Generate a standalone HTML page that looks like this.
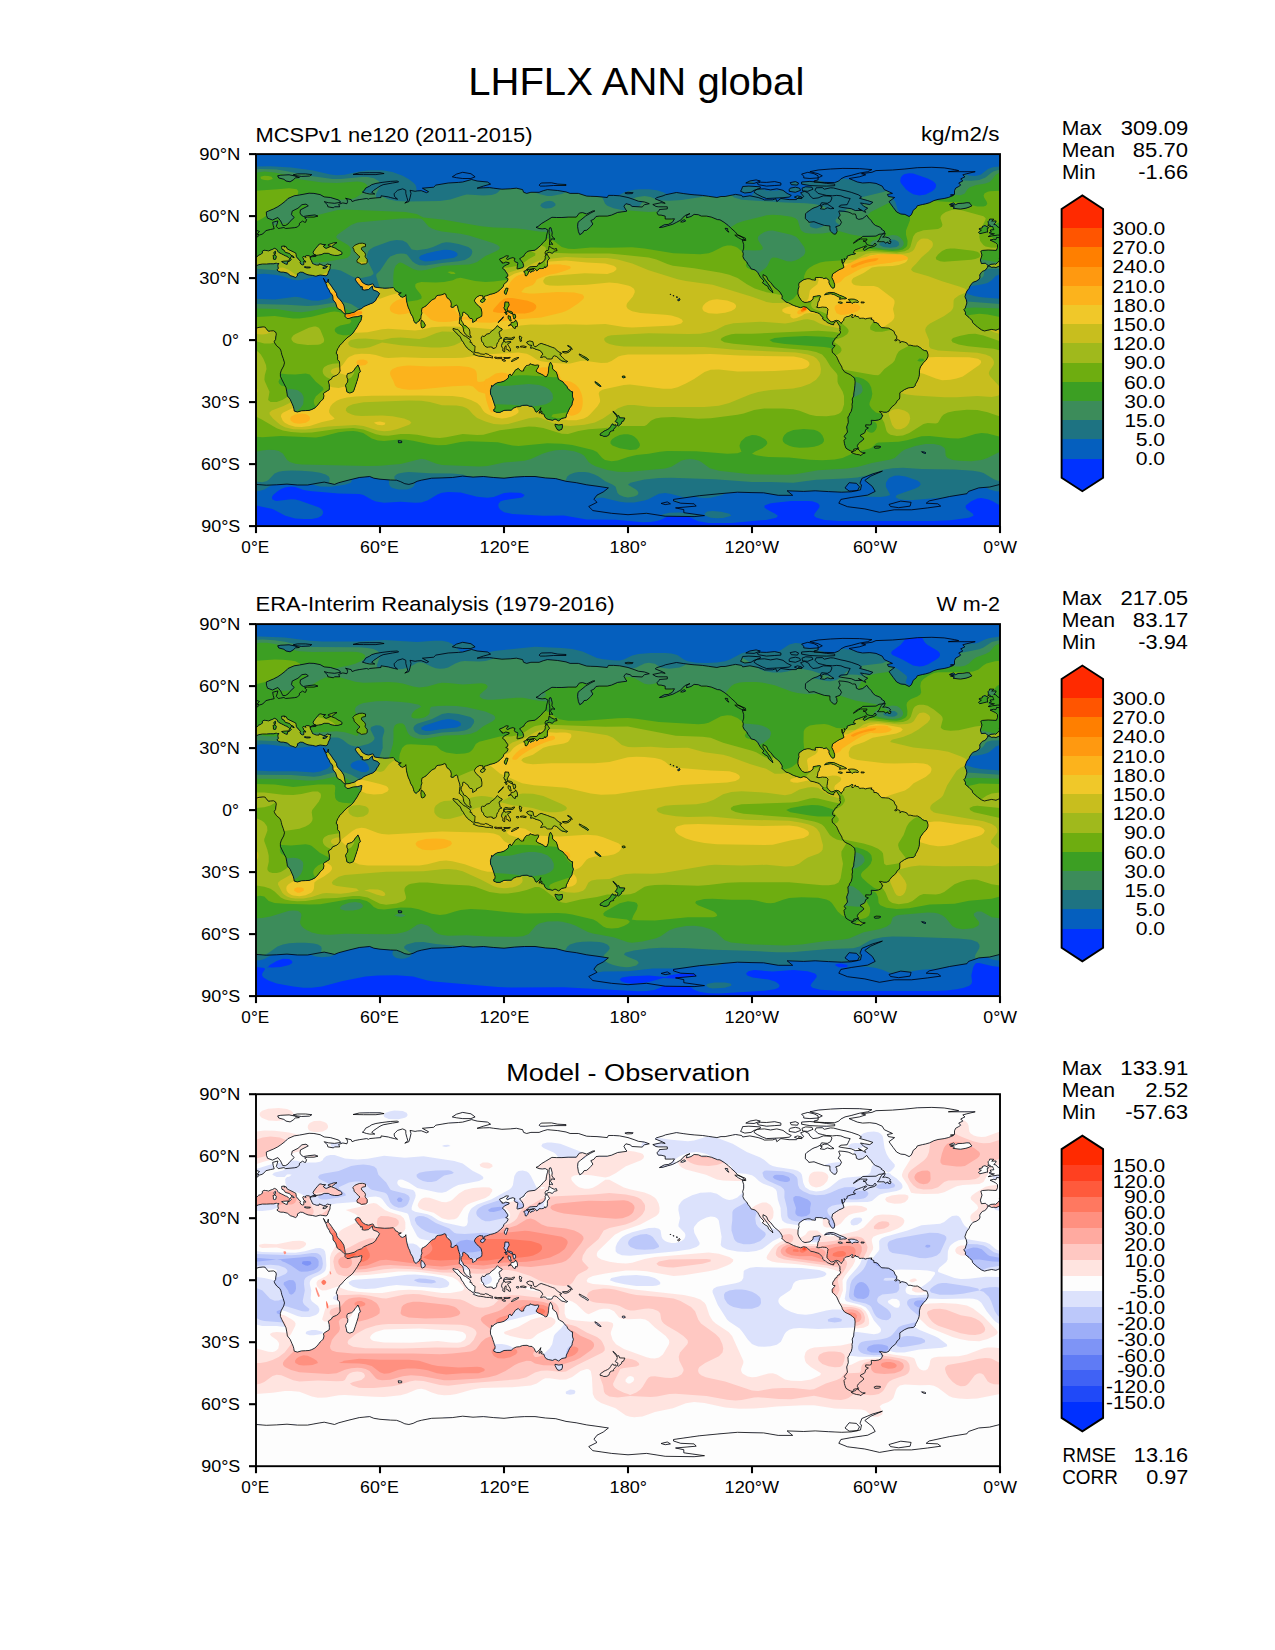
<!DOCTYPE html>
<html><head><meta charset="utf-8"><title>LHFLX ANN global</title>
<style>html,body{margin:0;padding:0;background:#fff}body{width:1275px;height:1650px;overflow:hidden}svg{display:block}text{font-family:"Liberation Sans",sans-serif}</style></head>
<body>
<svg width="1275" height="1650" viewBox="0 0 1275 1650">
<rect width="1275" height="1650" fill="#fff"/>
<defs></defs>
<clipPath id="axc0"><rect x="256.00" y="154.10" width="744.00" height="372.00"/></clipPath>
<g clip-path="url(#axc0)"><g transform="translate(256.00 154.10)">
<clipPath id="land"><path d="M66.8 121.3 64.1 120.9 62.0 121.5 59.9 122.1 56.4 121.3 52.1 120.7 49.6 119.7 46.7 118.2 44.4 118.0 41.5 119.7 41.3 121.9 39.7 123.4 36.8 122.3 34.3 121.5 31.4 119.0 27.3 118.0 24.8 118.0 22.9 117.4 20.9 115.9 22.3 114.3 21.9 112.0 21.9 110.8 22.9 109.3 21.3 109.7 20.5 108.9 17.8 109.7 16.1 109.7 14.3 109.7 10.5 109.9 6.4 109.9 2.7 110.6 -1.2 112.2 -4.1 113.5 -6.0 113.0 -8.3 113.3 -11.0 111.8 -12.2 112.0 -12.8 113.7 -14.1 115.5 -15.7 116.6 -17.6 117.2 -19.0 118.8 -20.3 120.9 -20.0 123.0 -20.7 125.0 -23.8 127.1 -26.9 128.1 -27.9 129.2 -30.0 131.9 -31.0 134.3 -33.1 137.0 -34.1 139.5 -35.1 142.6 -33.7 145.7 -33.1 148.8 -34.1 151.9 -34.7 154.0 -36.2 155.6 -34.5 158.1 -34.7 160.2 -33.1 161.6 -31.0 163.3 -30.0 164.3 -27.9 166.4 -27.3 168.4 -24.8 170.9 -22.3 173.0 -18.6 175.7 -15.5 176.9 -12.4 176.1 -8.3 175.3 -6.2 175.7 -4.1 176.1 -2.1 175.3 0.0 174.2 3.1 173.2 7.0 172.8 9.1 173.0 10.3 174.6 12.4 177.1 14.5 176.9 17.6 176.7 19.6 177.9 20.3 179.8 19.8 182.9 19.6 185.4 18.2 187.4 18.6 188.7 20.7 191.8 23.8 194.3 24.8 196.3 25.4 198.4 25.8 200.5 27.3 204.6 28.5 208.7 27.7 211.8 25.4 216.0 24.4 219.1 24.4 222.2 25.8 225.3 27.9 229.4 30.0 233.5 30.8 237.7 31.4 241.8 34.1 245.1 35.8 249.0 37.2 252.1 37.8 254.2 38.2 256.9 41.3 257.9 45.5 256.7 49.6 256.5 53.1 256.3 55.8 255.4 58.9 253.8 62.0 250.7 64.1 247.8 65.1 247.0 67.2 244.9 68.0 241.8 67.4 239.7 68.2 238.7 73.2 235.6 73.4 233.5 73.2 230.4 72.3 226.9 75.4 224.9 76.5 222.8 80.6 221.1 82.7 219.5 84.1 217.0 83.9 214.9 83.7 210.8 83.5 207.7 81.6 205.6 81.6 202.5 81.2 200.1 80.2 199.4 80.6 197.4 81.8 194.5 82.7 193.2 83.7 191.2 85.8 189.5 87.8 187.0 90.9 183.9 93.6 181.9 95.1 180.8 97.1 178.8 99.2 175.7 101.3 172.6 102.9 169.5 105.0 166.4 105.4 164.3 106.0 161.6 105.4 161.4 101.3 162.6 97.1 162.9 93.0 164.3 90.9 164.3 88.9 162.2 89.3 160.2 87.8 159.1 84.7 156.0 82.7 155.0 81.2 153.8 79.6 148.8 77.1 145.7 76.9 142.6 76.1 140.5 74.0 138.5 73.4 136.4 71.3 133.3 70.3 130.2 69.2 128.1 67.4 124.2Z M810.8 121.3 808.1 120.9 806.0 121.5 803.9 122.1 800.4 121.3 796.1 120.7 793.6 119.7 790.7 118.2 788.4 118.0 785.5 119.7 785.3 121.9 783.7 123.4 780.8 122.3 778.3 121.5 775.4 119.0 771.3 118.0 768.8 118.0 766.9 117.4 764.9 115.9 766.3 114.3 765.9 112.0 765.9 110.8 766.9 109.3 765.3 109.7 764.5 108.9 761.8 109.7 760.1 109.7 758.3 109.7 754.5 109.9 750.4 109.9 746.7 110.6 742.8 112.2 739.9 113.5 738.0 113.0 735.7 113.3 733.0 111.8 731.8 112.0 731.2 113.7 729.9 115.5 728.3 116.6 726.4 117.2 725.0 118.8 723.7 120.9 724.0 123.0 723.3 125.0 720.2 127.1 717.1 128.1 716.1 129.2 714.0 131.9 713.0 134.3 710.9 137.0 709.9 139.5 708.9 142.6 710.3 145.7 710.9 148.8 709.9 151.9 709.3 154.0 707.8 155.6 709.5 158.1 709.3 160.2 710.9 161.6 713.0 163.3 714.0 164.3 716.1 166.4 716.7 168.4 719.2 170.9 721.7 173.0 725.4 175.7 728.5 176.9 731.6 176.1 735.7 175.3 737.8 175.7 739.9 176.1 741.9 175.3 744.0 174.2 747.1 173.2 751.0 172.8 753.1 173.0 754.3 174.6 756.4 177.1 758.5 176.9 761.6 176.7 763.6 177.9 764.3 179.8 763.8 182.9 763.6 185.4 762.2 187.4 762.6 188.7 764.7 191.8 767.8 194.3 768.8 196.3 769.4 198.4 769.8 200.5 771.3 204.6 772.5 208.7 771.7 211.8 769.4 216.0 768.4 219.1 768.4 222.2 769.8 225.3 771.9 229.4 774.0 233.5 774.8 237.7 775.4 241.8 778.1 245.1 779.8 249.0 781.2 252.1 781.8 254.2 782.2 256.9 785.3 257.9 789.5 256.7 793.6 256.5 797.1 256.3 799.8 255.4 802.9 253.8 806.0 250.7 808.1 247.8 809.1 247.0 811.2 244.9 812.0 241.8 811.4 239.7 812.2 238.7 817.2 235.6 817.4 233.5 817.2 230.4 816.3 226.9 819.4 224.9 820.5 222.8 824.6 221.1 826.7 219.5 828.1 217.0 827.9 214.9 827.7 210.8 827.5 207.7 825.6 205.6 825.6 202.5 825.2 200.1 824.2 199.4 824.6 197.4 825.8 194.5 826.7 193.2 827.7 191.2 829.8 189.5 831.8 187.0 834.9 183.9 837.6 181.9 839.1 180.8 841.1 178.8 843.2 175.7 845.3 172.6 846.9 169.5 849.0 166.4 849.4 164.3 850.0 161.6 849.4 161.4 845.3 162.6 841.1 162.9 837.0 164.3 834.9 164.3 832.9 162.2 833.3 160.2 831.8 159.1 828.7 156.0 826.7 155.0 825.2 153.8 823.6 148.8 821.1 145.7 820.9 142.6 820.1 140.5 818.0 138.5 817.4 136.4 815.3 133.3 814.3 130.2 813.2 128.1 811.4 124.2Z M67.4 124.2 68.2 125.4 69.2 127.3 70.7 128.8 71.1 128.1 71.7 127.1 72.3 125.0 72.3 128.1 73.4 129.2 75.6 132.3 76.9 134.3 78.5 136.4 80.6 139.5 80.8 141.6 82.0 143.6 84.1 145.7 85.8 147.8 87.8 150.9 88.0 151.9 88.5 154.0 88.7 155.4 89.3 158.5 89.9 159.8 93.0 159.5 98.2 158.1 101.5 156.0 102.3 155.6 105.4 154.6 107.9 152.5 111.6 150.9 114.1 149.8 116.8 148.8 119.2 146.9 119.5 146.7 120.9 143.8 121.9 142.6 123.6 139.5 121.1 137.2 117.4 136.0 116.6 134.3 116.4 131.9 114.3 133.7 112.6 135.4 108.5 136.0 106.0 135.4 106.6 133.7 105.8 132.1 105.0 133.3 103.7 131.2 102.3 129.8 100.2 127.1 99.2 125.0 100.2 124.0 101.3 123.2 103.3 123.6 105.0 126.1 106.4 128.3 109.5 130.2 112.6 131.0 116.4 129.8 117.4 130.2 118.4 132.9 121.9 133.5 126.1 133.9 128.8 134.1 133.3 133.9 137.4 133.5 138.5 134.7 139.5 136.6 141.6 137.4 142.6 138.9 145.3 138.7 142.6 139.9 143.8 141.4 144.7 142.6 146.7 143.2 149.2 142.0 149.8 140.5 150.0 142.2 150.2 143.6 150.5 146.7 151.5 150.9 152.5 154.0 153.6 156.0 154.6 159.3 156.7 162.6 157.5 165.3 158.1 167.6 160.2 169.3 161.6 167.6 163.3 166.8 163.7 164.9 165.1 164.7 164.9 164.5 165.1 161.2 166.0 158.9 165.5 157.1 166.0 154.0 167.8 153.1 170.1 151.7 172.2 149.4 175.7 146.1 177.3 145.1 178.8 144.7 179.8 143.0 180.8 141.6 182.3 141.2 185.0 140.9 187.0 140.3 188.1 139.5 189.7 139.9 190.5 142.6 191.8 144.3 193.2 145.1 194.7 147.1 195.3 149.8 194.9 152.9 197.0 153.3 198.8 151.7 200.3 150.9 201.7 151.9 201.7 152.5 202.1 155.0 202.9 157.5 203.8 160.2 204.0 162.2 203.8 164.9 203.4 167.4 203.2 169.5 203.6 169.5 205.2 170.9 206.9 172.6 207.3 174.6 207.9 177.7 209.4 180.0 211.4 181.7 213.7 183.1 215.3 183.1 213.9 180.6 213.9 177.7 213.3 175.3 211.4 173.2 210.2 171.9 207.7 170.9 206.7 168.4 205.6 167.0 205.0 165.3 205.2 163.3 206.7 161.2 206.7 158.5 207.7 158.1 208.5 158.3 210.4 159.8 211.8 160.8 212.9 162.9 214.1 164.3 216.0 164.5 216.8 165.7 216.6 168.2 217.6 168.0 220.3 166.2 220.7 164.5 221.1 164.5 223.6 163.3 225.7 162.0 225.9 160.2 225.9 158.1 225.1 154.6 223.8 152.9 222.4 151.9 220.1 149.4 218.7 147.4 218.4 146.7 219.1 144.9 220.7 143.0 223.6 141.4 225.5 141.6 226.7 141.6 227.1 144.0 228.0 144.0 228.4 142.2 230.6 141.6 232.5 140.9 234.6 140.1 236.0 139.9 238.7 139.1 241.4 137.8 244.3 135.4 245.9 133.9 247.2 132.3 248.0 130.2 250.1 128.1 251.3 127.1 252.1 125.0 251.7 124.2 249.7 123.4 250.7 122.8 251.9 121.9 251.7 120.3 249.9 117.8 248.6 115.7 246.6 114.3 247.0 113.3 248.6 111.6 253.0 109.7 253.2 108.7 249.7 107.9 248.0 108.9 245.9 108.9 246.3 107.9 244.9 107.5 243.5 105.0 247.2 103.5 250.1 101.7 252.5 101.9 252.1 102.3 250.5 104.4 251.3 105.6 254.2 104.2 256.9 103.5 259.0 104.4 258.3 106.4 259.4 107.9 261.6 108.5 261.8 109.5 261.4 111.6 261.0 114.1 261.4 114.9 264.5 114.1 266.8 113.5 267.6 111.6 267.0 109.1 265.2 106.4 263.5 104.8 265.6 103.3 268.0 101.7 268.7 100.2 270.1 98.6 270.7 98.0 272.8 96.9 279.0 96.1 282.1 93.6 285.2 90.9 287.3 88.2 290.0 85.8 290.4 82.7 291.0 79.6 291.4 78.5 292.0 76.1 289.3 74.4 286.2 74.8 283.1 74.4 280.0 73.2 282.1 72.3 285.6 69.4 289.3 67.2 295.9 63.2 300.7 63.4 305.9 63.4 312.1 63.0 320.3 63.0 323.4 58.9 326.5 58.5 330.7 59.9 336.9 56.8 338.9 56.8 334.8 58.9 329.6 62.0 324.5 66.1 322.0 68.2 321.6 72.3 322.4 77.5 323.8 80.6 326.5 78.9 328.0 76.5 330.7 76.1 333.8 73.4 334.8 72.3 336.9 69.9 334.8 66.5 337.9 65.1 340.0 62.4 343.1 62.0 351.3 62.0 355.5 61.0 361.7 58.3 370.3 57.2 371.0 56.8 369.9 55.8 367.9 52.1 369.9 49.6 374.1 50.6 376.1 52.3 386.1 52.9 388.5 50.6 393.3 49.6 388.5 47.9 382.3 47.1 378.2 45.5 372.0 43.4 363.7 41.7 357.5 41.3 352.4 41.3 351.3 43.4 341.0 42.4 334.8 42.2 330.7 42.0 322.4 39.3 314.1 39.3 310.0 37.8 301.7 36.4 291.4 35.5 287.3 36.6 283.1 38.2 274.9 38.2 270.7 39.3 267.6 38.2 266.6 35.5 260.4 34.1 254.2 34.7 245.9 35.1 237.7 34.1 233.5 33.5 227.3 33.7 221.1 34.1 227.3 32.0 234.6 30.0 231.5 27.9 221.1 26.9 215.6 25.4 206.7 27.9 202.5 28.3 192.2 28.9 179.8 31.0 177.7 33.1 166.4 34.1 172.6 37.6 170.5 38.6 165.3 36.6 161.2 36.8 159.1 37.2 154.0 36.2 155.0 39.3 154.0 43.8 152.9 47.5 148.8 49.0 151.9 46.5 150.9 43.4 149.8 39.3 149.8 36.2 146.7 34.7 141.6 36.2 139.5 38.2 138.1 39.7 138.5 42.4 141.6 45.1 138.5 44.4 134.3 43.4 132.3 42.8 125.0 41.7 125.0 43.4 119.9 43.8 113.7 44.4 112.6 45.1 110.6 44.4 103.3 45.5 99.2 46.3 96.1 47.5 95.1 45.5 89.5 44.2 90.9 44.8 91.6 47.5 90.9 49.6 86.8 48.8 82.7 50.2 83.7 52.7 78.5 52.7 77.5 53.7 71.9 52.7 71.3 50.6 68.2 47.5 72.3 48.6 78.5 49.2 84.7 48.2 82.7 45.9 74.4 43.4 68.2 42.8 64.1 40.5 57.9 39.3 53.1 39.1 43.4 40.9 38.2 41.7 32.0 44.4 29.6 46.9 24.8 50.6 21.7 52.7 17.6 54.8 12.8 56.8 10.3 57.9 10.5 61.2 11.6 64.1 16.5 65.9 21.9 63.4 24.6 66.8 26.7 71.3 29.3 71.5 32.0 69.9 34.1 67.2 38.2 63.4 35.5 60.6 36.2 57.0 42.0 54.1 45.9 50.6 50.0 50.0 52.3 51.7 44.4 55.8 44.0 58.9 45.5 61.2 47.5 62.4 51.7 61.6 58.9 60.8 62.0 62.0 57.9 63.0 51.3 63.0 48.6 63.7 50.6 65.5 49.6 68.2 48.6 68.2 46.5 67.0 43.4 69.2 43.4 70.9 41.3 73.0 38.4 73.6 29.6 74.4 27.9 73.4 24.8 74.0 22.3 74.4 20.3 72.3 21.3 69.2 21.9 66.8 16.7 68.2 17.2 71.3 18.2 74.6 14.5 75.4 9.9 76.5 8.3 78.5 6.0 80.2 3.7 80.8 0.2 83.7 -3.3 83.3 -4.1 85.6 -6.2 85.1 -9.9 86.0 -4.5 88.5 -2.5 90.5 -2.5 93.6 -3.7 96.3 -7.9 96.1 -11.8 95.9 -17.4 96.3 -19.2 97.1 -18.0 100.9 -19.6 106.0 -18.6 109.5 -14.5 109.1 -13.0 110.6 -11.6 111.6 -11.2 111.4 -9.1 110.2 -5.2 109.9 -4.5 110.2 -2.1 108.3 -1.0 106.8 0.4 106.0 -0.6 104.4 1.7 101.9 2.5 101.1 4.5 100.4 6.8 98.6 6.2 98.2 6.4 97.1 8.1 96.1 9.3 96.3 11.2 96.5 12.4 96.9 15.1 95.7 16.5 95.3 18.4 94.2 20.3 94.9 21.3 96.1 21.7 97.1 22.9 98.4 25.2 99.6 27.9 100.9 29.3 101.7 30.6 102.1 32.4 103.3 33.5 104.4 33.1 106.0 32.4 107.7 34.1 106.6 35.3 105.4 34.3 104.0 35.5 102.3 38.0 103.7 38.2 103.1 37.2 102.1 34.9 101.1 33.5 99.4 29.3 98.2 27.9 95.9 26.0 95.1 25.6 93.4 25.6 92.2 28.5 91.8 28.1 93.0 30.0 92.4 31.4 94.9 33.9 96.1 38.2 98.2 39.9 99.2 40.1 100.4 40.3 102.3 41.7 104.4 43.0 105.4 43.6 106.6 44.6 107.1 44.0 108.1 44.8 109.9 46.3 110.8 47.7 110.6 47.9 108.7 47.5 107.5 49.0 107.7 49.6 108.1 49.6 107.1 47.5 105.6 47.5 104.8 46.7 103.3 47.3 102.3 48.4 102.7 50.2 103.1 49.2 102.3 50.4 101.5 53.5 101.7 53.9 102.1 54.1 103.2 55.2 102.3 56.8 101.3 59.7 101.3 59.9 100.9 57.9 100.2 57.0 98.2 57.9 96.7 59.3 94.7 61.4 92.2 63.4 89.9 65.1 89.7 66.1 90.3 69.6 90.5 69.4 90.9 67.2 92.2 69.0 93.8 70.3 94.2 73.2 93.0 75.2 92.2 72.3 91.6 72.3 90.5 75.4 89.5 77.5 88.7 81.0 88.5 79.2 89.5 77.5 90.9 75.6 92.6 78.1 93.6 79.6 94.2 82.0 95.9 84.7 97.1 85.8 98.2 86.0 100.0 82.0 101.3 78.5 101.3 75.0 100.6 72.3 99.2 68.2 99.2 65.1 100.6 62.6 100.9 59.9 101.3 59.9 102.3 56.8 102.5 54.1 102.9 54.4 104.8 55.4 106.6 56.6 109.5 58.3 110.2 60.3 111.0 63.0 111.0 63.4 109.7 67.8 111.6 69.6 111.2 71.5 109.9 73.4 110.4 74.8 110.4 74.0 112.6 74.0 114.7 73.4 115.9 72.3 118.2 71.9 119.7 70.9 121.3 69.9 121.7 66.8 121.3Z M811.4 124.2 812.2 125.4 813.2 127.3 814.7 128.8 815.1 128.1 815.7 127.1 816.3 125.0 816.3 128.1 817.4 129.2 819.6 132.3 820.9 134.3 822.5 136.4 824.6 139.5 824.8 141.6 826.0 143.6 828.1 145.7 829.8 147.8 831.8 150.9 832.0 151.9 832.5 154.0 832.7 155.4 833.3 158.5 833.9 159.8 837.0 159.5 842.2 158.1 845.5 156.0 846.3 155.6 849.4 154.6 851.9 152.5 855.6 150.9 858.1 149.8 860.8 148.8 863.2 146.9 863.5 146.7 864.9 143.8 865.9 142.6 867.6 139.5 865.1 137.2 861.4 136.0 860.6 134.3 860.4 131.9 858.3 133.7 856.6 135.4 852.5 136.0 850.0 135.4 850.6 133.7 849.8 132.1 849.0 133.3 847.7 131.2 846.3 129.8 844.2 127.1 843.2 125.0 844.2 124.0 845.3 123.2 847.3 123.6 849.0 126.1 850.4 128.3 853.5 130.2 856.6 131.0 860.4 129.8 861.4 130.2 862.4 132.9 865.9 133.5 870.1 133.9 872.8 134.1 877.3 133.9 881.4 133.5 882.5 134.7 883.5 136.6 885.6 137.4 886.6 138.9 889.3 138.7 886.6 139.9 887.8 141.4 888.7 142.6 890.7 143.2 893.2 142.0 893.8 140.5 894.0 142.2 894.2 143.6 894.5 146.7 895.5 150.9 896.5 154.0 897.6 156.0 898.6 159.3 900.7 162.6 901.5 165.3 902.1 167.6 904.2 169.3 905.6 167.6 907.3 166.8 907.7 164.9 909.1 164.7 908.9 164.5 909.1 161.2 910.0 158.9 909.5 157.1 910.0 154.0 911.8 153.1 914.1 151.7 916.2 149.4 919.7 146.1 921.3 145.1 922.8 144.7 923.8 143.0 924.8 141.6 926.3 141.2 929.0 140.9 931.0 140.3 932.1 139.5 933.7 139.9 934.5 142.6 935.8 144.3 937.2 145.1 938.7 147.1 939.3 149.8 938.9 152.9 941.0 153.3 942.8 151.7 944.3 150.9 945.7 151.9 945.7 152.5 946.1 155.0 946.9 157.5 947.8 160.2 948.0 162.2 947.8 164.9 947.4 167.4 947.2 169.5 947.6 169.5 949.2 170.9 950.9 172.6 951.3 174.6 951.9 177.7 953.4 180.0 955.4 181.7 957.7 183.1 959.3 183.1 957.9 180.6 957.9 177.7 957.3 175.3 955.4 173.2 954.2 171.9 951.7 170.9 950.7 168.4 949.6 167.0 949.0 165.3 949.2 163.3 950.7 161.2 950.7 158.5 951.7 158.1 952.5 158.3 954.4 159.8 955.8 160.8 956.9 162.9 958.1 164.3 960.0 164.5 960.8 165.7 960.6 168.2 961.6 168.0 964.3 166.2 964.7 164.5 965.1 164.5 967.6 163.3 969.7 162.0 969.9 160.2 969.9 158.1 969.1 154.6 967.8 152.9 966.4 151.9 964.1 149.4 962.7 147.4 962.4 146.7 963.1 144.9 964.7 143.0 967.6 141.4 969.5 141.6 970.7 141.6 971.1 144.0 972.0 144.0 972.4 142.2 974.6 141.6 976.5 140.9 978.6 140.1 980.0 139.9 982.7 139.1 985.4 137.8 988.3 135.4 989.9 133.9 991.2 132.3 992.0 130.2 994.1 128.1 995.3 127.1 996.1 125.0 995.7 124.2 993.7 123.4 994.7 122.8 995.9 121.9 995.7 120.3 993.9 117.8 992.6 115.7 990.6 114.3 991.0 113.3 992.6 111.6 997.0 109.7 997.2 108.7 993.7 107.9 992.0 108.9 989.9 108.9 990.3 107.9 988.9 107.5 987.5 105.0 991.2 103.5 994.1 101.7 996.5 101.9 996.1 102.3 994.5 104.4 995.3 105.6 998.2 104.2 1000.9 103.5 1003.0 104.4 1002.3 106.4 1003.4 107.9 1005.6 108.5 1005.8 109.5 1005.4 111.6 1005.0 114.1 1005.4 114.9 1008.5 114.1 1010.8 113.5 1011.6 111.6 1011.0 109.1 1009.2 106.4 1007.5 104.8 1009.6 103.3 1012.0 101.7 1012.7 100.2 1014.1 98.6 1014.7 98.0 1016.8 96.9 1023.0 96.1 1026.1 93.6 1029.2 90.9 1031.3 88.2 1034.0 85.8 1034.4 82.7 1035.0 79.6 1035.4 78.5 1036.0 76.1 1033.3 74.4 1030.2 74.8 1027.1 74.4 1024.0 73.2 1026.1 72.3 1029.6 69.4 1033.3 67.2 1039.9 63.2 1044.7 63.4 1049.9 63.4 1056.1 63.0 1064.3 63.0 1067.4 58.9 1070.5 58.5 1074.7 59.9 1080.9 56.8 1082.9 56.8 1078.8 58.9 1073.6 62.0 1068.5 66.1 1066.0 68.2 1065.6 72.3 1066.4 77.5 1067.8 80.6 1070.5 78.9 1072.0 76.5 1074.7 76.1 1077.8 73.4 1078.8 72.3 1080.9 69.9 1078.8 66.5 1081.9 65.1 1084.0 62.4 1087.1 62.0 1095.3 62.0 1099.5 61.0 1105.7 58.3 1114.3 57.2 1115.0 56.8 1113.9 55.8 1111.9 52.1 1113.9 49.6 1118.1 50.6 1120.1 52.3 1130.1 52.9 1132.5 50.6 1137.3 49.6 1132.5 47.9 1126.3 47.1 1122.2 45.5 1116.0 43.4 1107.7 41.7 1101.5 41.3 1096.4 41.3 1095.3 43.4 1085.0 42.4 1078.8 42.2 1074.7 42.0 1066.4 39.3 1058.1 39.3 1054.0 37.8 1045.7 36.4 1035.4 35.5 1031.3 36.6 1027.1 38.2 1018.9 38.2 1014.7 39.3 1011.6 38.2 1010.6 35.5 1004.4 34.1 998.2 34.7 989.9 35.1 981.7 34.1 977.5 33.5 971.3 33.7 965.1 34.1 971.3 32.0 978.6 30.0 975.5 27.9 965.1 26.9 959.6 25.4 950.7 27.9 946.5 28.3 936.2 28.9 923.8 31.0 921.7 33.1 910.4 34.1 916.6 37.6 914.5 38.6 909.3 36.6 905.2 36.8 903.1 37.2 898.0 36.2 899.0 39.3 898.0 43.8 896.9 47.5 892.8 49.0 895.9 46.5 894.9 43.4 893.8 39.3 893.8 36.2 890.7 34.7 885.6 36.2 883.5 38.2 882.1 39.7 882.5 42.4 885.6 45.1 882.5 44.4 878.3 43.4 876.3 42.8 869.0 41.7 869.0 43.4 863.9 43.8 857.7 44.4 856.6 45.1 854.6 44.4 847.3 45.5 843.2 46.3 840.1 47.5 839.1 45.5 833.5 44.2 834.9 44.8 835.6 47.5 834.9 49.6 830.8 48.8 826.7 50.2 827.7 52.7 822.5 52.7 821.5 53.7 815.9 52.7 815.3 50.6 812.2 47.5 816.3 48.6 822.5 49.2 828.7 48.2 826.7 45.9 818.4 43.4 812.2 42.8 808.1 40.5 801.9 39.3 797.1 39.1 787.4 40.9 782.2 41.7 776.0 44.4 773.6 46.9 768.8 50.6 765.7 52.7 761.6 54.8 756.8 56.8 754.3 57.9 754.5 61.2 755.6 64.1 760.5 65.9 765.9 63.4 768.6 66.8 770.7 71.3 773.3 71.5 776.0 69.9 778.1 67.2 782.2 63.4 779.5 60.6 780.2 57.0 786.0 54.1 789.9 50.6 794.0 50.0 796.3 51.7 788.4 55.8 788.0 58.9 789.5 61.2 791.5 62.4 795.7 61.6 802.9 60.8 806.0 62.0 801.9 63.0 795.3 63.0 792.6 63.7 794.6 65.5 793.6 68.2 792.6 68.2 790.5 67.0 787.4 69.2 787.4 70.9 785.3 73.0 782.4 73.6 773.6 74.4 771.9 73.4 768.8 74.0 766.3 74.4 764.3 72.3 765.3 69.2 765.9 66.8 760.7 68.2 761.2 71.3 762.2 74.6 758.5 75.4 753.9 76.5 752.3 78.5 750.0 80.2 747.7 80.8 744.2 83.7 740.7 83.3 739.9 85.6 737.8 85.1 734.1 86.0 739.5 88.5 741.5 90.5 741.5 93.6 740.3 96.3 736.1 96.1 732.2 95.9 726.6 96.3 724.8 97.1 726.0 100.9 724.4 106.0 725.4 109.5 729.5 109.1 731.0 110.6 732.4 111.6 732.8 111.4 734.9 110.2 738.8 109.9 739.5 110.2 741.9 108.3 743.0 106.8 744.4 106.0 743.4 104.4 745.7 101.9 746.5 101.1 748.5 100.4 750.8 98.6 750.2 98.2 750.4 97.1 752.1 96.1 753.3 96.3 755.2 96.5 756.4 96.9 759.1 95.7 760.5 95.3 762.4 94.2 764.3 94.9 765.3 96.1 765.7 97.1 766.9 98.4 769.2 99.6 771.9 100.9 773.3 101.7 774.6 102.1 776.4 103.3 777.5 104.4 777.1 106.0 776.4 107.7 778.1 106.6 779.3 105.4 778.3 104.0 779.5 102.3 782.0 103.7 782.2 103.1 781.2 102.1 778.9 101.1 777.5 99.4 773.3 98.2 771.9 95.9 770.0 95.1 769.6 93.4 769.6 92.2 772.5 91.8 772.1 93.0 774.0 92.4 775.4 94.9 777.9 96.1 782.2 98.2 783.9 99.2 784.1 100.4 784.3 102.3 785.7 104.4 787.0 105.4 787.6 106.6 788.6 107.1 788.0 108.1 788.8 109.9 790.3 110.8 791.7 110.6 791.9 108.7 791.5 107.5 793.0 107.7 793.6 108.1 793.6 107.1 791.5 105.6 791.5 104.8 790.7 103.3 791.3 102.3 792.4 102.7 794.2 103.1 793.2 102.3 794.4 101.5 797.5 101.7 797.9 102.1 798.1 103.2 799.2 102.3 800.8 101.3 803.7 101.3 803.9 100.9 801.9 100.2 801.0 98.2 801.9 96.7 803.3 94.7 805.4 92.2 807.4 89.9 809.1 89.7 810.1 90.3 813.6 90.5 813.4 90.9 811.2 92.2 813.0 93.8 814.3 94.2 817.2 93.0 819.2 92.2 816.3 91.6 816.3 90.5 819.4 89.5 821.5 88.7 825.0 88.5 823.2 89.5 821.5 90.9 819.6 92.6 822.1 93.6 823.6 94.2 826.0 95.9 828.7 97.1 829.8 98.2 830.0 100.0 826.0 101.3 822.5 101.3 819.0 100.6 816.3 99.2 812.2 99.2 809.1 100.6 806.6 100.9 803.9 101.3 803.9 102.3 800.8 102.5 798.1 102.9 798.4 104.8 799.4 106.6 800.6 109.5 802.3 110.2 804.3 111.0 807.0 111.0 807.4 109.7 811.8 111.6 813.6 111.2 815.5 109.9 817.4 110.4 818.8 110.4 818.0 112.6 818.0 114.7 817.4 115.9 816.3 118.2 815.9 119.7 814.9 121.3 813.9 121.7 810.8 121.3Z M-11.8 82.5 -8.5 82.0 -7.2 81.6 -5.0 81.4 -2.7 81.0 0.0 81.0 2.9 80.4 1.4 79.6 2.1 78.9 3.5 77.3 1.0 76.5 0.4 76.7 0.0 75.2 -0.4 74.2 -1.2 73.4 -2.9 72.3 -4.1 70.7 -6.2 70.3 -5.6 69.6 -4.1 68.0 -3.9 66.8 -8.3 67.0 -6.2 65.1 -10.3 64.9 -10.7 66.3 -12.0 67.6 -11.6 69.2 -12.0 71.7 -10.1 70.7 -9.7 71.5 -10.5 72.5 -7.2 72.5 -7.0 73.4 -6.6 74.2 -6.2 75.6 -8.9 75.8 -9.5 75.8 -9.7 76.9 -8.5 77.7 -11.0 78.7 -8.3 79.4 -6.6 79.6 -5.6 79.6 -6.8 80.2 -8.7 80.2 -9.5 81.0 -10.5 81.8Z M732.2 82.5 735.5 82.0 736.8 81.6 739.0 81.4 741.3 81.0 744.0 81.0 746.9 80.4 745.4 79.6 746.1 78.9 747.5 77.3 745.0 76.5 744.4 76.7 744.0 75.2 743.6 74.2 742.8 73.4 741.1 72.3 739.9 70.7 737.8 70.3 738.4 69.6 739.9 68.0 740.1 66.8 735.7 67.0 737.8 65.1 733.7 64.9 733.3 66.3 732.0 67.6 732.4 69.2 732.0 71.7 733.9 70.7 734.3 71.5 733.5 72.5 736.8 72.5 737.0 73.4 737.4 74.2 737.8 75.6 735.1 75.8 734.5 75.8 734.3 76.9 735.5 77.7 733.0 78.7 735.7 79.4 737.4 79.6 738.4 79.6 737.2 80.2 735.3 80.2 734.5 81.0 733.5 81.8Z M731.6 78.1 730.8 77.9 726.8 78.9 723.7 79.6 722.5 78.3 725.4 76.1 723.3 75.4 723.3 74.4 726.2 73.8 726.4 72.3 728.9 71.5 732.0 73.0 732.6 73.8 731.2 74.4 731.4 75.8Z M21.7 21.7 22.7 23.8 27.9 25.2 30.0 26.9 34.1 27.7 37.2 25.8 39.3 23.8 43.4 23.4 38.2 21.7 33.1 20.7 24.8 21.1Z M37.2 20.7 41.3 19.8 49.6 19.8 55.8 20.5 53.7 21.9 45.5 22.3 39.3 21.5Z M97.1 20.3 103.3 18.8 113.7 18.6 124.0 18.6 128.1 19.4 119.9 20.5 107.5 20.5Z M106.4 38.0 108.5 36.2 109.5 34.1 113.7 32.0 115.7 30.6 119.9 29.3 126.1 28.3 134.3 27.3 141.6 26.9 142.6 27.9 136.4 28.9 127.1 30.6 124.0 32.0 120.9 34.1 117.8 36.2 115.7 38.2 118.8 39.9 113.7 39.9 110.6 39.3Z M196.3 22.7 200.5 20.0 206.7 18.2 214.9 19.6 219.1 22.7 214.9 24.4 206.7 24.4 200.5 23.6Z M283.1 31.0 285.2 28.9 295.5 28.7 301.7 30.0 310.0 30.4 310.0 31.4 297.6 31.4 289.3 32.0 284.2 32.0Z M368.9 38.9 372.0 38.2 377.2 38.6 376.1 39.5 371.0 39.7Z M165.3 165.7 167.8 168.2 169.3 170.9 168.8 172.6 166.6 173.8 165.5 173.4 165.1 171.7 164.9 169.1Z M101.9 210.8 103.3 213.9 104.4 217.6 102.9 219.1 102.3 222.2 102.1 223.4 100.9 227.3 99.2 232.5 97.5 237.3 97.1 237.7 94.0 238.9 93.4 238.9 90.9 237.7 90.3 234.4 89.5 231.5 90.5 229.4 91.6 228.0 91.8 225.3 90.9 223.2 90.9 221.1 91.8 219.5 94.0 218.9 95.7 218.4 97.8 216.6 99.2 214.1 100.9 212.5Z M197.0 174.4 200.5 175.3 201.5 175.3 203.2 176.7 204.0 178.1 206.3 179.8 207.7 181.5 209.8 182.3 211.8 183.9 213.5 185.0 214.5 186.6 213.9 188.1 215.6 188.3 216.2 190.1 217.0 191.0 219.1 192.2 218.9 194.3 218.7 197.4 217.6 198.0 216.0 198.0 214.9 196.7 212.9 195.5 211.2 193.9 209.8 192.2 208.3 190.1 207.3 188.1 205.6 186.0 204.2 182.5 201.9 180.8 200.5 178.8 198.6 177.5 197.0 175.3Z M217.4 200.1 219.1 198.2 220.7 198.6 223.2 199.0 224.4 199.8 228.2 200.3 229.4 199.4 232.5 200.3 233.1 201.1 235.4 201.9 236.4 202.1 236.4 203.4 236.8 204.0 233.5 203.2 230.4 203.2 227.3 202.5 224.2 202.1 222.2 201.9 219.9 201.1Z M238.7 202.9 241.8 203.4 245.9 203.2 245.9 204.4 241.8 204.6 238.9 204.0Z M247.8 203.4 251.1 203.6 254.2 203.2 253.8 204.0 250.1 204.4 248.0 204.2Z M255.2 207.3 257.3 205.2 260.4 203.8 262.9 203.4 261.4 204.6 258.3 206.3 256.3 207.3Z M245.9 205.6 248.0 205.4 249.7 206.7 248.0 207.1 246.3 206.3Z M226.5 181.9 228.0 182.5 230.0 181.0 230.2 180.2 233.5 179.4 235.6 176.9 237.7 175.7 239.7 173.6 241.4 171.5 242.2 172.4 244.1 173.8 246.3 175.0 245.1 176.7 243.7 177.1 243.0 178.6 243.2 179.2 243.9 181.2 243.7 182.3 245.9 183.9 243.9 184.3 242.8 186.0 242.8 187.4 241.4 188.7 240.8 190.5 240.6 192.2 239.7 193.6 237.0 194.5 236.6 193.2 234.6 192.8 232.5 193.0 231.1 193.2 229.0 192.2 227.7 190.5 227.5 189.1 225.9 187.4 225.5 186.0 225.1 183.9 225.9 182.5Z M248.0 184.3 249.7 183.3 252.1 183.9 255.2 184.1 257.9 182.9 258.7 182.9 257.3 185.0 254.8 185.4 251.1 185.0 248.6 185.2 248.0 186.4 249.0 188.1 250.7 187.9 254.6 187.4 255.0 188.1 252.5 189.3 251.5 189.9 252.8 192.2 254.2 194.3 254.6 197.0 252.8 197.0 252.1 195.5 251.1 195.7 250.1 194.3 250.1 191.6 249.7 191.6 248.6 193.2 248.8 196.3 248.6 197.6 246.8 196.7 247.0 194.3 245.9 193.0 245.5 191.6 246.3 189.1 247.6 187.7 247.6 185.6Z M263.5 181.9 264.5 182.3 266.0 183.5 264.9 185.0 265.6 187.0 264.1 187.2 263.9 185.0 263.3 183.9Z M264.5 192.2 267.6 191.8 270.3 192.6 269.7 193.6 266.6 193.0 264.5 193.0Z M260.4 192.6 262.5 192.4 262.9 193.4 261.4 193.9 260.4 193.2Z M271.1 187.7 273.8 186.8 276.9 187.7 277.6 191.2 279.0 192.8 281.1 191.8 283.1 190.1 285.2 189.3 290.8 191.2 291.4 191.4 294.5 192.6 296.8 193.4 298.6 194.1 301.3 196.7 302.8 197.8 305.5 199.2 305.5 199.8 303.8 199.8 304.8 201.7 306.5 203.4 307.9 204.6 310.0 206.7 311.7 207.3 310.4 208.1 307.9 207.3 305.9 206.9 304.2 205.6 302.8 204.4 300.7 202.5 298.6 201.7 297.2 202.3 296.6 203.4 295.9 204.8 294.5 205.0 291.4 204.8 289.3 202.9 287.3 202.7 285.6 203.4 284.6 203.4 285.8 201.1 286.9 200.1 285.2 197.4 283.1 196.1 280.0 195.3 278.0 194.3 275.9 193.6 274.9 194.3 274.5 192.8 276.1 191.4 273.2 190.8 270.7 188.9Z M306.5 197.6 309.0 197.4 311.0 197.4 313.1 196.3 314.5 194.7 314.8 196.3 313.1 197.8 311.0 198.8 309.0 199.0 306.7 198.2Z M311.7 191.4 313.7 192.2 315.6 193.9 316.2 195.5 315.4 194.7 313.7 193.0 311.7 192.0Z M249.0 147.8 251.3 148.0 252.5 148.0 253.2 150.9 252.1 152.9 251.1 155.0 251.5 156.7 254.2 157.1 256.3 158.1 256.5 160.0 254.8 159.1 253.2 158.1 251.7 157.5 250.1 157.7 249.2 156.7 249.9 155.8 248.6 155.4 247.8 153.3 248.6 152.7 248.8 149.8Z M252.3 171.7 254.8 170.5 255.2 168.2 257.3 168.2 259.4 167.0 259.4 165.7 261.0 167.8 261.6 170.9 260.8 173.0 259.8 171.9 259.2 174.4 257.3 173.6 256.3 171.9 255.2 170.7 253.2 170.9Z M256.9 160.2 259.0 160.2 259.8 162.9 258.7 164.7 257.9 164.9 257.7 163.3 257.1 162.2Z M252.1 161.6 254.2 162.2 254.6 164.3 255.2 166.8 254.2 167.0 253.4 165.5 252.1 164.3Z M242.2 168.6 243.9 167.0 246.6 164.5 247.4 162.6 246.3 164.1 244.5 165.7 242.4 167.8Z M248.6 158.3 250.5 158.3 251.1 160.0 250.3 160.8 249.7 159.5Z M250.1 133.9 252.1 134.3 251.1 137.4 249.9 140.5 248.4 138.9 248.4 137.4 249.7 135.2Z M224.6 146.1 226.7 144.5 229.4 144.9 228.4 147.1 226.5 148.4 224.6 147.6Z M291.2 100.2 292.4 102.3 293.5 104.2 291.4 106.8 291.4 109.5 291.2 112.2 289.3 113.7 288.9 112.4 288.7 113.3 287.1 114.3 285.6 114.5 283.1 114.5 282.9 115.1 280.7 116.8 279.4 114.9 278.0 114.3 275.9 114.9 273.8 115.1 270.7 115.7 270.5 115.7 271.4 114.7 273.8 112.8 275.9 112.6 278.0 112.4 280.0 112.4 281.1 112.2 282.5 109.9 283.8 108.5 283.1 109.9 283.8 109.9 287.3 107.5 288.9 105.4 289.3 103.7 289.1 102.1 290.0 100.9Z M289.3 100.2 290.8 99.6 291.4 98.6 293.5 98.2 296.2 99.2 298.4 97.1 301.1 96.5 300.3 94.4 298.2 95.1 295.5 93.8 293.1 92.0 292.8 94.0 292.6 95.3 292.0 96.5 290.2 96.5 289.1 98.2Z M270.5 115.9 272.2 116.6 272.8 117.8 272.2 118.8 271.8 120.1 270.9 121.3 270.1 121.9 269.1 121.3 269.1 119.5 268.3 118.4 267.8 117.2 269.5 116.6Z M273.8 115.7 276.9 114.9 278.4 116.1 277.3 117.2 275.9 116.8 274.9 118.4 273.6 117.4Z M293.5 73.8 294.9 73.6 295.5 75.8 296.2 78.5 295.9 81.6 297.6 84.1 299.0 85.1 295.5 84.7 294.5 87.2 296.2 89.3 296.6 90.5 294.9 89.7 293.5 91.1 293.5 87.8 293.9 84.7 293.7 81.6 293.1 79.2 293.1 75.8Z M25.6 107.5 27.5 107.1 32.2 106.8 31.4 108.9 31.2 110.2 29.6 109.9 26.7 108.3Z M16.9 101.5 19.0 100.6 20.3 102.3 19.8 105.0 18.6 105.4 17.4 105.0 17.4 102.7Z M17.8 98.4 19.4 97.1 19.6 99.2 19.0 100.4 18.0 99.6Z M48.6 112.6 50.6 112.8 54.4 113.0 54.1 113.7 51.0 113.9 48.6 113.3Z M66.8 113.7 68.2 112.8 71.5 112.2 70.3 113.7 68.2 114.5 67.0 114.3Z M294.5 208.1 296.6 211.8 296.6 214.9 300.3 218.0 301.3 220.9 302.4 224.9 303.4 225.9 306.9 227.7 308.3 229.6 311.0 232.5 311.7 234.4 313.7 236.0 315.0 237.5 316.6 237.7 316.4 240.8 316.6 242.8 317.4 245.1 316.2 249.0 316.0 250.9 313.7 254.0 312.7 256.1 311.7 258.3 310.4 260.8 310.0 263.5 305.9 264.3 302.6 266.8 299.7 265.2 298.6 265.2 296.6 266.2 292.6 265.4 290.2 264.5 288.7 262.5 287.9 260.0 285.4 259.6 286.2 257.9 285.2 256.7 284.6 258.7 282.9 259.0 284.2 256.3 284.8 253.4 283.5 255.6 281.9 256.9 280.9 258.1 279.4 257.3 278.4 254.6 276.1 252.3 273.2 252.1 271.1 251.1 266.6 251.3 263.5 252.5 260.4 252.8 257.3 254.2 255.2 256.1 251.9 256.1 248.0 256.3 243.9 258.3 240.8 258.3 237.9 257.1 237.7 255.4 238.9 254.8 239.1 252.1 238.3 250.1 237.7 248.0 236.8 245.5 236.0 242.8 234.6 240.1 234.4 236.6 235.2 233.5 235.8 231.1 236.6 232.3 237.9 230.6 241.4 228.6 245.1 228.0 248.0 227.1 251.1 224.9 252.5 223.2 252.5 221.1 254.2 219.9 255.4 221.8 257.3 219.1 259.4 216.0 262.3 214.3 264.5 216.6 264.9 217.0 267.6 216.8 267.8 214.9 269.3 212.9 270.3 211.6 271.8 211.2 273.8 210.8 274.0 209.6 275.9 210.4 279.0 211.2 282.1 210.8 282.9 211.4 282.1 213.5 280.9 215.3 280.0 217.0 282.1 218.7 284.2 219.5 287.3 221.1 289.3 222.6 291.0 222.2 292.2 219.1 292.6 216.0 292.8 212.9 293.1 212.0 293.5 209.8Z M299.0 270.1 302.8 270.9 306.3 270.3 306.5 272.8 305.7 275.3 303.4 276.1 301.7 275.9 300.3 273.8 299.0 271.1Z M356.9 257.1 358.6 258.3 360.6 260.4 361.3 262.1 362.7 261.4 363.7 263.7 368.9 263.9 367.9 266.0 367.7 266.8 365.8 267.6 365.6 269.3 362.3 272.0 361.3 271.4 361.9 269.7 361.7 268.7 359.6 267.8 359.2 267.2 359.8 266.6 360.8 265.2 361.3 263.5 360.2 261.4 358.2 259.0Z M356.9 269.7 357.7 271.1 360.0 270.7 360.2 272.2 359.0 273.6 357.5 275.3 357.7 276.5 355.5 276.9 354.0 277.8 353.4 279.4 352.8 280.9 350.9 282.1 347.8 282.3 346.2 281.5 344.1 281.1 344.1 280.0 345.8 278.6 346.8 278.0 348.2 276.9 349.3 276.5 351.7 275.3 353.4 274.2 354.6 272.4 355.7 270.5Z M338.9 227.5 341.0 228.6 344.1 231.1 345.1 232.3 343.7 232.1 341.0 230.4 339.3 228.6Z M366.4 222.0 368.5 221.8 369.3 223.2 367.5 223.8 366.2 223.0Z M323.4 199.8 326.5 201.5 330.3 203.6 332.7 205.6 331.7 206.3 328.6 204.2 325.5 202.5 323.2 200.7Z M142.2 286.6 145.7 286.9 145.7 288.5 142.6 288.7Z M697.5 53.7 697.1 54.1 702.0 54.8 704.7 55.0 709.9 54.1 713.0 53.1 715.9 51.7 714.0 49.6 713.8 48.8 710.9 48.6 706.8 49.2 702.0 49.4 699.6 50.6 697.5 48.8 694.4 50.0 693.4 50.6 698.5 50.8 694.4 51.9 698.5 52.9Z M583.0 171.1 582.0 169.5 580.7 167.4 579.7 167.6 578.0 168.8 577.6 170.7 575.6 170.3 572.9 169.1 571.2 168.4 569.0 166.2 568.1 166.2 566.7 164.9 566.9 163.3 565.2 161.6 563.2 159.3 561.1 158.7 558.0 157.7 554.9 157.1 553.2 155.8 550.8 153.3 547.7 152.5 544.6 153.6 540.4 152.3 537.5 151.3 533.8 149.4 532.8 148.8 530.1 148.0 528.2 146.5 525.6 143.8 526.4 143.2 526.0 141.4 524.1 138.1 521.2 135.4 518.3 133.1 514.6 128.3 512.1 126.1 510.5 122.3 507.0 120.5 507.0 123.0 509.4 126.1 511.5 129.0 513.6 131.9 515.6 135.4 516.0 136.0 516.9 138.7 515.6 137.4 512.5 134.7 511.9 132.3 509.0 130.6 506.3 128.5 508.0 126.9 504.7 123.4 502.8 120.3 501.8 118.4 499.3 115.9 495.0 114.7 493.9 112.6 492.1 110.4 490.8 107.9 488.4 105.6 486.9 102.5 487.3 99.6 486.7 97.5 487.7 94.0 487.7 90.5 486.3 86.0 489.8 86.4 489.4 84.1 486.1 82.7 481.5 80.6 479.5 78.1 474.7 73.8 472.2 71.3 468.1 68.2 464.0 65.7 461.5 65.5 455.3 63.0 450.5 62.0 445.4 62.0 442.3 60.6 438.1 60.3 435.0 62.4 430.5 63.7 430.9 61.0 434.0 59.5 429.9 61.0 426.8 63.4 425.1 65.7 420.6 68.2 416.4 70.3 411.3 71.7 407.1 73.0 403.4 73.4 408.2 70.7 412.3 70.3 416.4 68.2 418.5 64.7 415.4 64.9 409.2 64.9 409.2 62.0 405.1 61.0 402.4 61.0 400.9 58.7 403.0 56.4 403.4 55.4 411.3 54.8 411.3 52.7 407.1 52.7 402.2 52.7 399.9 52.3 396.8 50.4 405.1 48.6 409.2 49.2 406.1 47.5 399.3 44.8 400.5 43.6 407.1 41.7 409.4 40.7 420.4 38.4 427.8 39.5 434.0 40.3 438.1 40.7 446.4 41.3 452.6 42.2 460.9 43.4 465.0 42.4 469.1 42.4 476.4 40.9 479.5 40.3 485.7 41.3 486.7 42.8 493.9 41.7 502.2 43.4 506.3 44.8 508.4 45.9 516.7 45.7 519.8 44.6 520.8 47.5 524.9 44.4 533.2 45.5 540.4 45.5 542.5 43.4 545.6 44.4 547.7 42.4 544.6 38.6 548.7 37.2 552.8 39.3 553.9 41.7 557.0 44.4 562.1 43.8 567.3 41.7 574.5 42.0 576.0 43.8 574.5 47.5 571.4 49.2 565.6 48.6 564.2 51.0 561.1 52.7 558.0 53.7 555.9 54.8 553.9 56.2 550.8 58.3 549.5 59.7 549.3 64.5 552.2 67.0 552.8 68.2 558.0 67.6 562.1 69.2 568.3 71.3 573.9 71.9 573.9 74.4 574.1 76.5 575.6 77.9 577.6 80.0 579.7 80.0 581.1 77.5 580.7 74.4 579.7 72.7 583.8 71.3 585.5 68.2 583.8 65.1 582.2 64.1 582.8 63.0 584.2 61.0 582.8 57.5 583.0 56.8 588.0 57.2 592.1 57.9 595.2 59.1 596.2 59.9 599.3 59.9 600.2 62.0 600.4 64.1 602.8 65.3 606.6 64.5 608.6 63.0 610.7 61.2 612.8 64.1 615.2 66.5 616.9 69.2 619.4 71.3 623.1 72.7 625.6 74.4 625.2 75.0 628.3 76.9 628.7 78.5 626.2 79.8 623.1 80.2 620.0 82.0 606.8 82.3 604.9 83.9 602.4 85.1 600.0 86.6 597.3 89.1 599.3 88.2 602.4 86.0 604.5 84.9 611.1 84.9 610.1 86.8 607.0 86.8 609.7 87.8 610.1 88.9 610.7 90.3 612.1 90.9 614.8 91.6 616.9 91.6 619.0 88.9 620.4 90.9 617.9 92.4 612.8 93.8 609.7 95.7 608.4 96.3 607.2 95.5 608.0 93.8 610.7 92.4 610.1 91.6 607.6 92.6 605.5 93.4 602.8 94.4 601.0 95.1 598.9 95.9 597.9 97.1 598.1 97.8 597.3 98.6 599.3 99.2 599.3 99.8 597.3 100.2 595.2 100.6 591.1 102.1 591.1 104.0 589.2 105.4 588.0 104.4 588.8 106.4 588.4 107.5 587.1 109.3 586.3 107.5 585.9 105.0 586.1 108.9 586.9 109.7 588.0 113.3 585.9 114.5 583.0 115.7 582.8 115.9 580.7 117.2 578.9 118.4 576.6 119.9 575.8 123.4 577.6 127.1 578.7 130.6 578.5 132.7 577.8 133.9 576.6 134.1 574.9 132.3 574.1 131.0 572.9 128.5 573.1 126.3 572.5 125.9 570.4 123.8 567.7 124.6 566.9 123.8 563.8 123.4 562.1 123.4 560.1 123.4 559.0 124.0 559.7 125.7 559.2 126.1 558.0 125.9 555.9 125.7 554.3 124.8 551.8 124.6 548.1 125.4 546.0 126.7 543.1 128.8 542.7 131.2 543.1 132.5 542.1 135.4 541.9 139.9 542.9 142.6 545.4 146.3 546.6 147.4 548.9 148.4 551.8 148.0 553.9 147.6 557.0 145.1 557.2 142.6 560.1 142.0 563.2 141.6 564.2 141.6 564.6 142.4 563.4 144.3 563.2 146.1 562.1 147.8 561.7 149.8 561.5 151.9 560.5 153.1 562.1 153.6 564.6 153.3 566.3 152.9 568.3 153.1 570.4 153.3 572.1 155.0 571.6 157.1 571.4 159.1 571.0 161.2 571.0 163.5 572.5 165.3 574.1 167.0 575.6 167.8 577.0 167.6 578.9 166.6 580.7 166.2 582.8 166.8 584.0 168.0Z M584.0 168.0 585.3 169.5 586.3 167.6 587.8 166.2 588.0 164.5 589.4 163.1 590.7 162.6 593.1 162.2 595.8 160.4 597.1 160.8 596.6 161.6 595.4 162.9 596.0 163.5 597.3 163.3 598.7 162.0 599.3 160.8 599.7 162.2 602.4 162.6 603.5 164.3 605.5 164.1 607.6 164.1 609.3 164.9 611.3 164.3 614.2 163.9 616.1 163.9 614.8 164.9 617.9 166.4 617.9 168.4 620.0 168.4 622.1 169.5 623.7 171.9 625.8 173.6 629.9 173.8 632.4 174.0 635.9 175.9 638.0 177.3 638.8 179.8 640.7 182.3 640.7 185.0 638.6 186.0 639.6 187.0 641.7 185.6 643.8 186.4 644.2 188.1 643.8 188.9 645.8 187.4 648.9 188.1 651.0 189.1 652.4 191.2 654.1 191.0 657.2 191.8 659.3 192.0 661.3 191.8 664.4 193.6 666.5 195.5 668.6 196.5 670.6 196.7 671.3 198.0 672.1 200.7 671.9 202.7 670.2 206.0 667.5 208.5 664.4 212.9 663.4 216.6 663.4 220.1 663.0 222.6 662.0 225.3 660.7 228.0 659.3 230.4 659.3 231.5 657.2 233.3 654.7 233.5 652.0 233.9 648.3 235.6 645.8 237.3 643.8 238.7 643.8 243.0 643.4 244.9 641.3 246.6 640.0 249.0 638.6 250.7 636.3 252.3 633.6 255.6 632.8 257.1 630.5 258.1 627.9 258.1 624.5 257.3 623.3 257.5 625.8 259.4 625.8 261.0 626.8 261.2 625.2 264.5 622.7 265.8 619.0 266.4 615.2 266.2 615.5 268.7 615.2 270.3 613.8 270.9 609.7 270.7 609.7 272.8 612.4 273.8 611.1 274.7 609.7 275.5 609.0 278.0 608.4 279.0 604.5 280.9 604.5 282.1 606.6 283.1 607.8 284.8 606.6 286.2 604.3 287.9 602.4 289.7 601.4 291.4 601.4 292.6 602.6 294.1 600.4 294.5 597.7 295.1 597.5 295.9 596.6 297.4 594.2 296.6 592.1 295.5 590.0 294.1 589.0 291.4 588.4 289.3 588.0 286.2 590.0 284.2 588.0 282.5 590.0 280.0 591.5 278.0 591.1 275.7 590.7 272.8 591.5 270.7 592.3 268.5 592.1 265.6 591.9 262.9 592.9 261.8 593.8 259.4 595.2 257.3 596.0 254.2 596.2 252.1 596.0 250.1 596.6 247.8 596.2 244.9 597.7 241.8 597.9 238.7 598.5 234.8 598.9 231.5 599.1 227.7 598.7 224.2 596.6 222.4 594.2 220.5 591.1 219.1 588.6 217.8 586.3 214.7 585.9 212.9 584.7 210.8 583.4 208.7 581.6 204.8 580.7 202.7 579.1 200.9 577.4 199.0 576.4 198.4 576.2 196.5 576.0 195.7 576.8 194.3 577.8 193.2 578.7 192.2 578.9 191.0 578.0 191.6 576.6 190.5 576.8 188.1 577.6 186.8 578.5 185.8 579.3 183.9 580.9 183.3 581.1 182.3 582.0 180.8 583.4 180.6 584.7 177.9 583.8 176.7 584.2 174.6 583.8 174.6 584.0 172.6 583.0 171.1Z M602.2 294.7 602.8 295.9 604.5 297.6 606.6 298.6 609.3 298.8 606.6 299.7 604.9 301.5 603.5 300.7 600.4 300.3 597.3 299.3 595.2 298.2 597.3 297.6 598.7 296.6 599.3 296.6 600.8 295.1Z M617.9 293.1 620.0 292.0 624.1 292.2 624.8 292.8 623.1 293.9 619.0 294.1Z M665.5 297.6 668.6 298.0 670.0 299.0 668.6 299.3 666.1 298.2Z M653.1 62.4 648.9 60.3 644.8 59.9 640.7 57.9 637.2 53.3 634.5 49.6 633.0 47.5 638.6 43.4 632.4 42.4 631.4 40.3 636.5 39.3 628.3 35.5 626.2 32.0 620.0 29.3 613.8 28.5 606.6 28.9 601.4 27.9 597.3 26.2 593.1 24.4 603.5 22.7 609.7 20.7 605.5 19.6 615.9 18.2 620.0 16.5 636.5 15.9 648.9 14.9 661.3 13.6 675.8 13.2 688.2 13.8 698.5 15.5 702.7 16.5 692.3 17.6 708.9 17.6 719.2 17.6 710.9 19.6 706.8 20.7 708.9 22.7 704.7 24.8 706.8 26.9 702.7 28.9 704.7 31.0 702.7 32.4 699.6 34.1 698.5 36.6 698.5 40.3 694.4 40.9 697.5 41.3 692.3 43.4 688.2 44.4 682.0 45.3 677.9 46.5 673.7 48.6 669.6 49.8 666.5 50.4 661.3 51.7 660.3 53.7 657.2 56.2 656.2 58.9 655.1 61.0Z M568.5 140.7 570.4 139.1 573.7 138.3 577.6 138.5 580.7 139.7 583.8 141.2 587.6 142.6 590.7 144.3 589.0 144.9 587.3 144.7 583.4 145.1 584.5 143.4 581.8 142.6 579.7 141.2 577.6 140.3 574.5 139.7 571.4 140.1Z M590.2 148.2 593.5 148.0 594.4 147.6 593.5 146.7 592.3 145.3 595.2 144.9 598.3 145.1 599.5 145.7 601.0 146.1 602.6 147.6 602.0 148.4 599.3 148.0 597.3 148.4 596.2 149.4 595.2 148.4 592.1 148.4Z M582.2 148.0 584.9 147.8 586.5 148.8 584.9 149.2 582.4 148.6Z M605.1 147.8 608.2 148.0 608.0 148.8 605.1 148.8Z M621.4 87.6 623.1 85.8 624.1 83.7 625.2 81.6 626.6 80.0 629.3 79.4 628.3 81.6 626.6 83.1 629.3 82.9 632.4 83.7 634.5 85.4 633.4 87.2 635.1 87.6 634.3 89.5 632.4 89.3 632.0 87.8 629.3 89.1 628.3 87.6 625.2 87.6Z M488.8 86.0 485.7 85.4 482.6 83.7 479.5 81.6 478.8 81.0 481.5 81.0 485.0 82.5 487.7 84.3Z M472.9 78.1 470.6 76.5 469.1 74.2 471.6 74.4 471.8 76.5Z M424.7 67.8 426.8 68.0 429.5 67.0 428.8 65.7 426.8 66.1Z M609.7 58.3 607.6 57.2 602.4 54.4 605.5 56.2 599.3 56.4 595.2 54.6 585.9 53.3 582.8 52.5 584.9 51.0 591.1 50.6 592.1 48.6 593.1 46.5 594.2 44.4 589.0 43.4 584.9 41.7 580.7 41.3 576.6 41.7 570.4 41.3 566.3 40.3 562.1 39.3 559.0 36.2 560.1 33.7 566.3 33.5 568.3 35.1 574.5 33.7 577.6 33.9 584.9 35.8 589.0 36.6 595.2 38.2 602.4 40.7 605.5 42.8 603.5 44.2 611.7 46.5 616.9 48.2 613.8 50.4 608.6 49.6 604.5 48.8 607.6 52.1 611.7 54.1 608.6 56.2Z M498.1 38.2 501.2 40.3 506.3 42.8 510.5 44.4 518.7 44.0 527.0 43.6 533.2 43.0 535.3 41.3 531.1 39.3 527.0 36.2 520.8 34.7 514.6 35.8 508.4 34.7 501.2 35.1 498.1 37.2Z M484.6 37.2 488.8 38.9 495.0 38.2 498.1 36.2 504.3 34.1 504.3 32.7 492.9 32.0 486.7 32.4 485.7 35.1Z M502.2 30.6 510.5 32.0 518.7 31.4 524.9 31.0 524.9 28.9 518.7 27.5 510.5 28.3 504.3 28.1 501.2 29.3Z M533.2 37.2 539.4 38.2 544.6 36.2 543.5 34.1 539.4 33.1 534.2 34.1 533.2 35.5Z M546.6 36.8 551.8 37.2 557.0 35.1 555.9 33.1 549.7 32.7 546.0 34.1Z M545.6 30.0 553.9 31.4 562.1 31.8 570.4 32.0 578.7 31.6 578.7 30.0 570.4 29.3 562.1 28.1 553.9 27.3 545.6 27.9Z M558.0 27.9 568.3 28.3 578.7 28.5 582.8 26.9 584.9 24.8 589.0 22.7 595.2 21.3 603.5 19.0 611.7 17.6 615.9 15.5 603.5 14.5 586.9 14.3 574.5 14.9 562.1 15.9 553.9 17.6 562.1 19.6 566.3 21.7 562.1 23.8 562.1 25.8 558.0 26.9Z M547.7 23.8 553.9 24.4 562.1 23.8 562.1 21.7 558.0 19.6 551.8 18.2 545.6 20.0 547.7 22.1Z M535.3 30.6 541.5 31.0 542.5 28.9 539.4 27.5 534.2 28.5Z M489.8 28.9 498.1 29.3 504.3 26.9 500.1 25.8 493.9 26.9Z M564.2 51.7 568.3 50.0 571.4 50.0 575.6 52.7 578.0 54.4 574.5 54.6 571.4 53.7 568.3 55.2 564.2 54.6 566.3 52.7Z M538.4 43.0 541.5 41.7 545.6 42.8 545.6 44.2 541.5 44.4Z M421.6 145.7 423.5 144.3 424.1 145.7 422.4 146.9Z M420.2 142.8 421.6 142.8 421.2 143.4Z M417.1 141.4 418.1 141.6 417.5 142.0Z M414.0 140.1 414.8 140.3 414.4 140.7Z M-372.0 360.6 -353.4 359.2 -334.8 362.1 -305.9 362.5 -295.5 361.5 -316.2 358.6 -316.2 355.5 -324.5 353.8 -303.8 352.0 -305.9 349.7 -319.3 349.1 -326.5 346.8 -326.5 345.3 -300.7 341.6 -280.0 339.6 -262.5 338.1 -248.0 338.5 -236.4 338.7 -221.8 341.2 -207.3 341.2 -212.9 336.7 -196.3 337.3 -184.8 336.7 -171.5 337.5 -158.3 338.1 -148.8 337.7 -139.5 335.8 -138.5 330.7 -140.1 329.4 -138.1 324.3 -127.7 319.9 -117.6 317.0 -129.2 322.0 -135.2 326.3 -127.7 332.3 -124.8 337.3 -132.3 341.0 -148.2 343.3 -159.1 345.3 -161.2 349.1 -152.5 352.6 -135.2 354.8 -120.5 358.2 -105.8 355.7 -88.5 355.7 -72.3 353.8 -59.3 352.0 -62.2 349.7 -73.8 349.1 -70.9 346.8 -50.4 342.4 -33.1 339.6 -31.4 337.3 -21.3 333.8 -10.3 332.9 0.0 330.3 10.3 331.1 20.7 330.7 31.0 330.0 41.3 330.9 51.7 330.9 62.0 329.0 68.2 328.0 78.5 330.3 82.7 328.6 93.0 325.9 103.3 323.4 113.7 322.4 117.8 324.1 124.0 325.1 134.3 325.9 140.5 326.1 144.7 327.6 148.8 329.6 152.9 330.3 157.1 329.2 161.2 327.2 165.3 326.1 175.7 324.1 186.0 323.8 196.3 323.4 206.7 322.0 217.0 323.0 227.3 322.4 237.7 323.4 248.0 324.1 258.3 323.0 268.7 322.4 279.0 322.4 289.3 323.8 299.7 324.5 310.0 327.2 320.3 328.6 330.7 330.7 341.0 332.1 352.4 333.8 347.2 337.9 341.0 341.0 337.9 345.1 341.0 348.2 332.7 352.4 336.9 356.5 355.5 359.2 372.0 360.6 372.0 374.1 -372.0 374.1Z M372.0 360.6 390.6 359.2 409.2 362.1 438.1 362.5 448.5 361.5 427.8 358.6 427.8 355.5 419.5 353.8 440.2 352.0 438.1 349.7 424.7 349.1 417.5 346.8 417.5 345.3 443.3 341.6 464.0 339.6 481.5 338.1 496.0 338.5 507.6 338.7 522.2 341.2 536.7 341.2 531.1 336.7 547.7 337.3 559.2 336.7 572.5 337.5 585.7 338.1 595.2 337.7 604.5 335.8 605.5 330.7 603.9 329.4 605.9 324.3 616.3 319.9 626.4 317.0 614.8 322.0 608.8 326.3 616.3 332.3 619.2 337.3 611.7 341.0 595.8 343.3 584.9 345.3 582.8 349.1 591.5 352.6 608.8 354.8 623.5 358.2 638.2 355.7 655.5 355.7 671.7 353.8 684.7 352.0 681.8 349.7 670.2 349.1 673.1 346.8 693.6 342.4 710.9 339.6 712.6 337.3 722.7 333.8 733.7 332.9 744.0 330.3 754.3 331.1 764.7 330.7 775.0 330.0 785.3 330.9 795.7 330.9 806.0 329.0 812.2 328.0 822.5 330.3 826.7 328.6 837.0 325.9 847.3 323.4 857.7 322.4 861.8 324.1 868.0 325.1 878.3 325.9 884.5 326.1 888.7 327.6 892.8 329.6 896.9 330.3 901.1 329.2 905.2 327.2 909.3 326.1 919.7 324.1 930.0 323.8 940.3 323.4 950.7 322.0 961.0 323.0 971.3 322.4 981.7 323.4 992.0 324.1 1002.3 323.0 1012.7 322.4 1023.0 322.4 1033.3 323.8 1043.7 324.5 1054.0 327.2 1064.3 328.6 1074.7 330.7 1085.0 332.1 1096.4 333.8 1091.2 337.9 1085.0 341.0 1081.9 345.1 1085.0 348.2 1076.7 352.4 1080.9 356.5 1099.5 359.2 1116.0 360.6 1116.0 374.1 372.0 374.1Z M589.0 333.8 593.1 328.6 600.4 329.2 603.5 332.7 601.4 336.5 593.1 336.9Z M633.0 350.3 644.8 347.0 655.1 348.2 654.1 352.0 642.7 353.6 634.5 352.4Z M405.1 349.3 411.3 347.8 414.4 349.7 409.2 350.5Z"/></clipPath><clipPath id="lakes"><path d="M99.2 90.9 103.3 89.3 106.4 89.1 109.5 89.9 109.5 92.4 106.4 93.0 105.4 94.0 105.8 95.9 108.5 98.2 109.5 100.2 109.1 102.3 109.5 103.3 111.2 105.4 111.2 108.5 109.5 109.7 105.4 110.2 103.3 108.9 101.3 108.3 100.9 106.4 101.9 104.8 104.0 102.7 102.3 101.3 100.2 99.2 98.2 97.1 97.8 95.1 96.7 93.4 98.2 92.0Z"/></clipPath><g fill-rule="evenodd"><rect x="-2" y="-2" width="748" height="376" fill="#055FBE"/><path d="M0.0 12.4 14.5 12.2 35.1 13.4 55.8 16.1 74.4 20.5 80.6 21.1 88.6 20.7 103.3 17.4 113.7 16.1 126.1 16.2 136.4 17.8 146.7 21.6 152.9 25.1 157.8 28.9 159.5 31.0 160.3 33.1 160.9 39.3 161.8 41.3 172.8 51.7 180.7 57.9 188.4 62.0 194.3 63.1 202.5 63.5 208.7 63.2 216.3 62.0 231.5 54.8 250.0 49.6 264.5 44.3 270.7 43.0 276.9 42.4 287.3 42.4 318.3 44.6 341.0 45.7 349.3 45.5 358.5 43.4 367.9 38.4 372.0 36.8 378.2 35.6 384.4 35.1 392.7 35.1 400.9 36.2 407.1 38.2 417.5 42.9 427.8 45.0 454.7 46.7 484.5 51.7 506.3 52.6 518.7 52.4 533.0 49.6 537.3 47.9 540.6 45.5 548.3 37.2 553.9 33.0 564.2 26.7 572.5 23.6 578.7 23.1 593.1 25.4 601.4 26.1 609.7 25.6 622.1 23.1 626.2 22.7 653.1 23.8 665.5 23.6 677.9 22.3 692.3 18.2 698.5 17.3 702.7 17.7 713.0 21.4 719.2 22.0 724.6 20.7 731.6 15.2 733.7 14.2 737.8 13.0 744.0 12.4 744.0 364.2 740.9 361.7 737.1 359.6 721.3 352.7 706.8 347.3 696.5 344.6 684.1 343.7 657.2 345.8 648.9 345.9 643.2 345.1 639.5 343.1 640.7 341.0 659.3 334.3 662.6 332.7 664.6 330.7 664.2 328.6 661.4 326.5 649.6 322.4 642.7 321.4 638.6 321.7 634.5 323.2 632.4 324.7 629.9 328.6 629.9 332.7 634.3 341.0 630.3 342.2 624.1 342.8 597.3 342.1 582.8 344.3 572.5 346.6 564.2 349.6 539.8 361.7 535.8 365.8 534.0 372.0 369.7 372.0 372.8 369.9 376.1 369.0 394.7 366.1 407.1 360.2 413.3 358.7 423.7 358.4 440.6 359.6 448.5 361.0 456.7 363.4 460.9 363.8 467.1 363.3 475.1 361.7 477.7 359.6 476.0 357.5 462.9 352.2 452.6 347.2 446.4 345.9 429.9 343.8 415.4 339.8 409.2 338.9 403.0 339.6 392.3 345.1 388.5 346.5 378.2 348.3 369.9 348.3 363.7 347.7 347.2 343.6 343.1 343.7 338.9 344.6 312.1 351.9 290.9 359.6 287.5 361.7 285.6 363.7 284.5 367.9 284.9 372.0 4.3 372.0 2.8 367.9 0.0 364.2ZM496.7 39.3 502.2 37.9 508.4 37.6 514.6 39.1 516.7 41.3 514.6 43.6 506.3 43.8 502.2 43.3 496.0 41.3Z" fill="#1E7382"/><path d="M0.0 16.5 0.0 15.4 4.1 15.0 20.7 15.5 31.0 17.1 49.6 21.1 76.5 25.0 84.7 25.0 105.4 22.9 111.6 23.0 117.8 24.2 122.7 26.9 123.9 28.9 124.2 31.0 123.6 33.1 120.2 39.3 119.7 41.3 120.5 43.4 124.0 46.3 131.6 49.6 133.0 51.7 128.5 55.8 127.6 57.9 129.8 59.9 140.2 62.0 161.2 63.0 175.7 66.2 181.9 66.9 210.8 65.7 222.1 64.1 239.7 57.2 260.4 52.8 274.9 47.9 281.1 46.6 293.5 46.2 324.5 50.1 336.9 50.8 349.3 50.7 363.7 49.0 369.9 47.3 380.3 43.2 388.5 42.0 394.7 43.0 405.0 47.5 414.4 49.6 450.5 52.4 473.3 55.0 496.0 56.3 505.6 57.9 511.6 59.9 524.1 66.1 527.0 68.3 532.9 74.4 539.4 78.5 549.7 83.0 553.9 84.0 560.1 84.6 580.7 83.1 583.3 82.7 588.6 80.6 590.0 78.5 589.5 76.5 586.9 73.7 580.0 68.2 579.5 66.1 580.9 64.1 588.3 57.9 595.2 48.9 599.3 45.9 605.5 43.1 628.3 37.7 635.7 33.1 640.0 31.0 646.9 29.6 696.5 26.0 715.1 26.7 723.3 26.0 729.5 23.5 735.3 18.6 737.8 17.2 744.0 15.4 744.0 327.5 737.8 325.1 727.5 319.0 723.3 317.7 717.1 316.6 698.5 315.3 665.5 315.0 646.9 313.7 636.5 314.1 628.3 315.3 611.7 321.2 601.4 323.3 589.0 324.4 560.1 325.6 537.3 328.6 514.6 327.8 496.0 327.9 458.8 325.1 415.4 323.7 403.0 323.8 388.5 325.3 374.4 328.6 372.0 330.7 380.3 335.6 381.6 336.9 382.5 338.9 381.5 341.0 378.2 342.5 372.0 343.3 367.9 342.7 363.6 341.0 361.5 338.9 359.6 332.7 356.9 330.7 349.3 327.2 342.6 322.4 338.5 320.3 332.7 318.5 328.6 317.9 322.4 317.9 318.3 318.7 313.8 320.3 311.3 322.4 308.5 328.6 305.9 331.8 283.4 345.1 254.2 358.8 239.7 365.0 236.7 367.9 234.9 372.0 177.2 372.0 178.5 367.9 179.8 366.1 187.2 359.6 197.3 345.1 197.7 343.1 196.9 341.0 192.8 336.9 192.1 334.8 194.2 332.7 210.8 327.2 212.1 326.5 213.8 324.5 212.5 322.4 206.7 320.3 196.3 319.4 173.6 319.1 152.9 317.9 147.8 318.3 142.6 319.5 140.5 320.3 138.4 322.4 138.4 324.5 140.5 327.0 153.2 332.7 155.1 334.8 155.7 336.9 155.1 343.1 155.8 345.1 159.1 350.2 168.6 361.7 170.1 365.8 170.6 372.0 137.8 372.0 136.4 367.5 135.2 365.8 132.3 363.7 103.3 351.3 84.9 341.0 78.7 336.9 74.0 332.7 72.9 330.7 73.7 324.5 72.8 322.4 69.6 320.3 64.1 318.7 55.8 317.4 45.5 316.6 35.1 316.4 26.9 316.8 22.7 317.6 18.6 319.4 12.4 325.9 10.3 327.1 6.2 328.1 0.0 327.5ZM628.3 86.6 623.6 88.9 623.2 90.9 627.5 93.0 634.5 93.7 640.7 93.0 643.2 90.9 642.7 88.2 641.4 86.8 638.6 85.7 634.5 85.4ZM506.1 367.9 512.5 368.6 514.9 369.9 516.5 372.0 486.5 372.0 493.9 369.7Z" fill="#3C8C5A"/><path d="M0.0 18.6 8.3 17.5 18.6 18.3 28.7 20.7 37.2 23.7 43.4 25.2 66.1 28.3 80.6 28.8 101.3 27.4 105.4 27.9 108.8 28.9 111.0 31.0 111.2 33.1 110.1 35.1 105.4 39.8 99.2 44.0 95.1 45.1 76.5 46.2 71.8 47.5 69.5 49.6 69.1 51.7 70.0 53.7 72.3 56.1 86.8 64.8 91.8 66.1 103.3 66.5 132.3 65.5 146.7 65.8 157.1 67.3 173.6 72.1 181.9 72.3 200.5 68.8 227.3 66.7 233.5 64.9 245.2 59.9 266.6 56.9 270.7 55.6 279.0 51.5 285.2 49.8 289.3 49.4 299.7 50.4 318.3 55.4 330.7 56.7 345.1 56.9 369.9 56.1 392.7 58.0 417.5 56.6 450.0 57.9 469.1 59.2 491.9 59.3 498.1 60.1 504.3 62.6 506.3 64.1 512.2 70.3 520.3 76.5 533.6 88.9 538.6 90.9 545.6 91.4 552.1 90.9 568.3 87.8 591.5 84.7 599.0 82.7 601.5 80.6 602.5 78.5 604.0 72.3 605.1 70.3 611.7 60.8 614.7 57.9 631.0 49.6 648.3 43.4 651.4 41.3 655.9 37.2 659.9 35.1 671.7 33.2 682.0 33.5 687.9 35.1 694.9 39.3 698.5 40.7 704.7 41.2 708.8 39.3 711.4 35.1 713.8 33.1 720.2 31.0 729.5 29.3 733.7 27.8 735.7 26.0 739.7 20.7 744.0 18.5 744.0 297.7 731.4 303.8 725.4 305.9 715.1 307.1 702.7 306.7 696.8 305.9 691.6 303.8 689.7 301.7 689.2 295.5 688.2 293.6 684.8 291.4 677.9 290.0 669.6 290.0 659.3 291.8 648.9 295.4 645.4 297.6 638.8 303.8 634.5 305.5 615.9 308.9 601.4 313.0 591.1 314.5 562.1 316.2 539.4 320.1 531.1 320.6 493.9 320.2 462.9 316.6 453.8 314.1 445.3 307.9 442.3 306.5 438.1 305.4 434.0 305.0 429.9 305.3 425.7 306.3 415.4 312.7 409.2 314.5 372.0 317.9 361.7 317.6 351.3 315.8 339.4 312.1 335.2 310.0 332.6 307.9 328.2 301.7 325.2 299.7 318.3 297.2 307.9 295.7 299.7 296.1 292.6 297.6 286.5 299.7 274.9 304.8 268.7 306.7 248.0 308.4 231.5 311.9 223.2 312.5 186.0 310.9 179.8 309.5 169.5 305.3 165.3 304.6 144.7 310.0 124.0 311.6 111.6 311.8 45.5 310.4 39.3 309.6 33.9 307.9 31.1 305.9 26.9 299.4 22.7 296.8 18.6 295.9 12.4 295.7 6.2 296.3 0.0 297.7ZM630.3 82.1 616.5 86.8 614.4 88.9 614.8 90.9 618.2 93.0 622.1 93.9 628.9 95.1 636.5 95.5 642.7 94.6 646.1 93.0 647.5 90.9 647.7 88.9 647.1 86.8 644.8 83.8 642.7 82.4 640.7 81.4 636.5 80.9Z" fill="#3C9F23"/><path d="M4.4 22.7 8.3 21.7 12.4 22.0 15.5 22.7 16.9 24.8 12.4 26.1 8.3 25.9 5.0 24.8ZM21.7 35.1 33.1 34.1 40.8 35.1 42.3 37.2 40.5 47.5 39.7 49.6 37.8 51.7 33.5 53.7 20.7 56.7 14.5 58.8 6.2 64.4 0.0 67.6 0.0 36.7ZM734.0 37.2 744.0 36.7 744.0 67.6 739.9 69.9 737.0 72.3 735.5 74.4 734.3 78.5 734.5 80.6 735.5 82.7 737.8 84.7 744.0 86.5 744.0 282.6 731.6 279.4 725.4 278.9 719.2 279.8 708.9 283.2 702.7 284.3 694.4 284.2 673.7 281.9 665.5 282.1 651.0 286.1 642.7 287.7 622.1 288.4 620.0 289.3 615.9 293.5 613.8 294.5 599.3 298.1 586.5 303.8 578.7 305.5 566.3 306.1 553.9 305.6 533.2 303.3 512.5 303.0 500.1 301.2 496.0 299.7 498.8 297.6 506.3 294.1 509.9 291.4 511.3 289.3 511.0 287.3 509.1 285.2 504.3 282.5 500.1 281.2 496.0 280.8 489.8 282.8 484.9 287.3 483.5 291.4 483.8 293.5 485.5 297.6 481.5 299.2 471.2 299.6 440.2 297.2 411.3 296.9 403.9 297.6 392.7 299.7 380.3 300.8 372.0 302.8 361.7 306.3 355.5 307.2 349.0 305.9 346.2 303.8 341.0 298.0 336.9 296.0 316.2 290.9 305.9 289.6 291.4 289.2 262.5 291.8 256.3 291.3 241.8 288.2 212.9 287.1 204.6 287.8 190.1 290.8 181.9 291.1 173.6 290.2 157.1 286.7 148.8 285.5 142.6 285.5 128.1 286.8 121.9 286.5 115.7 284.4 107.2 279.0 101.3 277.4 97.1 277.0 90.9 277.1 82.7 278.2 66.1 282.5 59.9 283.3 24.8 282.0 6.2 283.1 0.0 282.6 0.0 86.5 8.3 85.8 26.9 81.2 41.3 79.9 62.0 76.8 88.9 74.7 134.3 68.7 142.6 68.4 150.9 69.4 155.0 70.5 167.4 75.6 179.8 77.6 183.9 77.5 188.1 76.7 198.0 72.3 202.5 71.3 208.7 70.5 217.0 70.5 231.1 72.3 242.4 76.5 248.0 77.9 270.7 80.3 289.3 83.5 297.6 86.6 305.7 93.0 312.1 94.7 318.3 94.9 334.8 93.5 353.4 93.7 376.1 93.1 388.5 94.4 417.5 99.1 444.3 100.1 452.6 99.1 456.7 97.6 467.1 92.4 471.2 91.5 475.3 91.4 479.5 92.6 481.5 93.7 485.6 97.1 489.3 101.3 490.4 103.3 490.7 105.4 489.9 111.6 491.3 113.7 496.0 116.0 502.2 116.8 506.3 116.1 510.5 114.1 524.9 103.0 531.1 99.8 576.6 89.1 586.9 88.1 597.3 88.0 601.8 88.9 609.7 93.5 616.5 95.1 636.5 96.9 642.7 96.5 646.9 95.4 650.3 93.0 651.3 90.9 651.6 86.8 650.0 80.6 650.0 76.5 654.0 66.1 654.1 57.9 654.7 55.8 656.8 53.7 671.7 48.1 677.9 47.0 702.7 48.5 709.8 49.6 721.3 52.5 727.5 52.4 729.9 51.7 731.3 49.6 730.6 47.5 728.1 43.4 727.6 41.3 728.4 39.3 731.6 37.7ZM31.0 220.8 26.9 222.3 23.3 225.3 22.5 227.3 22.7 228.1 23.1 229.4 25.2 231.5 28.9 232.5 33.1 231.7 36.3 229.4 37.2 227.9 37.6 225.3 36.9 223.2 35.1 221.5 33.1 220.8ZM363.7 281.0 358.9 283.1 356.0 285.2 354.5 287.3 354.5 289.3 356.4 291.4 363.7 294.1 374.1 296.0 380.3 295.3 383.0 293.5 383.9 291.4 383.7 289.3 381.2 285.2 378.2 282.4 375.9 281.1 372.0 280.1 367.9 280.1ZM518.7 183.8 513.4 186.0 517.0 188.1 529.1 190.0 568.3 192.8 574.5 194.0 578.7 196.3 582.8 203.4 584.9 204.8 586.9 205.1 591.1 204.3 595.2 201.8 597.9 198.4 599.3 195.5 600.0 192.2 599.8 190.1 598.5 188.1 594.8 186.0 589.0 184.9 568.3 182.6 549.7 182.0 529.1 182.8ZM611.7 266.6 609.0 268.7 608.4 270.7 609.4 274.9 611.7 277.4 613.8 278.4 615.9 278.6 617.9 277.9 620.0 275.5 620.9 272.8 620.8 270.7 620.0 268.7 615.9 266.4ZM547.7 274.8 537.3 275.9 531.1 278.4 528.2 281.1 527.1 283.1 526.6 285.2 527.0 287.3 528.8 289.3 533.2 291.7 537.3 293.0 543.5 293.7 551.8 293.5 558.0 292.6 562.5 291.4 566.3 289.3 567.8 287.3 568.0 285.2 566.3 281.1 564.2 278.7 561.5 276.9 558.0 275.7Z" fill="#6EAD10"/><path d="M695.5 55.8 700.6 55.3 704.7 55.8 727.5 62.1 729.7 64.1 729.3 66.1 726.0 72.3 723.8 78.5 723.3 82.7 724.2 86.8 727.3 90.9 729.5 92.4 735.7 93.6 744.0 93.3 744.0 187.2 727.5 181.4 719.2 179.7 713.0 180.0 703.4 181.9 697.0 183.9 695.3 186.0 696.5 188.1 702.7 190.5 712.1 192.2 737.8 194.6 744.0 196.3 744.0 262.5 731.6 258.1 721.3 255.9 710.9 255.6 698.5 256.8 691.7 258.3 687.7 260.4 685.7 262.5 682.0 268.7 679.9 269.3 671.7 268.9 667.5 269.9 653.3 279.0 646.9 281.3 640.7 282.0 634.5 280.7 631.9 279.0 630.5 276.9 628.3 268.7 626.2 264.9 619.0 258.3 617.2 256.3 616.4 254.2 616.5 252.1 617.4 250.1 622.9 243.9 625.0 239.7 626.5 221.1 625.8 214.9 622.8 210.8 611.7 204.9 609.4 202.5 607.9 198.4 607.6 189.2 606.2 186.0 601.4 182.9 593.1 180.5 576.6 177.7 562.1 176.7 496.0 179.6 479.5 179.6 475.3 180.2 469.5 181.9 465.6 183.9 464.6 186.0 468.3 188.1 477.4 189.7 551.8 196.2 560.1 197.8 566.1 200.5 569.8 204.6 574.5 212.5 580.5 219.1 581.5 221.1 581.5 227.3 582.0 229.4 586.7 237.7 588.0 241.8 588.1 250.1 586.2 256.3 584.6 258.3 582.8 259.6 578.7 261.1 570.4 262.1 560.1 261.9 553.9 260.7 543.5 256.6 537.3 255.2 527.0 254.3 508.4 254.4 498.1 255.8 487.7 259.3 481.5 260.7 454.7 264.1 442.3 264.6 417.5 262.9 405.1 263.5 399.6 264.5 396.8 265.6 394.9 266.6 390.6 270.9 388.5 271.8 365.8 272.0 347.2 274.2 332.7 275.1 322.4 276.9 312.1 280.0 305.9 279.6 287.3 273.8 279.0 272.6 272.8 272.4 243.9 276.2 227.3 280.7 221.1 280.8 206.7 279.9 190.1 283.2 183.9 283.8 175.7 283.3 161.2 280.6 152.9 279.8 144.7 280.0 132.3 281.6 126.1 281.5 119.9 280.1 107.5 275.4 97.1 274.0 80.6 275.0 55.8 278.4 45.5 278.6 35.1 277.8 26.9 276.3 20.7 274.2 6.2 265.6 0.0 262.5 0.0 196.3 2.1 197.6 4.8 200.5 7.4 204.6 10.0 210.8 10.5 214.9 8.8 221.1 8.4 225.3 8.9 227.3 13.5 237.7 12.1 245.9 14.6 248.0 20.7 248.0 26.2 245.9 39.3 238.1 43.4 234.7 45.6 231.5 47.1 227.3 48.0 221.1 46.5 202.5 46.7 198.4 48.4 190.1 47.9 186.0 46.2 183.9 43.4 182.5 39.3 181.7 31.0 182.5 27.1 183.9 18.6 188.3 14.5 189.3 8.3 189.4 0.0 187.2 0.0 93.3 22.7 88.7 43.4 87.9 49.6 87.1 67.4 82.7 78.5 80.9 90.9 80.4 109.5 81.2 117.8 80.4 121.9 79.3 129.6 74.4 134.3 72.7 138.5 71.9 144.7 71.9 147.2 72.3 152.0 74.4 159.1 79.3 171.5 82.9 174.6 84.7 175.2 86.8 174.3 90.9 175.0 93.0 177.7 95.0 195.8 101.3 199.3 103.3 203.7 107.5 206.7 109.5 210.8 110.6 214.9 111.0 229.4 110.4 245.9 113.7 252.1 113.3 261.7 111.6 266.7 109.5 272.8 104.8 279.2 101.3 279.4 99.2 272.8 96.2 271.5 95.1 271.8 93.0 276.5 90.9 283.1 90.8 285.2 91.1 289.3 93.0 290.7 97.1 295.5 98.6 316.2 99.4 353.4 99.3 392.7 103.3 400.5 105.4 411.3 110.0 416.9 111.6 438.1 114.2 465.0 118.7 473.3 120.6 481.6 124.0 490.9 130.2 498.7 134.3 510.5 138.1 524.9 140.9 527.2 140.5 524.9 135.7 524.3 132.3 524.8 128.1 526.9 121.9 533.6 109.5 537.2 105.4 541.5 102.5 547.7 100.1 571.1 93.0 582.8 91.0 589.0 91.1 595.2 92.5 596.2 93.0 598.0 95.1 599.3 97.9 615.9 96.9 640.7 98.3 648.6 97.1 652.6 95.1 654.3 93.0 657.2 82.3 659.3 79.5 661.3 78.1 667.5 76.1 682.0 74.8 684.1 73.9 686.0 72.3 686.4 70.3 684.4 64.1 684.9 62.0 686.7 59.9 689.8 57.9ZM690.3 95.0 686.1 96.9 682.0 100.3 679.8 103.3 680.2 105.4 684.1 107.2 688.2 107.6 715.1 105.7 719.2 105.0 723.3 103.3 724.4 101.3 723.3 98.9 721.3 97.7 717.1 96.6 698.5 94.3 694.4 94.3Z" fill="#A0B91C"/><path d="M665.5 84.7 667.5 84.3 671.7 84.6 675.7 86.8 676.8 88.9 676.9 90.9 676.3 93.0 672.7 97.1 665.4 103.3 660.3 109.5 656.0 113.7 655.0 115.7 657.2 117.6 659.3 118.4 671.7 121.8 686.1 127.2 703.2 132.3 708.6 134.3 711.0 136.4 710.1 138.5 702.7 141.5 698.4 144.7 697.6 146.7 697.4 152.9 696.6 155.0 694.9 157.1 688.2 162.0 674.0 169.5 671.4 171.5 669.8 173.6 669.2 175.7 669.6 177.7 673.0 186.0 673.0 192.2 674.7 194.3 682.0 196.3 721.3 198.6 729.5 200.3 734.4 202.5 736.6 204.6 737.7 206.7 738.0 208.7 737.5 210.8 733.4 217.0 732.8 219.1 733.4 221.1 734.9 223.2 744.0 232.9 744.0 240.2 741.9 241.6 735.7 242.9 721.3 241.8 700.6 243.2 688.2 243.2 659.3 241.4 651.0 240.4 644.8 238.8 639.4 235.6 636.4 231.5 635.1 225.3 635.2 212.9 634.0 208.7 632.4 206.7 630.3 205.3 620.0 201.2 616.2 198.4 615.1 196.3 614.7 194.3 614.4 186.0 611.7 182.7 607.6 180.3 601.4 178.2 569.4 171.5 563.7 169.5 558.0 166.4 551.8 165.2 547.7 165.5 535.3 168.5 529.1 169.4 504.3 167.6 477.4 169.2 469.1 171.1 460.4 175.7 454.9 177.7 444.3 179.6 431.9 179.9 392.7 179.2 355.5 181.2 351.9 181.9 348.5 183.9 348.2 186.0 349.8 188.1 353.4 189.9 359.6 191.4 367.9 192.5 448.5 192.8 479.5 195.6 540.0 198.4 551.8 200.4 557.8 202.5 560.8 204.6 563.7 208.7 565.0 214.9 564.5 219.1 563.6 221.1 560.1 225.7 553.9 229.6 545.6 232.6 537.3 234.5 514.6 235.8 502.2 237.8 493.9 240.4 473.3 248.8 462.9 251.6 448.5 252.8 400.9 253.0 392.7 252.6 378.2 250.9 372.0 251.0 367.9 251.8 362.0 254.2 347.0 264.5 338.9 268.4 328.6 270.6 314.1 271.8 307.9 271.5 301.7 270.2 295.5 268.4 285.2 263.8 281.1 263.1 272.8 264.1 252.1 269.8 245.9 270.3 237.7 269.8 229.4 267.4 221.1 263.8 217.1 260.4 212.9 255.7 210.8 254.2 206.7 252.4 200.5 251.5 186.0 251.2 173.8 248.0 165.3 246.7 152.9 246.5 107.5 248.2 96.9 250.1 92.2 252.1 90.2 254.2 89.8 256.3 91.4 258.3 95.9 260.4 99.2 261.3 105.4 262.0 126.1 261.4 136.4 262.1 148.0 264.5 153.6 266.6 155.4 268.7 153.2 270.7 141.5 274.9 134.3 276.7 128.1 277.2 121.9 276.4 107.5 272.0 99.2 270.9 72.3 272.3 49.6 275.5 37.2 275.1 28.9 273.1 24.2 270.7 17.0 264.5 13.7 260.4 13.5 258.3 15.7 256.3 26.9 252.2 33.1 249.2 45.5 241.2 49.6 237.7 51.1 235.6 53.7 229.4 56.8 217.0 55.5 204.6 56.9 181.9 56.0 179.8 51.8 177.7 43.4 176.3 28.9 175.0 22.7 175.5 10.3 179.8 6.2 180.3 0.0 179.9 0.0 156.3 1.9 155.0 10.3 153.7 14.5 152.2 18.6 149.7 22.0 146.7 24.9 142.6 25.3 140.5 24.6 138.5 20.7 134.3 21.6 132.3 22.7 131.5 26.9 130.5 28.9 130.8 33.1 133.4 37.2 134.4 41.3 134.3 51.3 132.3 56.1 130.2 58.7 128.1 62.0 124.0 68.2 119.4 78.5 114.4 90.9 109.9 97.1 108.6 103.3 108.0 126.1 108.6 136.4 108.2 146.7 106.4 159.1 102.6 167.4 102.2 174.2 103.3 180.9 105.4 186.0 107.8 195.7 113.7 201.0 115.7 208.7 117.5 223.2 119.5 235.6 122.8 239.7 123.3 243.9 122.7 254.4 117.8 268.7 113.7 279.0 108.3 283.1 106.7 291.4 104.8 310.0 103.0 330.7 103.8 351.3 103.8 361.6 105.4 376.3 109.5 392.7 116.2 421.6 125.2 429.9 126.8 456.7 130.7 496.0 142.6 510.5 147.8 516.7 148.8 524.9 148.9 537.3 147.4 539.7 146.7 543.2 144.7 544.1 142.6 543.8 140.5 539.3 134.3 538.8 132.3 539.6 130.2 541.5 128.7 547.5 126.1 549.7 124.0 548.6 121.9 544.3 117.8 542.7 113.7 543.6 109.5 545.0 107.5 547.3 105.4 551.0 103.3 571.5 97.1 578.7 95.7 580.7 95.8 583.3 97.1 582.9 101.3 583.4 103.3 586.5 105.4 591.1 106.1 599.3 105.4 609.7 100.0 615.9 98.7 624.1 98.7 640.7 99.9 648.9 99.5 653.1 98.7 656.3 97.1 658.2 95.1 661.3 88.1 663.4 85.8ZM186.0 177.5 179.8 179.1 169.5 183.5 163.3 184.9 144.7 183.4 135.6 183.9 126.1 186.0 109.5 184.4 101.3 184.6 94.8 186.0 92.4 188.1 92.3 190.1 93.8 192.2 95.1 192.9 101.3 194.3 107.5 194.2 113.7 193.1 126.1 188.5 144.7 191.2 175.7 193.3 183.9 193.4 192.2 192.6 198.4 191.1 204.6 188.2 206.7 186.0 207.3 183.9 206.4 181.9 203.5 179.8 196.2 177.7ZM20.7 113.7 26.9 113.5 32.7 115.7 41.7 121.9 41.3 124.0 35.1 124.8 22.7 119.2 20.4 117.8 19.1 115.7ZM743.6 157.1 744.0 156.3 744.0 179.9 737.8 178.2 733.0 175.7 731.2 173.6 730.6 171.5 731.3 169.5 733.2 167.4 739.5 163.3 741.7 161.2ZM0.0 233.5 0.0 232.9 1.5 235.6 1.6 237.7 0.0 240.2ZM635.0 256.3 638.6 255.1 642.7 255.0 648.3 256.3 651.8 258.3 653.4 260.4 654.2 264.5 653.1 268.7 651.0 271.6 648.9 273.4 644.8 275.2 640.7 275.2 638.6 274.2 636.0 270.7 632.8 260.4 633.0 258.3Z" fill="#C8BE1E"/><path d="M613.6 101.3 622.1 100.1 638.0 101.3 650.5 103.3 651.8 105.4 650.5 107.5 648.9 108.6 642.7 111.0 636.5 111.8 622.1 112.4 615.9 113.5 607.6 118.9 597.3 123.8 595.7 126.1 595.6 128.1 597.1 130.2 599.3 131.2 605.5 132.0 617.9 132.0 622.1 133.1 637.3 144.7 638.5 146.7 638.6 148.8 637.0 155.0 638.4 161.2 638.3 163.3 637.4 165.3 635.5 167.4 630.3 171.1 626.2 173.6 622.1 175.1 615.9 175.2 597.3 170.9 582.8 169.3 576.6 168.0 570.9 165.3 564.2 160.8 560.1 159.4 553.9 159.0 541.5 160.3 535.3 160.4 529.1 159.1 526.2 157.1 526.6 155.0 531.0 152.9 543.5 150.3 549.7 147.6 552.4 144.7 553.9 136.4 555.8 134.3 561.3 130.2 562.6 126.1 562.2 121.9 561.4 119.9 559.9 117.8 554.8 113.7 553.8 111.6 554.4 109.5 556.8 107.5 562.1 105.9 566.3 106.0 568.3 106.6 573.3 109.5 578.7 110.6 595.2 109.2 603.7 107.5ZM294.0 107.5 310.0 106.5 330.7 108.5 349.3 109.3 357.7 111.6 360.4 113.7 360.3 115.7 357.5 117.9 351.3 119.8 328.6 119.1 293.5 121.8 289.3 123.3 287.3 126.1 287.4 128.1 289.3 130.3 293.5 131.5 301.7 131.7 330.7 130.6 353.4 128.3 361.7 129.1 372.0 131.3 374.8 132.3 377.7 134.3 378.7 136.4 378.7 138.5 376.7 142.6 371.3 148.8 370.5 150.9 370.6 152.9 372.0 155.0 376.1 157.1 384.4 158.8 409.2 160.6 415.4 161.4 422.1 163.3 425.9 165.3 426.9 167.4 425.2 169.5 417.5 171.3 376.1 173.4 367.9 173.0 349.3 169.8 330.7 170.6 310.0 170.1 291.4 170.7 274.9 170.5 264.5 171.3 252.1 174.9 245.9 175.9 206.7 172.6 188.1 172.3 175.7 173.1 165.3 175.7 159.1 176.5 132.3 174.6 126.1 175.2 111.6 178.1 101.3 178.7 90.9 177.8 76.5 173.9 57.9 172.4 47.5 170.5 41.3 168.1 32.3 163.3 29.7 161.2 28.4 159.1 28.0 157.1 29.5 152.9 33.3 148.8 39.3 144.7 48.1 140.5 68.1 134.3 71.7 132.3 79.2 126.1 84.7 122.5 93.0 118.5 101.3 115.9 111.6 114.9 124.8 115.7 134.3 117.7 137.2 119.9 137.3 121.9 135.8 124.0 126.1 131.8 122.9 136.4 120.9 142.6 121.9 144.4 124.0 144.7 134.3 140.9 152.9 136.6 158.9 134.3 169.2 128.1 177.7 121.4 181.9 119.2 186.0 118.7 190.1 119.1 231.5 128.0 241.8 128.8 248.0 127.2 254.4 121.9 258.3 119.7 274.9 114.7 285.2 109.5ZM453.2 146.7 456.7 145.7 460.9 145.2 471.2 146.3 477.9 148.8 479.9 150.9 480.1 152.9 478.7 155.0 475.3 157.0 469.1 158.7 460.9 159.6 452.6 159.1 447.8 157.1 446.4 155.0 446.5 152.9 447.6 150.9 449.6 148.8ZM98.7 200.5 105.4 199.7 113.7 200.0 119.9 200.9 128.1 203.4 132.3 204.0 146.7 203.2 167.4 204.0 198.4 204.0 206.7 203.6 227.3 200.5 262.5 198.5 270.7 199.7 274.9 201.7 281.1 205.7 285.2 207.2 295.5 208.6 310.0 209.7 314.1 209.4 324.5 206.9 328.6 206.6 345.1 208.8 351.3 208.6 355.5 206.9 362.3 202.5 365.8 201.4 372.0 200.3 429.9 200.5 454.7 199.9 483.6 201.5 537.7 202.5 545.6 204.0 549.7 205.6 551.7 206.7 553.3 208.7 553.4 210.8 551.8 213.0 549.7 214.1 545.6 215.2 518.7 216.9 481.5 217.4 462.9 215.5 454.7 215.7 448.5 217.9 438.1 225.0 429.9 229.4 421.6 233.1 415.4 234.7 407.1 234.7 374.1 230.3 367.9 230.8 349.3 234.8 346.4 235.6 343.3 237.7 342.7 239.7 344.1 245.9 344.0 248.0 341.5 252.1 333.9 260.4 331.7 262.5 327.9 264.5 320.3 266.1 312.1 266.2 303.8 264.3 300.2 262.5 297.8 260.4 294.1 254.2 291.4 251.6 287.3 249.7 279.0 247.7 268.7 246.9 260.0 248.0 258.4 250.1 262.6 256.3 262.4 258.3 260.0 260.4 255.8 262.5 250.1 264.0 245.9 264.3 239.7 263.3 232.2 260.4 228.9 258.3 227.0 256.3 224.5 252.1 221.1 249.0 214.9 246.0 206.7 243.2 196.3 241.8 163.3 241.4 115.7 241.7 99.2 242.4 90.9 243.3 84.7 244.8 80.6 246.6 76.5 249.6 74.5 252.1 73.0 256.3 73.2 258.3 74.4 260.4 78.7 264.5 76.5 265.7 66.1 267.9 53.7 271.8 45.5 272.9 39.3 272.6 33.1 271.0 28.8 268.7 26.8 266.6 24.9 262.5 25.3 260.4 26.9 258.7 40.3 252.1 53.6 243.9 58.2 239.7 64.1 231.5 66.1 230.5 68.2 230.6 76.5 233.1 82.7 233.9 88.9 232.4 92.9 229.4 94.1 227.3 94.3 225.3 93.0 223.0 88.9 220.6 76.2 217.0 84.7 212.6 86.8 210.7 91.1 204.6 93.0 202.8ZM662.3 204.6 669.6 203.5 679.9 202.9 713.0 203.2 722.0 204.6 725.0 206.7 725.1 208.7 723.3 210.9 706.8 222.3 700.6 224.4 694.4 225.6 686.1 226.1 679.9 224.5 667.5 219.6 655.1 217.2 653.1 216.4 651.7 214.9 651.3 212.9 651.8 210.8 653.2 208.7 656.1 206.7ZM117.9 268.7 119.9 267.9 124.0 267.4 129.4 268.7 128.6 270.7 126.1 271.2 121.4 270.7Z" fill="#F0C829"/><path d="M615.7 103.3 622.1 101.8 628.3 102.0 637.2 103.3 640.8 105.4 639.0 107.5 634.5 108.6 628.3 109.3 620.0 109.3 615.9 108.7 613.6 107.5 613.7 105.4ZM289.7 111.6 295.5 110.5 303.8 110.4 310.5 111.6 312.5 113.7 308.1 115.7 305.9 116.2 283.1 118.8 279.4 128.1 276.9 130.8 270.7 133.2 259.9 134.3 261.7 136.4 266.5 138.5 272.8 139.5 279.0 139.5 301.7 137.8 318.5 138.5 326.6 140.5 328.1 142.6 327.5 144.7 322.8 148.8 314.1 154.7 310.0 157.0 305.9 158.3 285.2 163.3 256.3 165.6 235.6 168.6 223.2 168.3 208.7 165.3 204.6 165.6 194.3 167.7 188.1 168.0 181.9 167.7 177.7 166.7 174.7 165.3 167.4 158.3 165.3 157.0 161.2 156.6 148.8 159.9 142.6 160.3 138.5 159.5 136.4 158.5 134.6 157.1 133.8 155.0 134.0 152.9 135.1 150.9 136.9 148.8 140.5 146.3 146.7 144.2 161.2 143.0 165.3 142.2 169.5 139.8 174.8 134.3 181.9 129.5 188.1 127.3 194.3 127.1 199.3 128.1 204.6 130.2 212.8 134.3 215.3 136.4 215.4 138.5 212.7 142.6 210.2 144.7 201.9 148.8 199.7 150.9 198.8 152.9 198.8 155.0 199.7 157.1 204.6 162.2 206.7 163.1 210.8 162.6 217.0 158.4 223.2 152.0 230.0 146.7 231.7 144.7 232.2 142.6 231.8 138.5 233.3 136.4 239.7 135.0 254.2 133.9 256.3 133.2 256.7 132.3 256.3 128.1 256.9 126.1 258.2 124.0 260.9 121.9 266.6 119.8 281.1 117.7 283.1 116.6 285.5 113.7ZM591.5 113.7 597.3 112.9 602.1 113.7 600.9 115.7 591.1 120.3 584.9 127.4 582.8 128.7 580.7 129.4 576.6 129.4 573.4 128.1 571.4 126.1 570.8 124.0 571.2 121.9 572.8 119.9 576.6 118.1ZM103.3 124.0 109.5 124.3 112.8 126.1 113.6 128.1 113.4 130.2 111.6 134.4 108.2 138.5 101.5 144.7 100.5 146.7 100.6 148.8 103.3 155.0 104.4 159.1 104.1 163.3 103.3 165.3 101.3 166.8 88.9 165.7 70.3 168.2 59.9 168.0 55.8 167.1 51.5 165.3 42.6 159.1 40.5 157.1 39.9 155.0 41.3 152.3 45.6 148.8 52.4 144.7 59.9 141.9 76.5 137.9 80.6 135.9 91.0 128.1 97.1 125.5ZM589.8 148.8 597.3 149.0 601.4 150.2 602.7 150.9 604.3 152.9 604.1 155.0 601.4 157.2 596.0 159.1 589.0 160.7 584.9 160.9 580.6 159.1 578.7 155.0 578.6 152.9 580.0 150.9 584.9 149.4ZM101.0 206.7 103.3 205.7 107.5 205.5 111.1 206.7 111.9 208.7 109.4 210.8 105.4 211.5 103.3 211.3 101.3 210.4 100.2 208.7ZM141.3 212.9 146.7 211.8 152.9 211.5 173.6 212.3 202.5 211.9 212.8 212.9 218.1 214.9 220.0 217.0 220.7 219.1 221.1 226.5 221.6 227.3 223.2 228.0 227.3 227.3 239.7 219.5 245.9 218.3 250.1 219.2 260.4 224.0 266.6 226.1 272.8 227.1 279.0 227.1 280.2 225.3 278.1 221.1 277.8 219.1 278.2 217.0 279.0 215.9 280.0 214.9 283.1 213.8 287.3 213.2 291.4 213.4 297.6 214.8 301.4 217.0 302.9 219.1 305.0 225.3 314.1 228.7 318.3 230.9 320.9 233.5 321.8 235.6 321.9 237.7 320.3 240.4 316.2 242.7 312.1 243.5 305.9 243.6 285.2 241.7 264.5 240.9 248.0 238.6 229.4 239.7 222.6 237.7 217.0 232.4 212.9 231.5 196.3 232.2 163.3 235.5 152.9 235.6 146.7 235.0 141.2 233.5 139.0 231.5 137.6 227.3 134.4 221.1 134.0 219.1 134.6 217.0 136.6 214.9ZM309.7 256.3 312.1 254.9 314.1 254.7 316.2 255.1 317.8 256.3 317.2 258.3 314.1 259.1 310.0 258.3ZM39.1 260.4 45.5 259.5 49.6 260.0 51.7 260.9 53.6 262.5 54.1 264.5 53.1 266.6 49.8 268.7 43.4 269.6 39.3 269.1 37.7 268.7 34.8 266.6 34.2 264.5 35.1 262.5Z" fill="#FCB31C"/><path d="M266.3 124.0 268.7 123.4 272.3 124.0 271.8 126.1 268.7 127.1 265.5 126.1ZM248.0 144.7 252.1 143.8 256.3 144.0 271.7 146.7 277.6 148.8 279.9 150.9 280.4 152.9 279.6 155.0 277.1 157.1 272.8 158.6 268.7 159.4 256.3 159.5 241.8 158.7 237.7 157.8 236.9 157.1 237.7 155.0 243.9 148.0Z" fill="#FF9910"/></g>
<path d="M251.1 138.5C250.2 136.4 252.0 132.6 253.2 130.2C254.4 127.8 256.1 125.7 258.3 124.0C260.6 122.3 262.7 121.3 266.6 119.9C270.5 118.4 276.8 116.8 281.9 115.3C287.0 113.8 292.0 111.4 297.0 110.8C302.0 110.2 309.2 111.0 312.1 111.6C314.9 112.2 315.4 113.4 314.1 114.5C312.9 115.6 308.6 117.0 304.4 118.2C300.3 119.5 294.3 120.2 289.3 121.9C284.3 123.7 278.5 125.9 274.5 128.5C270.4 131.2 267.6 135.7 264.9 138.1C262.3 140.4 260.6 142.5 258.3 142.6C256.0 142.7 252.0 140.5 251.1 138.5Z" fill="#FCB31C"/><path d="M229.4 225.3C230.2 224.1 233.3 224.9 233.9 226.3C234.6 227.7 233.5 230.9 233.5 233.5C233.6 236.1 233.6 239.0 234.2 241.8C234.7 244.6 236.0 247.5 236.6 250.1C237.2 252.7 238.0 256.1 237.7 257.3C237.3 258.5 235.6 258.5 234.6 257.3C233.5 256.1 232.3 252.7 231.5 250.1C230.6 247.5 229.8 244.6 229.4 241.8C229.0 239.0 229.0 236.3 229.0 233.5C229.0 230.8 228.6 226.5 229.4 225.3Z" fill="#FCB31C"/><path d="M309.0 227.3C310.0 226.6 314.0 227.3 316.2 228.4C318.4 229.4 320.7 231.3 322.4 233.5C324.1 235.8 325.4 238.9 326.1 241.8C326.8 244.7 327.0 248.3 326.5 251.1C326.1 253.9 325.5 256.6 323.4 258.3C321.4 260.1 316.2 262.1 314.1 261.4C312.1 260.7 310.9 256.8 311.0 254.2C311.2 251.6 314.5 248.7 315.2 245.9C315.9 243.2 316.0 239.9 315.2 237.7C314.3 235.4 311.0 234.2 310.0 232.5C309.0 230.8 307.9 228.0 309.0 227.3Z" fill="#FCB31C"/><path d="M579.7 126.1C579.0 125.2 579.5 121.9 580.7 119.9C581.9 117.8 583.8 115.9 586.9 113.7C590.0 111.4 595.2 108.1 599.3 106.2C603.5 104.3 607.6 103.3 611.7 102.3C615.9 101.3 620.0 100.8 624.1 100.4C628.3 100.1 632.7 100.2 636.5 100.2C640.3 100.3 644.3 100.2 646.9 100.9C649.5 101.5 652.4 103.4 652.0 104.4C651.7 105.4 648.8 106.1 644.8 106.8C640.8 107.6 633.4 108.3 628.3 109.1C623.1 110.0 617.9 111.0 613.8 112.0C609.7 113.0 606.9 113.8 603.5 115.3C600.0 116.8 596.2 119.3 593.1 120.9C590.0 122.5 587.1 124.2 584.9 125.0C582.6 125.9 580.4 126.9 579.7 126.1Z" fill="#FCB31C"/><path d="M595.2 111.6C596.2 110.6 600.4 109.0 603.5 107.9C606.6 106.8 610.7 105.6 613.8 105.0C616.9 104.4 621.0 103.9 622.1 104.2C623.1 104.4 621.7 106.0 620.0 106.6C618.3 107.3 614.5 107.6 611.7 108.3C609.0 109.0 605.9 110.1 603.5 111.0C601.1 111.9 598.6 113.6 597.3 113.7C595.9 113.8 594.2 112.6 595.2 111.6Z" fill="#FF9910"/><path d="M551.8 152.5C550.8 152.1 548.7 151.7 546.6 152.3C544.6 152.9 541.5 154.6 539.4 156.0C537.3 157.5 534.6 159.8 534.2 161.2C533.9 162.6 535.6 164.1 537.3 164.3C539.1 164.5 542.3 163.3 544.6 162.2C546.8 161.2 549.4 159.3 550.8 158.1C552.1 156.9 552.7 155.9 552.8 155.0C553.0 154.1 552.8 153.0 551.8 152.5Z" fill="#F0C829"/><path d="M551.4 152.9C550.6 152.6 548.9 152.4 547.3 153.1C545.6 153.9 542.3 156.3 541.5 157.5C540.7 158.7 541.5 160.0 542.5 160.2C543.5 160.4 546.1 159.5 547.7 158.7C549.2 157.9 551.2 156.4 551.8 155.4C552.4 154.4 552.1 153.3 551.4 152.9Z" fill="#FCB31C"/><path d="M550.6 153.1C550.0 152.8 548.2 152.8 547.3 153.3C546.3 153.9 544.9 155.5 544.8 156.2C544.6 157.0 545.5 157.8 546.4 157.7C547.4 157.5 549.9 156.2 550.6 155.4C551.2 154.7 551.1 153.5 550.6 153.1Z" fill="#FF7F00"/><path d="M549.5 153.3C549.0 153.1 547.7 153.2 547.3 153.6C546.8 153.9 546.4 155.0 546.6 155.4C546.9 155.8 548.1 156.1 548.7 156.0C549.3 155.9 550.0 155.2 550.1 154.8C550.3 154.3 550.0 153.6 549.5 153.3Z" fill="#FF5500"/><path d="M89.9 161.2C90.4 160.8 91.5 160.5 93.0 160.0C94.5 159.4 97.1 158.6 99.2 158.1C101.3 157.6 104.4 156.8 105.4 157.1C106.4 157.4 106.4 159.3 105.4 160.0C104.4 160.6 101.3 160.7 99.2 161.2C97.1 161.7 94.5 162.6 93.0 162.9C91.5 163.1 90.4 162.9 89.9 162.6C89.4 162.4 89.4 161.6 89.9 161.2Z" fill="#FF9910"/><path d="M90.9 161.6C91.6 161.3 93.7 160.8 95.1 160.4C96.4 160.0 98.5 159.3 99.2 159.3C99.9 159.4 99.9 160.1 99.2 160.6C98.5 161.0 96.4 161.7 95.1 162.0C93.7 162.3 91.6 162.5 90.9 162.4C90.2 162.4 90.2 162.0 90.9 161.6Z" fill="#FF7F00"/>
<g clip-path="url(#land)"><g fill-rule="evenodd"><rect x="-2" y="-2" width="748" height="376" fill="#0032FF"/><path d="M0.0 0.0 744.0 0.0 744.0 351.3 736.7 347.2 731.8 345.1 725.4 344.0 721.3 344.5 715.2 347.2 709.8 351.3 709.6 353.4 710.9 355.3 716.9 359.6 717.6 361.7 712.8 363.7 694.4 366.1 677.9 367.0 582.8 367.0 568.6 365.8 560.1 363.4 558.0 361.7 558.6 359.6 563.3 353.4 563.6 351.3 562.1 349.3 560.1 348.3 556.2 347.2 551.8 346.8 535.3 347.0 516.7 348.8 513.9 349.3 508.6 351.3 508.4 353.4 511.0 355.5 519.2 359.6 522.0 361.7 520.2 363.7 510.2 365.8 475.3 368.8 452.6 368.9 442.3 367.2 429.9 361.3 421.6 359.9 417.5 360.2 413.3 361.3 405.1 365.6 400.9 367.0 394.7 368.0 386.5 368.2 359.6 365.7 330.7 365.3 307.9 361.4 287.3 361.6 256.3 359.8 248.0 358.1 244.1 355.5 242.8 353.4 242.3 351.3 242.7 349.3 244.7 347.2 248.0 346.1 264.5 343.7 266.6 343.1 268.7 341.0 264.9 338.9 262.5 338.6 254.2 338.3 248.1 338.9 237.7 343.0 231.5 343.7 221.1 342.7 204.6 338.4 192.2 337.9 186.0 338.7 181.9 340.1 171.5 346.3 165.3 348.3 159.1 348.7 144.7 347.6 128.1 348.7 119.9 347.4 115.7 345.7 107.5 341.0 103.3 339.9 82.7 339.3 53.7 336.8 47.5 335.8 39.3 333.0 35.1 332.4 28.9 333.3 25.2 334.8 21.9 336.9 17.1 341.0 15.9 343.1 16.3 345.1 18.6 346.4 20.7 346.8 35.1 345.2 39.3 345.4 43.4 346.3 63.2 353.4 65.9 355.5 67.0 357.5 66.9 359.6 65.6 361.7 61.9 363.7 55.8 364.9 47.5 365.0 39.3 364.3 29.4 361.7 16.5 354.8 0.0 351.3ZM648.9 19.8 646.9 21.0 644.8 23.4 644.2 26.9 644.9 28.9 649.9 35.1 653.1 37.7 657.2 40.1 663.4 41.5 669.6 40.5 676.1 37.2 678.5 35.1 679.8 33.1 680.1 31.0 679.1 28.9 676.7 26.9 671.7 24.3 657.2 19.5 653.1 19.1Z" fill="#055FBE"/><path d="M0.0 0.0 152.4 0.0 155.0 3.0 159.1 5.7 192.7 22.7 198.4 24.9 206.7 26.1 212.9 26.0 217.0 25.2 221.1 23.5 229.4 17.8 235.6 14.9 245.9 11.9 252.1 11.7 254.2 12.6 257.0 18.6 258.6 20.7 261.4 22.7 272.8 27.6 282.7 33.1 287.3 34.3 291.4 34.5 298.1 33.1 307.9 27.1 318.2 22.7 347.2 8.2 356.6 4.1 360.2 2.1 362.5 0.0 443.2 0.0 445.3 2.1 448.6 4.1 495.4 26.9 498.8 28.9 504.3 34.0 506.3 35.2 510.5 36.3 520.8 36.5 528.1 35.1 532.0 33.1 537.3 27.2 539.4 25.6 545.6 23.9 553.9 24.4 570.4 28.2 576.6 29.1 595.2 29.1 601.4 30.0 605.5 31.7 615.9 38.5 620.0 40.4 634.5 43.4 637.5 45.5 639.2 47.5 641.8 55.8 643.3 57.9 645.8 59.9 653.1 63.0 657.2 64.1 661.3 64.5 665.5 63.7 667.7 62.0 671.7 56.9 679.9 51.9 688.2 45.3 701.6 39.3 704.4 37.2 705.3 35.1 702.7 31.0 704.7 29.2 706.8 29.8 710.9 33.1 713.0 33.5 721.2 33.1 725.9 31.0 727.9 28.9 728.8 26.9 728.4 18.6 730.2 8.3 730.6 0.0 744.0 0.0 744.0 120.1 739.8 121.9 735.7 126.1 731.6 128.8 725.4 130.4 712.9 132.3 707.7 134.3 707.1 136.4 709.0 138.5 713.0 140.4 719.2 142.1 725.4 143.1 744.0 144.7 744.0 337.4 739.9 337.2 733.7 335.5 721.1 328.6 708.9 324.0 684.1 313.1 677.9 311.3 673.7 310.8 671.7 311.5 665.4 316.2 659.3 318.6 655.1 319.2 653.6 318.3 654.8 314.1 656.0 312.1 657.2 311.3 661.3 310.0 671.7 309.5 673.1 307.9 673.7 305.9 673.2 303.8 671.6 301.7 665.9 299.7 661.3 299.7 657.2 301.0 655.7 301.7 648.9 307.5 640.7 310.0 635.8 312.1 632.8 314.1 631.0 316.2 630.1 318.3 630.3 319.2 632.4 320.2 651.0 319.9 652.7 320.3 650.9 324.5 647.0 328.6 642.7 330.3 638.6 330.7 632.3 328.6 630.4 326.5 628.3 321.3 626.2 320.7 586.9 319.1 574.5 319.6 558.0 321.6 549.7 320.8 531.1 314.9 521.6 310.0 508.4 304.4 499.6 299.7 487.7 294.5 479.5 289.6 475.3 288.9 472.3 289.3 468.3 291.4 462.9 296.8 453.1 301.7 451.2 303.8 451.0 305.9 452.6 306.9 460.9 308.6 464.2 310.0 465.9 314.1 466.0 316.2 465.0 318.9 463.7 320.3 457.4 324.5 456.4 326.5 457.8 328.6 469.1 333.3 471.4 334.8 472.1 336.9 470.4 338.9 466.1 341.0 454.7 343.6 448.5 343.9 442.3 343.5 438.1 342.0 434.0 339.0 431.9 338.2 425.7 337.1 415.4 336.4 409.2 335.1 403.4 332.7 401.2 330.7 401.7 326.5 401.4 324.5 399.0 322.4 390.6 320.6 374.1 319.1 367.9 317.7 363.7 315.5 359.1 312.1 354.0 310.0 351.3 309.5 343.1 309.0 318.3 309.4 297.6 308.4 289.3 306.6 281.1 301.7 275.9 299.7 268.7 298.6 173.6 298.6 161.2 297.1 152.9 294.6 148.8 294.0 144.7 294.4 136.4 297.0 130.2 298.1 87.8 299.7 73.4 301.7 70.9 303.8 74.2 305.9 87.2 310.0 88.9 312.1 86.0 316.2 85.5 318.3 87.2 320.3 94.1 324.5 95.9 326.5 94.8 328.6 88.9 330.7 74.4 332.7 64.1 332.4 57.0 330.7 53.9 328.6 49.6 324.2 47.5 323.2 41.3 322.9 31.0 325.0 22.7 327.3 18.6 329.1 8.3 335.3 4.1 336.7 0.0 337.4 0.0 144.7 18.6 145.4 39.3 142.6 43.4 143.1 55.8 146.3 62.0 146.6 71.4 144.7 74.8 142.6 75.5 140.5 72.3 134.3 72.0 132.3 72.8 126.1 71.3 124.0 68.2 122.7 64.1 122.0 59.9 122.1 45.5 125.8 41.3 126.2 37.2 125.7 25.9 121.9 18.6 120.6 8.3 119.6 0.0 120.1ZM179.8 97.1 171.0 99.2 164.8 101.3 163.0 103.3 163.9 105.4 167.4 107.0 169.5 107.3 175.7 107.0 196.3 103.9 198.6 103.3 201.5 101.3 201.3 99.2 200.5 98.5 198.4 97.1 194.3 96.0 188.1 95.7ZM138.9 320.3 142.6 319.5 146.7 319.2 150.9 319.5 155.0 320.7 157.1 322.0 158.8 324.5 159.2 328.6 158.7 330.7 157.2 332.7 155.0 334.2 150.9 335.3 142.6 335.5 136.4 334.0 134.5 332.7 133.2 330.7 132.8 326.5 133.4 324.5 134.9 322.4ZM514.9 336.9 524.9 335.6 532.6 336.9 528.1 338.9 522.9 339.1 518.0 338.9ZM415.6 347.2 419.5 346.1 424.2 347.2 419.5 348.3ZM388.2 357.5 392.7 357.3 393.2 357.5 392.8 359.6 390.6 360.0 387.3 359.6ZM451.1 357.5 456.7 357.0 465.0 357.7 473.5 359.6 475.3 361.7 467.1 363.9 460.9 364.2 454.8 363.7 449.5 361.7 448.5 359.6Z" fill="#1E7382"/><path d="M6.8 0.0 113.3 0.0 111.1 2.1 107.5 3.7 92.3 8.3 89.4 10.3 87.8 12.4 86.5 16.5 86.7 18.6 93.0 31.0 94.4 33.1 96.9 35.1 101.3 37.1 119.9 40.0 124.0 41.3 132.3 45.2 140.5 46.9 150.9 47.3 183.9 46.8 194.3 45.4 206.7 41.3 210.8 40.5 227.3 41.3 235.6 40.8 239.7 39.6 241.8 38.5 248.0 31.6 252.1 30.3 256.3 30.4 262.5 31.5 267.3 33.1 276.9 37.7 283.1 39.9 291.4 41.8 295.5 42.0 305.9 39.9 314.1 36.4 320.1 33.1 336.9 27.7 350.7 20.7 357.5 19.5 360.8 20.7 364.7 24.8 370.3 28.9 372.0 31.0 372.7 33.1 372.7 35.1 371.9 37.2 367.4 39.3 351.3 41.3 349.3 40.3 349.0 39.3 352.2 33.1 351.3 31.0 349.3 30.6 345.9 31.0 330.7 35.9 328.1 37.2 326.7 39.3 330.7 41.3 345.1 42.6 346.3 43.4 349.1 49.6 351.3 51.7 357.5 54.1 372.0 57.1 376.1 56.7 380.3 54.8 383.8 51.7 386.5 47.7 388.5 46.5 392.7 46.0 413.3 46.6 425.7 45.8 454.7 41.3 461.1 39.3 465.0 37.3 467.1 36.8 469.1 37.0 471.2 37.8 478.3 43.4 485.7 45.7 529.1 48.5 549.7 49.1 558.0 49.8 564.2 51.2 568.3 52.7 576.6 57.8 578.7 58.4 599.3 56.8 607.6 56.9 613.8 57.8 620.0 59.9 630.3 64.8 644.8 68.8 663.4 75.6 673.7 77.5 677.9 77.5 683.2 76.5 688.0 74.4 690.8 72.3 692.0 70.3 691.9 68.2 689.5 64.1 688.9 62.0 689.2 59.9 692.7 53.7 696.5 50.3 703.0 47.5 719.2 45.0 725.4 43.3 735.7 37.9 744.0 32.0 744.0 114.7 733.7 114.7 728.7 115.7 727.5 121.9 725.6 124.0 721.3 125.2 717.1 125.2 712.7 124.0 710.1 121.9 707.0 117.8 704.7 116.4 694.4 112.7 686.1 107.3 684.1 106.7 682.0 106.8 681.0 107.5 679.9 109.5 679.1 113.7 674.2 124.0 673.4 128.1 674.7 134.3 679.1 142.6 682.0 145.8 686.1 147.9 692.3 148.7 704.7 147.5 710.9 147.5 744.0 149.8 744.0 294.2 731.6 296.9 723.3 297.5 704.7 297.1 692.3 297.6 671.7 295.2 659.3 295.6 651.3 297.6 636.5 305.0 613.8 312.2 593.1 315.5 568.3 316.7 555.9 315.9 539.4 310.9 518.7 302.1 485.7 285.4 479.5 283.4 475.3 283.0 471.2 283.4 465.0 285.4 450.5 293.2 425.7 305.0 400.9 312.0 390.6 313.3 378.2 312.1 363.7 307.6 353.4 305.7 341.0 305.2 316.2 305.7 305.9 305.0 297.6 303.1 284.8 297.6 274.9 295.8 262.5 295.3 183.9 295.4 175.7 294.2 161.2 288.9 152.9 287.6 142.6 287.8 124.0 291.2 113.7 292.1 41.3 292.1 8.3 293.3 0.0 294.2 0.0 149.8 31.0 150.7 51.7 151.9 62.0 151.2 80.6 148.1 86.8 148.0 90.9 148.6 95.1 150.0 103.3 155.0 107.5 156.5 111.6 157.3 116.2 157.1 119.9 155.4 121.9 152.9 123.4 148.8 124.0 144.7 124.0 134.3 120.1 121.9 120.5 119.9 124.0 116.7 131.5 105.4 134.3 102.5 140.5 100.0 144.7 99.4 148.8 99.7 150.9 100.5 156.5 107.5 159.3 109.5 163.3 111.1 169.5 111.4 186.0 108.8 202.5 107.2 208.7 105.8 213.2 103.3 215.1 101.3 216.1 99.2 216.3 97.1 215.4 95.1 212.3 93.0 202.5 89.9 194.3 88.3 190.1 88.2 186.0 88.8 177.1 93.0 171.5 94.7 161.2 96.1 157.1 95.7 155.5 95.1 150.9 88.7 146.7 86.4 140.5 86.0 134.3 87.0 117.8 92.8 114.2 95.1 112.3 97.1 110.7 101.3 111.0 105.4 117.2 117.8 117.5 119.9 114.7 121.9 105.4 123.9 101.3 123.9 97.1 123.0 84.7 116.5 78.5 115.1 43.4 114.7 22.7 116.3 0.0 114.7 0.0 32.0 4.2 26.9 6.4 20.7ZM289.3 47.4 285.2 49.6 284.2 51.7 286.6 53.7 289.3 54.3 293.5 54.2 295.9 53.7 299.3 51.7 299.5 49.6 296.9 47.5 293.5 46.7ZM562.1 66.1 558.0 66.8 555.1 68.2 553.6 70.3 554.0 72.3 555.9 73.5 560.1 74.4 564.2 73.5 566.8 72.3 568.3 70.3 568.1 68.2 566.3 66.7ZM722.7 316.2 723.3 315.7 725.4 315.6 727.7 316.2 727.5 316.9 725.4 317.5ZM0.0 324.5 2.1 324.6 3.1 326.5 0.9 328.6 0.0 328.8ZM741.1 324.5 744.0 324.2 744.0 328.8 741.8 328.6 739.7 326.5Z" fill="#3C8C5A"/><path d="M81.6 55.8 88.9 55.3 149.4 57.9 160.7 59.9 167.4 63.4 188.1 65.7 225.3 72.1 237.7 73.3 262.5 74.3 283.1 77.5 303.8 78.7 310.0 79.9 384.4 114.6 392.7 119.1 396.7 121.9 400.1 126.1 402.2 132.3 403.4 140.5 403.6 150.9 404.7 155.0 407.1 159.2 411.3 163.9 413.3 165.3 417.5 166.4 421.6 165.6 423.7 164.4 431.9 156.6 436.1 153.7 463.5 140.5 485.7 129.1 502.2 119.6 509.8 113.7 511.4 111.6 514.6 105.0 516.7 103.3 520.8 103.7 531.1 107.1 535.3 107.4 539.4 106.5 543.5 104.5 547.7 101.3 549.0 99.2 549.4 97.1 548.2 93.0 542.1 84.7 540.0 82.7 535.1 80.6 516.7 76.3 512.5 76.6 508.4 78.0 504.0 80.6 502.1 82.7 501.8 84.7 502.6 86.8 506.7 93.0 506.5 95.1 504.3 96.1 498.1 96.5 485.7 95.9 480.1 95.1 469.1 92.2 462.9 91.5 454.7 92.1 440.2 95.3 436.1 95.6 433.1 95.1 434.0 93.0 438.0 90.9 446.4 87.9 454.7 82.7 469.1 76.3 481.5 69.0 487.7 66.9 510.5 61.2 516.7 60.6 524.9 61.1 535.3 62.7 539.4 64.1 541.7 66.1 544.2 74.4 545.3 76.5 547.7 78.2 549.7 78.9 555.9 79.6 566.3 79.4 582.8 77.0 595.2 80.5 615.9 83.8 642.7 93.6 648.9 96.9 653.1 100.4 655.2 103.3 657.1 111.6 661.3 119.3 663.2 128.1 665.0 132.3 677.1 148.8 682.0 152.4 686.1 153.8 692.3 154.7 719.2 153.3 744.0 154.5 744.0 238.0 740.8 239.7 737.8 242.2 731.2 250.1 723.3 257.5 721.0 260.4 718.7 264.5 717.6 268.7 717.4 281.1 716.6 283.1 715.1 285.0 713.0 286.4 708.9 287.7 702.7 288.5 682.0 288.4 669.6 290.7 651.0 293.1 644.8 295.0 632.3 301.7 622.1 305.2 594.5 312.1 580.7 313.9 570.4 313.9 562.1 312.8 537.3 304.9 529.6 301.7 508.7 291.4 487.7 280.1 481.5 277.7 477.4 277.0 471.2 277.3 462.9 280.1 444.8 289.3 418.4 301.7 409.2 304.0 390.6 306.4 382.3 305.9 365.8 303.1 355.5 302.2 338.9 301.8 318.3 302.4 310.0 302.0 301.7 299.7 295.5 296.2 291.4 294.5 281.1 293.0 264.5 292.6 212.9 292.6 194.3 293.1 186.0 292.8 177.7 291.0 165.3 285.2 159.1 284.1 142.6 284.3 115.7 287.1 95.1 287.1 62.0 285.3 47.5 283.3 41.3 281.8 35.1 279.0 33.7 276.9 34.0 274.9 37.5 268.7 36.3 262.5 36.7 260.4 38.3 258.3 44.4 254.2 47.2 250.1 47.7 243.9 47.2 241.8 45.5 238.8 41.3 236.0 35.1 234.8 18.6 236.8 6.2 236.7 0.0 238.0 0.0 154.5 20.7 155.0 37.2 157.7 45.5 158.1 53.7 157.1 74.4 153.0 82.7 152.7 88.9 154.1 101.3 160.7 109.5 164.0 117.8 166.1 121.9 166.1 126.1 163.9 128.1 161.5 130.7 157.1 136.1 144.7 137.3 138.5 137.3 121.9 138.0 115.7 139.6 111.6 142.6 108.8 144.7 108.5 146.7 109.1 157.1 114.9 161.2 116.1 165.3 116.5 169.5 116.0 187.0 111.6 212.9 110.5 217.0 109.5 221.1 107.8 229.4 102.0 240.0 97.1 243.3 95.1 243.8 93.0 241.5 90.9 237.0 88.9 212.9 81.4 204.6 79.7 186.0 77.5 179.8 75.9 175.9 74.4 172.5 72.3 167.4 66.4 165.3 64.7 157.1 64.2 144.7 64.5 101.3 68.5 95.1 70.9 81.4 80.6 80.1 82.7 81.2 84.7 92.0 90.9 94.0 93.0 94.9 95.1 94.8 99.2 93.8 101.3 91.7 103.3 88.9 104.5 70.3 107.6 62.0 108.5 35.1 107.6 26.9 107.9 14.5 109.5 0.0 108.6 0.0 72.3 16.5 71.3 41.3 67.2 49.6 65.1 59.9 61.4ZM591.1 227.1 584.9 228.8 580.0 231.5 575.0 235.6 573.5 237.7 573.5 239.7 576.1 241.8 578.7 242.7 582.8 243.7 589.0 244.1 595.2 243.6 599.3 242.7 604.7 239.7 606.2 237.7 606.7 235.6 605.6 231.5 603.7 229.4 599.3 227.3ZM223.2 229.3 208.7 235.1 196.3 235.4 192.2 236.4 190.0 237.7 188.6 239.7 188.1 241.8 188.3 243.9 190.1 246.8 192.2 248.1 194.3 248.5 198.4 248.1 210.8 244.4 214.9 244.1 219.1 244.9 225.6 248.0 231.5 249.6 258.3 250.8 272.8 252.5 281.1 251.8 289.9 250.1 294.3 248.0 296.2 245.9 297.0 243.9 296.5 239.7 293.5 235.6 289.3 232.8 283.1 230.9 272.8 230.0 248.0 232.0 241.8 231.4 231.5 229.2ZM744.0 72.3 744.0 108.6 717.1 103.8 710.9 102.2 693.1 95.1 689.3 93.0 687.2 90.9 686.7 88.9 687.5 86.8 689.2 84.7 695.2 80.6 702.7 77.3 710.9 75.1 721.3 73.4ZM416.1 101.3 419.5 100.9 421.3 101.3 420.6 103.3 417.5 104.6 415.4 104.6 413.3 103.3Z" fill="#3C9F23"/><path d="M290.6 90.9 297.6 89.7 305.9 90.2 330.7 97.8 358.0 109.5 376.1 118.2 382.5 121.9 384.8 124.0 387.3 128.1 388.3 132.3 389.0 142.6 390.9 148.8 394.0 155.0 401.6 165.3 406.5 173.6 408.3 177.7 408.5 179.8 407.6 181.9 405.1 183.0 392.7 186.0 382.3 192.8 372.0 196.3 361.7 203.7 351.3 206.7 347.3 208.7 341.0 215.6 336.9 216.7 322.4 217.2 316.2 218.0 312.1 219.1 307.9 222.9 297.6 223.1 270.7 221.2 262.9 221.1 248.0 222.4 221.1 223.1 204.6 225.0 188.1 226.1 181.3 227.3 177.1 229.4 175.2 231.5 174.3 233.5 173.4 239.7 173.3 245.9 175.2 256.3 175.4 260.4 173.9 264.5 169.8 268.7 169.3 270.7 169.7 274.9 168.2 276.9 165.3 277.8 160.5 279.0 150.9 280.0 121.9 281.4 98.5 281.1 80.6 279.2 73.9 276.9 72.1 274.9 72.7 272.8 76.3 268.7 76.4 266.6 75.5 264.5 72.8 260.4 70.8 258.3 59.9 252.3 58.3 250.1 57.8 248.0 58.0 245.9 59.9 242.1 67.6 235.6 66.9 233.5 59.9 227.7 53.7 220.3 49.6 219.3 39.3 220.3 31.0 220.2 10.3 217.7 0.0 217.8 0.0 162.9 18.6 162.0 37.2 164.4 43.4 164.5 55.8 162.7 74.4 157.8 78.5 157.5 82.7 157.9 86.2 159.1 89.7 161.2 94.4 165.3 95.3 167.4 93.7 169.5 84.1 171.5 79.8 173.6 78.6 175.7 79.2 177.7 81.8 179.8 86.8 181.1 90.9 181.1 95.1 180.4 103.3 177.7 107.5 178.0 117.8 182.0 128.1 188.5 132.3 190.5 138.5 191.9 144.7 191.3 147.4 190.1 150.0 188.1 151.4 186.0 152.1 181.9 150.9 177.9 149.0 175.7 143.1 171.5 140.5 168.7 139.3 165.3 140.0 159.1 142.6 153.7 146.7 149.7 150.9 147.7 161.2 146.1 165.3 144.7 165.7 142.6 164.7 140.5 160.0 134.3 159.2 132.3 159.4 130.2 161.2 128.8 165.3 127.9 179.8 128.3 188.1 127.8 196.9 126.1 200.5 124.5 204.6 123.7 219.1 127.0 229.4 128.0 237.7 127.4 265.7 124.0 268.7 122.1 269.4 119.9 269.3 109.5 271.4 103.3 274.9 99.4 279.0 96.3 283.1 94.0ZM569.4 107.5 586.9 106.1 597.3 106.7 603.5 108.3 622.1 114.3 640.7 117.3 648.8 119.9 651.7 121.9 653.2 124.0 655.9 132.3 657.6 134.3 663.4 138.8 667.1 142.6 673.7 154.1 675.8 156.2 679.9 158.8 688.2 162.1 694.4 163.6 700.6 164.1 715.1 160.6 723.3 159.7 731.6 160.4 744.0 162.9 744.0 217.8 735.7 219.3 729.5 221.9 724.8 225.3 721.6 229.4 711.7 254.2 709.0 262.5 708.3 266.6 709.5 276.9 708.9 279.0 707.1 281.1 704.7 282.3 700.6 283.1 696.5 283.1 690.3 281.9 683.4 279.0 671.7 272.2 655.1 266.5 642.7 261.4 636.5 260.3 626.2 260.0 620.0 258.3 615.9 254.9 613.8 251.7 613.4 250.1 613.8 248.0 615.5 243.9 616.3 239.7 615.2 233.5 613.2 229.4 611.3 227.3 607.6 224.9 603.5 223.4 597.3 222.3 586.9 222.0 560.1 223.1 545.6 225.4 537.3 228.1 514.6 237.4 498.1 245.4 487.7 251.9 483.6 253.9 479.5 255.1 475.3 255.6 469.1 254.9 464.4 252.1 462.1 248.0 461.9 243.9 463.7 235.6 463.9 231.5 462.8 227.3 460.9 224.7 458.8 223.0 454.7 221.1 429.9 213.6 418.7 210.8 416.8 208.7 417.2 206.7 418.6 204.6 421.4 202.5 434.0 196.3 438.1 193.1 442.3 190.8 454.7 186.0 460.9 180.0 475.3 175.7 478.3 173.6 481.5 170.1 483.6 168.9 496.0 165.3 504.3 159.7 512.5 156.9 516.7 155.0 522.9 150.6 533.2 147.0 537.3 144.7 542.6 138.5 547.0 134.3 548.3 132.3 548.1 121.9 549.7 117.8 551.2 115.7 553.9 113.4 558.0 110.9 564.2 108.5ZM663.4 204.5 661.3 206.7 663.4 207.5 665.5 207.5 668.3 206.7 667.4 204.6ZM191.4 117.8 194.3 117.4 198.0 117.8 199.6 119.9 195.1 119.9ZM413.5 186.0 417.5 184.6 423.7 184.2 429.9 184.7 433.8 186.0 433.4 188.1 429.9 189.8 414.0 194.3 409.8 200.5 406.1 202.5 396.8 204.5 392.7 204.9 389.2 204.6 389.6 200.5 390.5 198.4 392.7 196.6 409.2 193.5 411.3 191.9ZM374.4 206.7 382.3 206.0 386.8 206.7 385.8 208.7 383.5 210.8 380.3 212.3 376.1 213.2 372.0 212.8 370.3 210.8 370.7 208.7ZM309.9 225.3 312.1 224.6 318.3 225.7 321.7 227.3 322.2 229.4 320.3 231.6 318.3 232.3 316.2 232.3 314.1 231.5 311.6 229.4 310.0 227.3ZM244.8 258.3 248.0 258.3 253.0 260.4 254.9 262.5 255.8 264.5 255.5 266.6 250.1 268.4 239.7 269.4 231.5 269.8 227.3 268.7 229.4 267.7 238.4 260.4ZM310.0 258.3 312.1 258.6 313.8 260.4 311.3 262.5 307.9 263.6 301.7 264.2 297.6 263.5 295.3 262.5 296.7 260.4 297.6 260.1ZM206.7 279.0 243.9 279.2 276.9 280.8 281.1 281.2 285.2 282.4 286.3 283.1 286.4 285.2 282.6 287.3 268.7 288.8 233.5 289.3 212.9 289.0 192.2 290.0 186.0 289.3 181.9 287.5 179.8 285.2 179.3 283.1 180.7 281.1 183.9 280.0 192.2 279.3ZM614.8 293.5 622.1 294.0 624.6 295.5 624.0 297.6 620.8 299.7 614.6 301.7 601.4 304.7 587.3 310.0 580.7 311.0 574.5 311.0 568.3 310.0 563.9 307.9 558.0 302.1 555.9 301.1 546.4 299.7 542.2 297.6 543.5 296.1 548.1 295.5 553.9 296.6 562.1 299.6 573.3 299.7 582.8 298.6 599.3 295.2Z" fill="#6EAD10"/><path d="M290.8 105.4 295.0 105.4 298.4 107.5 301.0 111.6 300.3 113.7 295.5 113.7 290.9 111.6 289.1 109.5 288.9 107.5ZM629.8 124.0 634.5 123.3 640.7 124.0 643.2 126.1 643.7 128.1 643.3 130.2 640.7 134.3 636.5 137.3 622.1 139.4 618.9 140.5 618.6 142.6 620.0 144.7 629.8 152.9 631.5 155.0 632.2 157.1 631.4 159.1 622.1 163.9 617.9 167.2 614.7 171.5 614.0 173.6 614.5 175.7 619.4 177.7 626.2 177.7 635.2 175.7 638.4 173.6 639.7 171.5 640.0 169.5 638.6 163.3 638.7 161.2 640.5 157.1 640.7 155.0 639.5 148.8 639.7 144.7 640.7 142.3 642.4 140.5 646.9 139.7 655.1 141.1 658.7 142.6 661.3 144.7 663.0 148.8 661.9 159.1 664.1 163.3 672.0 171.5 672.6 173.6 672.4 175.7 671.2 177.7 659.8 188.1 644.8 195.9 642.7 197.5 640.8 200.5 638.5 206.7 636.5 208.8 628.4 214.9 624.1 219.8 622.1 221.1 617.9 221.0 586.9 215.5 576.9 212.9 572.0 210.8 569.8 208.7 569.7 206.7 570.4 205.9 572.5 204.2 581.6 200.5 584.4 198.4 585.5 196.3 585.3 194.3 584.0 192.2 578.5 188.1 578.7 186.0 586.9 182.8 591.1 180.2 592.6 177.7 592.4 175.7 590.9 173.6 586.9 170.2 575.0 163.3 570.4 160.0 566.3 157.8 558.0 155.0 555.9 153.3 555.0 150.9 555.9 146.7 558.0 144.7 560.1 143.8 564.2 142.8 568.3 142.5 572.5 142.8 576.6 143.9 584.9 147.8 589.0 148.2 593.1 147.4 603.5 143.1 615.9 139.6 617.9 138.0 624.0 128.1 626.0 126.1ZM360.0 126.1 361.7 124.7 363.7 124.2 367.9 125.0 370.0 126.1 371.1 128.1 370.7 130.2 368.6 132.3 365.8 133.3 361.7 132.7 359.4 130.2 359.3 128.1ZM351.6 146.7 357.5 145.3 363.7 144.7 369.9 145.7 374.1 147.7 380.3 152.9 391.3 165.3 393.3 169.5 393.4 171.5 392.7 173.6 390.5 175.7 386.5 177.7 350.9 194.3 322.4 204.7 316.2 206.1 310.0 206.7 293.5 204.6 289.3 204.9 283.9 206.7 276.6 210.8 270.1 212.9 239.7 217.5 221.1 218.8 186.0 219.3 175.7 218.6 167.4 216.7 161.2 213.8 157.1 210.4 153.9 204.6 153.6 200.5 154.3 198.4 158.6 192.2 163.2 181.9 165.3 179.6 169.5 177.2 192.2 169.7 196.5 167.4 201.9 165.3 206.7 165.3 210.7 167.4 210.1 169.5 200.9 171.5 199.7 173.6 203.4 175.7 206.7 175.7 208.7 174.9 211.3 173.6 212.9 171.6 214.9 170.3 221.1 170.1 235.6 171.2 241.8 173.0 248.0 175.7 252.1 175.8 257.5 173.6 263.1 167.4 268.7 165.3 291.4 163.3 310.0 160.2 320.3 157.1 338.9 150.0ZM541.8 163.3 545.0 163.3 546.2 165.3 543.3 167.4 539.4 168.0 536.8 167.4 537.3 165.3ZM52.8 173.6 57.9 172.4 59.9 172.4 62.8 173.6 64.3 175.7 67.7 183.9 68.2 186.0 67.7 188.1 64.4 190.1 62.0 190.7 51.7 191.0 41.3 189.6 37.5 188.1 35.6 186.0 35.4 183.9 37.2 181.4 39.5 179.8ZM0.0 175.7 4.3 175.7 5.0 177.7 0.0 179.8ZM516.7 175.7 520.8 174.9 523.2 175.7 521.6 177.7 518.7 179.1 516.7 179.8 513.1 179.8 513.8 177.7ZM744.0 175.7 744.0 179.8 739.9 180.2 738.7 179.8 739.4 177.7ZM496.0 186.0 502.2 184.2 504.3 184.2 504.8 186.0 502.6 188.1 498.1 190.0 493.9 190.7 491.7 190.1 493.1 188.1ZM723.3 186.0 727.5 185.4 728.9 186.0 725.4 188.1 723.3 188.1ZM482.3 194.3 484.5 194.3 484.3 196.3 481.7 198.4 471.2 201.9 469.1 203.5 466.7 206.7 463.5 208.7 460.9 209.2 456.7 208.8 454.7 206.7 456.7 204.6 469.1 200.9 475.3 196.3ZM71.9 210.8 76.5 209.7 82.7 209.1 90.9 209.2 95.1 209.8 97.0 210.8 98.3 212.9 98.6 214.9 98.0 219.1 95.4 223.2 90.9 225.4 82.7 226.3 74.4 225.0 70.5 223.2 68.2 221.1 67.0 219.1 66.6 217.0 67.0 214.9 68.3 212.9ZM485.0 233.5 487.7 233.8 488.8 235.6 486.7 237.7 483.6 238.4 483.1 237.7 483.3 235.6Z" fill="#A0B91C"/><path d="M252.9 190.1 262.5 190.1 268.7 191.0 272.8 193.2 273.7 194.3 274.0 196.3 271.7 200.5 265.8 206.7 262.3 208.7 258.3 210.3 250.1 212.2 233.5 214.2 223.2 214.4 213.5 212.9 208.3 210.8 206.0 208.7 205.8 206.7 207.1 204.6 208.7 203.4 213.9 200.5 221.1 197.5 231.5 193.6 237.7 192.0ZM76.3 214.9 80.6 213.5 84.7 213.5 89.1 214.9 90.4 217.0 89.6 219.1 86.8 221.0 84.7 221.5 80.6 221.5 78.5 221.1 75.3 219.1 74.6 217.0Z" fill="#C8BE1E"/><path d="M241.7 198.4 248.0 197.8 252.6 198.4 256.3 200.5 256.8 202.5 255.9 204.6 253.3 206.7 248.0 208.5 243.9 209.2 231.5 209.5 227.0 208.7 224.5 206.7 225.6 204.6 228.8 202.5 233.8 200.5Z" fill="#F0C829"/></g></g>
<g clip-path="url(#lakes)"><g fill-rule="evenodd"><rect x="-2" y="-2" width="748" height="376" fill="#055FBE"/><path d="M0.0 12.4 14.5 12.2 35.1 13.4 55.8 16.1 74.4 20.5 80.6 21.1 88.6 20.7 103.3 17.4 113.7 16.1 126.1 16.2 136.4 17.8 146.7 21.6 152.9 25.1 157.8 28.9 159.5 31.0 160.3 33.1 160.9 39.3 161.8 41.3 172.8 51.7 180.7 57.9 188.4 62.0 194.3 63.1 202.5 63.5 208.7 63.2 216.3 62.0 231.5 54.8 250.0 49.6 264.5 44.3 270.7 43.0 276.9 42.4 287.3 42.4 318.3 44.6 341.0 45.7 349.3 45.5 358.5 43.4 367.9 38.4 372.0 36.8 378.2 35.6 384.4 35.1 392.7 35.1 400.9 36.2 407.1 38.2 417.5 42.9 427.8 45.0 454.7 46.7 484.5 51.7 506.3 52.6 518.7 52.4 533.0 49.6 537.3 47.9 540.6 45.5 548.3 37.2 553.9 33.0 564.2 26.7 572.5 23.6 578.7 23.1 593.1 25.4 601.4 26.1 609.7 25.6 622.1 23.1 626.2 22.7 653.1 23.8 665.5 23.6 677.9 22.3 692.3 18.2 698.5 17.3 702.7 17.7 713.0 21.4 719.2 22.0 724.6 20.7 731.6 15.2 733.7 14.2 737.8 13.0 744.0 12.4 744.0 364.2 740.9 361.7 737.1 359.6 721.3 352.7 706.8 347.3 696.5 344.6 684.1 343.7 657.2 345.8 648.9 345.9 643.2 345.1 639.5 343.1 640.7 341.0 659.3 334.3 662.6 332.7 664.6 330.7 664.2 328.6 661.4 326.5 649.6 322.4 642.7 321.4 638.6 321.7 634.5 323.2 632.4 324.7 629.9 328.6 629.9 332.7 634.3 341.0 630.3 342.2 624.1 342.8 597.3 342.1 582.8 344.3 572.5 346.6 564.2 349.6 539.8 361.7 535.8 365.8 534.0 372.0 369.7 372.0 372.8 369.9 376.1 369.0 394.7 366.1 407.1 360.2 413.3 358.7 423.7 358.4 440.6 359.6 448.5 361.0 456.7 363.4 460.9 363.8 467.1 363.3 475.1 361.7 477.7 359.6 476.0 357.5 462.9 352.2 452.6 347.2 446.4 345.9 429.9 343.8 415.4 339.8 409.2 338.9 403.0 339.6 392.3 345.1 388.5 346.5 378.2 348.3 369.9 348.3 363.7 347.7 347.2 343.6 343.1 343.7 338.9 344.6 312.1 351.9 290.9 359.6 287.5 361.7 285.6 363.7 284.5 367.9 284.9 372.0 4.3 372.0 2.8 367.9 0.0 364.2ZM496.7 39.3 502.2 37.9 508.4 37.6 514.6 39.1 516.7 41.3 514.6 43.6 506.3 43.8 502.2 43.3 496.0 41.3Z" fill="#1E7382"/><path d="M0.0 16.5 0.0 15.4 4.1 15.0 20.7 15.5 31.0 17.1 49.6 21.1 76.5 25.0 84.7 25.0 105.4 22.9 111.6 23.0 117.8 24.2 122.7 26.9 123.9 28.9 124.2 31.0 123.6 33.1 120.2 39.3 119.7 41.3 120.5 43.4 124.0 46.3 131.6 49.6 133.0 51.7 128.5 55.8 127.6 57.9 129.8 59.9 140.2 62.0 161.2 63.0 175.7 66.2 181.9 66.9 210.8 65.7 222.1 64.1 239.7 57.2 260.4 52.8 274.9 47.9 281.1 46.6 293.5 46.2 324.5 50.1 336.9 50.8 349.3 50.7 363.7 49.0 369.9 47.3 380.3 43.2 388.5 42.0 394.7 43.0 405.0 47.5 414.4 49.6 450.5 52.4 473.3 55.0 496.0 56.3 505.6 57.9 511.6 59.9 524.1 66.1 527.0 68.3 532.9 74.4 539.4 78.5 549.7 83.0 553.9 84.0 560.1 84.6 580.7 83.1 583.3 82.7 588.6 80.6 590.0 78.5 589.5 76.5 586.9 73.7 580.0 68.2 579.5 66.1 580.9 64.1 588.3 57.9 595.2 48.9 599.3 45.9 605.5 43.1 628.3 37.7 635.7 33.1 640.0 31.0 646.9 29.6 696.5 26.0 715.1 26.7 723.3 26.0 729.5 23.5 735.3 18.6 737.8 17.2 744.0 15.4 744.0 327.5 737.8 325.1 727.5 319.0 723.3 317.7 717.1 316.6 698.5 315.3 665.5 315.0 646.9 313.7 636.5 314.1 628.3 315.3 611.7 321.2 601.4 323.3 589.0 324.4 560.1 325.6 537.3 328.6 514.6 327.8 496.0 327.9 458.8 325.1 415.4 323.7 403.0 323.8 388.5 325.3 374.4 328.6 372.0 330.7 380.3 335.6 381.6 336.9 382.5 338.9 381.5 341.0 378.2 342.5 372.0 343.3 367.9 342.7 363.6 341.0 361.5 338.9 359.6 332.7 356.9 330.7 349.3 327.2 342.6 322.4 338.5 320.3 332.7 318.5 328.6 317.9 322.4 317.9 318.3 318.7 313.8 320.3 311.3 322.4 308.5 328.6 305.9 331.8 283.4 345.1 254.2 358.8 239.7 365.0 236.7 367.9 234.9 372.0 177.2 372.0 178.5 367.9 179.8 366.1 187.2 359.6 197.3 345.1 197.7 343.1 196.9 341.0 192.8 336.9 192.1 334.8 194.2 332.7 210.8 327.2 212.1 326.5 213.8 324.5 212.5 322.4 206.7 320.3 196.3 319.4 173.6 319.1 152.9 317.9 147.8 318.3 142.6 319.5 140.5 320.3 138.4 322.4 138.4 324.5 140.5 327.0 153.2 332.7 155.1 334.8 155.7 336.9 155.1 343.1 155.8 345.1 159.1 350.2 168.6 361.7 170.1 365.8 170.6 372.0 137.8 372.0 136.4 367.5 135.2 365.8 132.3 363.7 103.3 351.3 84.9 341.0 78.7 336.9 74.0 332.7 72.9 330.7 73.7 324.5 72.8 322.4 69.6 320.3 64.1 318.7 55.8 317.4 45.5 316.6 35.1 316.4 26.9 316.8 22.7 317.6 18.6 319.4 12.4 325.9 10.3 327.1 6.2 328.1 0.0 327.5ZM628.3 86.6 623.6 88.9 623.2 90.9 627.5 93.0 634.5 93.7 640.7 93.0 643.2 90.9 642.7 88.2 641.4 86.8 638.6 85.7 634.5 85.4ZM506.1 367.9 512.5 368.6 514.9 369.9 516.5 372.0 486.5 372.0 493.9 369.7Z" fill="#3C8C5A"/><path d="M0.0 18.6 8.3 17.5 18.6 18.3 28.7 20.7 37.2 23.7 43.4 25.2 66.1 28.3 80.6 28.8 101.3 27.4 105.4 27.9 108.8 28.9 111.0 31.0 111.2 33.1 110.1 35.1 105.4 39.8 99.2 44.0 95.1 45.1 76.5 46.2 71.8 47.5 69.5 49.6 69.1 51.7 70.0 53.7 72.3 56.1 86.8 64.8 91.8 66.1 103.3 66.5 132.3 65.5 146.7 65.8 157.1 67.3 173.6 72.1 181.9 72.3 200.5 68.8 227.3 66.7 233.5 64.9 245.2 59.9 266.6 56.9 270.7 55.6 279.0 51.5 285.2 49.8 289.3 49.4 299.7 50.4 318.3 55.4 330.7 56.7 345.1 56.9 369.9 56.1 392.7 58.0 417.5 56.6 450.0 57.9 469.1 59.2 491.9 59.3 498.1 60.1 504.3 62.6 506.3 64.1 512.2 70.3 520.3 76.5 533.6 88.9 538.6 90.9 545.6 91.4 552.1 90.9 568.3 87.8 591.5 84.7 599.0 82.7 601.5 80.6 602.5 78.5 604.0 72.3 605.1 70.3 611.7 60.8 614.7 57.9 631.0 49.6 648.3 43.4 651.4 41.3 655.9 37.2 659.9 35.1 671.7 33.2 682.0 33.5 687.9 35.1 694.9 39.3 698.5 40.7 704.7 41.2 708.8 39.3 711.4 35.1 713.8 33.1 720.2 31.0 729.5 29.3 733.7 27.8 735.7 26.0 739.7 20.7 744.0 18.5 744.0 297.7 731.4 303.8 725.4 305.9 715.1 307.1 702.7 306.7 696.8 305.9 691.6 303.8 689.7 301.7 689.2 295.5 688.2 293.6 684.8 291.4 677.9 290.0 669.6 290.0 659.3 291.8 648.9 295.4 645.4 297.6 638.8 303.8 634.5 305.5 615.9 308.9 601.4 313.0 591.1 314.5 562.1 316.2 539.4 320.1 531.1 320.6 493.9 320.2 462.9 316.6 453.8 314.1 445.3 307.9 442.3 306.5 438.1 305.4 434.0 305.0 429.9 305.3 425.7 306.3 415.4 312.7 409.2 314.5 372.0 317.9 361.7 317.6 351.3 315.8 339.4 312.1 335.2 310.0 332.6 307.9 328.2 301.7 325.2 299.7 318.3 297.2 307.9 295.7 299.7 296.1 292.6 297.6 286.5 299.7 274.9 304.8 268.7 306.7 248.0 308.4 231.5 311.9 223.2 312.5 186.0 310.9 179.8 309.5 169.5 305.3 165.3 304.6 144.7 310.0 124.0 311.6 111.6 311.8 45.5 310.4 39.3 309.6 33.9 307.9 31.1 305.9 26.9 299.4 22.7 296.8 18.6 295.9 12.4 295.7 6.2 296.3 0.0 297.7ZM630.3 82.1 616.5 86.8 614.4 88.9 614.8 90.9 618.2 93.0 622.1 93.9 628.9 95.1 636.5 95.5 642.7 94.6 646.1 93.0 647.5 90.9 647.7 88.9 647.1 86.8 644.8 83.8 642.7 82.4 640.7 81.4 636.5 80.9Z" fill="#3C9F23"/><path d="M4.4 22.7 8.3 21.7 12.4 22.0 15.5 22.7 16.9 24.8 12.4 26.1 8.3 25.9 5.0 24.8ZM21.7 35.1 33.1 34.1 40.8 35.1 42.3 37.2 40.5 47.5 39.7 49.6 37.8 51.7 33.5 53.7 20.7 56.7 14.5 58.8 6.2 64.4 0.0 67.6 0.0 36.7ZM734.0 37.2 744.0 36.7 744.0 67.6 739.9 69.9 737.0 72.3 735.5 74.4 734.3 78.5 734.5 80.6 735.5 82.7 737.8 84.7 744.0 86.5 744.0 282.6 731.6 279.4 725.4 278.9 719.2 279.8 708.9 283.2 702.7 284.3 694.4 284.2 673.7 281.9 665.5 282.1 651.0 286.1 642.7 287.7 622.1 288.4 620.0 289.3 615.9 293.5 613.8 294.5 599.3 298.1 586.5 303.8 578.7 305.5 566.3 306.1 553.9 305.6 533.2 303.3 512.5 303.0 500.1 301.2 496.0 299.7 498.8 297.6 506.3 294.1 509.9 291.4 511.3 289.3 511.0 287.3 509.1 285.2 504.3 282.5 500.1 281.2 496.0 280.8 489.8 282.8 484.9 287.3 483.5 291.4 483.8 293.5 485.5 297.6 481.5 299.2 471.2 299.6 440.2 297.2 411.3 296.9 403.9 297.6 392.7 299.7 380.3 300.8 372.0 302.8 361.7 306.3 355.5 307.2 349.0 305.9 346.2 303.8 341.0 298.0 336.9 296.0 316.2 290.9 305.9 289.6 291.4 289.2 262.5 291.8 256.3 291.3 241.8 288.2 212.9 287.1 204.6 287.8 190.1 290.8 181.9 291.1 173.6 290.2 157.1 286.7 148.8 285.5 142.6 285.5 128.1 286.8 121.9 286.5 115.7 284.4 107.2 279.0 101.3 277.4 97.1 277.0 90.9 277.1 82.7 278.2 66.1 282.5 59.9 283.3 24.8 282.0 6.2 283.1 0.0 282.6 0.0 86.5 8.3 85.8 26.9 81.2 41.3 79.9 62.0 76.8 88.9 74.7 134.3 68.7 142.6 68.4 150.9 69.4 155.0 70.5 167.4 75.6 179.8 77.6 183.9 77.5 188.1 76.7 198.0 72.3 202.5 71.3 208.7 70.5 217.0 70.5 231.1 72.3 242.4 76.5 248.0 77.9 270.7 80.3 289.3 83.5 297.6 86.6 305.7 93.0 312.1 94.7 318.3 94.9 334.8 93.5 353.4 93.7 376.1 93.1 388.5 94.4 417.5 99.1 444.3 100.1 452.6 99.1 456.7 97.6 467.1 92.4 471.2 91.5 475.3 91.4 479.5 92.6 481.5 93.7 485.6 97.1 489.3 101.3 490.4 103.3 490.7 105.4 489.9 111.6 491.3 113.7 496.0 116.0 502.2 116.8 506.3 116.1 510.5 114.1 524.9 103.0 531.1 99.8 576.6 89.1 586.9 88.1 597.3 88.0 601.8 88.9 609.7 93.5 616.5 95.1 636.5 96.9 642.7 96.5 646.9 95.4 650.3 93.0 651.3 90.9 651.6 86.8 650.0 80.6 650.0 76.5 654.0 66.1 654.1 57.9 654.7 55.8 656.8 53.7 671.7 48.1 677.9 47.0 702.7 48.5 709.8 49.6 721.3 52.5 727.5 52.4 729.9 51.7 731.3 49.6 730.6 47.5 728.1 43.4 727.6 41.3 728.4 39.3 731.6 37.7ZM31.0 220.8 26.9 222.3 23.3 225.3 22.5 227.3 22.7 228.1 23.1 229.4 25.2 231.5 28.9 232.5 33.1 231.7 36.3 229.4 37.2 227.9 37.6 225.3 36.9 223.2 35.1 221.5 33.1 220.8ZM363.7 281.0 358.9 283.1 356.0 285.2 354.5 287.3 354.5 289.3 356.4 291.4 363.7 294.1 374.1 296.0 380.3 295.3 383.0 293.5 383.9 291.4 383.7 289.3 381.2 285.2 378.2 282.4 375.9 281.1 372.0 280.1 367.9 280.1ZM518.7 183.8 513.4 186.0 517.0 188.1 529.1 190.0 568.3 192.8 574.5 194.0 578.7 196.3 582.8 203.4 584.9 204.8 586.9 205.1 591.1 204.3 595.2 201.8 597.9 198.4 599.3 195.5 600.0 192.2 599.8 190.1 598.5 188.1 594.8 186.0 589.0 184.9 568.3 182.6 549.7 182.0 529.1 182.8ZM611.7 266.6 609.0 268.7 608.4 270.7 609.4 274.9 611.7 277.4 613.8 278.4 615.9 278.6 617.9 277.9 620.0 275.5 620.9 272.8 620.8 270.7 620.0 268.7 615.9 266.4ZM547.7 274.8 537.3 275.9 531.1 278.4 528.2 281.1 527.1 283.1 526.6 285.2 527.0 287.3 528.8 289.3 533.2 291.7 537.3 293.0 543.5 293.7 551.8 293.5 558.0 292.6 562.5 291.4 566.3 289.3 567.8 287.3 568.0 285.2 566.3 281.1 564.2 278.7 561.5 276.9 558.0 275.7Z" fill="#6EAD10"/><path d="M695.5 55.8 700.6 55.3 704.7 55.8 727.5 62.1 729.7 64.1 729.3 66.1 726.0 72.3 723.8 78.5 723.3 82.7 724.2 86.8 727.3 90.9 729.5 92.4 735.7 93.6 744.0 93.3 744.0 187.2 727.5 181.4 719.2 179.7 713.0 180.0 703.4 181.9 697.0 183.9 695.3 186.0 696.5 188.1 702.7 190.5 712.1 192.2 737.8 194.6 744.0 196.3 744.0 262.5 731.6 258.1 721.3 255.9 710.9 255.6 698.5 256.8 691.7 258.3 687.7 260.4 685.7 262.5 682.0 268.7 679.9 269.3 671.7 268.9 667.5 269.9 653.3 279.0 646.9 281.3 640.7 282.0 634.5 280.7 631.9 279.0 630.5 276.9 628.3 268.7 626.2 264.9 619.0 258.3 617.2 256.3 616.4 254.2 616.5 252.1 617.4 250.1 622.9 243.9 625.0 239.7 626.5 221.1 625.8 214.9 622.8 210.8 611.7 204.9 609.4 202.5 607.9 198.4 607.6 189.2 606.2 186.0 601.4 182.9 593.1 180.5 576.6 177.7 562.1 176.7 496.0 179.6 479.5 179.6 475.3 180.2 469.5 181.9 465.6 183.9 464.6 186.0 468.3 188.1 477.4 189.7 551.8 196.2 560.1 197.8 566.1 200.5 569.8 204.6 574.5 212.5 580.5 219.1 581.5 221.1 581.5 227.3 582.0 229.4 586.7 237.7 588.0 241.8 588.1 250.1 586.2 256.3 584.6 258.3 582.8 259.6 578.7 261.1 570.4 262.1 560.1 261.9 553.9 260.7 543.5 256.6 537.3 255.2 527.0 254.3 508.4 254.4 498.1 255.8 487.7 259.3 481.5 260.7 454.7 264.1 442.3 264.6 417.5 262.9 405.1 263.5 399.6 264.5 396.8 265.6 394.9 266.6 390.6 270.9 388.5 271.8 365.8 272.0 347.2 274.2 332.7 275.1 322.4 276.9 312.1 280.0 305.9 279.6 287.3 273.8 279.0 272.6 272.8 272.4 243.9 276.2 227.3 280.7 221.1 280.8 206.7 279.9 190.1 283.2 183.9 283.8 175.7 283.3 161.2 280.6 152.9 279.8 144.7 280.0 132.3 281.6 126.1 281.5 119.9 280.1 107.5 275.4 97.1 274.0 80.6 275.0 55.8 278.4 45.5 278.6 35.1 277.8 26.9 276.3 20.7 274.2 6.2 265.6 0.0 262.5 0.0 196.3 2.1 197.6 4.8 200.5 7.4 204.6 10.0 210.8 10.5 214.9 8.8 221.1 8.4 225.3 8.9 227.3 13.5 237.7 12.1 245.9 14.6 248.0 20.7 248.0 26.2 245.9 39.3 238.1 43.4 234.7 45.6 231.5 47.1 227.3 48.0 221.1 46.5 202.5 46.7 198.4 48.4 190.1 47.9 186.0 46.2 183.9 43.4 182.5 39.3 181.7 31.0 182.5 27.1 183.9 18.6 188.3 14.5 189.3 8.3 189.4 0.0 187.2 0.0 93.3 22.7 88.7 43.4 87.9 49.6 87.1 67.4 82.7 78.5 80.9 90.9 80.4 109.5 81.2 117.8 80.4 121.9 79.3 129.6 74.4 134.3 72.7 138.5 71.9 144.7 71.9 147.2 72.3 152.0 74.4 159.1 79.3 171.5 82.9 174.6 84.7 175.2 86.8 174.3 90.9 175.0 93.0 177.7 95.0 195.8 101.3 199.3 103.3 203.7 107.5 206.7 109.5 210.8 110.6 214.9 111.0 229.4 110.4 245.9 113.7 252.1 113.3 261.7 111.6 266.7 109.5 272.8 104.8 279.2 101.3 279.4 99.2 272.8 96.2 271.5 95.1 271.8 93.0 276.5 90.9 283.1 90.8 285.2 91.1 289.3 93.0 290.7 97.1 295.5 98.6 316.2 99.4 353.4 99.3 392.7 103.3 400.5 105.4 411.3 110.0 416.9 111.6 438.1 114.2 465.0 118.7 473.3 120.6 481.6 124.0 490.9 130.2 498.7 134.3 510.5 138.1 524.9 140.9 527.2 140.5 524.9 135.7 524.3 132.3 524.8 128.1 526.9 121.9 533.6 109.5 537.2 105.4 541.5 102.5 547.7 100.1 571.1 93.0 582.8 91.0 589.0 91.1 595.2 92.5 596.2 93.0 598.0 95.1 599.3 97.9 615.9 96.9 640.7 98.3 648.6 97.1 652.6 95.1 654.3 93.0 657.2 82.3 659.3 79.5 661.3 78.1 667.5 76.1 682.0 74.8 684.1 73.9 686.0 72.3 686.4 70.3 684.4 64.1 684.9 62.0 686.7 59.9 689.8 57.9ZM690.3 95.0 686.1 96.9 682.0 100.3 679.8 103.3 680.2 105.4 684.1 107.2 688.2 107.6 715.1 105.7 719.2 105.0 723.3 103.3 724.4 101.3 723.3 98.9 721.3 97.7 717.1 96.6 698.5 94.3 694.4 94.3Z" fill="#A0B91C"/><path d="M665.5 84.7 667.5 84.3 671.7 84.6 675.7 86.8 676.8 88.9 676.9 90.9 676.3 93.0 672.7 97.1 665.4 103.3 660.3 109.5 656.0 113.7 655.0 115.7 657.2 117.6 659.3 118.4 671.7 121.8 686.1 127.2 703.2 132.3 708.6 134.3 711.0 136.4 710.1 138.5 702.7 141.5 698.4 144.7 697.6 146.7 697.4 152.9 696.6 155.0 694.9 157.1 688.2 162.0 674.0 169.5 671.4 171.5 669.8 173.6 669.2 175.7 669.6 177.7 673.0 186.0 673.0 192.2 674.7 194.3 682.0 196.3 721.3 198.6 729.5 200.3 734.4 202.5 736.6 204.6 737.7 206.7 738.0 208.7 737.5 210.8 733.4 217.0 732.8 219.1 733.4 221.1 734.9 223.2 744.0 232.9 744.0 240.2 741.9 241.6 735.7 242.9 721.3 241.8 700.6 243.2 688.2 243.2 659.3 241.4 651.0 240.4 644.8 238.8 639.4 235.6 636.4 231.5 635.1 225.3 635.2 212.9 634.0 208.7 632.4 206.7 630.3 205.3 620.0 201.2 616.2 198.4 615.1 196.3 614.7 194.3 614.4 186.0 611.7 182.7 607.6 180.3 601.4 178.2 569.4 171.5 563.7 169.5 558.0 166.4 551.8 165.2 547.7 165.5 535.3 168.5 529.1 169.4 504.3 167.6 477.4 169.2 469.1 171.1 460.4 175.7 454.9 177.7 444.3 179.6 431.9 179.9 392.7 179.2 355.5 181.2 351.9 181.9 348.5 183.9 348.2 186.0 349.8 188.1 353.4 189.9 359.6 191.4 367.9 192.5 448.5 192.8 479.5 195.6 540.0 198.4 551.8 200.4 557.8 202.5 560.8 204.6 563.7 208.7 565.0 214.9 564.5 219.1 563.6 221.1 560.1 225.7 553.9 229.6 545.6 232.6 537.3 234.5 514.6 235.8 502.2 237.8 493.9 240.4 473.3 248.8 462.9 251.6 448.5 252.8 400.9 253.0 392.7 252.6 378.2 250.9 372.0 251.0 367.9 251.8 362.0 254.2 347.0 264.5 338.9 268.4 328.6 270.6 314.1 271.8 307.9 271.5 301.7 270.2 295.5 268.4 285.2 263.8 281.1 263.1 272.8 264.1 252.1 269.8 245.9 270.3 237.7 269.8 229.4 267.4 221.1 263.8 217.1 260.4 212.9 255.7 210.8 254.2 206.7 252.4 200.5 251.5 186.0 251.2 173.8 248.0 165.3 246.7 152.9 246.5 107.5 248.2 96.9 250.1 92.2 252.1 90.2 254.2 89.8 256.3 91.4 258.3 95.9 260.4 99.2 261.3 105.4 262.0 126.1 261.4 136.4 262.1 148.0 264.5 153.6 266.6 155.4 268.7 153.2 270.7 141.5 274.9 134.3 276.7 128.1 277.2 121.9 276.4 107.5 272.0 99.2 270.9 72.3 272.3 49.6 275.5 37.2 275.1 28.9 273.1 24.2 270.7 17.0 264.5 13.7 260.4 13.5 258.3 15.7 256.3 26.9 252.2 33.1 249.2 45.5 241.2 49.6 237.7 51.1 235.6 53.7 229.4 56.8 217.0 55.5 204.6 56.9 181.9 56.0 179.8 51.8 177.7 43.4 176.3 28.9 175.0 22.7 175.5 10.3 179.8 6.2 180.3 0.0 179.9 0.0 156.3 1.9 155.0 10.3 153.7 14.5 152.2 18.6 149.7 22.0 146.7 24.9 142.6 25.3 140.5 24.6 138.5 20.7 134.3 21.6 132.3 22.7 131.5 26.9 130.5 28.9 130.8 33.1 133.4 37.2 134.4 41.3 134.3 51.3 132.3 56.1 130.2 58.7 128.1 62.0 124.0 68.2 119.4 78.5 114.4 90.9 109.9 97.1 108.6 103.3 108.0 126.1 108.6 136.4 108.2 146.7 106.4 159.1 102.6 167.4 102.2 174.2 103.3 180.9 105.4 186.0 107.8 195.7 113.7 201.0 115.7 208.7 117.5 223.2 119.5 235.6 122.8 239.7 123.3 243.9 122.7 254.4 117.8 268.7 113.7 279.0 108.3 283.1 106.7 291.4 104.8 310.0 103.0 330.7 103.8 351.3 103.8 361.6 105.4 376.3 109.5 392.7 116.2 421.6 125.2 429.9 126.8 456.7 130.7 496.0 142.6 510.5 147.8 516.7 148.8 524.9 148.9 537.3 147.4 539.7 146.7 543.2 144.7 544.1 142.6 543.8 140.5 539.3 134.3 538.8 132.3 539.6 130.2 541.5 128.7 547.5 126.1 549.7 124.0 548.6 121.9 544.3 117.8 542.7 113.7 543.6 109.5 545.0 107.5 547.3 105.4 551.0 103.3 571.5 97.1 578.7 95.7 580.7 95.8 583.3 97.1 582.9 101.3 583.4 103.3 586.5 105.4 591.1 106.1 599.3 105.4 609.7 100.0 615.9 98.7 624.1 98.7 640.7 99.9 648.9 99.5 653.1 98.7 656.3 97.1 658.2 95.1 661.3 88.1 663.4 85.8ZM186.0 177.5 179.8 179.1 169.5 183.5 163.3 184.9 144.7 183.4 135.6 183.9 126.1 186.0 109.5 184.4 101.3 184.6 94.8 186.0 92.4 188.1 92.3 190.1 93.8 192.2 95.1 192.9 101.3 194.3 107.5 194.2 113.7 193.1 126.1 188.5 144.7 191.2 175.7 193.3 183.9 193.4 192.2 192.6 198.4 191.1 204.6 188.2 206.7 186.0 207.3 183.9 206.4 181.9 203.5 179.8 196.2 177.7ZM20.7 113.7 26.9 113.5 32.7 115.7 41.7 121.9 41.3 124.0 35.1 124.8 22.7 119.2 20.4 117.8 19.1 115.7ZM743.6 157.1 744.0 156.3 744.0 179.9 737.8 178.2 733.0 175.7 731.2 173.6 730.6 171.5 731.3 169.5 733.2 167.4 739.5 163.3 741.7 161.2ZM0.0 233.5 0.0 232.9 1.5 235.6 1.6 237.7 0.0 240.2ZM635.0 256.3 638.6 255.1 642.7 255.0 648.3 256.3 651.8 258.3 653.4 260.4 654.2 264.5 653.1 268.7 651.0 271.6 648.9 273.4 644.8 275.2 640.7 275.2 638.6 274.2 636.0 270.7 632.8 260.4 633.0 258.3Z" fill="#C8BE1E"/><path d="M613.6 101.3 622.1 100.1 638.0 101.3 650.5 103.3 651.8 105.4 650.5 107.5 648.9 108.6 642.7 111.0 636.5 111.8 622.1 112.4 615.9 113.5 607.6 118.9 597.3 123.8 595.7 126.1 595.6 128.1 597.1 130.2 599.3 131.2 605.5 132.0 617.9 132.0 622.1 133.1 637.3 144.7 638.5 146.7 638.6 148.8 637.0 155.0 638.4 161.2 638.3 163.3 637.4 165.3 635.5 167.4 630.3 171.1 626.2 173.6 622.1 175.1 615.9 175.2 597.3 170.9 582.8 169.3 576.6 168.0 570.9 165.3 564.2 160.8 560.1 159.4 553.9 159.0 541.5 160.3 535.3 160.4 529.1 159.1 526.2 157.1 526.6 155.0 531.0 152.9 543.5 150.3 549.7 147.6 552.4 144.7 553.9 136.4 555.8 134.3 561.3 130.2 562.6 126.1 562.2 121.9 561.4 119.9 559.9 117.8 554.8 113.7 553.8 111.6 554.4 109.5 556.8 107.5 562.1 105.9 566.3 106.0 568.3 106.6 573.3 109.5 578.7 110.6 595.2 109.2 603.7 107.5ZM294.0 107.5 310.0 106.5 330.7 108.5 349.3 109.3 357.7 111.6 360.4 113.7 360.3 115.7 357.5 117.9 351.3 119.8 328.6 119.1 293.5 121.8 289.3 123.3 287.3 126.1 287.4 128.1 289.3 130.3 293.5 131.5 301.7 131.7 330.7 130.6 353.4 128.3 361.7 129.1 372.0 131.3 374.8 132.3 377.7 134.3 378.7 136.4 378.7 138.5 376.7 142.6 371.3 148.8 370.5 150.9 370.6 152.9 372.0 155.0 376.1 157.1 384.4 158.8 409.2 160.6 415.4 161.4 422.1 163.3 425.9 165.3 426.9 167.4 425.2 169.5 417.5 171.3 376.1 173.4 367.9 173.0 349.3 169.8 330.7 170.6 310.0 170.1 291.4 170.7 274.9 170.5 264.5 171.3 252.1 174.9 245.9 175.9 206.7 172.6 188.1 172.3 175.7 173.1 165.3 175.7 159.1 176.5 132.3 174.6 126.1 175.2 111.6 178.1 101.3 178.7 90.9 177.8 76.5 173.9 57.9 172.4 47.5 170.5 41.3 168.1 32.3 163.3 29.7 161.2 28.4 159.1 28.0 157.1 29.5 152.9 33.3 148.8 39.3 144.7 48.1 140.5 68.1 134.3 71.7 132.3 79.2 126.1 84.7 122.5 93.0 118.5 101.3 115.9 111.6 114.9 124.8 115.7 134.3 117.7 137.2 119.9 137.3 121.9 135.8 124.0 126.1 131.8 122.9 136.4 120.9 142.6 121.9 144.4 124.0 144.7 134.3 140.9 152.9 136.6 158.9 134.3 169.2 128.1 177.7 121.4 181.9 119.2 186.0 118.7 190.1 119.1 231.5 128.0 241.8 128.8 248.0 127.2 254.4 121.9 258.3 119.7 274.9 114.7 285.2 109.5ZM453.2 146.7 456.7 145.7 460.9 145.2 471.2 146.3 477.9 148.8 479.9 150.9 480.1 152.9 478.7 155.0 475.3 157.0 469.1 158.7 460.9 159.6 452.6 159.1 447.8 157.1 446.4 155.0 446.5 152.9 447.6 150.9 449.6 148.8ZM98.7 200.5 105.4 199.7 113.7 200.0 119.9 200.9 128.1 203.4 132.3 204.0 146.7 203.2 167.4 204.0 198.4 204.0 206.7 203.6 227.3 200.5 262.5 198.5 270.7 199.7 274.9 201.7 281.1 205.7 285.2 207.2 295.5 208.6 310.0 209.7 314.1 209.4 324.5 206.9 328.6 206.6 345.1 208.8 351.3 208.6 355.5 206.9 362.3 202.5 365.8 201.4 372.0 200.3 429.9 200.5 454.7 199.9 483.6 201.5 537.7 202.5 545.6 204.0 549.7 205.6 551.7 206.7 553.3 208.7 553.4 210.8 551.8 213.0 549.7 214.1 545.6 215.2 518.7 216.9 481.5 217.4 462.9 215.5 454.7 215.7 448.5 217.9 438.1 225.0 429.9 229.4 421.6 233.1 415.4 234.7 407.1 234.7 374.1 230.3 367.9 230.8 349.3 234.8 346.4 235.6 343.3 237.7 342.7 239.7 344.1 245.9 344.0 248.0 341.5 252.1 333.9 260.4 331.7 262.5 327.9 264.5 320.3 266.1 312.1 266.2 303.8 264.3 300.2 262.5 297.8 260.4 294.1 254.2 291.4 251.6 287.3 249.7 279.0 247.7 268.7 246.9 260.0 248.0 258.4 250.1 262.6 256.3 262.4 258.3 260.0 260.4 255.8 262.5 250.1 264.0 245.9 264.3 239.7 263.3 232.2 260.4 228.9 258.3 227.0 256.3 224.5 252.1 221.1 249.0 214.9 246.0 206.7 243.2 196.3 241.8 163.3 241.4 115.7 241.7 99.2 242.4 90.9 243.3 84.7 244.8 80.6 246.6 76.5 249.6 74.5 252.1 73.0 256.3 73.2 258.3 74.4 260.4 78.7 264.5 76.5 265.7 66.1 267.9 53.7 271.8 45.5 272.9 39.3 272.6 33.1 271.0 28.8 268.7 26.8 266.6 24.9 262.5 25.3 260.4 26.9 258.7 40.3 252.1 53.6 243.9 58.2 239.7 64.1 231.5 66.1 230.5 68.2 230.6 76.5 233.1 82.7 233.9 88.9 232.4 92.9 229.4 94.1 227.3 94.3 225.3 93.0 223.0 88.9 220.6 76.2 217.0 84.7 212.6 86.8 210.7 91.1 204.6 93.0 202.8ZM662.3 204.6 669.6 203.5 679.9 202.9 713.0 203.2 722.0 204.6 725.0 206.7 725.1 208.7 723.3 210.9 706.8 222.3 700.6 224.4 694.4 225.6 686.1 226.1 679.9 224.5 667.5 219.6 655.1 217.2 653.1 216.4 651.7 214.9 651.3 212.9 651.8 210.8 653.2 208.7 656.1 206.7ZM117.9 268.7 119.9 267.9 124.0 267.4 129.4 268.7 128.6 270.7 126.1 271.2 121.4 270.7Z" fill="#F0C829"/><path d="M615.7 103.3 622.1 101.8 628.3 102.0 637.2 103.3 640.8 105.4 639.0 107.5 634.5 108.6 628.3 109.3 620.0 109.3 615.9 108.7 613.6 107.5 613.7 105.4ZM289.7 111.6 295.5 110.5 303.8 110.4 310.5 111.6 312.5 113.7 308.1 115.7 305.9 116.2 283.1 118.8 279.4 128.1 276.9 130.8 270.7 133.2 259.9 134.3 261.7 136.4 266.5 138.5 272.8 139.5 279.0 139.5 301.7 137.8 318.5 138.5 326.6 140.5 328.1 142.6 327.5 144.7 322.8 148.8 314.1 154.7 310.0 157.0 305.9 158.3 285.2 163.3 256.3 165.6 235.6 168.6 223.2 168.3 208.7 165.3 204.6 165.6 194.3 167.7 188.1 168.0 181.9 167.7 177.7 166.7 174.7 165.3 167.4 158.3 165.3 157.0 161.2 156.6 148.8 159.9 142.6 160.3 138.5 159.5 136.4 158.5 134.6 157.1 133.8 155.0 134.0 152.9 135.1 150.9 136.9 148.8 140.5 146.3 146.7 144.2 161.2 143.0 165.3 142.2 169.5 139.8 174.8 134.3 181.9 129.5 188.1 127.3 194.3 127.1 199.3 128.1 204.6 130.2 212.8 134.3 215.3 136.4 215.4 138.5 212.7 142.6 210.2 144.7 201.9 148.8 199.7 150.9 198.8 152.9 198.8 155.0 199.7 157.1 204.6 162.2 206.7 163.1 210.8 162.6 217.0 158.4 223.2 152.0 230.0 146.7 231.7 144.7 232.2 142.6 231.8 138.5 233.3 136.4 239.7 135.0 254.2 133.9 256.3 133.2 256.7 132.3 256.3 128.1 256.9 126.1 258.2 124.0 260.9 121.9 266.6 119.8 281.1 117.7 283.1 116.6 285.5 113.7ZM591.5 113.7 597.3 112.9 602.1 113.7 600.9 115.7 591.1 120.3 584.9 127.4 582.8 128.7 580.7 129.4 576.6 129.4 573.4 128.1 571.4 126.1 570.8 124.0 571.2 121.9 572.8 119.9 576.6 118.1ZM103.3 124.0 109.5 124.3 112.8 126.1 113.6 128.1 113.4 130.2 111.6 134.4 108.2 138.5 101.5 144.7 100.5 146.7 100.6 148.8 103.3 155.0 104.4 159.1 104.1 163.3 103.3 165.3 101.3 166.8 88.9 165.7 70.3 168.2 59.9 168.0 55.8 167.1 51.5 165.3 42.6 159.1 40.5 157.1 39.9 155.0 41.3 152.3 45.6 148.8 52.4 144.7 59.9 141.9 76.5 137.9 80.6 135.9 91.0 128.1 97.1 125.5ZM589.8 148.8 597.3 149.0 601.4 150.2 602.7 150.9 604.3 152.9 604.1 155.0 601.4 157.2 596.0 159.1 589.0 160.7 584.9 160.9 580.6 159.1 578.7 155.0 578.6 152.9 580.0 150.9 584.9 149.4ZM101.0 206.7 103.3 205.7 107.5 205.5 111.1 206.7 111.9 208.7 109.4 210.8 105.4 211.5 103.3 211.3 101.3 210.4 100.2 208.7ZM141.3 212.9 146.7 211.8 152.9 211.5 173.6 212.3 202.5 211.9 212.8 212.9 218.1 214.9 220.0 217.0 220.7 219.1 221.1 226.5 221.6 227.3 223.2 228.0 227.3 227.3 239.7 219.5 245.9 218.3 250.1 219.2 260.4 224.0 266.6 226.1 272.8 227.1 279.0 227.1 280.2 225.3 278.1 221.1 277.8 219.1 278.2 217.0 279.0 215.9 280.0 214.9 283.1 213.8 287.3 213.2 291.4 213.4 297.6 214.8 301.4 217.0 302.9 219.1 305.0 225.3 314.1 228.7 318.3 230.9 320.9 233.5 321.8 235.6 321.9 237.7 320.3 240.4 316.2 242.7 312.1 243.5 305.9 243.6 285.2 241.7 264.5 240.9 248.0 238.6 229.4 239.7 222.6 237.7 217.0 232.4 212.9 231.5 196.3 232.2 163.3 235.5 152.9 235.6 146.7 235.0 141.2 233.5 139.0 231.5 137.6 227.3 134.4 221.1 134.0 219.1 134.6 217.0 136.6 214.9ZM309.7 256.3 312.1 254.9 314.1 254.7 316.2 255.1 317.8 256.3 317.2 258.3 314.1 259.1 310.0 258.3ZM39.1 260.4 45.5 259.5 49.6 260.0 51.7 260.9 53.6 262.5 54.1 264.5 53.1 266.6 49.8 268.7 43.4 269.6 39.3 269.1 37.7 268.7 34.8 266.6 34.2 264.5 35.1 262.5Z" fill="#FCB31C"/><path d="M266.3 124.0 268.7 123.4 272.3 124.0 271.8 126.1 268.7 127.1 265.5 126.1ZM248.0 144.7 252.1 143.8 256.3 144.0 271.7 146.7 277.6 148.8 279.9 150.9 280.4 152.9 279.6 155.0 277.1 157.1 272.8 158.6 268.7 159.4 256.3 159.5 241.8 158.7 237.7 157.8 236.9 157.1 237.7 155.0 243.9 148.0Z" fill="#FF9910"/></g></g>

<path d="M66.8 121.3 64.1 120.9 62.0 121.5 59.9 122.1 56.4 121.3 52.1 120.7 49.6 119.7 46.7 118.2 44.4 118.0 41.5 119.7 41.3 121.9 39.7 123.4 36.8 122.3 34.3 121.5 31.4 119.0 27.3 118.0 24.8 118.0 22.9 117.4 20.9 115.9 22.3 114.3 21.9 112.0 21.9 110.8 22.9 109.3 21.3 109.7 20.5 108.9 17.8 109.7 16.1 109.7 14.3 109.7 10.5 109.9 6.4 109.9 2.7 110.6 -1.2 112.2 -4.1 113.5 -6.0 113.0 -8.3 113.3 -11.0 111.8 -12.2 112.0 -12.8 113.7 -14.1 115.5 -15.7 116.6 -17.6 117.2 -19.0 118.8 -20.3 120.9 -20.0 123.0 -20.7 125.0 -23.8 127.1 -26.9 128.1 -27.9 129.2 -30.0 131.9 -31.0 134.3 -33.1 137.0 -34.1 139.5 -35.1 142.6 -33.7 145.7 -33.1 148.8 -34.1 151.9 -34.7 154.0 -36.2 155.6 -34.5 158.1 -34.7 160.2 -33.1 161.6 -31.0 163.3 -30.0 164.3 -27.9 166.4 -27.3 168.4 -24.8 170.9 -22.3 173.0 -18.6 175.7 -15.5 176.9 -12.4 176.1 -8.3 175.3 -6.2 175.7 -4.1 176.1 -2.1 175.3 0.0 174.2 3.1 173.2 7.0 172.8 9.1 173.0 10.3 174.6 12.4 177.1 14.5 176.9 17.6 176.7 19.6 177.9 20.3 179.8 19.8 182.9 19.6 185.4 18.2 187.4 18.6 188.7 20.7 191.8 23.8 194.3 24.8 196.3 25.4 198.4 25.8 200.5 27.3 204.6 28.5 208.7 27.7 211.8 25.4 216.0 24.4 219.1 24.4 222.2 25.8 225.3 27.9 229.4 30.0 233.5 30.8 237.7 31.4 241.8 34.1 245.1 35.8 249.0 37.2 252.1 37.8 254.2 38.2 256.9 41.3 257.9 45.5 256.7 49.6 256.5 53.1 256.3 55.8 255.4 58.9 253.8 62.0 250.7 64.1 247.8 65.1 247.0 67.2 244.9 68.0 241.8 67.4 239.7 68.2 238.7 73.2 235.6 73.4 233.5 73.2 230.4 72.3 226.9 75.4 224.9 76.5 222.8 80.6 221.1 82.7 219.5 84.1 217.0 83.9 214.9 83.7 210.8 83.5 207.7 81.6 205.6 81.6 202.5 81.2 200.1 80.2 199.4 80.6 197.4 81.8 194.5 82.7 193.2 83.7 191.2 85.8 189.5 87.8 187.0 90.9 183.9 93.6 181.9 95.1 180.8 97.1 178.8 99.2 175.7 101.3 172.6 102.9 169.5 105.0 166.4 105.4 164.3 106.0 161.6 105.4 161.4 101.3 162.6 97.1 162.9 93.0 164.3 90.9 164.3 88.9 162.2 89.3 160.2 87.8 159.1 84.7 156.0 82.7 155.0 81.2 153.8 79.6 148.8 77.1 145.7 76.9 142.6 76.1 140.5 74.0 138.5 73.4 136.4 71.3 133.3 70.3 130.2 69.2 128.1 67.4 124.2 M810.8 121.3 808.1 120.9 806.0 121.5 803.9 122.1 800.4 121.3 796.1 120.7 793.6 119.7 790.7 118.2 788.4 118.0 785.5 119.7 785.3 121.9 783.7 123.4 780.8 122.3 778.3 121.5 775.4 119.0 771.3 118.0 768.8 118.0 766.9 117.4 764.9 115.9 766.3 114.3 765.9 112.0 765.9 110.8 766.9 109.3 765.3 109.7 764.5 108.9 761.8 109.7 760.1 109.7 758.3 109.7 754.5 109.9 750.4 109.9 746.7 110.6 742.8 112.2 739.9 113.5 738.0 113.0 735.7 113.3 733.0 111.8 731.8 112.0 731.2 113.7 729.9 115.5 728.3 116.6 726.4 117.2 725.0 118.8 723.7 120.9 724.0 123.0 723.3 125.0 720.2 127.1 717.1 128.1 716.1 129.2 714.0 131.9 713.0 134.3 710.9 137.0 709.9 139.5 708.9 142.6 710.3 145.7 710.9 148.8 709.9 151.9 709.3 154.0 707.8 155.6 709.5 158.1 709.3 160.2 710.9 161.6 713.0 163.3 714.0 164.3 716.1 166.4 716.7 168.4 719.2 170.9 721.7 173.0 725.4 175.7 728.5 176.9 731.6 176.1 735.7 175.3 737.8 175.7 739.9 176.1 741.9 175.3 744.0 174.2 747.1 173.2 751.0 172.8 753.1 173.0 754.3 174.6 756.4 177.1 758.5 176.9 761.6 176.7 763.6 177.9 764.3 179.8 763.8 182.9 763.6 185.4 762.2 187.4 762.6 188.7 764.7 191.8 767.8 194.3 768.8 196.3 769.4 198.4 769.8 200.5 771.3 204.6 772.5 208.7 771.7 211.8 769.4 216.0 768.4 219.1 768.4 222.2 769.8 225.3 771.9 229.4 774.0 233.5 774.8 237.7 775.4 241.8 778.1 245.1 779.8 249.0 781.2 252.1 781.8 254.2 782.2 256.9 785.3 257.9 789.5 256.7 793.6 256.5 797.1 256.3 799.8 255.4 802.9 253.8 806.0 250.7 808.1 247.8 809.1 247.0 811.2 244.9 812.0 241.8 811.4 239.7 812.2 238.7 817.2 235.6 817.4 233.5 817.2 230.4 816.3 226.9 819.4 224.9 820.5 222.8 824.6 221.1 826.7 219.5 828.1 217.0 827.9 214.9 827.7 210.8 827.5 207.7 825.6 205.6 825.6 202.5 825.2 200.1 824.2 199.4 824.6 197.4 825.8 194.5 826.7 193.2 827.7 191.2 829.8 189.5 831.8 187.0 834.9 183.9 837.6 181.9 839.1 180.8 841.1 178.8 843.2 175.7 845.3 172.6 846.9 169.5 849.0 166.4 849.4 164.3 850.0 161.6 849.4 161.4 845.3 162.6 841.1 162.9 837.0 164.3 834.9 164.3 832.9 162.2 833.3 160.2 831.8 159.1 828.7 156.0 826.7 155.0 825.2 153.8 823.6 148.8 821.1 145.7 820.9 142.6 820.1 140.5 818.0 138.5 817.4 136.4 815.3 133.3 814.3 130.2 813.2 128.1 811.4 124.2 M67.4 124.2 68.2 125.4 69.2 127.3 70.7 128.8 71.1 128.1 71.7 127.1 72.3 125.0 72.3 128.1 73.4 129.2 75.6 132.3 76.9 134.3 78.5 136.4 80.6 139.5 80.8 141.6 82.0 143.6 84.1 145.7 85.8 147.8 87.8 150.9 88.0 151.9 88.5 154.0 88.7 155.4 89.3 158.5 89.9 159.8 93.0 159.5 98.2 158.1 101.5 156.0 102.3 155.6 105.4 154.6 107.9 152.5 111.6 150.9 114.1 149.8 116.8 148.8 119.2 146.9 119.5 146.7 120.9 143.8 121.9 142.6 123.6 139.5 121.1 137.2 117.4 136.0 116.6 134.3 116.4 131.9 114.3 133.7 112.6 135.4 108.5 136.0 106.0 135.4 106.6 133.7 105.8 132.1 105.0 133.3 103.7 131.2 102.3 129.8 100.2 127.1 99.2 125.0 100.2 124.0 101.3 123.2 103.3 123.6 105.0 126.1 106.4 128.3 109.5 130.2 112.6 131.0 116.4 129.8 117.4 130.2 118.4 132.9 121.9 133.5 126.1 133.9 128.8 134.1 133.3 133.9 137.4 133.5 138.5 134.7 139.5 136.6 141.6 137.4 142.6 138.9 145.3 138.7 142.6 139.9 143.8 141.4 144.7 142.6 146.7 143.2 149.2 142.0 149.8 140.5 150.0 142.2 150.2 143.6 150.5 146.7 151.5 150.9 152.5 154.0 153.6 156.0 154.6 159.3 156.7 162.6 157.5 165.3 158.1 167.6 160.2 169.3 161.6 167.6 163.3 166.8 163.7 164.9 165.1 164.7 164.9 164.5 165.1 161.2 166.0 158.9 165.5 157.1 166.0 154.0 167.8 153.1 170.1 151.7 172.2 149.4 175.7 146.1 177.3 145.1 178.8 144.7 179.8 143.0 180.8 141.6 182.3 141.2 185.0 140.9 187.0 140.3 188.1 139.5 189.7 139.9 190.5 142.6 191.8 144.3 193.2 145.1 194.7 147.1 195.3 149.8 194.9 152.9 197.0 153.3 198.8 151.7 200.3 150.9 201.7 151.9 201.7 152.5 202.1 155.0 202.9 157.5 203.8 160.2 204.0 162.2 203.8 164.9 203.4 167.4 203.2 169.5 203.6 169.5 205.2 170.9 206.9 172.6 207.3 174.6 207.9 177.7 209.4 180.0 211.4 181.7 213.7 183.1 215.3 183.1 213.9 180.6 213.9 177.7 213.3 175.3 211.4 173.2 210.2 171.9 207.7 170.9 206.7 168.4 205.6 167.0 205.0 165.3 205.2 163.3 206.7 161.2 206.7 158.5 207.7 158.1 208.5 158.3 210.4 159.8 211.8 160.8 212.9 162.9 214.1 164.3 216.0 164.5 216.8 165.7 216.6 168.2 217.6 168.0 220.3 166.2 220.7 164.5 221.1 164.5 223.6 163.3 225.7 162.0 225.9 160.2 225.9 158.1 225.1 154.6 223.8 152.9 222.4 151.9 220.1 149.4 218.7 147.4 218.4 146.7 219.1 144.9 220.7 143.0 223.6 141.4 225.5 141.6 226.7 141.6 227.1 144.0 228.0 144.0 228.4 142.2 230.6 141.6 232.5 140.9 234.6 140.1 236.0 139.9 238.7 139.1 241.4 137.8 244.3 135.4 245.9 133.9 247.2 132.3 248.0 130.2 250.1 128.1 251.3 127.1 252.1 125.0 251.7 124.2 249.7 123.4 250.7 122.8 251.9 121.9 251.7 120.3 249.9 117.8 248.6 115.7 246.6 114.3 247.0 113.3 248.6 111.6 253.0 109.7 253.2 108.7 249.7 107.9 248.0 108.9 245.9 108.9 246.3 107.9 244.9 107.5 243.5 105.0 247.2 103.5 250.1 101.7 252.5 101.9 252.1 102.3 250.5 104.4 251.3 105.6 254.2 104.2 256.9 103.5 259.0 104.4 258.3 106.4 259.4 107.9 261.6 108.5 261.8 109.5 261.4 111.6 261.0 114.1 261.4 114.9 264.5 114.1 266.8 113.5 267.6 111.6 267.0 109.1 265.2 106.4 263.5 104.8 265.6 103.3 268.0 101.7 268.7 100.2 270.1 98.6 270.7 98.0 272.8 96.9 279.0 96.1 282.1 93.6 285.2 90.9 287.3 88.2 290.0 85.8 290.4 82.7 291.0 79.6 291.4 78.5 292.0 76.1 289.3 74.4 286.2 74.8 283.1 74.4 280.0 73.2 282.1 72.3 285.6 69.4 289.3 67.2 295.9 63.2 300.7 63.4 305.9 63.4 312.1 63.0 320.3 63.0 323.4 58.9 326.5 58.5 330.7 59.9 336.9 56.8 338.9 56.8 334.8 58.9 329.6 62.0 324.5 66.1 322.0 68.2 321.6 72.3 322.4 77.5 323.8 80.6 326.5 78.9 328.0 76.5 330.7 76.1 333.8 73.4 334.8 72.3 336.9 69.9 334.8 66.5 337.9 65.1 340.0 62.4 343.1 62.0 351.3 62.0 355.5 61.0 361.7 58.3 370.3 57.2 371.0 56.8 369.9 55.8 367.9 52.1 369.9 49.6 374.1 50.6 376.1 52.3 386.1 52.9 388.5 50.6 393.3 49.6 388.5 47.9 382.3 47.1 378.2 45.5 372.0 43.4 363.7 41.7 357.5 41.3 352.4 41.3 351.3 43.4 341.0 42.4 334.8 42.2 330.7 42.0 322.4 39.3 314.1 39.3 310.0 37.8 301.7 36.4 291.4 35.5 287.3 36.6 283.1 38.2 274.9 38.2 270.7 39.3 267.6 38.2 266.6 35.5 260.4 34.1 254.2 34.7 245.9 35.1 237.7 34.1 233.5 33.5 227.3 33.7 221.1 34.1 227.3 32.0 234.6 30.0 231.5 27.9 221.1 26.9 215.6 25.4 206.7 27.9 202.5 28.3 192.2 28.9 179.8 31.0 177.7 33.1 166.4 34.1 172.6 37.6 170.5 38.6 165.3 36.6 161.2 36.8 159.1 37.2 154.0 36.2 155.0 39.3 154.0 43.8 152.9 47.5 148.8 49.0 151.9 46.5 150.9 43.4 149.8 39.3 149.8 36.2 146.7 34.7 141.6 36.2 139.5 38.2 138.1 39.7 138.5 42.4 141.6 45.1 138.5 44.4 134.3 43.4 132.3 42.8 125.0 41.7 125.0 43.4 119.9 43.8 113.7 44.4 112.6 45.1 110.6 44.4 103.3 45.5 99.2 46.3 96.1 47.5 95.1 45.5 89.5 44.2 90.9 44.8 91.6 47.5 90.9 49.6 86.8 48.8 82.7 50.2 83.7 52.7 78.5 52.7 77.5 53.7 71.9 52.7 71.3 50.6 68.2 47.5 72.3 48.6 78.5 49.2 84.7 48.2 82.7 45.9 74.4 43.4 68.2 42.8 64.1 40.5 57.9 39.3 53.1 39.1 43.4 40.9 38.2 41.7 32.0 44.4 29.6 46.9 24.8 50.6 21.7 52.7 17.6 54.8 12.8 56.8 10.3 57.9 10.5 61.2 11.6 64.1 16.5 65.9 21.9 63.4 24.6 66.8 26.7 71.3 29.3 71.5 32.0 69.9 34.1 67.2 38.2 63.4 35.5 60.6 36.2 57.0 42.0 54.1 45.9 50.6 50.0 50.0 52.3 51.7 44.4 55.8 44.0 58.9 45.5 61.2 47.5 62.4 51.7 61.6 58.9 60.8 62.0 62.0 57.9 63.0 51.3 63.0 48.6 63.7 50.6 65.5 49.6 68.2 48.6 68.2 46.5 67.0 43.4 69.2 43.4 70.9 41.3 73.0 38.4 73.6 29.6 74.4 27.9 73.4 24.8 74.0 22.3 74.4 20.3 72.3 21.3 69.2 21.9 66.8 16.7 68.2 17.2 71.3 18.2 74.6 14.5 75.4 9.9 76.5 8.3 78.5 6.0 80.2 3.7 80.8 0.2 83.7 -3.3 83.3 -4.1 85.6 -6.2 85.1 -9.9 86.0 -4.5 88.5 -2.5 90.5 -2.5 93.6 -3.7 96.3 -7.9 96.1 -11.8 95.9 -17.4 96.3 -19.2 97.1 -18.0 100.9 -19.6 106.0 -18.6 109.5 -14.5 109.1 -13.0 110.6 -11.6 111.6 -11.2 111.4 -9.1 110.2 -5.2 109.9 -4.5 110.2 -2.1 108.3 -1.0 106.8 0.4 106.0 -0.6 104.4 1.7 101.9 2.5 101.1 4.5 100.4 6.8 98.6 6.2 98.2 6.4 97.1 8.1 96.1 9.3 96.3 11.2 96.5 12.4 96.9 15.1 95.7 16.5 95.3 18.4 94.2 20.3 94.9 21.3 96.1 21.7 97.1 22.9 98.4 25.2 99.6 27.9 100.9 29.3 101.7 30.6 102.1 32.4 103.3 33.5 104.4 33.1 106.0 32.4 107.7 34.1 106.6 35.3 105.4 34.3 104.0 35.5 102.3 38.0 103.7 38.2 103.1 37.2 102.1 34.9 101.1 33.5 99.4 29.3 98.2 27.9 95.9 26.0 95.1 25.6 93.4 25.6 92.2 28.5 91.8 28.1 93.0 30.0 92.4 31.4 94.9 33.9 96.1 38.2 98.2 39.9 99.2 40.1 100.4 40.3 102.3 41.7 104.4 43.0 105.4 43.6 106.6 44.6 107.1 44.0 108.1 44.8 109.9 46.3 110.8 47.7 110.6 47.9 108.7 47.5 107.5 49.0 107.7 49.6 108.1 49.6 107.1 47.5 105.6 47.5 104.8 46.7 103.3 47.3 102.3 48.4 102.7 50.2 103.1 49.2 102.3 50.4 101.5 53.5 101.7 53.9 102.1 54.1 103.2 55.2 102.3 56.8 101.3 59.7 101.3 59.9 100.9 57.9 100.2 57.0 98.2 57.9 96.7 59.3 94.7 61.4 92.2 63.4 89.9 65.1 89.7 66.1 90.3 69.6 90.5 69.4 90.9 67.2 92.2 69.0 93.8 70.3 94.2 73.2 93.0 75.2 92.2 72.3 91.6 72.3 90.5 75.4 89.5 77.5 88.7 81.0 88.5 79.2 89.5 77.5 90.9 75.6 92.6 78.1 93.6 79.6 94.2 82.0 95.9 84.7 97.1 85.8 98.2 86.0 100.0 82.0 101.3 78.5 101.3 75.0 100.6 72.3 99.2 68.2 99.2 65.1 100.6 62.6 100.9 59.9 101.3 59.9 102.3 56.8 102.5 54.1 102.9 54.4 104.8 55.4 106.6 56.6 109.5 58.3 110.2 60.3 111.0 63.0 111.0 63.4 109.7 67.8 111.6 69.6 111.2 71.5 109.9 73.4 110.4 74.8 110.4 74.0 112.6 74.0 114.7 73.4 115.9 72.3 118.2 71.9 119.7 70.9 121.3 69.9 121.7 66.8 121.3 M811.4 124.2 812.2 125.4 813.2 127.3 814.7 128.8 815.1 128.1 815.7 127.1 816.3 125.0 816.3 128.1 817.4 129.2 819.6 132.3 820.9 134.3 822.5 136.4 824.6 139.5 824.8 141.6 826.0 143.6 828.1 145.7 829.8 147.8 831.8 150.9 832.0 151.9 832.5 154.0 832.7 155.4 833.3 158.5 833.9 159.8 837.0 159.5 842.2 158.1 845.5 156.0 846.3 155.6 849.4 154.6 851.9 152.5 855.6 150.9 858.1 149.8 860.8 148.8 863.2 146.9 863.5 146.7 864.9 143.8 865.9 142.6 867.6 139.5 865.1 137.2 861.4 136.0 860.6 134.3 860.4 131.9 858.3 133.7 856.6 135.4 852.5 136.0 850.0 135.4 850.6 133.7 849.8 132.1 849.0 133.3 847.7 131.2 846.3 129.8 844.2 127.1 843.2 125.0 844.2 124.0 845.3 123.2 847.3 123.6 849.0 126.1 850.4 128.3 853.5 130.2 856.6 131.0 860.4 129.8 861.4 130.2 862.4 132.9 865.9 133.5 870.1 133.9 872.8 134.1 877.3 133.9 881.4 133.5 882.5 134.7 883.5 136.6 885.6 137.4 886.6 138.9 889.3 138.7 886.6 139.9 887.8 141.4 888.7 142.6 890.7 143.2 893.2 142.0 893.8 140.5 894.0 142.2 894.2 143.6 894.5 146.7 895.5 150.9 896.5 154.0 897.6 156.0 898.6 159.3 900.7 162.6 901.5 165.3 902.1 167.6 904.2 169.3 905.6 167.6 907.3 166.8 907.7 164.9 909.1 164.7 908.9 164.5 909.1 161.2 910.0 158.9 909.5 157.1 910.0 154.0 911.8 153.1 914.1 151.7 916.2 149.4 919.7 146.1 921.3 145.1 922.8 144.7 923.8 143.0 924.8 141.6 926.3 141.2 929.0 140.9 931.0 140.3 932.1 139.5 933.7 139.9 934.5 142.6 935.8 144.3 937.2 145.1 938.7 147.1 939.3 149.8 938.9 152.9 941.0 153.3 942.8 151.7 944.3 150.9 945.7 151.9 945.7 152.5 946.1 155.0 946.9 157.5 947.8 160.2 948.0 162.2 947.8 164.9 947.4 167.4 947.2 169.5 947.6 169.5 949.2 170.9 950.9 172.6 951.3 174.6 951.9 177.7 953.4 180.0 955.4 181.7 957.7 183.1 959.3 183.1 957.9 180.6 957.9 177.7 957.3 175.3 955.4 173.2 954.2 171.9 951.7 170.9 950.7 168.4 949.6 167.0 949.0 165.3 949.2 163.3 950.7 161.2 950.7 158.5 951.7 158.1 952.5 158.3 954.4 159.8 955.8 160.8 956.9 162.9 958.1 164.3 960.0 164.5 960.8 165.7 960.6 168.2 961.6 168.0 964.3 166.2 964.7 164.5 965.1 164.5 967.6 163.3 969.7 162.0 969.9 160.2 969.9 158.1 969.1 154.6 967.8 152.9 966.4 151.9 964.1 149.4 962.7 147.4 962.4 146.7 963.1 144.9 964.7 143.0 967.6 141.4 969.5 141.6 970.7 141.6 971.1 144.0 972.0 144.0 972.4 142.2 974.6 141.6 976.5 140.9 978.6 140.1 980.0 139.9 982.7 139.1 985.4 137.8 988.3 135.4 989.9 133.9 991.2 132.3 992.0 130.2 994.1 128.1 995.3 127.1 996.1 125.0 995.7 124.2 993.7 123.4 994.7 122.8 995.9 121.9 995.7 120.3 993.9 117.8 992.6 115.7 990.6 114.3 991.0 113.3 992.6 111.6 997.0 109.7 997.2 108.7 993.7 107.9 992.0 108.9 989.9 108.9 990.3 107.9 988.9 107.5 987.5 105.0 991.2 103.5 994.1 101.7 996.5 101.9 996.1 102.3 994.5 104.4 995.3 105.6 998.2 104.2 1000.9 103.5 1003.0 104.4 1002.3 106.4 1003.4 107.9 1005.6 108.5 1005.8 109.5 1005.4 111.6 1005.0 114.1 1005.4 114.9 1008.5 114.1 1010.8 113.5 1011.6 111.6 1011.0 109.1 1009.2 106.4 1007.5 104.8 1009.6 103.3 1012.0 101.7 1012.7 100.2 1014.1 98.6 1014.7 98.0 1016.8 96.9 1023.0 96.1 1026.1 93.6 1029.2 90.9 1031.3 88.2 1034.0 85.8 1034.4 82.7 1035.0 79.6 1035.4 78.5 1036.0 76.1 1033.3 74.4 1030.2 74.8 1027.1 74.4 1024.0 73.2 1026.1 72.3 1029.6 69.4 1033.3 67.2 1039.9 63.2 1044.7 63.4 1049.9 63.4 1056.1 63.0 1064.3 63.0 1067.4 58.9 1070.5 58.5 1074.7 59.9 1080.9 56.8 1082.9 56.8 1078.8 58.9 1073.6 62.0 1068.5 66.1 1066.0 68.2 1065.6 72.3 1066.4 77.5 1067.8 80.6 1070.5 78.9 1072.0 76.5 1074.7 76.1 1077.8 73.4 1078.8 72.3 1080.9 69.9 1078.8 66.5 1081.9 65.1 1084.0 62.4 1087.1 62.0 1095.3 62.0 1099.5 61.0 1105.7 58.3 1114.3 57.2 1115.0 56.8 1113.9 55.8 1111.9 52.1 1113.9 49.6 1118.1 50.6 1120.1 52.3 1130.1 52.9 1132.5 50.6 1137.3 49.6 1132.5 47.9 1126.3 47.1 1122.2 45.5 1116.0 43.4 1107.7 41.7 1101.5 41.3 1096.4 41.3 1095.3 43.4 1085.0 42.4 1078.8 42.2 1074.7 42.0 1066.4 39.3 1058.1 39.3 1054.0 37.8 1045.7 36.4 1035.4 35.5 1031.3 36.6 1027.1 38.2 1018.9 38.2 1014.7 39.3 1011.6 38.2 1010.6 35.5 1004.4 34.1 998.2 34.7 989.9 35.1 981.7 34.1 977.5 33.5 971.3 33.7 965.1 34.1 971.3 32.0 978.6 30.0 975.5 27.9 965.1 26.9 959.6 25.4 950.7 27.9 946.5 28.3 936.2 28.9 923.8 31.0 921.7 33.1 910.4 34.1 916.6 37.6 914.5 38.6 909.3 36.6 905.2 36.8 903.1 37.2 898.0 36.2 899.0 39.3 898.0 43.8 896.9 47.5 892.8 49.0 895.9 46.5 894.9 43.4 893.8 39.3 893.8 36.2 890.7 34.7 885.6 36.2 883.5 38.2 882.1 39.7 882.5 42.4 885.6 45.1 882.5 44.4 878.3 43.4 876.3 42.8 869.0 41.7 869.0 43.4 863.9 43.8 857.7 44.4 856.6 45.1 854.6 44.4 847.3 45.5 843.2 46.3 840.1 47.5 839.1 45.5 833.5 44.2 834.9 44.8 835.6 47.5 834.9 49.6 830.8 48.8 826.7 50.2 827.7 52.7 822.5 52.7 821.5 53.7 815.9 52.7 815.3 50.6 812.2 47.5 816.3 48.6 822.5 49.2 828.7 48.2 826.7 45.9 818.4 43.4 812.2 42.8 808.1 40.5 801.9 39.3 797.1 39.1 787.4 40.9 782.2 41.7 776.0 44.4 773.6 46.9 768.8 50.6 765.7 52.7 761.6 54.8 756.8 56.8 754.3 57.9 754.5 61.2 755.6 64.1 760.5 65.9 765.9 63.4 768.6 66.8 770.7 71.3 773.3 71.5 776.0 69.9 778.1 67.2 782.2 63.4 779.5 60.6 780.2 57.0 786.0 54.1 789.9 50.6 794.0 50.0 796.3 51.7 788.4 55.8 788.0 58.9 789.5 61.2 791.5 62.4 795.7 61.6 802.9 60.8 806.0 62.0 801.9 63.0 795.3 63.0 792.6 63.7 794.6 65.5 793.6 68.2 792.6 68.2 790.5 67.0 787.4 69.2 787.4 70.9 785.3 73.0 782.4 73.6 773.6 74.4 771.9 73.4 768.8 74.0 766.3 74.4 764.3 72.3 765.3 69.2 765.9 66.8 760.7 68.2 761.2 71.3 762.2 74.6 758.5 75.4 753.9 76.5 752.3 78.5 750.0 80.2 747.7 80.8 744.2 83.7 740.7 83.3 739.9 85.6 737.8 85.1 734.1 86.0 739.5 88.5 741.5 90.5 741.5 93.6 740.3 96.3 736.1 96.1 732.2 95.9 726.6 96.3 724.8 97.1 726.0 100.9 724.4 106.0 725.4 109.5 729.5 109.1 731.0 110.6 732.4 111.6 732.8 111.4 734.9 110.2 738.8 109.9 739.5 110.2 741.9 108.3 743.0 106.8 744.4 106.0 743.4 104.4 745.7 101.9 746.5 101.1 748.5 100.4 750.8 98.6 750.2 98.2 750.4 97.1 752.1 96.1 753.3 96.3 755.2 96.5 756.4 96.9 759.1 95.7 760.5 95.3 762.4 94.2 764.3 94.9 765.3 96.1 765.7 97.1 766.9 98.4 769.2 99.6 771.9 100.9 773.3 101.7 774.6 102.1 776.4 103.3 777.5 104.4 777.1 106.0 776.4 107.7 778.1 106.6 779.3 105.4 778.3 104.0 779.5 102.3 782.0 103.7 782.2 103.1 781.2 102.1 778.9 101.1 777.5 99.4 773.3 98.2 771.9 95.9 770.0 95.1 769.6 93.4 769.6 92.2 772.5 91.8 772.1 93.0 774.0 92.4 775.4 94.9 777.9 96.1 782.2 98.2 783.9 99.2 784.1 100.4 784.3 102.3 785.7 104.4 787.0 105.4 787.6 106.6 788.6 107.1 788.0 108.1 788.8 109.9 790.3 110.8 791.7 110.6 791.9 108.7 791.5 107.5 793.0 107.7 793.6 108.1 793.6 107.1 791.5 105.6 791.5 104.8 790.7 103.3 791.3 102.3 792.4 102.7 794.2 103.1 793.2 102.3 794.4 101.5 797.5 101.7 797.9 102.1 798.1 103.2 799.2 102.3 800.8 101.3 803.7 101.3 803.9 100.9 801.9 100.2 801.0 98.2 801.9 96.7 803.3 94.7 805.4 92.2 807.4 89.9 809.1 89.7 810.1 90.3 813.6 90.5 813.4 90.9 811.2 92.2 813.0 93.8 814.3 94.2 817.2 93.0 819.2 92.2 816.3 91.6 816.3 90.5 819.4 89.5 821.5 88.7 825.0 88.5 823.2 89.5 821.5 90.9 819.6 92.6 822.1 93.6 823.6 94.2 826.0 95.9 828.7 97.1 829.8 98.2 830.0 100.0 826.0 101.3 822.5 101.3 819.0 100.6 816.3 99.2 812.2 99.2 809.1 100.6 806.6 100.9 803.9 101.3 803.9 102.3 800.8 102.5 798.1 102.9 798.4 104.8 799.4 106.6 800.6 109.5 802.3 110.2 804.3 111.0 807.0 111.0 807.4 109.7 811.8 111.6 813.6 111.2 815.5 109.9 817.4 110.4 818.8 110.4 818.0 112.6 818.0 114.7 817.4 115.9 816.3 118.2 815.9 119.7 814.9 121.3 813.9 121.7 810.8 121.3 M-11.8 82.5 -8.5 82.0 -7.2 81.6 -5.0 81.4 -2.7 81.0 0.0 81.0 2.9 80.4 1.4 79.6 2.1 78.9 3.5 77.3 1.0 76.5 0.4 76.7 0.0 75.2 -0.4 74.2 -1.2 73.4 -2.9 72.3 -4.1 70.7 -6.2 70.3 -5.6 69.6 -4.1 68.0 -3.9 66.8 -8.3 67.0 -6.2 65.1 -10.3 64.9 -10.7 66.3 -12.0 67.6 -11.6 69.2 -12.0 71.7 -10.1 70.7 -9.7 71.5 -10.5 72.5 -7.2 72.5 -7.0 73.4 -6.6 74.2 -6.2 75.6 -8.9 75.8 -9.5 75.8 -9.7 76.9 -8.5 77.7 -11.0 78.7 -8.3 79.4 -6.6 79.6 -5.6 79.6 -6.8 80.2 -8.7 80.2 -9.5 81.0 -10.5 81.8Z M732.2 82.5 735.5 82.0 736.8 81.6 739.0 81.4 741.3 81.0 744.0 81.0 746.9 80.4 745.4 79.6 746.1 78.9 747.5 77.3 745.0 76.5 744.4 76.7 744.0 75.2 743.6 74.2 742.8 73.4 741.1 72.3 739.9 70.7 737.8 70.3 738.4 69.6 739.9 68.0 740.1 66.8 735.7 67.0 737.8 65.1 733.7 64.9 733.3 66.3 732.0 67.6 732.4 69.2 732.0 71.7 733.9 70.7 734.3 71.5 733.5 72.5 736.8 72.5 737.0 73.4 737.4 74.2 737.8 75.6 735.1 75.8 734.5 75.8 734.3 76.9 735.5 77.7 733.0 78.7 735.7 79.4 737.4 79.6 738.4 79.6 737.2 80.2 735.3 80.2 734.5 81.0 733.5 81.8Z M731.6 78.1 730.8 77.9 726.8 78.9 723.7 79.6 722.5 78.3 725.4 76.1 723.3 75.4 723.3 74.4 726.2 73.8 726.4 72.3 728.9 71.5 732.0 73.0 732.6 73.8 731.2 74.4 731.4 75.8Z M21.7 21.7 22.7 23.8 27.9 25.2 30.0 26.9 34.1 27.7 37.2 25.8 39.3 23.8 43.4 23.4 38.2 21.7 33.1 20.7 24.8 21.1Z M37.2 20.7 41.3 19.8 49.6 19.8 55.8 20.5 53.7 21.9 45.5 22.3 39.3 21.5Z M97.1 20.3 103.3 18.8 113.7 18.6 124.0 18.6 128.1 19.4 119.9 20.5 107.5 20.5Z M106.4 38.0 108.5 36.2 109.5 34.1 113.7 32.0 115.7 30.6 119.9 29.3 126.1 28.3 134.3 27.3 141.6 26.9 142.6 27.9 136.4 28.9 127.1 30.6 124.0 32.0 120.9 34.1 117.8 36.2 115.7 38.2 118.8 39.9 113.7 39.9 110.6 39.3Z M196.3 22.7 200.5 20.0 206.7 18.2 214.9 19.6 219.1 22.7 214.9 24.4 206.7 24.4 200.5 23.6Z M283.1 31.0 285.2 28.9 295.5 28.7 301.7 30.0 310.0 30.4 310.0 31.4 297.6 31.4 289.3 32.0 284.2 32.0Z M368.9 38.9 372.0 38.2 377.2 38.6 376.1 39.5 371.0 39.7Z M165.3 165.7 167.8 168.2 169.3 170.9 168.8 172.6 166.6 173.8 165.5 173.4 165.1 171.7 164.9 169.1Z M101.9 210.8 103.3 213.9 104.4 217.6 102.9 219.1 102.3 222.2 102.1 223.4 100.9 227.3 99.2 232.5 97.5 237.3 97.1 237.7 94.0 238.9 93.4 238.9 90.9 237.7 90.3 234.4 89.5 231.5 90.5 229.4 91.6 228.0 91.8 225.3 90.9 223.2 90.9 221.1 91.8 219.5 94.0 218.9 95.7 218.4 97.8 216.6 99.2 214.1 100.9 212.5Z M197.0 174.4 200.5 175.3 201.5 175.3 203.2 176.7 204.0 178.1 206.3 179.8 207.7 181.5 209.8 182.3 211.8 183.9 213.5 185.0 214.5 186.6 213.9 188.1 215.6 188.3 216.2 190.1 217.0 191.0 219.1 192.2 218.9 194.3 218.7 197.4 217.6 198.0 216.0 198.0 214.9 196.7 212.9 195.5 211.2 193.9 209.8 192.2 208.3 190.1 207.3 188.1 205.6 186.0 204.2 182.5 201.9 180.8 200.5 178.8 198.6 177.5 197.0 175.3Z M217.4 200.1 219.1 198.2 220.7 198.6 223.2 199.0 224.4 199.8 228.2 200.3 229.4 199.4 232.5 200.3 233.1 201.1 235.4 201.9 236.4 202.1 236.4 203.4 236.8 204.0 233.5 203.2 230.4 203.2 227.3 202.5 224.2 202.1 222.2 201.9 219.9 201.1Z M238.7 202.9 241.8 203.4 245.9 203.2 245.9 204.4 241.8 204.6 238.9 204.0Z M247.8 203.4 251.1 203.6 254.2 203.2 253.8 204.0 250.1 204.4 248.0 204.2Z M255.2 207.3 257.3 205.2 260.4 203.8 262.9 203.4 261.4 204.6 258.3 206.3 256.3 207.3Z M245.9 205.6 248.0 205.4 249.7 206.7 248.0 207.1 246.3 206.3Z M226.5 181.9 228.0 182.5 230.0 181.0 230.2 180.2 233.5 179.4 235.6 176.9 237.7 175.7 239.7 173.6 241.4 171.5 242.2 172.4 244.1 173.8 246.3 175.0 245.1 176.7 243.7 177.1 243.0 178.6 243.2 179.2 243.9 181.2 243.7 182.3 245.9 183.9 243.9 184.3 242.8 186.0 242.8 187.4 241.4 188.7 240.8 190.5 240.6 192.2 239.7 193.6 237.0 194.5 236.6 193.2 234.6 192.8 232.5 193.0 231.1 193.2 229.0 192.2 227.7 190.5 227.5 189.1 225.9 187.4 225.5 186.0 225.1 183.9 225.9 182.5Z M248.0 184.3 249.7 183.3 252.1 183.9 255.2 184.1 257.9 182.9 258.7 182.9 257.3 185.0 254.8 185.4 251.1 185.0 248.6 185.2 248.0 186.4 249.0 188.1 250.7 187.9 254.6 187.4 255.0 188.1 252.5 189.3 251.5 189.9 252.8 192.2 254.2 194.3 254.6 197.0 252.8 197.0 252.1 195.5 251.1 195.7 250.1 194.3 250.1 191.6 249.7 191.6 248.6 193.2 248.8 196.3 248.6 197.6 246.8 196.7 247.0 194.3 245.9 193.0 245.5 191.6 246.3 189.1 247.6 187.7 247.6 185.6Z M263.5 181.9 264.5 182.3 266.0 183.5 264.9 185.0 265.6 187.0 264.1 187.2 263.9 185.0 263.3 183.9Z M264.5 192.2 267.6 191.8 270.3 192.6 269.7 193.6 266.6 193.0 264.5 193.0Z M260.4 192.6 262.5 192.4 262.9 193.4 261.4 193.9 260.4 193.2Z M271.1 187.7 273.8 186.8 276.9 187.7 277.6 191.2 279.0 192.8 281.1 191.8 283.1 190.1 285.2 189.3 290.8 191.2 291.4 191.4 294.5 192.6 296.8 193.4 298.6 194.1 301.3 196.7 302.8 197.8 305.5 199.2 305.5 199.8 303.8 199.8 304.8 201.7 306.5 203.4 307.9 204.6 310.0 206.7 311.7 207.3 310.4 208.1 307.9 207.3 305.9 206.9 304.2 205.6 302.8 204.4 300.7 202.5 298.6 201.7 297.2 202.3 296.6 203.4 295.9 204.8 294.5 205.0 291.4 204.8 289.3 202.9 287.3 202.7 285.6 203.4 284.6 203.4 285.8 201.1 286.9 200.1 285.2 197.4 283.1 196.1 280.0 195.3 278.0 194.3 275.9 193.6 274.9 194.3 274.5 192.8 276.1 191.4 273.2 190.8 270.7 188.9Z M306.5 197.6 309.0 197.4 311.0 197.4 313.1 196.3 314.5 194.7 314.8 196.3 313.1 197.8 311.0 198.8 309.0 199.0 306.7 198.2Z M311.7 191.4 313.7 192.2 315.6 193.9 316.2 195.5 315.4 194.7 313.7 193.0 311.7 192.0Z M249.0 147.8 251.3 148.0 252.5 148.0 253.2 150.9 252.1 152.9 251.1 155.0 251.5 156.7 254.2 157.1 256.3 158.1 256.5 160.0 254.8 159.1 253.2 158.1 251.7 157.5 250.1 157.7 249.2 156.7 249.9 155.8 248.6 155.4 247.8 153.3 248.6 152.7 248.8 149.8Z M252.3 171.7 254.8 170.5 255.2 168.2 257.3 168.2 259.4 167.0 259.4 165.7 261.0 167.8 261.6 170.9 260.8 173.0 259.8 171.9 259.2 174.4 257.3 173.6 256.3 171.9 255.2 170.7 253.2 170.9Z M256.9 160.2 259.0 160.2 259.8 162.9 258.7 164.7 257.9 164.9 257.7 163.3 257.1 162.2Z M252.1 161.6 254.2 162.2 254.6 164.3 255.2 166.8 254.2 167.0 253.4 165.5 252.1 164.3Z M242.2 168.6 243.9 167.0 246.6 164.5 247.4 162.6 246.3 164.1 244.5 165.7 242.4 167.8Z M248.6 158.3 250.5 158.3 251.1 160.0 250.3 160.8 249.7 159.5Z M250.1 133.9 252.1 134.3 251.1 137.4 249.9 140.5 248.4 138.9 248.4 137.4 249.7 135.2Z M224.6 146.1 226.7 144.5 229.4 144.9 228.4 147.1 226.5 148.4 224.6 147.6Z M291.2 100.2 292.4 102.3 293.5 104.2 291.4 106.8 291.4 109.5 291.2 112.2 289.3 113.7 288.9 112.4 288.7 113.3 287.1 114.3 285.6 114.5 283.1 114.5 282.9 115.1 280.7 116.8 279.4 114.9 278.0 114.3 275.9 114.9 273.8 115.1 270.7 115.7 270.5 115.7 271.4 114.7 273.8 112.8 275.9 112.6 278.0 112.4 280.0 112.4 281.1 112.2 282.5 109.9 283.8 108.5 283.1 109.9 283.8 109.9 287.3 107.5 288.9 105.4 289.3 103.7 289.1 102.1 290.0 100.9Z M289.3 100.2 290.8 99.6 291.4 98.6 293.5 98.2 296.2 99.2 298.4 97.1 301.1 96.5 300.3 94.4 298.2 95.1 295.5 93.8 293.1 92.0 292.8 94.0 292.6 95.3 292.0 96.5 290.2 96.5 289.1 98.2Z M270.5 115.9 272.2 116.6 272.8 117.8 272.2 118.8 271.8 120.1 270.9 121.3 270.1 121.9 269.1 121.3 269.1 119.5 268.3 118.4 267.8 117.2 269.5 116.6Z M273.8 115.7 276.9 114.9 278.4 116.1 277.3 117.2 275.9 116.8 274.9 118.4 273.6 117.4Z M293.5 73.8 294.9 73.6 295.5 75.8 296.2 78.5 295.9 81.6 297.6 84.1 299.0 85.1 295.5 84.7 294.5 87.2 296.2 89.3 296.6 90.5 294.9 89.7 293.5 91.1 293.5 87.8 293.9 84.7 293.7 81.6 293.1 79.2 293.1 75.8Z M25.6 107.5 27.5 107.1 32.2 106.8 31.4 108.9 31.2 110.2 29.6 109.9 26.7 108.3Z M16.9 101.5 19.0 100.6 20.3 102.3 19.8 105.0 18.6 105.4 17.4 105.0 17.4 102.7Z M17.8 98.4 19.4 97.1 19.6 99.2 19.0 100.4 18.0 99.6Z M48.6 112.6 50.6 112.8 54.4 113.0 54.1 113.7 51.0 113.9 48.6 113.3Z M66.8 113.7 68.2 112.8 71.5 112.2 70.3 113.7 68.2 114.5 67.0 114.3Z M294.5 208.1 296.6 211.8 296.6 214.9 300.3 218.0 301.3 220.9 302.4 224.9 303.4 225.9 306.9 227.7 308.3 229.6 311.0 232.5 311.7 234.4 313.7 236.0 315.0 237.5 316.6 237.7 316.4 240.8 316.6 242.8 317.4 245.1 316.2 249.0 316.0 250.9 313.7 254.0 312.7 256.1 311.7 258.3 310.4 260.8 310.0 263.5 305.9 264.3 302.6 266.8 299.7 265.2 298.6 265.2 296.6 266.2 292.6 265.4 290.2 264.5 288.7 262.5 287.9 260.0 285.4 259.6 286.2 257.9 285.2 256.7 284.6 258.7 282.9 259.0 284.2 256.3 284.8 253.4 283.5 255.6 281.9 256.9 280.9 258.1 279.4 257.3 278.4 254.6 276.1 252.3 273.2 252.1 271.1 251.1 266.6 251.3 263.5 252.5 260.4 252.8 257.3 254.2 255.2 256.1 251.9 256.1 248.0 256.3 243.9 258.3 240.8 258.3 237.9 257.1 237.7 255.4 238.9 254.8 239.1 252.1 238.3 250.1 237.7 248.0 236.8 245.5 236.0 242.8 234.6 240.1 234.4 236.6 235.2 233.5 235.8 231.1 236.6 232.3 237.9 230.6 241.4 228.6 245.1 228.0 248.0 227.1 251.1 224.9 252.5 223.2 252.5 221.1 254.2 219.9 255.4 221.8 257.3 219.1 259.4 216.0 262.3 214.3 264.5 216.6 264.9 217.0 267.6 216.8 267.8 214.9 269.3 212.9 270.3 211.6 271.8 211.2 273.8 210.8 274.0 209.6 275.9 210.4 279.0 211.2 282.1 210.8 282.9 211.4 282.1 213.5 280.9 215.3 280.0 217.0 282.1 218.7 284.2 219.5 287.3 221.1 289.3 222.6 291.0 222.2 292.2 219.1 292.6 216.0 292.8 212.9 293.1 212.0 293.5 209.8Z M299.0 270.1 302.8 270.9 306.3 270.3 306.5 272.8 305.7 275.3 303.4 276.1 301.7 275.9 300.3 273.8 299.0 271.1Z M356.9 257.1 358.6 258.3 360.6 260.4 361.3 262.1 362.7 261.4 363.7 263.7 368.9 263.9 367.9 266.0 367.7 266.8 365.8 267.6 365.6 269.3 362.3 272.0 361.3 271.4 361.9 269.7 361.7 268.7 359.6 267.8 359.2 267.2 359.8 266.6 360.8 265.2 361.3 263.5 360.2 261.4 358.2 259.0Z M356.9 269.7 357.7 271.1 360.0 270.7 360.2 272.2 359.0 273.6 357.5 275.3 357.7 276.5 355.5 276.9 354.0 277.8 353.4 279.4 352.8 280.9 350.9 282.1 347.8 282.3 346.2 281.5 344.1 281.1 344.1 280.0 345.8 278.6 346.8 278.0 348.2 276.9 349.3 276.5 351.7 275.3 353.4 274.2 354.6 272.4 355.7 270.5Z M338.9 227.5 341.0 228.6 344.1 231.1 345.1 232.3 343.7 232.1 341.0 230.4 339.3 228.6Z M366.4 222.0 368.5 221.8 369.3 223.2 367.5 223.8 366.2 223.0Z M323.4 199.8 326.5 201.5 330.3 203.6 332.7 205.6 331.7 206.3 328.6 204.2 325.5 202.5 323.2 200.7Z M142.2 286.6 145.7 286.9 145.7 288.5 142.6 288.7Z M697.5 53.7 697.1 54.1 702.0 54.8 704.7 55.0 709.9 54.1 713.0 53.1 715.9 51.7 714.0 49.6 713.8 48.8 710.9 48.6 706.8 49.2 702.0 49.4 699.6 50.6 697.5 48.8 694.4 50.0 693.4 50.6 698.5 50.8 694.4 51.9 698.5 52.9Z M583.0 171.1 582.0 169.5 580.7 167.4 579.7 167.6 578.0 168.8 577.6 170.7 575.6 170.3 572.9 169.1 571.2 168.4 569.0 166.2 568.1 166.2 566.7 164.9 566.9 163.3 565.2 161.6 563.2 159.3 561.1 158.7 558.0 157.7 554.9 157.1 553.2 155.8 550.8 153.3 547.7 152.5 544.6 153.6 540.4 152.3 537.5 151.3 533.8 149.4 532.8 148.8 530.1 148.0 528.2 146.5 525.6 143.8 526.4 143.2 526.0 141.4 524.1 138.1 521.2 135.4 518.3 133.1 514.6 128.3 512.1 126.1 510.5 122.3 507.0 120.5 507.0 123.0 509.4 126.1 511.5 129.0 513.6 131.9 515.6 135.4 516.0 136.0 516.9 138.7 515.6 137.4 512.5 134.7 511.9 132.3 509.0 130.6 506.3 128.5 508.0 126.9 504.7 123.4 502.8 120.3 501.8 118.4 499.3 115.9 495.0 114.7 493.9 112.6 492.1 110.4 490.8 107.9 488.4 105.6 486.9 102.5 487.3 99.6 486.7 97.5 487.7 94.0 487.7 90.5 486.3 86.0 489.8 86.4 489.4 84.1 486.1 82.7 481.5 80.6 479.5 78.1 474.7 73.8 472.2 71.3 468.1 68.2 464.0 65.7 461.5 65.5 455.3 63.0 450.5 62.0 445.4 62.0 442.3 60.6 438.1 60.3 435.0 62.4 430.5 63.7 430.9 61.0 434.0 59.5 429.9 61.0 426.8 63.4 425.1 65.7 420.6 68.2 416.4 70.3 411.3 71.7 407.1 73.0 403.4 73.4 408.2 70.7 412.3 70.3 416.4 68.2 418.5 64.7 415.4 64.9 409.2 64.9 409.2 62.0 405.1 61.0 402.4 61.0 400.9 58.7 403.0 56.4 403.4 55.4 411.3 54.8 411.3 52.7 407.1 52.7 402.2 52.7 399.9 52.3 396.8 50.4 405.1 48.6 409.2 49.2 406.1 47.5 399.3 44.8 400.5 43.6 407.1 41.7 409.4 40.7 420.4 38.4 427.8 39.5 434.0 40.3 438.1 40.7 446.4 41.3 452.6 42.2 460.9 43.4 465.0 42.4 469.1 42.4 476.4 40.9 479.5 40.3 485.7 41.3 486.7 42.8 493.9 41.7 502.2 43.4 506.3 44.8 508.4 45.9 516.7 45.7 519.8 44.6 520.8 47.5 524.9 44.4 533.2 45.5 540.4 45.5 542.5 43.4 545.6 44.4 547.7 42.4 544.6 38.6 548.7 37.2 552.8 39.3 553.9 41.7 557.0 44.4 562.1 43.8 567.3 41.7 574.5 42.0 576.0 43.8 574.5 47.5 571.4 49.2 565.6 48.6 564.2 51.0 561.1 52.7 558.0 53.7 555.9 54.8 553.9 56.2 550.8 58.3 549.5 59.7 549.3 64.5 552.2 67.0 552.8 68.2 558.0 67.6 562.1 69.2 568.3 71.3 573.9 71.9 573.9 74.4 574.1 76.5 575.6 77.9 577.6 80.0 579.7 80.0 581.1 77.5 580.7 74.4 579.7 72.7 583.8 71.3 585.5 68.2 583.8 65.1 582.2 64.1 582.8 63.0 584.2 61.0 582.8 57.5 583.0 56.8 588.0 57.2 592.1 57.9 595.2 59.1 596.2 59.9 599.3 59.9 600.2 62.0 600.4 64.1 602.8 65.3 606.6 64.5 608.6 63.0 610.7 61.2 612.8 64.1 615.2 66.5 616.9 69.2 619.4 71.3 623.1 72.7 625.6 74.4 625.2 75.0 628.3 76.9 628.7 78.5 626.2 79.8 623.1 80.2 620.0 82.0 606.8 82.3 604.9 83.9 602.4 85.1 600.0 86.6 597.3 89.1 599.3 88.2 602.4 86.0 604.5 84.9 611.1 84.9 610.1 86.8 607.0 86.8 609.7 87.8 610.1 88.9 610.7 90.3 612.1 90.9 614.8 91.6 616.9 91.6 619.0 88.9 620.4 90.9 617.9 92.4 612.8 93.8 609.7 95.7 608.4 96.3 607.2 95.5 608.0 93.8 610.7 92.4 610.1 91.6 607.6 92.6 605.5 93.4 602.8 94.4 601.0 95.1 598.9 95.9 597.9 97.1 598.1 97.8 597.3 98.6 599.3 99.2 599.3 99.8 597.3 100.2 595.2 100.6 591.1 102.1 591.1 104.0 589.2 105.4 588.0 104.4 588.8 106.4 588.4 107.5 587.1 109.3 586.3 107.5 585.9 105.0 586.1 108.9 586.9 109.7 588.0 113.3 585.9 114.5 583.0 115.7 582.8 115.9 580.7 117.2 578.9 118.4 576.6 119.9 575.8 123.4 577.6 127.1 578.7 130.6 578.5 132.7 577.8 133.9 576.6 134.1 574.9 132.3 574.1 131.0 572.9 128.5 573.1 126.3 572.5 125.9 570.4 123.8 567.7 124.6 566.9 123.8 563.8 123.4 562.1 123.4 560.1 123.4 559.0 124.0 559.7 125.7 559.2 126.1 558.0 125.9 555.9 125.7 554.3 124.8 551.8 124.6 548.1 125.4 546.0 126.7 543.1 128.8 542.7 131.2 543.1 132.5 542.1 135.4 541.9 139.9 542.9 142.6 545.4 146.3 546.6 147.4 548.9 148.4 551.8 148.0 553.9 147.6 557.0 145.1 557.2 142.6 560.1 142.0 563.2 141.6 564.2 141.6 564.6 142.4 563.4 144.3 563.2 146.1 562.1 147.8 561.7 149.8 561.5 151.9 560.5 153.1 562.1 153.6 564.6 153.3 566.3 152.9 568.3 153.1 570.4 153.3 572.1 155.0 571.6 157.1 571.4 159.1 571.0 161.2 571.0 163.5 572.5 165.3 574.1 167.0 575.6 167.8 577.0 167.6 578.9 166.6 580.7 166.2 582.8 166.8 584.0 168.0 M584.0 168.0 585.3 169.5 586.3 167.6 587.8 166.2 588.0 164.5 589.4 163.1 590.7 162.6 593.1 162.2 595.8 160.4 597.1 160.8 596.6 161.6 595.4 162.9 596.0 163.5 597.3 163.3 598.7 162.0 599.3 160.8 599.7 162.2 602.4 162.6 603.5 164.3 605.5 164.1 607.6 164.1 609.3 164.9 611.3 164.3 614.2 163.9 616.1 163.9 614.8 164.9 617.9 166.4 617.9 168.4 620.0 168.4 622.1 169.5 623.7 171.9 625.8 173.6 629.9 173.8 632.4 174.0 635.9 175.9 638.0 177.3 638.8 179.8 640.7 182.3 640.7 185.0 638.6 186.0 639.6 187.0 641.7 185.6 643.8 186.4 644.2 188.1 643.8 188.9 645.8 187.4 648.9 188.1 651.0 189.1 652.4 191.2 654.1 191.0 657.2 191.8 659.3 192.0 661.3 191.8 664.4 193.6 666.5 195.5 668.6 196.5 670.6 196.7 671.3 198.0 672.1 200.7 671.9 202.7 670.2 206.0 667.5 208.5 664.4 212.9 663.4 216.6 663.4 220.1 663.0 222.6 662.0 225.3 660.7 228.0 659.3 230.4 659.3 231.5 657.2 233.3 654.7 233.5 652.0 233.9 648.3 235.6 645.8 237.3 643.8 238.7 643.8 243.0 643.4 244.9 641.3 246.6 640.0 249.0 638.6 250.7 636.3 252.3 633.6 255.6 632.8 257.1 630.5 258.1 627.9 258.1 624.5 257.3 623.3 257.5 625.8 259.4 625.8 261.0 626.8 261.2 625.2 264.5 622.7 265.8 619.0 266.4 615.2 266.2 615.5 268.7 615.2 270.3 613.8 270.9 609.7 270.7 609.7 272.8 612.4 273.8 611.1 274.7 609.7 275.5 609.0 278.0 608.4 279.0 604.5 280.9 604.5 282.1 606.6 283.1 607.8 284.8 606.6 286.2 604.3 287.9 602.4 289.7 601.4 291.4 601.4 292.6 602.6 294.1 600.4 294.5 597.7 295.1 597.5 295.9 596.6 297.4 594.2 296.6 592.1 295.5 590.0 294.1 589.0 291.4 588.4 289.3 588.0 286.2 590.0 284.2 588.0 282.5 590.0 280.0 591.5 278.0 591.1 275.7 590.7 272.8 591.5 270.7 592.3 268.5 592.1 265.6 591.9 262.9 592.9 261.8 593.8 259.4 595.2 257.3 596.0 254.2 596.2 252.1 596.0 250.1 596.6 247.8 596.2 244.9 597.7 241.8 597.9 238.7 598.5 234.8 598.9 231.5 599.1 227.7 598.7 224.2 596.6 222.4 594.2 220.5 591.1 219.1 588.6 217.8 586.3 214.7 585.9 212.9 584.7 210.8 583.4 208.7 581.6 204.8 580.7 202.7 579.1 200.9 577.4 199.0 576.4 198.4 576.2 196.5 576.0 195.7 576.8 194.3 577.8 193.2 578.7 192.2 578.9 191.0 578.0 191.6 576.6 190.5 576.8 188.1 577.6 186.8 578.5 185.8 579.3 183.9 580.9 183.3 581.1 182.3 582.0 180.8 583.4 180.6 584.7 177.9 583.8 176.7 584.2 174.6 583.8 174.6 584.0 172.6 583.0 171.1 M602.2 294.7 602.8 295.9 604.5 297.6 606.6 298.6 609.3 298.8 606.6 299.7 604.9 301.5 603.5 300.7 600.4 300.3 597.3 299.3 595.2 298.2 597.3 297.6 598.7 296.6 599.3 296.6 600.8 295.1Z M617.9 293.1 620.0 292.0 624.1 292.2 624.8 292.8 623.1 293.9 619.0 294.1Z M665.5 297.6 668.6 298.0 670.0 299.0 668.6 299.3 666.1 298.2Z M653.1 62.4 648.9 60.3 644.8 59.9 640.7 57.9 637.2 53.3 634.5 49.6 633.0 47.5 638.6 43.4 632.4 42.4 631.4 40.3 636.5 39.3 628.3 35.5 626.2 32.0 620.0 29.3 613.8 28.5 606.6 28.9 601.4 27.9 597.3 26.2 593.1 24.4 603.5 22.7 609.7 20.7 605.5 19.6 615.9 18.2 620.0 16.5 636.5 15.9 648.9 14.9 661.3 13.6 675.8 13.2 688.2 13.8 698.5 15.5 702.7 16.5 692.3 17.6 708.9 17.6 719.2 17.6 710.9 19.6 706.8 20.7 708.9 22.7 704.7 24.8 706.8 26.9 702.7 28.9 704.7 31.0 702.7 32.4 699.6 34.1 698.5 36.6 698.5 40.3 694.4 40.9 697.5 41.3 692.3 43.4 688.2 44.4 682.0 45.3 677.9 46.5 673.7 48.6 669.6 49.8 666.5 50.4 661.3 51.7 660.3 53.7 657.2 56.2 656.2 58.9 655.1 61.0Z M568.5 140.7 570.4 139.1 573.7 138.3 577.6 138.5 580.7 139.7 583.8 141.2 587.6 142.6 590.7 144.3 589.0 144.9 587.3 144.7 583.4 145.1 584.5 143.4 581.8 142.6 579.7 141.2 577.6 140.3 574.5 139.7 571.4 140.1Z M590.2 148.2 593.5 148.0 594.4 147.6 593.5 146.7 592.3 145.3 595.2 144.9 598.3 145.1 599.5 145.7 601.0 146.1 602.6 147.6 602.0 148.4 599.3 148.0 597.3 148.4 596.2 149.4 595.2 148.4 592.1 148.4Z M582.2 148.0 584.9 147.8 586.5 148.8 584.9 149.2 582.4 148.6Z M605.1 147.8 608.2 148.0 608.0 148.8 605.1 148.8Z M621.4 87.6 623.1 85.8 624.1 83.7 625.2 81.6 626.6 80.0 629.3 79.4 628.3 81.6 626.6 83.1 629.3 82.9 632.4 83.7 634.5 85.4 633.4 87.2 635.1 87.6 634.3 89.5 632.4 89.3 632.0 87.8 629.3 89.1 628.3 87.6 625.2 87.6Z M488.8 86.0 485.7 85.4 482.6 83.7 479.5 81.6 478.8 81.0 481.5 81.0 485.0 82.5 487.7 84.3Z M472.9 78.1 470.6 76.5 469.1 74.2 471.6 74.4 471.8 76.5Z M424.7 67.8 426.8 68.0 429.5 67.0 428.8 65.7 426.8 66.1Z M609.7 58.3 607.6 57.2 602.4 54.4 605.5 56.2 599.3 56.4 595.2 54.6 585.9 53.3 582.8 52.5 584.9 51.0 591.1 50.6 592.1 48.6 593.1 46.5 594.2 44.4 589.0 43.4 584.9 41.7 580.7 41.3 576.6 41.7 570.4 41.3 566.3 40.3 562.1 39.3 559.0 36.2 560.1 33.7 566.3 33.5 568.3 35.1 574.5 33.7 577.6 33.9 584.9 35.8 589.0 36.6 595.2 38.2 602.4 40.7 605.5 42.8 603.5 44.2 611.7 46.5 616.9 48.2 613.8 50.4 608.6 49.6 604.5 48.8 607.6 52.1 611.7 54.1 608.6 56.2Z M498.1 38.2 501.2 40.3 506.3 42.8 510.5 44.4 518.7 44.0 527.0 43.6 533.2 43.0 535.3 41.3 531.1 39.3 527.0 36.2 520.8 34.7 514.6 35.8 508.4 34.7 501.2 35.1 498.1 37.2Z M484.6 37.2 488.8 38.9 495.0 38.2 498.1 36.2 504.3 34.1 504.3 32.7 492.9 32.0 486.7 32.4 485.7 35.1Z M502.2 30.6 510.5 32.0 518.7 31.4 524.9 31.0 524.9 28.9 518.7 27.5 510.5 28.3 504.3 28.1 501.2 29.3Z M533.2 37.2 539.4 38.2 544.6 36.2 543.5 34.1 539.4 33.1 534.2 34.1 533.2 35.5Z M546.6 36.8 551.8 37.2 557.0 35.1 555.9 33.1 549.7 32.7 546.0 34.1Z M545.6 30.0 553.9 31.4 562.1 31.8 570.4 32.0 578.7 31.6 578.7 30.0 570.4 29.3 562.1 28.1 553.9 27.3 545.6 27.9Z M558.0 27.9 568.3 28.3 578.7 28.5 582.8 26.9 584.9 24.8 589.0 22.7 595.2 21.3 603.5 19.0 611.7 17.6 615.9 15.5 603.5 14.5 586.9 14.3 574.5 14.9 562.1 15.9 553.9 17.6 562.1 19.6 566.3 21.7 562.1 23.8 562.1 25.8 558.0 26.9Z M547.7 23.8 553.9 24.4 562.1 23.8 562.1 21.7 558.0 19.6 551.8 18.2 545.6 20.0 547.7 22.1Z M535.3 30.6 541.5 31.0 542.5 28.9 539.4 27.5 534.2 28.5Z M489.8 28.9 498.1 29.3 504.3 26.9 500.1 25.8 493.9 26.9Z M564.2 51.7 568.3 50.0 571.4 50.0 575.6 52.7 578.0 54.4 574.5 54.6 571.4 53.7 568.3 55.2 564.2 54.6 566.3 52.7Z M538.4 43.0 541.5 41.7 545.6 42.8 545.6 44.2 541.5 44.4Z M421.6 145.7 423.5 144.3 424.1 145.7 422.4 146.9Z M420.2 142.8 421.6 142.8 421.2 143.4Z M417.1 141.4 418.1 141.6 417.5 142.0Z M414.0 140.1 414.8 140.3 414.4 140.7Z M-372.0 360.6 -353.4 359.2 -334.8 362.1 -305.9 362.5 -295.5 361.5 -316.2 358.6 -316.2 355.5 -324.5 353.8 -303.8 352.0 -305.9 349.7 -319.3 349.1 -326.5 346.8 -326.5 345.3 -300.7 341.6 -280.0 339.6 -262.5 338.1 -248.0 338.5 -236.4 338.7 -221.8 341.2 -207.3 341.2 -212.9 336.7 -196.3 337.3 -184.8 336.7 -171.5 337.5 -158.3 338.1 -148.8 337.7 -139.5 335.8 -138.5 330.7 -140.1 329.4 -138.1 324.3 -127.7 319.9 -117.6 317.0 -129.2 322.0 -135.2 326.3 -127.7 332.3 -124.8 337.3 -132.3 341.0 -148.2 343.3 -159.1 345.3 -161.2 349.1 -152.5 352.6 -135.2 354.8 -120.5 358.2 -105.8 355.7 -88.5 355.7 -72.3 353.8 -59.3 352.0 -62.2 349.7 -73.8 349.1 -70.9 346.8 -50.4 342.4 -33.1 339.6 -31.4 337.3 -21.3 333.8 -10.3 332.9 0.0 330.3 10.3 331.1 20.7 330.7 31.0 330.0 41.3 330.9 51.7 330.9 62.0 329.0 68.2 328.0 78.5 330.3 82.7 328.6 93.0 325.9 103.3 323.4 113.7 322.4 117.8 324.1 124.0 325.1 134.3 325.9 140.5 326.1 144.7 327.6 148.8 329.6 152.9 330.3 157.1 329.2 161.2 327.2 165.3 326.1 175.7 324.1 186.0 323.8 196.3 323.4 206.7 322.0 217.0 323.0 227.3 322.4 237.7 323.4 248.0 324.1 258.3 323.0 268.7 322.4 279.0 322.4 289.3 323.8 299.7 324.5 310.0 327.2 320.3 328.6 330.7 330.7 341.0 332.1 352.4 333.8 347.2 337.9 341.0 341.0 337.9 345.1 341.0 348.2 332.7 352.4 336.9 356.5 355.5 359.2 372.0 360.6 M372.0 360.6 390.6 359.2 409.2 362.1 438.1 362.5 448.5 361.5 427.8 358.6 427.8 355.5 419.5 353.8 440.2 352.0 438.1 349.7 424.7 349.1 417.5 346.8 417.5 345.3 443.3 341.6 464.0 339.6 481.5 338.1 496.0 338.5 507.6 338.7 522.2 341.2 536.7 341.2 531.1 336.7 547.7 337.3 559.2 336.7 572.5 337.5 585.7 338.1 595.2 337.7 604.5 335.8 605.5 330.7 603.9 329.4 605.9 324.3 616.3 319.9 626.4 317.0 614.8 322.0 608.8 326.3 616.3 332.3 619.2 337.3 611.7 341.0 595.8 343.3 584.9 345.3 582.8 349.1 591.5 352.6 608.8 354.8 623.5 358.2 638.2 355.7 655.5 355.7 671.7 353.8 684.7 352.0 681.8 349.7 670.2 349.1 673.1 346.8 693.6 342.4 710.9 339.6 712.6 337.3 722.7 333.8 733.7 332.9 744.0 330.3 754.3 331.1 764.7 330.7 775.0 330.0 785.3 330.9 795.7 330.9 806.0 329.0 812.2 328.0 822.5 330.3 826.7 328.6 837.0 325.9 847.3 323.4 857.7 322.4 861.8 324.1 868.0 325.1 878.3 325.9 884.5 326.1 888.7 327.6 892.8 329.6 896.9 330.3 901.1 329.2 905.2 327.2 909.3 326.1 919.7 324.1 930.0 323.8 940.3 323.4 950.7 322.0 961.0 323.0 971.3 322.4 981.7 323.4 992.0 324.1 1002.3 323.0 1012.7 322.4 1023.0 322.4 1033.3 323.8 1043.7 324.5 1054.0 327.2 1064.3 328.6 1074.7 330.7 1085.0 332.1 1096.4 333.8 1091.2 337.9 1085.0 341.0 1081.9 345.1 1085.0 348.2 1076.7 352.4 1080.9 356.5 1099.5 359.2 1116.0 360.6 M589.0 333.8 593.1 328.6 600.4 329.2 603.5 332.7 601.4 336.5 593.1 336.9Z M633.0 350.3 644.8 347.0 655.1 348.2 654.1 352.0 642.7 353.6 634.5 352.4Z M405.1 349.3 411.3 347.8 414.4 349.7 409.2 350.5Z M99.2 90.9 103.3 89.3 106.4 89.1 109.5 89.9 109.5 92.4 106.4 93.0 105.4 94.0 105.8 95.9 108.5 98.2 109.5 100.2 109.1 102.3 109.5 103.3 111.2 105.4 111.2 108.5 109.5 109.7 105.4 110.2 103.3 108.9 101.3 108.3 100.9 106.4 101.9 104.8 104.0 102.7 102.3 101.3 100.2 99.2 98.2 97.1 97.8 95.1 96.7 93.4 98.2 92.0Z" fill="none" stroke="#000" stroke-width="0.80" stroke-linejoin="round"/></g></g>
<g stroke="#000" stroke-width="2.08"><rect x="256.00" y="154.10" width="744.00" height="372.00" fill="none" stroke="#000" stroke-width="1.9"/><line x1="256.00" y1="526.10" x2="256.00" y2="533.10"/><line x1="256.00" y1="154.10" x2="249.00" y2="154.10"/><line x1="380.00" y1="526.10" x2="380.00" y2="533.10"/><line x1="256.00" y1="216.10" x2="249.00" y2="216.10"/><line x1="504.00" y1="526.10" x2="504.00" y2="533.10"/><line x1="256.00" y1="278.10" x2="249.00" y2="278.10"/><line x1="628.00" y1="526.10" x2="628.00" y2="533.10"/><line x1="256.00" y1="340.10" x2="249.00" y2="340.10"/><line x1="752.00" y1="526.10" x2="752.00" y2="533.10"/><line x1="256.00" y1="402.10" x2="249.00" y2="402.10"/><line x1="876.00" y1="526.10" x2="876.00" y2="533.10"/><line x1="256.00" y1="464.10" x2="249.00" y2="464.10"/><line x1="1000.00" y1="526.10" x2="1000.00" y2="533.10"/><line x1="256.00" y1="526.10" x2="249.00" y2="526.10"/></g>
<text transform="translate(241.33 552.80) scale(1.0135 1)" font-size="16.97" fill="#000">0°E</text><text transform="translate(360.10 552.80) scale(1.0457 1)" font-size="16.97" fill="#000">60°E</text><text transform="translate(479.62 552.80) scale(1.0701 1)" font-size="16.97" fill="#000">120°E</text><text transform="translate(609.62 552.80) scale(1.0676 1)" font-size="16.97" fill="#000">180°</text><text transform="translate(724.62 552.80) scale(1.0652 1)" font-size="16.97" fill="#000">120°W</text><text transform="translate(853.09 552.80) scale(1.0552 1)" font-size="16.97" fill="#000">60°W</text><text transform="translate(983.31 552.80) scale(1.0471 1)" font-size="16.97" fill="#000">0°W</text><text transform="translate(199.13 160.00) scale(1.0915 1)" font-size="16.97" fill="#000">90°N</text><text transform="translate(199.07 222.00) scale(1.0795 1)" font-size="16.97" fill="#000">60°N</text><text transform="translate(199.31 284.00) scale(1.0730 1)" font-size="16.97" fill="#000">30°N</text><text transform="translate(222.32 346.00) scale(1.0317 1)" font-size="16.97" fill="#000">0°</text><text transform="translate(201.33 408.00) scale(1.0408 1)" font-size="16.97" fill="#000">30°S</text><text transform="translate(201.10 470.00) scale(1.0471 1)" font-size="16.97" fill="#000">60°S</text><text transform="translate(201.16 532.00) scale(1.0593 1)" font-size="16.97" fill="#000">90°S</text>
<clipPath id="axc1"><rect x="256.00" y="624.10" width="744.00" height="372.00"/></clipPath>
<g clip-path="url(#axc1)"><g transform="translate(256.00 624.10)">
<g fill-rule="evenodd"><rect x="-2" y="-2" width="748" height="376" fill="#0032FF"/><path d="M0.0 0.0 744.0 0.0 744.0 372.0 0.0 372.0ZM425.7 349.2 413.3 351.3 411.3 352.5 409.2 352.8 392.7 351.3 374.1 352.1 365.8 353.4 363.6 355.5 365.6 357.5 369.9 358.8 376.1 359.6 382.3 359.5 392.7 358.0 407.1 353.8 427.8 354.9 436.1 354.7 441.8 353.4 442.6 351.3 436.1 349.1Z" fill="#055FBE"/><path d="M4.7 12.4 28.9 13.3 53.7 16.6 66.1 17.4 101.3 17.3 128.1 15.9 161.2 18.0 177.7 16.6 186.0 16.6 192.2 17.9 196.3 19.9 204.6 27.4 208.7 30.0 212.9 31.5 217.0 32.1 225.3 31.2 233.5 27.8 238.0 26.9 279.0 22.6 305.9 23.8 316.2 24.9 326.5 27.5 341.0 33.9 347.2 35.2 359.6 36.4 363.7 36.3 367.9 35.5 376.1 31.5 382.3 29.9 394.7 28.8 409.2 28.9 415.4 29.5 421.4 31.0 427.8 35.4 431.6 37.2 440.2 38.6 450.5 39.0 460.9 38.5 469.1 37.1 474.4 35.1 485.7 29.2 491.9 27.7 498.1 27.4 512.5 29.2 518.7 28.8 523.5 26.9 533.2 20.3 539.4 18.9 545.6 19.4 560.1 22.6 576.6 22.9 593.1 25.6 603.5 26.0 609.7 25.5 620.0 23.4 626.2 22.7 657.2 23.8 675.8 23.2 684.1 21.7 694.4 18.3 700.6 17.4 715.1 19.5 719.2 19.4 722.2 18.6 729.5 15.1 733.7 13.8 744.0 12.5 744.0 366.0 738.0 361.7 729.0 357.5 704.7 348.2 694.4 345.5 682.0 344.7 665.5 345.6 657.2 346.9 644.8 350.3 640.7 350.7 636.5 350.0 626.2 345.6 620.0 343.8 611.7 342.7 603.5 342.5 578.7 345.1 572.5 346.4 564.6 349.3 543.5 359.1 539.1 361.7 535.4 365.8 533.4 372.0 462.1 372.0 485.7 365.2 488.8 363.7 490.5 361.7 489.8 359.6 487.3 357.5 479.5 353.5 458.8 345.3 452.6 343.6 442.3 342.8 415.4 344.4 396.8 344.4 372.0 347.2 347.2 347.3 324.5 351.3 299.7 354.9 290.5 357.5 283.5 361.7 282.4 363.7 285.2 372.0 3.9 372.0 2.1 368.5 0.0 366.0 0.0 12.5ZM424.3 363.7 429.9 363.1 434.0 363.4 435.7 363.7 437.3 365.8 434.0 367.3 427.8 367.3 423.0 365.8Z" fill="#1E7382"/><path d="M0.0 16.5 0.0 15.8 6.2 15.4 18.6 16.1 28.9 17.7 45.5 21.6 55.8 22.9 103.3 23.2 111.6 23.8 117.3 24.8 121.7 26.9 123.4 28.9 123.7 33.1 120.7 41.3 121.7 43.4 126.1 46.2 134.8 49.6 134.7 51.7 129.2 55.8 128.7 57.9 131.4 59.9 143.7 62.0 161.2 62.8 181.9 65.1 207.1 64.1 221.1 62.4 237.7 55.9 256.4 51.7 270.7 46.6 279.0 44.7 293.5 44.2 322.4 46.4 363.7 45.9 376.1 44.5 380.3 43.3 388.5 39.5 392.7 38.7 398.9 39.7 407.4 45.5 415.2 47.5 454.7 50.0 477.4 53.5 502.2 55.4 520.8 59.0 527.0 58.7 541.5 55.5 553.9 54.1 560.1 54.7 570.4 57.0 574.5 57.2 580.7 55.8 583.9 53.7 591.1 47.3 597.3 43.9 605.5 41.7 626.2 39.1 631.0 37.2 636.0 33.1 638.6 31.7 642.7 30.3 651.5 28.9 663.4 28.4 700.6 29.6 723.3 25.2 727.5 23.3 735.7 18.0 744.0 15.8 744.0 335.1 737.8 340.2 735.7 340.8 731.6 340.6 727.5 339.7 721.3 336.9 719.6 334.8 719.0 332.7 719.4 330.7 723.1 324.5 723.6 322.4 723.3 320.3 721.3 318.0 715.1 315.7 702.7 314.5 653.1 312.6 636.5 312.5 626.2 313.2 617.9 314.8 613.8 316.5 603.5 322.3 597.3 324.1 572.5 324.8 535.3 328.1 520.8 328.2 491.9 326.6 458.8 325.7 427.8 323.8 405.1 323.6 392.7 324.3 377.8 326.5 369.0 328.6 368.1 330.7 371.7 332.7 380.3 336.2 381.5 336.9 382.8 338.9 380.3 341.3 374.1 342.8 369.9 343.1 363.7 342.5 357.2 341.0 352.1 338.9 348.9 336.9 347.5 334.8 347.4 332.7 348.3 330.7 352.5 326.5 353.7 324.5 353.3 322.4 351.3 320.3 347.2 318.7 343.1 317.9 334.8 317.4 326.5 317.6 320.3 318.3 314.0 320.3 311.5 322.4 307.6 328.6 305.5 330.7 302.4 332.7 280.0 345.1 237.7 364.8 233.9 367.9 231.6 372.0 137.1 372.0 135.3 367.9 132.3 365.2 101.7 351.3 81.8 341.0 67.9 332.7 65.7 330.7 65.1 328.6 65.7 324.5 65.1 322.4 62.0 320.3 57.9 319.4 49.6 318.6 41.3 318.6 33.1 319.2 26.9 320.3 21.5 322.4 12.4 328.9 0.0 335.1ZM159.1 318.1 150.7 320.3 148.2 322.4 148.4 324.5 152.9 327.6 169.5 334.2 175.7 334.1 186.0 330.7 201.7 326.5 205.1 324.5 203.4 322.4 198.4 321.6 179.8 319.8 167.4 318.0ZM632.4 86.7 627.5 88.9 627.7 90.9 632.4 92.4 636.5 92.7 638.6 92.3 641.3 90.9 641.4 88.9 638.7 86.8Z" fill="#3C8C5A"/><path d="M4.0 18.6 10.9 18.6 18.6 19.8 22.5 20.7 35.1 25.5 43.4 27.2 55.8 27.8 95.1 27.6 101.3 28.0 105.7 28.9 108.9 31.0 109.1 33.1 107.6 35.1 104.6 37.2 99.2 39.6 93.0 41.4 74.4 45.2 70.3 47.5 68.9 49.6 68.9 51.7 70.0 53.7 74.4 57.4 86.8 64.4 90.9 65.9 95.1 66.6 109.5 67.2 134.3 66.1 144.7 66.3 155.0 67.7 170.6 72.3 179.8 72.5 194.3 68.8 202.5 67.5 235.6 66.3 250.1 61.7 256.3 61.4 268.7 62.0 270.7 59.9 274.9 53.7 277.5 51.7 285.2 49.1 293.5 48.7 300.9 49.6 318.3 53.4 341.0 55.8 349.3 55.7 365.8 53.0 374.1 52.9 378.2 53.9 388.5 59.6 392.7 60.4 396.8 60.0 411.3 56.3 419.5 55.6 471.2 58.6 487.7 58.6 496.0 59.2 500.1 60.0 505.3 62.0 519.4 72.3 527.0 78.7 535.3 84.1 539.4 86.0 545.6 86.9 584.9 83.5 590.7 82.7 596.3 80.6 597.9 78.5 597.8 76.5 595.0 72.3 595.3 70.3 602.0 64.1 606.2 55.8 608.1 53.7 611.9 51.7 619.6 49.6 638.6 46.8 644.8 45.3 651.0 42.2 657.2 36.6 660.5 35.1 663.4 34.6 669.6 34.3 677.9 35.2 684.1 37.1 693.5 41.3 698.5 42.4 704.7 42.5 708.9 41.6 713.0 39.4 717.3 35.1 720.3 33.1 729.5 29.9 733.7 27.7 737.8 22.7 739.9 21.0 744.0 19.3 744.0 294.2 735.7 293.1 725.4 287.3 721.1 287.3 717.9 289.3 717.8 291.4 722.9 297.6 723.3 299.7 722.1 301.7 717.1 304.1 706.8 305.1 700.6 304.2 696.5 302.1 689.3 293.5 686.1 291.1 682.0 289.3 677.9 288.6 671.7 288.5 642.7 291.0 640.6 291.4 636.7 293.5 634.7 299.7 630.3 302.7 624.1 304.8 607.6 308.1 593.1 314.3 586.9 315.4 566.3 317.3 545.6 320.4 529.1 321.4 496.0 320.3 475.0 318.3 468.7 316.2 459.7 307.9 454.7 305.1 446.4 302.6 438.1 301.6 429.9 301.9 419.4 303.8 413.3 306.1 404.7 312.1 400.2 314.1 386.5 317.3 376.1 318.6 372.0 318.2 357.5 313.1 336.9 309.5 331.8 307.9 319.8 301.7 314.4 299.7 306.1 297.6 301.7 297.1 291.4 297.4 283.1 299.5 279.8 301.7 272.8 309.9 266.9 312.1 260.4 312.6 231.5 312.5 210.8 311.1 192.2 311.6 186.0 311.0 182.3 310.0 178.7 307.9 173.6 302.7 171.5 301.3 165.3 299.7 161.2 300.7 155.0 305.0 150.9 307.1 146.7 308.5 140.5 309.7 130.2 310.1 88.9 309.7 74.4 310.6 66.1 310.4 62.0 310.0 55.8 308.4 50.5 305.9 47.5 303.8 45.4 301.7 44.3 299.7 44.1 297.6 45.4 291.4 45.1 289.3 43.1 287.3 41.3 286.7 37.2 286.3 33.1 286.7 14.5 292.4 6.2 293.8 0.0 294.2 0.0 19.3ZM93.0 278.6 86.2 281.1 84.1 283.1 84.4 285.2 88.9 286.5 97.1 286.3 103.2 285.2 106.6 283.1 106.9 281.1 104.8 279.0 99.2 278.0ZM138.5 291.3 140.5 292.2 144.7 292.8 146.7 292.6 149.6 291.4 144.7 289.3 142.6 289.5ZM270.7 63.6 268.7 64.3 264.9 68.2 264.1 70.3 268.7 72.3 279.0 74.1 285.2 73.8 289.3 72.3 290.2 70.3 288.7 68.2 287.3 67.5 283.1 66.0ZM630.3 82.4 624.1 84.4 619.3 86.8 617.8 88.9 618.6 90.9 622.7 93.0 630.3 94.5 636.5 95.0 642.7 94.2 645.3 93.0 646.9 90.9 647.1 88.9 646.4 86.8 644.8 84.6 642.7 83.0 640.7 81.9 636.5 81.3Z" fill="#3C9F23"/><path d="M0.0 37.2 0.0 36.7 18.6 35.5 26.9 35.6 35.1 36.4 39.4 37.2 43.7 39.3 44.7 41.3 44.7 43.4 43.0 47.5 41.2 49.6 38.7 51.7 34.5 53.7 26.9 55.7 8.3 58.1 0.0 60.2ZM739.0 37.2 744.0 36.7 744.0 60.2 740.9 62.0 737.2 66.1 733.7 72.4 732.1 78.5 732.7 82.7 734.2 84.7 737.8 86.6 744.0 87.1 744.0 272.3 735.7 274.6 713.0 276.6 698.5 279.7 673.7 280.3 653.1 284.1 640.7 284.8 630.3 283.6 624.4 281.1 622.6 279.0 622.0 272.8 620.0 268.7 617.9 267.5 613.8 266.9 610.1 268.7 609.0 270.7 608.9 272.8 609.7 275.8 613.9 283.1 614.2 287.3 613.0 291.4 609.7 294.0 605.5 294.9 601.4 295.1 593.1 294.1 586.2 291.4 581.7 287.3 575.9 279.0 573.6 276.9 570.4 275.4 562.1 273.7 545.6 273.1 533.2 274.0 527.0 275.6 518.7 278.6 514.6 279.2 510.5 278.9 500.1 276.5 493.9 275.6 475.3 275.7 456.7 274.6 448.2 274.9 440.1 276.9 439.3 279.0 442.0 281.1 457.8 287.3 460.3 289.3 461.2 291.4 460.9 291.8 458.8 292.9 456.7 293.1 431.9 293.2 398.9 296.3 380.3 296.2 375.5 295.5 376.1 295.0 377.4 291.4 380.9 285.2 381.8 281.1 380.7 279.0 378.2 277.8 372.0 277.2 363.7 279.1 349.1 287.3 347.3 289.3 347.7 291.4 351.3 293.2 370.7 295.5 372.0 295.8 373.9 297.6 372.0 299.7 367.9 302.0 362.2 303.8 355.5 304.3 350.6 303.8 347.2 302.5 341.0 297.4 337.4 295.5 316.2 290.3 310.0 289.3 301.7 289.0 268.7 289.3 252.1 288.2 229.4 285.6 214.9 285.0 204.6 285.9 198.9 287.3 190.1 290.2 183.9 290.9 175.7 289.6 162.7 285.2 155.0 283.7 144.7 283.5 128.1 285.3 121.9 284.9 117.8 282.8 113.9 279.0 110.7 276.9 103.3 274.8 93.0 275.2 64.1 280.2 53.7 280.5 28.9 279.6 18.6 278.8 12.7 276.9 8.3 272.5 4.1 271.7 0.0 272.3 0.0 87.1 6.2 86.2 26.9 81.5 43.4 80.5 68.2 77.3 113.7 74.2 136.4 70.0 147.3 70.3 154.2 72.3 163.3 77.0 169.5 78.2 175.7 78.5 186.0 77.4 190.1 75.9 197.2 72.3 202.5 70.9 206.7 70.2 212.9 70.2 219.1 70.9 224.6 72.3 237.7 78.2 252.1 82.4 264.5 84.5 283.1 85.7 289.3 86.7 293.5 88.3 299.3 93.0 303.2 95.1 312.1 96.7 328.6 96.7 361.7 94.1 372.0 93.9 380.3 94.6 403.0 98.0 442.3 100.2 448.5 99.7 452.6 98.7 465.0 92.2 471.2 91.2 475.3 91.4 481.5 93.9 491.3 101.3 492.8 103.3 492.7 105.4 489.7 109.5 488.8 111.6 490.0 113.7 491.9 114.5 498.1 115.5 502.2 114.8 506.3 113.4 516.7 107.5 525.8 101.3 530.4 99.2 564.2 90.1 574.5 88.2 589.0 87.0 599.3 87.1 603.5 87.8 612.6 93.0 617.9 94.2 634.5 96.5 640.7 96.6 644.8 96.0 648.9 94.0 650.1 93.0 651.2 90.9 651.4 86.8 650.5 80.6 651.1 78.5 652.9 76.5 655.1 75.0 661.3 72.3 664.2 70.3 665.2 68.2 664.3 62.0 665.0 57.9 667.5 55.0 672.3 51.7 677.9 48.9 682.0 48.1 708.9 48.1 717.1 47.4 722.5 45.5 727.2 41.3 730.4 39.3ZM28.9 217.9 26.9 219.4 24.8 222.0 23.8 225.3 24.1 227.3 25.1 229.4 26.9 230.7 28.9 231.3 31.0 231.2 35.1 229.5 37.1 227.3 37.7 223.2 37.1 221.1 35.1 218.4 33.1 217.3 31.0 217.2ZM547.7 181.7 534.9 183.9 530.2 186.0 534.4 188.1 553.9 191.5 562.1 192.3 576.6 192.3 578.7 193.0 580.7 194.8 581.7 196.3 582.7 202.5 584.9 204.3 586.9 204.6 589.0 204.1 593.1 201.9 596.3 198.4 598.1 194.3 598.4 192.2 597.9 190.1 595.7 188.1 593.1 187.2 578.7 186.0 566.3 182.0 562.1 181.2 555.9 180.9Z" fill="#6EAD10"/><path d="M663.5 80.6 667.5 80.6 671.7 81.7 677.9 85.4 684.7 90.9 686.3 93.0 686.8 95.1 684.7 103.3 686.1 104.9 688.2 105.8 694.4 106.6 702.7 106.2 719.2 102.4 725.4 101.7 744.0 103.3 744.0 183.8 721.3 181.6 717.1 182.1 713.6 183.9 714.0 186.0 718.0 188.1 744.0 194.0 744.0 261.5 735.7 260.2 721.3 255.7 717.1 255.4 710.9 256.0 704.7 257.6 698.5 260.1 688.2 267.9 684.1 269.7 679.9 270.3 667.5 269.8 663.4 271.3 656.5 276.9 651.8 279.0 642.7 280.2 636.4 279.0 633.4 276.9 632.4 275.7 629.6 268.7 626.9 264.5 619.2 258.3 617.1 256.3 616.0 254.2 615.8 252.1 616.9 248.0 623.3 237.7 624.8 233.5 626.4 223.2 626.4 217.0 624.6 212.9 622.5 210.8 611.7 205.7 608.7 202.5 607.4 198.4 607.3 190.1 605.6 186.0 603.0 183.9 597.3 181.7 578.7 178.3 562.1 174.3 558.0 173.9 553.9 174.4 541.5 177.7 535.3 178.5 485.7 180.1 477.4 181.9 474.7 183.9 475.3 186.0 479.5 187.9 487.7 189.7 539.4 193.6 558.0 197.3 562.1 198.6 565.9 200.5 568.3 202.7 573.8 210.8 576.6 213.2 580.7 215.3 587.0 217.0 590.4 219.1 585.4 227.3 585.4 231.5 587.0 239.7 584.6 254.2 582.5 258.3 578.6 260.4 572.5 261.2 566.3 261.2 533.2 258.2 483.6 258.1 471.2 258.6 452.6 260.9 442.3 261.6 409.2 260.7 398.9 260.9 392.7 261.6 388.5 262.7 379.1 268.7 374.1 270.1 367.9 270.7 351.3 270.4 341.0 273.0 324.5 275.5 310.0 279.0 305.9 278.4 302.7 276.9 287.3 265.0 283.1 262.8 279.0 263.0 270.7 265.9 262.5 268.0 252.1 269.3 243.9 269.4 233.5 268.0 219.1 262.7 212.9 261.5 188.1 260.1 171.5 258.5 163.3 258.4 155.0 259.6 152.7 260.4 149.8 262.5 148.6 264.5 148.4 266.6 150.0 272.8 149.8 274.9 147.7 276.9 140.5 279.3 130.2 280.6 124.0 279.6 111.6 273.3 103.3 271.8 97.1 271.9 80.6 273.8 66.1 274.5 49.6 276.9 41.3 277.1 35.1 276.6 28.9 275.3 24.8 273.3 18.6 267.4 14.5 264.7 8.3 262.7 0.0 261.5 0.0 194.0 5.5 196.3 8.3 198.3 11.1 202.5 11.4 206.7 8.3 214.9 8.2 217.0 11.3 225.3 12.7 231.5 12.8 237.7 11.4 243.9 11.5 245.9 13.1 248.0 16.5 249.0 20.7 249.0 24.8 247.8 28.9 245.5 41.3 236.6 44.4 233.5 46.9 229.4 48.3 223.2 47.1 204.6 46.9 190.1 48.1 177.7 47.5 175.7 45.5 173.0 41.3 171.1 37.2 170.7 33.1 171.2 26.3 173.6 18.6 179.0 14.5 181.3 8.3 183.1 0.0 183.8 0.0 103.3 2.1 102.7 3.2 101.3 3.2 97.1 4.5 95.1 7.4 93.0 14.5 90.4 22.7 88.7 31.0 88.4 41.3 89.3 55.8 91.6 66.1 93.9 72.3 95.9 76.5 98.1 84.7 104.8 88.9 106.8 95.1 108.4 105.8 109.5 121.9 109.4 138.5 107.8 146.7 105.8 161.2 100.2 173.6 98.7 183.9 99.2 192.2 100.8 196.3 102.6 206.7 109.3 210.8 110.6 217.0 111.2 233.5 110.9 250.1 112.4 256.3 112.2 262.5 111.0 266.4 109.5 274.9 103.9 279.0 102.0 287.3 100.4 349.3 102.6 372.0 102.3 419.9 111.6 446.4 112.7 454.7 113.7 467.1 118.6 496.0 126.6 500.2 128.1 508.4 132.9 512.5 134.3 514.6 134.5 516.7 134.3 518.3 132.3 516.4 126.1 516.7 124.0 517.9 121.9 535.5 105.4 539.4 102.9 545.6 100.2 570.4 92.6 578.7 91.0 584.9 90.6 591.1 90.8 595.2 91.8 598.2 93.0 601.4 95.5 603.5 96.0 617.9 96.3 638.6 98.3 646.9 97.8 651.0 96.3 652.9 95.1 654.7 93.0 657.2 84.8 658.7 82.7 661.3 81.1Z" fill="#A0B91C"/><path d="M663.7 88.9 667.5 88.3 669.6 88.9 672.7 90.9 674.1 93.0 674.1 95.1 671.7 98.4 662.4 105.4 655.5 109.5 646.9 112.9 635.9 115.7 634.1 117.8 657.2 123.4 682.0 125.9 692.3 127.7 705.1 132.3 709.1 134.3 714.0 138.5 713.9 140.5 704.7 143.4 700.6 146.7 691.2 161.2 687.0 171.5 685.0 173.6 676.1 179.8 674.6 181.9 674.1 183.9 674.8 186.0 677.6 188.1 679.9 188.8 727.5 197.2 735.7 199.9 739.6 202.5 741.1 204.6 741.5 206.7 741.0 208.7 734.9 217.0 735.2 219.1 744.0 225.6 744.0 237.7 739.9 240.7 735.7 241.9 731.6 242.2 717.1 241.8 688.2 242.2 663.4 241.4 655.1 242.3 642.7 245.3 640.7 242.8 636.2 231.5 635.3 227.3 635.2 214.9 633.5 208.7 630.3 205.5 620.0 201.4 616.0 198.4 614.5 194.3 614.7 188.1 614.2 186.0 612.9 183.9 609.7 181.4 603.5 178.7 580.7 173.6 574.5 171.6 570.2 169.5 562.1 163.7 555.9 162.8 551.6 163.3 543.5 165.3 535.3 169.8 529.1 171.1 510.5 168.6 485.7 167.2 475.3 167.8 467.1 170.1 457.8 175.7 450.5 178.5 440.2 180.2 417.5 180.8 409.2 181.6 401.7 183.9 400.5 186.0 402.4 188.1 407.6 190.1 419.9 192.2 431.9 192.9 454.7 192.5 489.8 195.6 533.2 196.7 545.6 198.6 552.8 200.5 557.9 202.5 560.8 204.6 563.6 208.7 567.0 221.1 566.6 225.3 565.3 227.3 562.5 229.4 551.8 233.5 548.3 235.6 543.0 239.7 537.3 242.0 529.1 242.4 510.5 240.7 485.7 241.3 458.8 240.6 452.6 241.2 407.1 248.8 396.8 249.6 378.2 249.3 369.9 249.8 363.7 251.2 353.4 254.8 341.0 255.3 335.6 256.3 332.4 258.3 329.4 264.5 327.1 266.6 322.4 268.1 318.3 268.6 310.0 268.1 301.7 265.4 297.4 262.5 295.7 260.4 292.2 254.2 290.0 252.1 285.2 250.2 281.1 249.3 270.7 248.2 266.6 249.1 265.4 250.1 266.7 256.3 266.1 258.3 264.0 260.4 260.4 262.2 256.3 263.4 248.0 264.1 241.8 263.4 237.7 262.2 225.3 255.6 206.7 247.2 200.5 245.7 192.2 244.9 186.0 245.1 167.4 247.2 130.2 247.7 88.9 250.8 82.7 252.7 77.2 256.3 75.8 258.3 76.7 260.4 80.6 261.8 100.5 264.5 102.9 266.6 93.2 268.7 84.7 269.7 70.3 269.0 66.1 269.3 55.6 272.8 47.5 274.4 39.3 274.5 35.1 273.8 31.0 272.4 28.3 270.7 26.3 268.7 22.0 260.4 22.2 258.3 24.5 256.3 35.1 250.5 49.6 238.3 52.1 235.6 54.4 231.5 56.0 225.3 56.7 219.1 55.9 204.6 56.5 177.7 56.0 173.6 54.3 169.5 52.4 167.4 49.6 165.7 43.4 164.0 37.2 163.6 28.9 164.0 16.5 165.6 14.4 165.3 13.7 163.3 14.4 161.2 16.3 159.1 41.3 143.2 49.6 139.6 66.0 134.3 70.7 132.3 74.4 130.2 84.7 122.6 90.9 119.8 101.3 118.0 111.6 118.0 134.2 119.9 143.9 121.9 144.7 124.0 142.8 126.1 136.4 129.4 124.0 134.3 117.3 138.5 115.8 140.5 115.7 142.6 116.9 144.7 119.9 146.8 124.0 147.8 126.1 147.5 128.1 146.4 132.8 140.5 136.4 137.5 140.5 135.6 150.5 132.3 163.0 126.1 165.3 124.0 165.5 121.9 162.8 117.8 163.2 115.7 165.3 113.7 169.7 111.6 175.7 110.8 181.1 111.6 193.8 117.8 202.5 120.2 223.2 121.8 235.6 124.8 241.8 125.3 248.0 124.0 256.3 118.5 269.6 113.7 279.0 108.2 283.1 106.5 293.5 104.9 305.9 105.1 327.5 107.5 351.3 111.1 357.1 113.7 365.8 120.8 372.0 122.8 378.2 123.2 394.7 122.7 411.3 124.0 431.9 123.7 448.5 128.1 467.1 130.7 473.5 132.3 493.9 139.8 510.1 144.7 518.7 149.6 524.9 149.7 537.3 148.1 541.1 146.7 543.4 144.7 543.6 142.6 542.7 140.5 536.8 134.3 535.7 132.3 535.6 130.2 536.6 128.1 539.4 126.1 546.5 124.0 545.5 121.9 543.5 120.8 541.5 118.6 540.4 115.7 540.4 113.7 542.1 109.5 543.8 107.5 546.4 105.4 550.4 103.3 564.2 99.2 576.6 96.6 578.7 96.7 580.7 97.6 582.2 103.3 584.7 105.4 591.1 106.5 599.3 105.6 603.5 103.4 607.6 100.3 613.8 98.4 622.1 98.2 642.7 100.3 651.0 99.9 655.1 98.8 657.7 97.1 661.6 90.9ZM97.1 181.5 95.1 182.2 93.0 183.9 92.3 186.0 92.6 188.1 93.8 190.1 96.9 192.2 101.3 193.1 107.5 192.4 111.4 190.1 112.6 188.1 112.8 186.0 112.0 183.9 109.5 182.2 103.3 181.0ZM266.6 169.4 256.3 171.5 245.9 176.9 235.6 173.2 229.4 172.1 225.3 171.9 219.1 172.6 204.6 176.0 188.1 177.0 183.9 178.3 179.8 181.4 178.4 183.9 178.3 188.1 179.3 190.1 181.1 192.2 183.9 193.9 188.1 194.8 194.3 194.6 204.6 191.9 208.6 190.1 217.0 185.1 220.0 183.9 237.7 180.9 245.9 178.4 256.3 181.2 276.7 183.9 287.3 187.1 293.5 188.1 299.7 188.2 305.9 187.4 310.0 186.0 311.0 183.9 309.2 181.9 305.6 179.8 287.3 172.0 276.9 169.7ZM0.0 169.5 6.2 168.9 8.1 169.5 8.1 171.5 6.2 173.7 0.0 175.7ZM743.7 169.5 744.0 169.4 744.0 175.7 741.9 175.5 737.6 173.6 738.1 171.5ZM0.0 227.3 0.0 225.6 2.1 228.9 2.5 231.5 2.1 233.9 0.0 237.7ZM640.7 248.0 642.7 248.5 644.8 250.9 648.9 256.3 650.6 260.4 650.3 264.5 648.9 268.3 647.1 270.7 644.8 271.9 642.7 272.0 640.7 271.1 638.9 268.7 634.4 258.3 634.0 256.3 634.2 254.2 635.4 252.1 638.6 249.0ZM108.0 266.6 113.7 265.1 121.9 265.3 126.1 266.6 128.7 268.7 129.4 270.7 128.1 271.8 126.1 272.0 121.1 270.7 111.6 267.1Z" fill="#C8BE1E"/><path d="M612.7 101.3 620.0 99.8 628.3 100.3 644.6 103.3 646.8 105.4 645.0 107.5 640.3 109.5 616.5 113.7 608.2 117.8 597.3 121.7 594.4 124.0 592.7 128.1 593.0 132.3 595.2 134.2 601.4 135.8 628.3 139.2 638.6 139.5 659.3 138.9 667.5 139.5 671.6 140.5 674.6 142.6 675.5 144.7 675.3 146.7 674.3 148.8 669.6 152.9 657.6 159.1 653.1 163.6 648.9 166.4 633.0 171.5 624.1 175.6 620.0 176.3 615.9 175.7 601.4 171.9 588.0 169.5 581.4 167.4 578.7 165.3 578.2 163.3 579.2 161.2 584.2 157.1 585.4 155.0 584.2 152.9 580.7 151.7 576.6 151.5 570.4 152.3 541.5 158.6 537.3 158.5 534.1 157.1 534.8 155.0 545.6 151.6 550.4 148.8 551.7 146.7 552.3 144.7 551.0 136.4 551.8 134.4 559.5 130.2 561.4 128.1 562.5 124.0 561.7 119.9 560.1 117.7 554.1 113.7 553.3 111.6 554.2 109.5 555.9 108.3 560.1 106.8 564.2 106.7 567.3 107.5 572.5 110.5 576.6 111.5 593.1 110.2 603.5 108.1ZM285.3 109.5 293.5 108.1 303.8 109.0 311.0 111.6 313.5 113.7 313.8 115.7 311.9 117.8 307.9 119.4 293.1 121.9 287.3 123.6 276.9 130.6 265.9 134.3 265.4 136.4 267.7 138.5 270.7 139.4 276.9 140.1 295.5 139.2 338.9 139.2 353.4 137.8 372.0 133.2 380.3 132.6 388.5 132.8 398.9 133.9 405.1 135.5 409.2 137.7 414.9 142.6 417.5 143.5 454.7 146.5 473.3 147.1 479.6 148.8 482.9 150.9 484.0 152.9 483.1 155.0 479.5 156.9 471.2 158.5 425.7 160.8 380.3 166.9 359.6 170.2 345.1 170.6 334.8 169.4 310.0 163.7 277.9 161.2 266.1 159.1 243.9 149.5 233.0 140.5 229.7 136.4 229.6 134.3 233.2 132.3 248.0 130.4 252.1 129.3 254.2 128.0 257.5 124.0 260.4 121.6 263.5 119.9 274.5 115.7 280.9 111.6ZM72.5 144.7 78.5 143.3 80.6 143.4 82.7 144.7 76.5 145.4ZM100.2 157.1 101.3 155.8 103.3 155.0 124.0 159.8 130.2 162.0 131.9 163.3 132.7 165.3 131.5 167.4 126.1 169.8 117.8 170.4 110.4 169.5 105.8 167.4 101.5 163.3 100.3 161.2 99.8 159.1ZM671.5 198.4 677.9 197.5 684.1 197.5 700.6 199.9 717.1 201.3 723.3 202.5 725.4 203.4 727.5 204.6 728.8 206.7 727.5 209.1 725.3 210.8 721.3 212.5 706.8 216.8 696.5 220.6 688.2 222.0 682.0 222.1 673.7 220.8 653.1 215.0 650.3 212.9 649.3 210.8 649.3 208.7 650.2 206.7 652.5 204.6 659.3 201.8ZM428.2 200.5 442.3 199.9 506.3 201.9 533.2 201.5 541.5 202.5 547.7 204.4 551.8 206.7 553.0 208.7 552.6 210.8 551.8 211.7 547.7 214.0 535.3 216.2 516.7 220.6 508.4 221.0 460.9 220.2 448.5 218.9 438.1 216.9 429.9 214.3 423.0 210.8 420.4 208.7 419.1 206.7 419.0 204.6 420.9 202.5ZM100.4 204.6 105.4 203.7 109.5 204.1 121.9 208.9 126.1 209.8 132.3 210.3 186.0 207.4 231.5 208.6 237.7 209.5 242.1 210.8 243.9 212.0 248.0 217.0 251.8 219.1 258.4 221.1 264.5 221.8 267.7 221.1 268.7 220.0 269.1 219.1 268.7 217.0 266.6 215.2 264.5 214.3 253.2 210.8 250.8 208.7 251.9 206.7 256.3 204.8 264.5 204.0 269.1 204.6 279.0 210.3 285.2 211.6 303.8 212.4 330.7 210.7 341.0 211.5 347.2 213.2 362.4 219.1 364.9 221.1 365.3 223.2 364.6 225.3 363.0 227.3 359.9 229.4 357.5 230.3 351.3 231.6 338.9 232.5 332.7 234.2 330.5 235.6 325.6 241.8 323.1 243.9 316.2 247.0 312.1 247.8 270.7 241.7 260.4 241.0 254.2 241.3 248.0 242.3 243.4 243.9 237.7 247.2 235.6 247.7 231.5 247.7 225.3 246.2 208.7 240.2 196.3 237.2 190.1 236.5 183.9 237.0 171.5 240.2 163.3 241.5 111.6 241.4 103.3 240.3 97.3 237.7 95.8 235.6 94.1 227.3 93.2 225.3 90.9 222.4 84.9 217.0 86.3 214.9 96.7 206.7ZM60.6 239.7 66.1 238.0 70.3 238.6 74.4 240.9 75.3 241.8 76.1 243.9 75.6 245.9 74.0 248.0 68.3 252.1 60.6 256.3 58.4 258.3 57.9 264.5 57.1 266.6 55.2 268.7 49.6 271.2 43.4 272.2 37.2 271.4 35.1 270.7 32.1 268.7 30.7 266.6 30.3 264.5 30.6 262.5 32.2 260.4 35.1 258.5 44.9 254.2 47.0 252.1 51.5 245.9ZM307.5 250.1 310.0 248.4 312.1 248.2 316.2 249.2 318.3 250.6 320.3 253.3 320.9 256.3 320.6 258.3 319.2 260.4 316.2 262.2 312.1 262.8 307.9 262.1 304.5 260.4 302.8 258.3 302.4 256.3 303.8 252.9 305.9 250.9ZM242.9 254.2 243.9 253.6 248.0 253.8 251.6 256.3 250.1 257.8 248.0 258.3 243.3 256.3Z" fill="#F0C829"/><path d="M615.4 103.3 620.0 101.9 626.2 101.9 633.6 103.3 636.0 105.4 633.4 107.5 630.3 108.3 624.1 109.1 617.9 109.1 615.9 108.7 613.7 107.5 613.7 105.4ZM287.4 113.7 293.5 112.4 298.1 113.7 296.8 115.7 289.3 116.9 286.2 115.7ZM581.4 117.8 585.2 117.8 586.9 118.5 587.6 119.9 586.3 124.0 584.9 126.4 582.8 128.2 578.7 129.7 574.5 129.4 572.5 128.3 570.9 126.1 570.5 124.0 571.2 121.9 572.5 120.4 576.6 118.5ZM268.7 124.0 270.7 123.6 272.2 124.0 270.7 124.6ZM169.8 214.9 179.8 214.3 188.1 214.9 194.6 217.0 196.0 219.1 194.8 221.1 190.1 223.6 183.9 225.2 175.7 226.2 169.5 226.0 166.2 225.3 162.0 223.2 160.0 221.1 159.7 219.1 161.8 217.0ZM305.6 227.3 310.0 227.3 312.1 228.2 313.4 229.4 314.1 231.1 314.1 233.5 312.9 235.6 310.0 237.7 303.8 238.9 297.6 239.0 289.3 237.7 287.3 235.6 289.6 233.5 293.9 231.5 301.7 228.3ZM38.5 264.5 41.3 263.1 45.5 263.3 47.6 264.5 47.8 266.6 43.8 268.7 41.3 268.7 38.1 266.6Z" fill="#FCB31C"/></g>
<path d="M254.2 136.4C253.9 134.8 258.0 130.7 260.4 128.1C262.8 125.5 265.6 123.0 268.7 120.9C271.8 118.8 275.6 117.2 279.0 115.7C282.4 114.3 285.2 113.2 289.3 112.0C293.5 110.8 299.7 108.9 303.8 108.5C307.9 108.1 312.4 108.5 314.1 109.5C315.9 110.6 315.9 113.3 314.1 114.7C312.4 116.1 307.6 116.8 303.8 117.8C300.0 118.8 295.2 119.7 291.4 120.9C287.6 122.1 284.5 123.3 281.1 125.0C277.6 126.8 273.8 129.2 270.7 131.2C267.6 133.3 265.2 136.6 262.5 137.4C259.7 138.3 254.5 137.9 254.2 136.4Z" fill="#F0C829"/><path d="M256.3 134.3C256.5 133.0 259.2 129.8 261.4 127.7C263.7 125.7 266.8 123.7 269.7 121.9C272.6 120.2 276.1 118.6 279.0 117.4C281.9 116.1 284.3 115.5 287.3 114.5C290.2 113.5 294.7 111.5 296.6 111.6C298.5 111.7 300.0 113.7 298.6 114.9C297.3 116.1 291.4 117.4 288.3 118.6C285.2 119.9 282.8 121.0 280.0 122.3C277.3 123.7 274.3 125.3 271.8 126.9C269.2 128.5 266.5 130.4 264.5 131.9C262.6 133.3 261.4 135.2 260.0 135.6C258.6 136.0 256.0 135.6 256.3 134.3Z" fill="#FCB31C"/><path d="M579.7 126.1C579.0 125.2 579.5 121.9 580.7 119.9C581.9 117.8 583.8 115.9 586.9 113.7C590.0 111.4 595.2 108.1 599.3 106.2C603.5 104.4 607.6 103.5 611.7 102.7C615.9 101.9 620.7 101.4 624.1 101.3C627.6 101.2 632.1 101.4 632.4 102.1C632.7 102.8 629.3 104.3 626.2 105.4C623.1 106.5 617.6 107.6 613.8 108.9C610.0 110.2 606.9 111.4 603.5 113.3C600.0 115.1 596.2 117.9 593.1 119.9C590.0 121.8 587.1 124.0 584.9 125.0C582.6 126.1 580.4 126.9 579.7 126.1Z" fill="#FCB31C"/><path d="M595.2 111.0C596.2 110.1 600.4 108.5 603.5 107.5C606.6 106.4 611.0 105.1 613.8 104.6C616.6 104.0 619.3 103.9 620.0 104.2C620.7 104.4 619.7 105.6 617.9 106.2C616.2 106.8 612.4 107.2 609.7 107.9C606.9 108.6 603.5 109.8 601.4 110.6C599.3 111.4 598.3 112.6 597.3 112.6C596.2 112.7 594.2 111.8 595.2 111.0Z" fill="#FF9910"/><path d="M546.6 154.4C547.0 153.8 549.1 153.2 549.7 153.3C550.4 153.5 550.7 154.9 550.4 155.4C550.0 156.0 548.3 156.8 547.7 156.7C547.0 156.5 546.3 154.9 546.6 154.4Z" fill="#F0C829"/>
<g clip-path="url(#land)"><g fill-rule="evenodd"><rect x="-2" y="-2" width="748" height="376" fill="#0032FF"/><path d="M0.0 0.0 744.0 0.0 744.0 343.0 735.7 341.8 723.3 338.9 720.9 338.9 719.2 339.6 717.2 343.1 715.3 351.3 716.1 357.5 715.5 359.6 713.3 361.7 707.9 363.7 700.6 365.2 690.3 366.5 679.9 367.0 584.9 366.8 564.2 365.7 556.5 363.7 554.5 361.7 555.3 359.6 560.4 353.4 560.8 351.3 559.0 349.3 551.6 347.2 537.3 345.9 516.7 347.4 498.1 346.0 492.4 347.2 490.1 349.3 491.3 351.3 496.6 353.4 512.5 355.5 519.1 357.5 522.4 359.6 523.7 361.7 522.3 363.7 518.7 365.2 508.4 366.7 462.9 369.3 452.6 369.1 444.3 367.9 438.7 365.8 429.9 360.2 425.7 359.1 419.5 358.5 411.9 359.6 403.0 364.2 398.3 365.8 390.6 367.0 382.3 367.2 307.9 363.1 254.2 363.3 241.8 362.9 177.7 357.4 171.5 356.4 157.1 352.5 140.5 351.2 121.9 351.4 109.5 352.5 86.8 356.8 66.1 362.4 55.8 363.6 47.5 363.6 37.2 362.5 20.7 359.3 12.4 356.5 7.5 353.4 6.1 351.3 6.2 349.3 9.0 345.1 8.3 344.0 0.0 343.0ZM26.9 334.7 20.7 336.9 13.8 341.0 12.4 342.7 10.6 343.1 16.5 343.4 24.8 342.8 33.1 341.0 36.3 338.9 36.1 336.9 33.1 334.8ZM580.7 339.8 578.7 341.0 582.8 343.2 590.6 343.1 591.7 341.0 584.9 339.4ZM657.2 10.1 653.1 11.4 651.0 12.9 644.7 20.7 636.1 26.9 635.0 28.9 636.5 31.0 646.9 35.6 657.1 41.3 663.4 42.5 667.5 42.0 671.7 40.3 680.7 35.1 683.1 33.1 684.1 30.8 683.7 28.9 681.9 26.9 671.3 20.7 669.1 18.6 665.5 13.0 663.4 11.1 661.3 10.3Z" fill="#055FBE"/><path d="M4.0 0.0 509.4 0.0 511.0 2.1 514.6 4.7 524.9 9.8 541.5 19.7 547.7 22.8 574.5 29.1 580.7 29.7 597.3 30.1 600.5 31.0 607.6 37.0 611.7 38.8 617.9 40.2 632.4 41.5 638.6 43.2 642.5 45.5 650.5 51.7 651.1 53.7 649.6 57.9 650.8 59.9 654.8 62.0 661.3 63.2 665.5 62.8 667.4 62.0 672.1 57.9 682.0 51.9 686.3 47.5 690.3 44.8 696.5 42.7 712.5 39.3 721.3 36.5 727.5 33.7 731.8 31.0 744.0 19.6 744.0 120.8 739.9 122.3 733.7 127.7 731.6 128.9 725.4 130.6 708.9 133.1 704.9 134.3 702.8 136.4 704.8 138.5 708.4 140.5 717.1 143.4 725.4 144.9 744.0 146.5 744.0 336.5 739.9 336.2 734.7 334.8 722.9 328.6 710.9 324.0 688.2 313.9 682.0 311.7 677.9 311.0 673.7 311.2 663.4 316.6 657.2 318.1 651.0 317.2 644.8 313.8 640.8 314.1 638.6 316.2 637.6 320.3 636.5 321.1 634.2 322.4 628.3 323.3 617.9 322.8 603.5 319.6 593.1 318.5 578.7 318.6 560.1 319.9 551.8 319.3 543.5 316.9 533.2 313.0 493.9 294.7 483.6 289.1 479.5 287.7 475.3 287.3 468.2 289.3 460.9 294.8 448.5 301.7 440.2 308.8 430.6 312.1 427.0 314.1 427.3 316.2 427.8 316.4 431.9 317.5 442.3 318.9 444.3 319.6 445.2 320.3 446.7 326.5 447.8 328.6 451.4 330.7 462.9 333.7 465.3 334.8 467.5 336.9 467.5 338.9 467.1 339.3 464.1 341.0 460.9 341.5 452.6 341.8 446.9 341.0 442.7 338.9 438.1 335.3 436.1 334.4 421.6 332.1 415.4 330.6 411.7 328.6 408.2 324.5 405.1 322.1 396.9 320.3 372.0 318.7 367.9 317.5 360.4 312.1 357.5 310.7 351.3 309.1 343.1 308.5 316.2 309.1 297.6 308.1 289.3 306.3 281.4 301.7 276.2 299.7 268.7 298.5 177.7 298.5 165.3 297.1 155.1 293.5 148.8 292.5 142.6 292.9 126.1 296.6 82.7 298.3 69.7 299.7 62.7 301.7 61.1 303.8 62.4 305.9 68.5 310.0 70.2 312.1 70.6 316.2 71.9 318.3 77.2 322.4 79.0 324.5 80.0 326.5 80.1 328.6 78.9 330.7 74.4 332.5 66.1 333.1 61.6 332.7 57.9 331.8 55.1 330.7 52.6 328.6 49.1 324.5 47.5 323.6 43.4 323.2 24.8 327.2 18.6 329.5 8.3 334.9 4.1 336.1 0.0 336.5 0.0 146.5 14.5 147.2 39.3 147.2 57.9 148.4 64.1 147.4 71.0 144.7 73.6 142.6 74.3 140.5 71.5 134.3 71.4 126.1 70.3 124.0 66.1 122.3 57.9 122.0 41.3 124.0 12.4 120.5 6.2 120.2 0.0 120.8 0.0 19.6 2.7 16.5 3.4 14.5ZM101.3 136.3 96.5 138.5 94.6 140.5 94.8 142.6 97.2 144.7 105.4 147.8 109.5 148.1 112.4 146.7 113.2 144.7 112.7 142.6 111.6 140.4 109.5 138.1 105.4 136.1ZM192.2 95.0 186.0 96.0 168.7 101.3 165.3 103.3 165.6 105.4 169.5 106.8 173.6 106.8 186.0 104.8 200.5 103.4 204.8 101.3 204.9 99.2 202.4 97.1 196.3 95.3ZM661.3 301.5 657.3 303.8 657.9 305.9 663.4 307.0 665.5 306.9 668.5 305.9 668.7 303.8 665.8 301.7ZM690.3 134.2 687.9 136.4 688.0 138.5 690.3 139.9 692.3 140.0 696.4 138.5 697.9 136.4 694.4 134.2ZM139.5 324.5 142.6 323.2 146.7 322.7 152.9 323.9 155.6 326.5 156.0 328.6 155.6 330.7 153.7 332.7 148.8 334.5 144.7 334.7 140.5 333.8 138.3 332.7 136.6 330.7 136.4 328.6 137.2 326.5ZM451.5 359.6 458.8 358.3 469.1 358.3 475.2 359.6 475.3 361.7 468.8 363.7 456.7 364.3 453.2 363.7 449.9 361.7Z" fill="#1E7382"/><path d="M366.4 0.0 389.8 0.0 388.0 4.1 384.4 7.6 373.6 12.4 372.8 14.5 375.5 20.7 376.3 26.9 377.2 28.9 379.1 31.0 382.3 33.1 405.1 43.7 413.3 44.7 423.6 43.4 428.3 41.3 430.4 39.3 431.2 37.2 430.7 35.1 429.9 34.0 423.4 28.9 423.2 26.9 428.4 20.7 429.9 16.5 429.5 14.5 427.6 12.4 421.6 9.3 418.0 6.2 416.7 4.1 415.7 0.0 439.9 0.0 440.5 6.2 442.3 9.0 444.4 10.3 455.5 14.5 475.3 23.7 479.9 26.9 487.7 34.4 496.0 39.3 504.3 45.3 508.4 46.9 516.7 48.4 524.9 48.5 531.5 47.5 539.4 45.0 545.6 44.6 555.9 46.7 570.4 51.7 576.6 53.0 582.8 52.7 593.1 50.5 601.4 50.6 607.6 52.2 620.0 56.9 635.0 64.1 651.0 69.2 665.5 74.8 675.8 77.3 682.0 77.3 686.1 76.4 691.6 74.4 695.4 72.3 697.8 70.3 698.7 68.2 698.1 66.1 694.4 62.0 693.7 59.9 694.8 55.8 696.0 53.7 698.5 51.4 704.7 49.2 719.2 48.2 723.3 47.3 727.5 45.3 736.0 39.3 744.0 35.1 744.0 116.1 735.7 116.3 731.6 117.3 729.5 118.9 727.7 121.9 725.5 124.0 721.3 125.3 717.1 125.2 712.5 124.0 710.0 121.9 706.9 117.8 704.7 116.5 694.4 112.4 686.1 106.8 684.1 106.2 682.0 106.3 680.4 107.5 679.4 113.7 675.3 121.9 673.6 128.1 674.5 134.3 678.4 142.6 682.0 146.6 686.1 148.6 692.3 149.4 710.9 148.5 744.0 150.7 744.0 297.3 733.7 299.4 706.8 299.5 698.5 300.4 688.2 299.4 671.7 296.3 659.3 296.3 652.5 297.6 638.6 304.6 613.8 312.7 593.1 315.1 570.4 316.0 562.1 315.7 555.9 314.7 537.3 308.7 521.3 301.7 487.7 284.8 481.5 282.7 477.4 282.1 471.2 282.6 465.0 284.7 450.5 292.6 425.7 304.6 400.9 311.7 390.6 313.2 384.4 313.0 378.2 312.0 363.7 307.4 353.4 305.5 341.0 305.0 316.2 305.5 305.9 304.9 297.6 303.0 285.0 297.6 274.9 295.8 262.5 295.3 186.0 295.5 175.7 294.1 161.2 288.7 150.9 287.2 140.5 287.7 124.0 290.6 113.7 291.5 57.9 292.0 37.2 292.7 9.7 295.5 0.0 297.3 0.0 150.7 35.1 151.0 57.9 152.6 64.1 151.9 78.5 148.1 84.7 147.7 88.9 148.5 95.1 150.6 107.5 157.2 111.6 158.9 115.7 159.6 119.9 159.1 121.9 157.9 124.0 155.8 125.8 150.9 125.7 146.7 123.5 138.5 122.9 134.3 126.7 124.0 126.5 113.7 128.3 107.5 128.2 105.4 127.3 103.3 124.1 101.3 119.9 101.1 115.7 102.6 114.9 103.3 114.4 105.4 118.6 113.7 118.1 115.7 115.9 117.8 112.2 119.9 103.3 122.2 99.2 122.3 95.1 121.4 92.1 119.9 86.8 115.6 82.7 113.7 80.6 113.3 74.4 113.4 62.0 115.0 43.4 114.6 22.7 117.2 0.0 116.1 0.0 35.1 4.1 33.8 10.3 32.8 55.8 29.8 62.0 28.6 76.5 24.6 82.7 24.0 86.8 24.8 88.9 25.8 90.9 27.5 97.1 34.9 101.3 37.1 107.5 38.5 124.0 40.0 134.3 43.7 142.6 45.2 146.7 44.9 152.5 43.4 161.2 38.6 163.3 38.1 167.4 38.7 175.7 42.7 179.8 44.1 183.9 44.7 188.1 44.5 192.2 43.3 199.3 39.3 204.6 37.4 208.7 36.9 223.2 37.4 229.4 36.9 235.8 35.1 248.0 29.9 256.3 28.2 262.5 28.2 266.6 29.1 269.9 31.0 272.8 34.7 274.9 35.9 281.1 36.4 297.6 35.6 303.8 34.4 314.4 28.9 326.5 25.3 351.3 15.0 363.7 11.2 365.4 10.3 366.5 8.3ZM593.1 235.6 595.2 237.7 597.5 235.6 595.2 235.1ZM192.2 88.8 186.0 89.8 175.6 95.1 161.2 99.6 158.7 101.3 157.5 103.3 157.6 105.4 159.1 107.9 163.3 110.3 167.4 111.0 171.5 110.8 186.0 108.4 202.5 107.4 208.7 106.3 211.5 105.4 214.9 103.3 217.7 99.2 218.2 97.1 217.6 95.1 214.4 93.0 202.5 89.8ZM701.4 303.8 702.7 303.1 704.7 302.8 708.9 303.3 713.0 304.7 719.2 308.3 723.3 310.0 737.8 311.3 738.8 312.1 738.3 316.2 738.9 318.3 741.9 320.0 744.0 320.3 744.0 330.7 741.9 330.4 737.9 328.6 733.7 324.2 731.6 322.9 723.3 320.3 713.0 314.4 702.7 310.0 700.6 307.9 700.1 305.9ZM7.4 314.1 10.3 313.2 18.6 313.9 23.3 316.2 23.5 318.3 20.7 320.3 10.3 323.6 5.6 328.6 2.1 330.3 0.0 330.7 0.0 320.3 4.1 319.4 5.6 318.3Z" fill="#3C8C5A"/><path d="M68.9 53.7 74.4 52.6 80.6 52.6 84.7 53.3 99.2 57.6 107.5 58.7 132.3 58.0 140.5 58.3 146.7 59.4 157.1 62.4 163.3 63.3 171.5 62.5 181.9 59.4 186.0 58.7 192.2 58.9 206.7 60.5 225.3 59.1 229.4 59.9 231.7 62.0 231.0 64.1 223.9 70.3 223.6 72.3 225.3 73.9 227.3 74.9 231.5 75.6 237.7 75.7 260.4 73.6 266.6 73.6 283.1 76.7 301.7 78.5 307.9 80.0 325.0 88.9 372.0 110.5 386.5 116.6 391.7 119.9 393.6 121.9 395.7 126.1 400.5 150.9 402.1 155.0 406.8 161.2 411.3 165.3 413.3 166.4 417.5 167.3 421.6 166.5 423.7 165.4 431.9 158.1 436.4 155.0 465.0 141.2 487.7 129.5 508.4 118.3 513.8 113.7 515.1 109.5 514.6 107.5 513.3 105.4 510.5 103.3 506.3 101.6 502.2 100.7 491.9 99.7 467.1 98.1 454.7 98.8 436.1 102.5 423.7 108.6 419.5 109.9 415.4 110.5 409.2 109.7 407.1 108.6 405.1 106.5 404.3 103.3 405.2 101.3 407.2 99.2 419.5 93.4 427.9 88.9 440.2 83.8 450.5 78.0 465.0 71.9 469.1 69.1 475.3 62.0 478.4 59.9 483.6 58.4 489.8 57.9 500.1 58.0 508.4 58.8 518.7 61.1 535.3 67.3 541.5 69.0 551.8 70.2 570.4 69.3 578.7 69.8 599.3 76.3 620.0 80.1 624.1 81.9 632.5 86.8 648.9 92.7 654.5 97.1 655.9 99.2 657.2 103.0 657.4 109.5 662.3 117.8 664.5 128.1 665.9 132.3 675.3 146.7 679.9 151.4 686.1 154.0 694.4 155.2 719.2 153.6 744.0 154.6 744.0 238.9 739.9 242.0 732.0 252.1 725.4 257.9 721.6 262.5 719.3 268.7 719.3 279.0 718.4 283.1 716.9 285.2 713.5 287.3 704.7 289.1 686.1 289.6 673.7 291.5 655.1 293.0 646.9 294.1 640.7 296.5 631.4 301.7 625.5 303.8 593.1 311.7 582.8 313.1 572.5 313.2 563.4 312.1 538.1 303.8 533.0 301.7 512.7 291.4 500.1 283.9 487.7 277.7 483.6 276.1 479.5 275.3 473.3 275.6 467.1 277.7 444.4 289.3 418.0 301.7 409.2 303.9 390.6 306.3 382.4 305.9 365.8 303.0 355.5 302.1 338.9 301.7 318.3 302.4 310.0 301.9 301.8 299.7 295.5 296.1 291.4 294.5 281.1 293.0 264.5 292.6 212.9 292.6 194.3 293.1 186.0 292.8 177.7 290.9 165.3 285.1 159.1 284.0 142.6 284.1 113.7 286.8 88.9 286.7 53.7 284.8 40.4 283.1 33.1 281.4 27.1 279.0 24.5 276.9 24.1 274.9 30.1 268.7 31.0 266.6 32.1 260.4 33.5 258.3 41.3 253.6 44.8 250.1 46.6 245.9 47.3 239.7 46.7 237.7 44.7 235.6 41.3 234.1 37.2 233.6 31.0 234.1 18.6 236.9 4.1 237.4 0.0 238.9 0.0 154.6 31.0 154.8 49.6 156.3 57.9 156.5 66.1 155.5 78.5 152.6 84.7 152.4 91.9 155.0 101.3 164.1 115.7 172.3 124.0 175.7 127.7 175.7 128.3 173.6 128.0 169.5 128.6 165.3 132.7 155.0 134.0 148.8 134.1 144.7 132.7 134.3 137.0 119.9 137.5 113.7 137.4 105.4 138.5 101.7 140.5 100.0 143.7 99.2 146.7 99.5 148.8 101.1 151.2 107.5 152.3 109.5 154.4 111.6 157.1 113.1 161.2 114.5 167.4 115.0 188.1 111.4 206.7 110.9 214.9 109.7 220.6 107.5 227.3 102.2 236.6 97.1 238.9 95.1 239.2 93.0 237.4 90.9 229.4 87.4 210.8 83.2 200.5 82.0 190.1 81.6 181.9 81.8 175.0 82.7 173.9 84.7 173.7 88.9 172.3 90.9 169.3 93.0 167.4 93.6 163.3 94.4 159.1 94.5 157.1 94.1 155.4 93.0 155.4 90.9 156.4 88.9 159.1 86.0 165.3 82.7 163.0 80.6 152.9 78.7 142.6 77.6 130.2 77.0 119.9 77.1 107.5 78.9 102.8 80.6 100.1 82.7 99.0 84.7 99.2 87.7 103.3 93.0 101.8 101.3 102.9 109.5 101.3 111.8 88.9 108.1 80.6 107.2 59.9 108.5 37.2 108.2 31.0 109.3 23.8 111.6 18.6 112.3 10.3 112.1 0.0 110.3 0.0 69.2 12.4 67.1 35.1 66.3 45.5 64.9 53.7 62.1 63.9 55.8ZM508.4 256.2 506.3 256.3 501.2 258.3 497.7 260.4 496.5 262.5 498.1 264.1 499.4 264.5 502.2 264.5 504.3 263.6 506.3 261.7ZM582.8 229.2 568.3 235.2 564.2 235.9 553.9 236.3 546.0 237.7 540.8 239.7 538.1 241.8 537.6 243.9 541.5 245.0 551.8 246.1 558.0 246.1 568.3 245.0 582.8 246.3 589.0 246.4 595.2 245.5 601.4 243.4 605.5 240.9 608.3 237.7 608.7 235.6 607.6 232.4 605.5 230.4 601.4 228.4 593.1 227.4ZM132.3 179.7 132.6 181.9 133.9 183.9 136.4 186.0 140.5 187.0 144.7 186.0 145.3 183.9 143.9 181.9 142.6 181.0 136.4 179.1 134.3 178.9ZM225.3 229.2 217.8 231.5 210.8 235.3 206.7 235.8 196.3 235.5 192.2 236.6 190.5 237.7 189.3 239.7 189.0 241.8 189.5 243.9 192.2 246.6 196.3 247.2 201.6 245.9 210.8 242.6 214.9 242.2 219.1 243.1 227.3 247.3 231.5 248.5 258.3 250.3 272.8 252.5 281.1 251.7 289.4 250.1 294.3 248.0 296.6 245.9 297.7 243.9 297.8 239.7 295.5 234.9 291.4 231.1 285.2 228.8 279.0 227.9 272.8 227.8 266.6 228.7 256.3 231.2 248.0 232.0 239.7 231.3 230.9 229.4ZM589.0 261.9 574.5 267.4 560.1 270.5 559.4 270.7 559.5 272.8 562.4 274.9 568.1 276.9 586.9 281.4 601.4 282.7 605.5 282.4 610.4 281.1 611.9 279.0 611.6 276.9 608.9 272.8 603.1 266.6 597.3 262.5 593.1 261.6ZM739.4 70.3 744.0 69.2 744.0 110.3 711.5 103.3 687.4 93.0 684.8 90.9 684.3 88.9 685.7 86.8 691.6 82.7 698.5 79.5 708.9 76.5Z" fill="#3C9F23"/><path d="M283.8 101.3 289.3 100.3 295.5 100.3 301.8 101.3 312.1 105.0 324.5 103.7 330.7 104.6 350.7 111.6 361.7 117.3 374.1 122.4 376.5 124.0 378.3 126.1 379.3 130.2 378.2 134.3 375.3 138.5 374.6 140.5 376.5 142.6 384.4 147.1 388.5 150.7 399.3 163.3 411.3 178.9 415.4 180.7 421.6 181.3 431.9 180.7 438.1 179.3 440.2 178.2 446.4 172.9 450.5 171.2 460.9 168.6 469.1 163.1 481.5 158.1 491.9 152.5 506.3 149.3 514.6 145.1 516.7 144.7 524.9 145.5 529.1 145.2 533.2 144.2 536.3 142.6 547.0 134.3 548.5 132.3 548.8 130.2 547.5 117.8 547.7 107.5 548.5 105.4 550.3 103.3 553.9 101.5 560.1 100.3 568.3 100.0 572.5 100.6 580.7 103.8 599.3 105.2 621.0 113.7 628.3 115.1 644.8 117.2 652.0 119.9 654.5 121.9 655.8 124.0 657.5 130.2 659.6 134.3 667.2 142.6 673.7 152.9 679.9 158.0 686.1 160.8 692.3 162.7 700.6 163.9 704.7 163.7 723.3 159.5 744.0 159.8 744.0 223.0 728.4 229.4 724.7 231.5 720.1 235.6 717.9 239.7 713.0 252.5 709.8 262.5 709.2 268.7 710.1 274.9 709.4 279.0 707.6 281.1 704.7 282.6 698.5 283.5 692.3 283.0 684.5 281.1 671.9 274.9 665.5 272.8 644.8 268.6 626.2 266.7 622.1 265.6 617.9 263.6 611.7 259.0 606.5 254.2 605.2 252.1 605.0 250.1 606.2 248.0 611.7 243.2 614.7 239.7 616.1 235.6 615.4 231.5 614.0 229.4 611.7 227.4 607.6 225.3 601.4 223.5 595.2 222.6 586.9 222.3 562.1 222.8 553.9 223.6 545.6 225.3 537.3 228.0 514.6 237.4 496.8 245.9 487.7 251.6 483.6 253.6 477.4 255.4 473.3 255.6 466.7 254.2 463.8 252.1 462.3 250.1 461.6 248.0 461.4 243.9 463.2 235.6 463.4 231.5 462.3 227.3 460.9 225.2 458.3 223.2 453.5 221.1 429.9 215.6 425.7 215.5 421.6 216.2 400.9 224.3 390.6 229.0 369.9 233.8 365.8 234.1 363.7 233.6 358.9 231.5 345.1 228.2 336.9 227.8 332.7 229.6 325.1 237.7 322.4 239.7 320.3 240.6 318.3 240.8 316.2 240.1 312.1 236.7 308.4 231.5 305.3 225.3 303.8 223.7 299.7 222.6 274.9 220.8 264.5 220.6 245.9 222.1 221.1 222.6 188.1 225.4 179.5 227.3 176.3 229.4 174.8 231.5 173.8 235.6 173.3 243.9 175.7 260.4 174.3 264.5 170.4 268.7 169.9 270.7 170.3 274.9 168.7 276.9 160.7 279.0 150.9 279.9 115.7 281.3 98.5 281.1 86.8 280.3 77.2 279.0 71.1 276.9 69.1 274.9 69.7 272.8 74.2 268.7 74.8 266.6 74.2 264.5 71.7 260.4 69.6 258.3 62.0 254.5 58.7 252.1 57.5 250.1 57.2 248.0 57.8 245.9 59.2 243.9 62.0 241.3 66.1 239.3 72.0 237.7 74.7 235.6 72.9 233.5 64.1 228.8 55.8 221.9 53.7 220.8 49.6 220.2 35.1 221.3 14.5 220.2 7.1 221.1 0.0 223.0 0.0 159.8 18.6 160.3 37.2 162.8 62.0 160.5 76.5 160.3 78.7 161.2 79.3 163.3 78.8 169.5 79.2 173.6 80.2 175.7 82.7 177.6 86.8 178.7 103.3 180.0 115.9 183.9 128.1 190.5 132.3 192.1 138.5 193.3 144.7 192.9 148.8 191.4 150.9 190.1 152.9 187.8 154.0 183.9 153.0 179.8 151.5 177.7 140.5 169.5 138.4 165.3 138.4 161.2 139.5 157.1 144.9 144.7 145.1 142.6 143.2 134.3 143.7 130.2 146.1 124.0 148.8 121.3 150.9 120.5 155.0 120.1 177.7 121.4 180.4 121.9 185.0 126.1 190.1 128.4 200.5 130.0 208.7 129.5 212.9 128.4 214.9 127.1 217.0 124.9 219.8 119.9 223.2 117.6 243.9 112.4 250.1 111.9 264.5 111.9 270.7 111.0 273.3 109.5 279.1 103.3ZM396.8 187.9 396.3 188.1 396.8 189.5 400.1 188.1ZM311.0 254.2 318.3 252.3 322.4 252.7 328.6 255.2 330.1 256.3 330.7 258.3 329.4 260.4 323.8 264.5 318.3 266.9 312.1 268.5 307.9 268.6 301.7 267.5 295.5 265.3 293.5 263.5 293.0 262.5 294.3 260.4 298.3 258.3ZM244.3 258.3 248.0 258.3 252.8 260.4 254.6 262.5 255.5 264.5 255.1 266.6 250.1 268.4 241.8 269.2 231.5 269.7 227.3 268.7 229.4 267.6 238.3 260.4ZM206.7 279.0 239.7 279.1 279.0 280.5 285.2 281.3 288.0 283.1 287.6 285.2 283.7 287.3 272.8 288.6 233.5 289.3 212.9 289.0 194.3 290.0 188.1 289.7 183.9 288.5 181.5 287.3 179.8 285.2 179.2 283.1 180.5 281.1 183.9 279.9ZM601.6 297.6 609.7 296.4 615.3 297.6 611.3 299.7 603.5 300.1 599.3 299.7ZM575.1 301.7 589.0 301.1 594.8 301.7 594.1 303.8 592.1 305.9 588.8 307.9 580.7 309.9 576.6 309.9 572.5 309.2 568.7 307.9 566.7 305.9 567.4 303.8 568.3 303.3Z" fill="#6EAD10"/><path d="M626.4 121.9 632.4 120.9 638.6 120.9 643.8 121.9 647.5 124.0 648.8 126.1 649.3 128.1 649.6 134.3 651.0 136.5 659.3 141.8 662.1 144.7 663.4 146.7 666.9 157.1 677.8 169.5 679.9 173.6 679.8 177.7 678.7 179.8 674.8 183.9 667.5 189.3 657.2 194.9 653.1 198.6 650.7 202.5 647.6 210.8 642.5 219.1 642.1 221.1 643.3 225.3 649.4 233.5 650.3 235.6 649.3 237.7 640.4 239.7 630.3 241.1 628.2 239.7 627.0 229.4 625.7 227.3 622.1 224.7 615.9 222.0 607.6 219.5 575.1 212.9 569.4 210.8 566.8 208.7 566.2 206.7 567.2 204.6 571.2 202.5 578.7 200.0 581.4 198.4 582.8 196.5 582.6 194.3 577.5 188.1 578.7 186.0 584.9 182.2 586.9 180.3 588.6 177.7 589.0 175.7 587.3 171.5 582.8 167.5 576.6 164.4 570.4 163.0 564.2 163.0 560.1 163.8 555.9 165.8 547.7 171.0 535.3 175.1 527.0 180.9 516.1 186.0 508.4 191.5 497.1 196.3 486.9 202.5 476.8 206.7 469.1 211.7 465.0 212.6 458.8 212.5 452.6 211.1 448.9 208.7 448.0 206.7 448.5 205.7 449.0 204.6 451.9 202.5 479.5 189.4 509.9 173.6 522.9 167.6 533.8 161.2 545.6 155.7 549.7 152.4 555.1 146.7 558.0 144.7 563.6 142.6 574.5 139.8 589.3 134.3 611.7 128.9ZM227.3 144.7 239.7 145.6 258.3 151.2 266.6 152.8 295.5 155.4 307.9 155.2 324.5 152.5 332.7 151.8 361.7 150.2 372.0 150.8 378.0 152.9 380.9 155.0 390.8 165.3 392.7 168.2 393.5 171.5 392.7 174.2 391.3 175.7 388.5 177.3 351.3 194.4 326.5 203.5 316.2 206.1 307.9 206.6 293.5 204.8 289.3 204.8 283.1 206.5 276.0 210.8 268.7 212.9 235.6 217.0 225.3 217.7 204.6 217.3 186.0 218.3 175.7 218.1 169.5 217.2 165.3 215.9 161.2 213.8 157.6 210.8 153.6 204.6 152.5 200.5 153.3 198.4 157.1 194.3 159.1 191.2 162.1 179.8 163.3 177.2 164.7 175.7 175.7 169.5 184.2 161.2 190.1 157.5 214.9 146.8 221.1 145.2ZM56.7 167.4 62.0 167.5 64.6 169.5 65.0 171.5 64.7 173.6 62.7 177.7 56.2 186.0 55.7 188.1 56.6 194.3 56.3 196.3 55.1 198.4 53.0 200.5 49.5 202.5 43.4 204.7 18.6 208.4 6.2 211.6 0.0 214.0 0.0 168.3 8.3 168.5 26.9 170.6 37.2 170.9 45.5 170.0ZM735.7 169.5 744.0 168.3 744.0 214.0 734.0 219.1 727.5 221.4 721.3 222.1 717.1 221.5 713.3 219.1 712.2 217.0 712.0 212.9 713.3 206.7 713.2 204.6 711.6 200.5 705.8 192.2 705.1 190.1 705.2 188.1 706.4 186.0 708.8 183.9 721.6 177.7 730.9 171.5ZM72.4 210.8 82.7 209.1 90.9 209.1 95.1 209.7 97.2 210.8 98.3 212.9 98.6 214.9 98.0 219.1 95.4 223.2 90.9 225.4 82.7 226.2 74.4 224.7 71.0 223.2 68.5 221.1 67.2 219.1 66.7 217.0 67.1 214.9 68.6 212.9ZM479.5 225.3 481.5 224.0 483.6 224.3 494.5 231.5 495.8 233.5 495.2 235.6 493.0 237.7 479.7 245.9 477.4 246.4 475.5 245.9 474.8 243.9 478.3 235.6 478.8 227.3Z" fill="#A0B91C"/><path d="M245.4 192.2 256.3 191.4 264.5 191.8 268.7 193.5 269.6 194.3 270.1 196.3 269.4 198.4 266.5 202.5 262.2 206.7 258.0 208.7 249.8 210.8 235.6 212.5 225.3 212.7 215.7 210.8 211.7 208.7 210.3 206.7 210.9 204.6 213.3 202.5 219.1 199.7 233.5 194.6ZM76.4 214.9 80.6 213.5 84.7 213.5 88.9 214.8 90.4 217.0 89.6 219.1 86.8 220.9 84.7 221.5 80.6 221.5 78.5 220.9 75.5 219.1 74.7 217.0Z" fill="#C8BE1E"/><path d="M241.4 202.5 246.3 202.5 246.1 204.6 241.8 205.3 237.8 204.6Z" fill="#F0C829"/></g></g>
<g clip-path="url(#lakes)"><g fill-rule="evenodd"><rect x="-2" y="-2" width="748" height="376" fill="#0032FF"/><path d="M0.0 0.0 744.0 0.0 744.0 372.0 0.0 372.0ZM425.7 349.2 413.3 351.3 411.3 352.5 409.2 352.8 392.7 351.3 374.1 352.1 365.8 353.4 363.6 355.5 365.6 357.5 369.9 358.8 376.1 359.6 382.3 359.5 392.7 358.0 407.1 353.8 427.8 354.9 436.1 354.7 441.8 353.4 442.6 351.3 436.1 349.1Z" fill="#055FBE"/><path d="M4.7 12.4 28.9 13.3 53.7 16.6 66.1 17.4 101.3 17.3 128.1 15.9 161.2 18.0 177.7 16.6 186.0 16.6 192.2 17.9 196.3 19.9 204.6 27.4 208.7 30.0 212.9 31.5 217.0 32.1 225.3 31.2 233.5 27.8 238.0 26.9 279.0 22.6 305.9 23.8 316.2 24.9 326.5 27.5 341.0 33.9 347.2 35.2 359.6 36.4 363.7 36.3 367.9 35.5 376.1 31.5 382.3 29.9 394.7 28.8 409.2 28.9 415.4 29.5 421.4 31.0 427.8 35.4 431.6 37.2 440.2 38.6 450.5 39.0 460.9 38.5 469.1 37.1 474.4 35.1 485.7 29.2 491.9 27.7 498.1 27.4 512.5 29.2 518.7 28.8 523.5 26.9 533.2 20.3 539.4 18.9 545.6 19.4 560.1 22.6 576.6 22.9 593.1 25.6 603.5 26.0 609.7 25.5 620.0 23.4 626.2 22.7 657.2 23.8 675.8 23.2 684.1 21.7 694.4 18.3 700.6 17.4 715.1 19.5 719.2 19.4 722.2 18.6 729.5 15.1 733.7 13.8 744.0 12.5 744.0 366.0 738.0 361.7 729.0 357.5 704.7 348.2 694.4 345.5 682.0 344.7 665.5 345.6 657.2 346.9 644.8 350.3 640.7 350.7 636.5 350.0 626.2 345.6 620.0 343.8 611.7 342.7 603.5 342.5 578.7 345.1 572.5 346.4 564.6 349.3 543.5 359.1 539.1 361.7 535.4 365.8 533.4 372.0 462.1 372.0 485.7 365.2 488.8 363.7 490.5 361.7 489.8 359.6 487.3 357.5 479.5 353.5 458.8 345.3 452.6 343.6 442.3 342.8 415.4 344.4 396.8 344.4 372.0 347.2 347.2 347.3 324.5 351.3 299.7 354.9 290.5 357.5 283.5 361.7 282.4 363.7 285.2 372.0 3.9 372.0 2.1 368.5 0.0 366.0 0.0 12.5ZM424.3 363.7 429.9 363.1 434.0 363.4 435.7 363.7 437.3 365.8 434.0 367.3 427.8 367.3 423.0 365.8Z" fill="#1E7382"/><path d="M0.0 16.5 0.0 15.8 6.2 15.4 18.6 16.1 28.9 17.7 45.5 21.6 55.8 22.9 103.3 23.2 111.6 23.8 117.3 24.8 121.7 26.9 123.4 28.9 123.7 33.1 120.7 41.3 121.7 43.4 126.1 46.2 134.8 49.6 134.7 51.7 129.2 55.8 128.7 57.9 131.4 59.9 143.7 62.0 161.2 62.8 181.9 65.1 207.1 64.1 221.1 62.4 237.7 55.9 256.4 51.7 270.7 46.6 279.0 44.7 293.5 44.2 322.4 46.4 363.7 45.9 376.1 44.5 380.3 43.3 388.5 39.5 392.7 38.7 398.9 39.7 407.4 45.5 415.2 47.5 454.7 50.0 477.4 53.5 502.2 55.4 520.8 59.0 527.0 58.7 541.5 55.5 553.9 54.1 560.1 54.7 570.4 57.0 574.5 57.2 580.7 55.8 583.9 53.7 591.1 47.3 597.3 43.9 605.5 41.7 626.2 39.1 631.0 37.2 636.0 33.1 638.6 31.7 642.7 30.3 651.5 28.9 663.4 28.4 700.6 29.6 723.3 25.2 727.5 23.3 735.7 18.0 744.0 15.8 744.0 335.1 737.8 340.2 735.7 340.8 731.6 340.6 727.5 339.7 721.3 336.9 719.6 334.8 719.0 332.7 719.4 330.7 723.1 324.5 723.6 322.4 723.3 320.3 721.3 318.0 715.1 315.7 702.7 314.5 653.1 312.6 636.5 312.5 626.2 313.2 617.9 314.8 613.8 316.5 603.5 322.3 597.3 324.1 572.5 324.8 535.3 328.1 520.8 328.2 491.9 326.6 458.8 325.7 427.8 323.8 405.1 323.6 392.7 324.3 377.8 326.5 369.0 328.6 368.1 330.7 371.7 332.7 380.3 336.2 381.5 336.9 382.8 338.9 380.3 341.3 374.1 342.8 369.9 343.1 363.7 342.5 357.2 341.0 352.1 338.9 348.9 336.9 347.5 334.8 347.4 332.7 348.3 330.7 352.5 326.5 353.7 324.5 353.3 322.4 351.3 320.3 347.2 318.7 343.1 317.9 334.8 317.4 326.5 317.6 320.3 318.3 314.0 320.3 311.5 322.4 307.6 328.6 305.5 330.7 302.4 332.7 280.0 345.1 237.7 364.8 233.9 367.9 231.6 372.0 137.1 372.0 135.3 367.9 132.3 365.2 101.7 351.3 81.8 341.0 67.9 332.7 65.7 330.7 65.1 328.6 65.7 324.5 65.1 322.4 62.0 320.3 57.9 319.4 49.6 318.6 41.3 318.6 33.1 319.2 26.9 320.3 21.5 322.4 12.4 328.9 0.0 335.1ZM159.1 318.1 150.7 320.3 148.2 322.4 148.4 324.5 152.9 327.6 169.5 334.2 175.7 334.1 186.0 330.7 201.7 326.5 205.1 324.5 203.4 322.4 198.4 321.6 179.8 319.8 167.4 318.0ZM632.4 86.7 627.5 88.9 627.7 90.9 632.4 92.4 636.5 92.7 638.6 92.3 641.3 90.9 641.4 88.9 638.7 86.8Z" fill="#3C8C5A"/><path d="M4.0 18.6 10.9 18.6 18.6 19.8 22.5 20.7 35.1 25.5 43.4 27.2 55.8 27.8 95.1 27.6 101.3 28.0 105.7 28.9 108.9 31.0 109.1 33.1 107.6 35.1 104.6 37.2 99.2 39.6 93.0 41.4 74.4 45.2 70.3 47.5 68.9 49.6 68.9 51.7 70.0 53.7 74.4 57.4 86.8 64.4 90.9 65.9 95.1 66.6 109.5 67.2 134.3 66.1 144.7 66.3 155.0 67.7 170.6 72.3 179.8 72.5 194.3 68.8 202.5 67.5 235.6 66.3 250.1 61.7 256.3 61.4 268.7 62.0 270.7 59.9 274.9 53.7 277.5 51.7 285.2 49.1 293.5 48.7 300.9 49.6 318.3 53.4 341.0 55.8 349.3 55.7 365.8 53.0 374.1 52.9 378.2 53.9 388.5 59.6 392.7 60.4 396.8 60.0 411.3 56.3 419.5 55.6 471.2 58.6 487.7 58.6 496.0 59.2 500.1 60.0 505.3 62.0 519.4 72.3 527.0 78.7 535.3 84.1 539.4 86.0 545.6 86.9 584.9 83.5 590.7 82.7 596.3 80.6 597.9 78.5 597.8 76.5 595.0 72.3 595.3 70.3 602.0 64.1 606.2 55.8 608.1 53.7 611.9 51.7 619.6 49.6 638.6 46.8 644.8 45.3 651.0 42.2 657.2 36.6 660.5 35.1 663.4 34.6 669.6 34.3 677.9 35.2 684.1 37.1 693.5 41.3 698.5 42.4 704.7 42.5 708.9 41.6 713.0 39.4 717.3 35.1 720.3 33.1 729.5 29.9 733.7 27.7 737.8 22.7 739.9 21.0 744.0 19.3 744.0 294.2 735.7 293.1 725.4 287.3 721.1 287.3 717.9 289.3 717.8 291.4 722.9 297.6 723.3 299.7 722.1 301.7 717.1 304.1 706.8 305.1 700.6 304.2 696.5 302.1 689.3 293.5 686.1 291.1 682.0 289.3 677.9 288.6 671.7 288.5 642.7 291.0 640.6 291.4 636.7 293.5 634.7 299.7 630.3 302.7 624.1 304.8 607.6 308.1 593.1 314.3 586.9 315.4 566.3 317.3 545.6 320.4 529.1 321.4 496.0 320.3 475.0 318.3 468.7 316.2 459.7 307.9 454.7 305.1 446.4 302.6 438.1 301.6 429.9 301.9 419.4 303.8 413.3 306.1 404.7 312.1 400.2 314.1 386.5 317.3 376.1 318.6 372.0 318.2 357.5 313.1 336.9 309.5 331.8 307.9 319.8 301.7 314.4 299.7 306.1 297.6 301.7 297.1 291.4 297.4 283.1 299.5 279.8 301.7 272.8 309.9 266.9 312.1 260.4 312.6 231.5 312.5 210.8 311.1 192.2 311.6 186.0 311.0 182.3 310.0 178.7 307.9 173.6 302.7 171.5 301.3 165.3 299.7 161.2 300.7 155.0 305.0 150.9 307.1 146.7 308.5 140.5 309.7 130.2 310.1 88.9 309.7 74.4 310.6 66.1 310.4 62.0 310.0 55.8 308.4 50.5 305.9 47.5 303.8 45.4 301.7 44.3 299.7 44.1 297.6 45.4 291.4 45.1 289.3 43.1 287.3 41.3 286.7 37.2 286.3 33.1 286.7 14.5 292.4 6.2 293.8 0.0 294.2 0.0 19.3ZM93.0 278.6 86.2 281.1 84.1 283.1 84.4 285.2 88.9 286.5 97.1 286.3 103.2 285.2 106.6 283.1 106.9 281.1 104.8 279.0 99.2 278.0ZM138.5 291.3 140.5 292.2 144.7 292.8 146.7 292.6 149.6 291.4 144.7 289.3 142.6 289.5ZM270.7 63.6 268.7 64.3 264.9 68.2 264.1 70.3 268.7 72.3 279.0 74.1 285.2 73.8 289.3 72.3 290.2 70.3 288.7 68.2 287.3 67.5 283.1 66.0ZM630.3 82.4 624.1 84.4 619.3 86.8 617.8 88.9 618.6 90.9 622.7 93.0 630.3 94.5 636.5 95.0 642.7 94.2 645.3 93.0 646.9 90.9 647.1 88.9 646.4 86.8 644.8 84.6 642.7 83.0 640.7 81.9 636.5 81.3Z" fill="#3C9F23"/><path d="M0.0 37.2 0.0 36.7 18.6 35.5 26.9 35.6 35.1 36.4 39.4 37.2 43.7 39.3 44.7 41.3 44.7 43.4 43.0 47.5 41.2 49.6 38.7 51.7 34.5 53.7 26.9 55.7 8.3 58.1 0.0 60.2ZM739.0 37.2 744.0 36.7 744.0 60.2 740.9 62.0 737.2 66.1 733.7 72.4 732.1 78.5 732.7 82.7 734.2 84.7 737.8 86.6 744.0 87.1 744.0 272.3 735.7 274.6 713.0 276.6 698.5 279.7 673.7 280.3 653.1 284.1 640.7 284.8 630.3 283.6 624.4 281.1 622.6 279.0 622.0 272.8 620.0 268.7 617.9 267.5 613.8 266.9 610.1 268.7 609.0 270.7 608.9 272.8 609.7 275.8 613.9 283.1 614.2 287.3 613.0 291.4 609.7 294.0 605.5 294.9 601.4 295.1 593.1 294.1 586.2 291.4 581.7 287.3 575.9 279.0 573.6 276.9 570.4 275.4 562.1 273.7 545.6 273.1 533.2 274.0 527.0 275.6 518.7 278.6 514.6 279.2 510.5 278.9 500.1 276.5 493.9 275.6 475.3 275.7 456.7 274.6 448.2 274.9 440.1 276.9 439.3 279.0 442.0 281.1 457.8 287.3 460.3 289.3 461.2 291.4 460.9 291.8 458.8 292.9 456.7 293.1 431.9 293.2 398.9 296.3 380.3 296.2 375.5 295.5 376.1 295.0 377.4 291.4 380.9 285.2 381.8 281.1 380.7 279.0 378.2 277.8 372.0 277.2 363.7 279.1 349.1 287.3 347.3 289.3 347.7 291.4 351.3 293.2 370.7 295.5 372.0 295.8 373.9 297.6 372.0 299.7 367.9 302.0 362.2 303.8 355.5 304.3 350.6 303.8 347.2 302.5 341.0 297.4 337.4 295.5 316.2 290.3 310.0 289.3 301.7 289.0 268.7 289.3 252.1 288.2 229.4 285.6 214.9 285.0 204.6 285.9 198.9 287.3 190.1 290.2 183.9 290.9 175.7 289.6 162.7 285.2 155.0 283.7 144.7 283.5 128.1 285.3 121.9 284.9 117.8 282.8 113.9 279.0 110.7 276.9 103.3 274.8 93.0 275.2 64.1 280.2 53.7 280.5 28.9 279.6 18.6 278.8 12.7 276.9 8.3 272.5 4.1 271.7 0.0 272.3 0.0 87.1 6.2 86.2 26.9 81.5 43.4 80.5 68.2 77.3 113.7 74.2 136.4 70.0 147.3 70.3 154.2 72.3 163.3 77.0 169.5 78.2 175.7 78.5 186.0 77.4 190.1 75.9 197.2 72.3 202.5 70.9 206.7 70.2 212.9 70.2 219.1 70.9 224.6 72.3 237.7 78.2 252.1 82.4 264.5 84.5 283.1 85.7 289.3 86.7 293.5 88.3 299.3 93.0 303.2 95.1 312.1 96.7 328.6 96.7 361.7 94.1 372.0 93.9 380.3 94.6 403.0 98.0 442.3 100.2 448.5 99.7 452.6 98.7 465.0 92.2 471.2 91.2 475.3 91.4 481.5 93.9 491.3 101.3 492.8 103.3 492.7 105.4 489.7 109.5 488.8 111.6 490.0 113.7 491.9 114.5 498.1 115.5 502.2 114.8 506.3 113.4 516.7 107.5 525.8 101.3 530.4 99.2 564.2 90.1 574.5 88.2 589.0 87.0 599.3 87.1 603.5 87.8 612.6 93.0 617.9 94.2 634.5 96.5 640.7 96.6 644.8 96.0 648.9 94.0 650.1 93.0 651.2 90.9 651.4 86.8 650.5 80.6 651.1 78.5 652.9 76.5 655.1 75.0 661.3 72.3 664.2 70.3 665.2 68.2 664.3 62.0 665.0 57.9 667.5 55.0 672.3 51.7 677.9 48.9 682.0 48.1 708.9 48.1 717.1 47.4 722.5 45.5 727.2 41.3 730.4 39.3ZM28.9 217.9 26.9 219.4 24.8 222.0 23.8 225.3 24.1 227.3 25.1 229.4 26.9 230.7 28.9 231.3 31.0 231.2 35.1 229.5 37.1 227.3 37.7 223.2 37.1 221.1 35.1 218.4 33.1 217.3 31.0 217.2ZM547.7 181.7 534.9 183.9 530.2 186.0 534.4 188.1 553.9 191.5 562.1 192.3 576.6 192.3 578.7 193.0 580.7 194.8 581.7 196.3 582.7 202.5 584.9 204.3 586.9 204.6 589.0 204.1 593.1 201.9 596.3 198.4 598.1 194.3 598.4 192.2 597.9 190.1 595.7 188.1 593.1 187.2 578.7 186.0 566.3 182.0 562.1 181.2 555.9 180.9Z" fill="#6EAD10"/><path d="M663.5 80.6 667.5 80.6 671.7 81.7 677.9 85.4 684.7 90.9 686.3 93.0 686.8 95.1 684.7 103.3 686.1 104.9 688.2 105.8 694.4 106.6 702.7 106.2 719.2 102.4 725.4 101.7 744.0 103.3 744.0 183.8 721.3 181.6 717.1 182.1 713.6 183.9 714.0 186.0 718.0 188.1 744.0 194.0 744.0 261.5 735.7 260.2 721.3 255.7 717.1 255.4 710.9 256.0 704.7 257.6 698.5 260.1 688.2 267.9 684.1 269.7 679.9 270.3 667.5 269.8 663.4 271.3 656.5 276.9 651.8 279.0 642.7 280.2 636.4 279.0 633.4 276.9 632.4 275.7 629.6 268.7 626.9 264.5 619.2 258.3 617.1 256.3 616.0 254.2 615.8 252.1 616.9 248.0 623.3 237.7 624.8 233.5 626.4 223.2 626.4 217.0 624.6 212.9 622.5 210.8 611.7 205.7 608.7 202.5 607.4 198.4 607.3 190.1 605.6 186.0 603.0 183.9 597.3 181.7 578.7 178.3 562.1 174.3 558.0 173.9 553.9 174.4 541.5 177.7 535.3 178.5 485.7 180.1 477.4 181.9 474.7 183.9 475.3 186.0 479.5 187.9 487.7 189.7 539.4 193.6 558.0 197.3 562.1 198.6 565.9 200.5 568.3 202.7 573.8 210.8 576.6 213.2 580.7 215.3 587.0 217.0 590.4 219.1 585.4 227.3 585.4 231.5 587.0 239.7 584.6 254.2 582.5 258.3 578.6 260.4 572.5 261.2 566.3 261.2 533.2 258.2 483.6 258.1 471.2 258.6 452.6 260.9 442.3 261.6 409.2 260.7 398.9 260.9 392.7 261.6 388.5 262.7 379.1 268.7 374.1 270.1 367.9 270.7 351.3 270.4 341.0 273.0 324.5 275.5 310.0 279.0 305.9 278.4 302.7 276.9 287.3 265.0 283.1 262.8 279.0 263.0 270.7 265.9 262.5 268.0 252.1 269.3 243.9 269.4 233.5 268.0 219.1 262.7 212.9 261.5 188.1 260.1 171.5 258.5 163.3 258.4 155.0 259.6 152.7 260.4 149.8 262.5 148.6 264.5 148.4 266.6 150.0 272.8 149.8 274.9 147.7 276.9 140.5 279.3 130.2 280.6 124.0 279.6 111.6 273.3 103.3 271.8 97.1 271.9 80.6 273.8 66.1 274.5 49.6 276.9 41.3 277.1 35.1 276.6 28.9 275.3 24.8 273.3 18.6 267.4 14.5 264.7 8.3 262.7 0.0 261.5 0.0 194.0 5.5 196.3 8.3 198.3 11.1 202.5 11.4 206.7 8.3 214.9 8.2 217.0 11.3 225.3 12.7 231.5 12.8 237.7 11.4 243.9 11.5 245.9 13.1 248.0 16.5 249.0 20.7 249.0 24.8 247.8 28.9 245.5 41.3 236.6 44.4 233.5 46.9 229.4 48.3 223.2 47.1 204.6 46.9 190.1 48.1 177.7 47.5 175.7 45.5 173.0 41.3 171.1 37.2 170.7 33.1 171.2 26.3 173.6 18.6 179.0 14.5 181.3 8.3 183.1 0.0 183.8 0.0 103.3 2.1 102.7 3.2 101.3 3.2 97.1 4.5 95.1 7.4 93.0 14.5 90.4 22.7 88.7 31.0 88.4 41.3 89.3 55.8 91.6 66.1 93.9 72.3 95.9 76.5 98.1 84.7 104.8 88.9 106.8 95.1 108.4 105.8 109.5 121.9 109.4 138.5 107.8 146.7 105.8 161.2 100.2 173.6 98.7 183.9 99.2 192.2 100.8 196.3 102.6 206.7 109.3 210.8 110.6 217.0 111.2 233.5 110.9 250.1 112.4 256.3 112.2 262.5 111.0 266.4 109.5 274.9 103.9 279.0 102.0 287.3 100.4 349.3 102.6 372.0 102.3 419.9 111.6 446.4 112.7 454.7 113.7 467.1 118.6 496.0 126.6 500.2 128.1 508.4 132.9 512.5 134.3 514.6 134.5 516.7 134.3 518.3 132.3 516.4 126.1 516.7 124.0 517.9 121.9 535.5 105.4 539.4 102.9 545.6 100.2 570.4 92.6 578.7 91.0 584.9 90.6 591.1 90.8 595.2 91.8 598.2 93.0 601.4 95.5 603.5 96.0 617.9 96.3 638.6 98.3 646.9 97.8 651.0 96.3 652.9 95.1 654.7 93.0 657.2 84.8 658.7 82.7 661.3 81.1Z" fill="#A0B91C"/><path d="M663.7 88.9 667.5 88.3 669.6 88.9 672.7 90.9 674.1 93.0 674.1 95.1 671.7 98.4 662.4 105.4 655.5 109.5 646.9 112.9 635.9 115.7 634.1 117.8 657.2 123.4 682.0 125.9 692.3 127.7 705.1 132.3 709.1 134.3 714.0 138.5 713.9 140.5 704.7 143.4 700.6 146.7 691.2 161.2 687.0 171.5 685.0 173.6 676.1 179.8 674.6 181.9 674.1 183.9 674.8 186.0 677.6 188.1 679.9 188.8 727.5 197.2 735.7 199.9 739.6 202.5 741.1 204.6 741.5 206.7 741.0 208.7 734.9 217.0 735.2 219.1 744.0 225.6 744.0 237.7 739.9 240.7 735.7 241.9 731.6 242.2 717.1 241.8 688.2 242.2 663.4 241.4 655.1 242.3 642.7 245.3 640.7 242.8 636.2 231.5 635.3 227.3 635.2 214.9 633.5 208.7 630.3 205.5 620.0 201.4 616.0 198.4 614.5 194.3 614.7 188.1 614.2 186.0 612.9 183.9 609.7 181.4 603.5 178.7 580.7 173.6 574.5 171.6 570.2 169.5 562.1 163.7 555.9 162.8 551.6 163.3 543.5 165.3 535.3 169.8 529.1 171.1 510.5 168.6 485.7 167.2 475.3 167.8 467.1 170.1 457.8 175.7 450.5 178.5 440.2 180.2 417.5 180.8 409.2 181.6 401.7 183.9 400.5 186.0 402.4 188.1 407.6 190.1 419.9 192.2 431.9 192.9 454.7 192.5 489.8 195.6 533.2 196.7 545.6 198.6 552.8 200.5 557.9 202.5 560.8 204.6 563.6 208.7 567.0 221.1 566.6 225.3 565.3 227.3 562.5 229.4 551.8 233.5 548.3 235.6 543.0 239.7 537.3 242.0 529.1 242.4 510.5 240.7 485.7 241.3 458.8 240.6 452.6 241.2 407.1 248.8 396.8 249.6 378.2 249.3 369.9 249.8 363.7 251.2 353.4 254.8 341.0 255.3 335.6 256.3 332.4 258.3 329.4 264.5 327.1 266.6 322.4 268.1 318.3 268.6 310.0 268.1 301.7 265.4 297.4 262.5 295.7 260.4 292.2 254.2 290.0 252.1 285.2 250.2 281.1 249.3 270.7 248.2 266.6 249.1 265.4 250.1 266.7 256.3 266.1 258.3 264.0 260.4 260.4 262.2 256.3 263.4 248.0 264.1 241.8 263.4 237.7 262.2 225.3 255.6 206.7 247.2 200.5 245.7 192.2 244.9 186.0 245.1 167.4 247.2 130.2 247.7 88.9 250.8 82.7 252.7 77.2 256.3 75.8 258.3 76.7 260.4 80.6 261.8 100.5 264.5 102.9 266.6 93.2 268.7 84.7 269.7 70.3 269.0 66.1 269.3 55.6 272.8 47.5 274.4 39.3 274.5 35.1 273.8 31.0 272.4 28.3 270.7 26.3 268.7 22.0 260.4 22.2 258.3 24.5 256.3 35.1 250.5 49.6 238.3 52.1 235.6 54.4 231.5 56.0 225.3 56.7 219.1 55.9 204.6 56.5 177.7 56.0 173.6 54.3 169.5 52.4 167.4 49.6 165.7 43.4 164.0 37.2 163.6 28.9 164.0 16.5 165.6 14.4 165.3 13.7 163.3 14.4 161.2 16.3 159.1 41.3 143.2 49.6 139.6 66.0 134.3 70.7 132.3 74.4 130.2 84.7 122.6 90.9 119.8 101.3 118.0 111.6 118.0 134.2 119.9 143.9 121.9 144.7 124.0 142.8 126.1 136.4 129.4 124.0 134.3 117.3 138.5 115.8 140.5 115.7 142.6 116.9 144.7 119.9 146.8 124.0 147.8 126.1 147.5 128.1 146.4 132.8 140.5 136.4 137.5 140.5 135.6 150.5 132.3 163.0 126.1 165.3 124.0 165.5 121.9 162.8 117.8 163.2 115.7 165.3 113.7 169.7 111.6 175.7 110.8 181.1 111.6 193.8 117.8 202.5 120.2 223.2 121.8 235.6 124.8 241.8 125.3 248.0 124.0 256.3 118.5 269.6 113.7 279.0 108.2 283.1 106.5 293.5 104.9 305.9 105.1 327.5 107.5 351.3 111.1 357.1 113.7 365.8 120.8 372.0 122.8 378.2 123.2 394.7 122.7 411.3 124.0 431.9 123.7 448.5 128.1 467.1 130.7 473.5 132.3 493.9 139.8 510.1 144.7 518.7 149.6 524.9 149.7 537.3 148.1 541.1 146.7 543.4 144.7 543.6 142.6 542.7 140.5 536.8 134.3 535.7 132.3 535.6 130.2 536.6 128.1 539.4 126.1 546.5 124.0 545.5 121.9 543.5 120.8 541.5 118.6 540.4 115.7 540.4 113.7 542.1 109.5 543.8 107.5 546.4 105.4 550.4 103.3 564.2 99.2 576.6 96.6 578.7 96.7 580.7 97.6 582.2 103.3 584.7 105.4 591.1 106.5 599.3 105.6 603.5 103.4 607.6 100.3 613.8 98.4 622.1 98.2 642.7 100.3 651.0 99.9 655.1 98.8 657.7 97.1 661.6 90.9ZM97.1 181.5 95.1 182.2 93.0 183.9 92.3 186.0 92.6 188.1 93.8 190.1 96.9 192.2 101.3 193.1 107.5 192.4 111.4 190.1 112.6 188.1 112.8 186.0 112.0 183.9 109.5 182.2 103.3 181.0ZM266.6 169.4 256.3 171.5 245.9 176.9 235.6 173.2 229.4 172.1 225.3 171.9 219.1 172.6 204.6 176.0 188.1 177.0 183.9 178.3 179.8 181.4 178.4 183.9 178.3 188.1 179.3 190.1 181.1 192.2 183.9 193.9 188.1 194.8 194.3 194.6 204.6 191.9 208.6 190.1 217.0 185.1 220.0 183.9 237.7 180.9 245.9 178.4 256.3 181.2 276.7 183.9 287.3 187.1 293.5 188.1 299.7 188.2 305.9 187.4 310.0 186.0 311.0 183.9 309.2 181.9 305.6 179.8 287.3 172.0 276.9 169.7ZM0.0 169.5 6.2 168.9 8.1 169.5 8.1 171.5 6.2 173.7 0.0 175.7ZM743.7 169.5 744.0 169.4 744.0 175.7 741.9 175.5 737.6 173.6 738.1 171.5ZM0.0 227.3 0.0 225.6 2.1 228.9 2.5 231.5 2.1 233.9 0.0 237.7ZM640.7 248.0 642.7 248.5 644.8 250.9 648.9 256.3 650.6 260.4 650.3 264.5 648.9 268.3 647.1 270.7 644.8 271.9 642.7 272.0 640.7 271.1 638.9 268.7 634.4 258.3 634.0 256.3 634.2 254.2 635.4 252.1 638.6 249.0ZM108.0 266.6 113.7 265.1 121.9 265.3 126.1 266.6 128.7 268.7 129.4 270.7 128.1 271.8 126.1 272.0 121.1 270.7 111.6 267.1Z" fill="#C8BE1E"/><path d="M612.7 101.3 620.0 99.8 628.3 100.3 644.6 103.3 646.8 105.4 645.0 107.5 640.3 109.5 616.5 113.7 608.2 117.8 597.3 121.7 594.4 124.0 592.7 128.1 593.0 132.3 595.2 134.2 601.4 135.8 628.3 139.2 638.6 139.5 659.3 138.9 667.5 139.5 671.6 140.5 674.6 142.6 675.5 144.7 675.3 146.7 674.3 148.8 669.6 152.9 657.6 159.1 653.1 163.6 648.9 166.4 633.0 171.5 624.1 175.6 620.0 176.3 615.9 175.7 601.4 171.9 588.0 169.5 581.4 167.4 578.7 165.3 578.2 163.3 579.2 161.2 584.2 157.1 585.4 155.0 584.2 152.9 580.7 151.7 576.6 151.5 570.4 152.3 541.5 158.6 537.3 158.5 534.1 157.1 534.8 155.0 545.6 151.6 550.4 148.8 551.7 146.7 552.3 144.7 551.0 136.4 551.8 134.4 559.5 130.2 561.4 128.1 562.5 124.0 561.7 119.9 560.1 117.7 554.1 113.7 553.3 111.6 554.2 109.5 555.9 108.3 560.1 106.8 564.2 106.7 567.3 107.5 572.5 110.5 576.6 111.5 593.1 110.2 603.5 108.1ZM285.3 109.5 293.5 108.1 303.8 109.0 311.0 111.6 313.5 113.7 313.8 115.7 311.9 117.8 307.9 119.4 293.1 121.9 287.3 123.6 276.9 130.6 265.9 134.3 265.4 136.4 267.7 138.5 270.7 139.4 276.9 140.1 295.5 139.2 338.9 139.2 353.4 137.8 372.0 133.2 380.3 132.6 388.5 132.8 398.9 133.9 405.1 135.5 409.2 137.7 414.9 142.6 417.5 143.5 454.7 146.5 473.3 147.1 479.6 148.8 482.9 150.9 484.0 152.9 483.1 155.0 479.5 156.9 471.2 158.5 425.7 160.8 380.3 166.9 359.6 170.2 345.1 170.6 334.8 169.4 310.0 163.7 277.9 161.2 266.1 159.1 243.9 149.5 233.0 140.5 229.7 136.4 229.6 134.3 233.2 132.3 248.0 130.4 252.1 129.3 254.2 128.0 257.5 124.0 260.4 121.6 263.5 119.9 274.5 115.7 280.9 111.6ZM72.5 144.7 78.5 143.3 80.6 143.4 82.7 144.7 76.5 145.4ZM100.2 157.1 101.3 155.8 103.3 155.0 124.0 159.8 130.2 162.0 131.9 163.3 132.7 165.3 131.5 167.4 126.1 169.8 117.8 170.4 110.4 169.5 105.8 167.4 101.5 163.3 100.3 161.2 99.8 159.1ZM671.5 198.4 677.9 197.5 684.1 197.5 700.6 199.9 717.1 201.3 723.3 202.5 725.4 203.4 727.5 204.6 728.8 206.7 727.5 209.1 725.3 210.8 721.3 212.5 706.8 216.8 696.5 220.6 688.2 222.0 682.0 222.1 673.7 220.8 653.1 215.0 650.3 212.9 649.3 210.8 649.3 208.7 650.2 206.7 652.5 204.6 659.3 201.8ZM428.2 200.5 442.3 199.9 506.3 201.9 533.2 201.5 541.5 202.5 547.7 204.4 551.8 206.7 553.0 208.7 552.6 210.8 551.8 211.7 547.7 214.0 535.3 216.2 516.7 220.6 508.4 221.0 460.9 220.2 448.5 218.9 438.1 216.9 429.9 214.3 423.0 210.8 420.4 208.7 419.1 206.7 419.0 204.6 420.9 202.5ZM100.4 204.6 105.4 203.7 109.5 204.1 121.9 208.9 126.1 209.8 132.3 210.3 186.0 207.4 231.5 208.6 237.7 209.5 242.1 210.8 243.9 212.0 248.0 217.0 251.8 219.1 258.4 221.1 264.5 221.8 267.7 221.1 268.7 220.0 269.1 219.1 268.7 217.0 266.6 215.2 264.5 214.3 253.2 210.8 250.8 208.7 251.9 206.7 256.3 204.8 264.5 204.0 269.1 204.6 279.0 210.3 285.2 211.6 303.8 212.4 330.7 210.7 341.0 211.5 347.2 213.2 362.4 219.1 364.9 221.1 365.3 223.2 364.6 225.3 363.0 227.3 359.9 229.4 357.5 230.3 351.3 231.6 338.9 232.5 332.7 234.2 330.5 235.6 325.6 241.8 323.1 243.9 316.2 247.0 312.1 247.8 270.7 241.7 260.4 241.0 254.2 241.3 248.0 242.3 243.4 243.9 237.7 247.2 235.6 247.7 231.5 247.7 225.3 246.2 208.7 240.2 196.3 237.2 190.1 236.5 183.9 237.0 171.5 240.2 163.3 241.5 111.6 241.4 103.3 240.3 97.3 237.7 95.8 235.6 94.1 227.3 93.2 225.3 90.9 222.4 84.9 217.0 86.3 214.9 96.7 206.7ZM60.6 239.7 66.1 238.0 70.3 238.6 74.4 240.9 75.3 241.8 76.1 243.9 75.6 245.9 74.0 248.0 68.3 252.1 60.6 256.3 58.4 258.3 57.9 264.5 57.1 266.6 55.2 268.7 49.6 271.2 43.4 272.2 37.2 271.4 35.1 270.7 32.1 268.7 30.7 266.6 30.3 264.5 30.6 262.5 32.2 260.4 35.1 258.5 44.9 254.2 47.0 252.1 51.5 245.9ZM307.5 250.1 310.0 248.4 312.1 248.2 316.2 249.2 318.3 250.6 320.3 253.3 320.9 256.3 320.6 258.3 319.2 260.4 316.2 262.2 312.1 262.8 307.9 262.1 304.5 260.4 302.8 258.3 302.4 256.3 303.8 252.9 305.9 250.9ZM242.9 254.2 243.9 253.6 248.0 253.8 251.6 256.3 250.1 257.8 248.0 258.3 243.3 256.3Z" fill="#F0C829"/><path d="M615.4 103.3 620.0 101.9 626.2 101.9 633.6 103.3 636.0 105.4 633.4 107.5 630.3 108.3 624.1 109.1 617.9 109.1 615.9 108.7 613.7 107.5 613.7 105.4ZM287.4 113.7 293.5 112.4 298.1 113.7 296.8 115.7 289.3 116.9 286.2 115.7ZM581.4 117.8 585.2 117.8 586.9 118.5 587.6 119.9 586.3 124.0 584.9 126.4 582.8 128.2 578.7 129.7 574.5 129.4 572.5 128.3 570.9 126.1 570.5 124.0 571.2 121.9 572.5 120.4 576.6 118.5ZM268.7 124.0 270.7 123.6 272.2 124.0 270.7 124.6ZM169.8 214.9 179.8 214.3 188.1 214.9 194.6 217.0 196.0 219.1 194.8 221.1 190.1 223.6 183.9 225.2 175.7 226.2 169.5 226.0 166.2 225.3 162.0 223.2 160.0 221.1 159.7 219.1 161.8 217.0ZM305.6 227.3 310.0 227.3 312.1 228.2 313.4 229.4 314.1 231.1 314.1 233.5 312.9 235.6 310.0 237.7 303.8 238.9 297.6 239.0 289.3 237.7 287.3 235.6 289.6 233.5 293.9 231.5 301.7 228.3ZM38.5 264.5 41.3 263.1 45.5 263.3 47.6 264.5 47.8 266.6 43.8 268.7 41.3 268.7 38.1 266.6Z" fill="#FCB31C"/></g></g>

<path d="M66.8 121.3 64.1 120.9 62.0 121.5 59.9 122.1 56.4 121.3 52.1 120.7 49.6 119.7 46.7 118.2 44.4 118.0 41.5 119.7 41.3 121.9 39.7 123.4 36.8 122.3 34.3 121.5 31.4 119.0 27.3 118.0 24.8 118.0 22.9 117.4 20.9 115.9 22.3 114.3 21.9 112.0 21.9 110.8 22.9 109.3 21.3 109.7 20.5 108.9 17.8 109.7 16.1 109.7 14.3 109.7 10.5 109.9 6.4 109.9 2.7 110.6 -1.2 112.2 -4.1 113.5 -6.0 113.0 -8.3 113.3 -11.0 111.8 -12.2 112.0 -12.8 113.7 -14.1 115.5 -15.7 116.6 -17.6 117.2 -19.0 118.8 -20.3 120.9 -20.0 123.0 -20.7 125.0 -23.8 127.1 -26.9 128.1 -27.9 129.2 -30.0 131.9 -31.0 134.3 -33.1 137.0 -34.1 139.5 -35.1 142.6 -33.7 145.7 -33.1 148.8 -34.1 151.9 -34.7 154.0 -36.2 155.6 -34.5 158.1 -34.7 160.2 -33.1 161.6 -31.0 163.3 -30.0 164.3 -27.9 166.4 -27.3 168.4 -24.8 170.9 -22.3 173.0 -18.6 175.7 -15.5 176.9 -12.4 176.1 -8.3 175.3 -6.2 175.7 -4.1 176.1 -2.1 175.3 0.0 174.2 3.1 173.2 7.0 172.8 9.1 173.0 10.3 174.6 12.4 177.1 14.5 176.9 17.6 176.7 19.6 177.9 20.3 179.8 19.8 182.9 19.6 185.4 18.2 187.4 18.6 188.7 20.7 191.8 23.8 194.3 24.8 196.3 25.4 198.4 25.8 200.5 27.3 204.6 28.5 208.7 27.7 211.8 25.4 216.0 24.4 219.1 24.4 222.2 25.8 225.3 27.9 229.4 30.0 233.5 30.8 237.7 31.4 241.8 34.1 245.1 35.8 249.0 37.2 252.1 37.8 254.2 38.2 256.9 41.3 257.9 45.5 256.7 49.6 256.5 53.1 256.3 55.8 255.4 58.9 253.8 62.0 250.7 64.1 247.8 65.1 247.0 67.2 244.9 68.0 241.8 67.4 239.7 68.2 238.7 73.2 235.6 73.4 233.5 73.2 230.4 72.3 226.9 75.4 224.9 76.5 222.8 80.6 221.1 82.7 219.5 84.1 217.0 83.9 214.9 83.7 210.8 83.5 207.7 81.6 205.6 81.6 202.5 81.2 200.1 80.2 199.4 80.6 197.4 81.8 194.5 82.7 193.2 83.7 191.2 85.8 189.5 87.8 187.0 90.9 183.9 93.6 181.9 95.1 180.8 97.1 178.8 99.2 175.7 101.3 172.6 102.9 169.5 105.0 166.4 105.4 164.3 106.0 161.6 105.4 161.4 101.3 162.6 97.1 162.9 93.0 164.3 90.9 164.3 88.9 162.2 89.3 160.2 87.8 159.1 84.7 156.0 82.7 155.0 81.2 153.8 79.6 148.8 77.1 145.7 76.9 142.6 76.1 140.5 74.0 138.5 73.4 136.4 71.3 133.3 70.3 130.2 69.2 128.1 67.4 124.2 M810.8 121.3 808.1 120.9 806.0 121.5 803.9 122.1 800.4 121.3 796.1 120.7 793.6 119.7 790.7 118.2 788.4 118.0 785.5 119.7 785.3 121.9 783.7 123.4 780.8 122.3 778.3 121.5 775.4 119.0 771.3 118.0 768.8 118.0 766.9 117.4 764.9 115.9 766.3 114.3 765.9 112.0 765.9 110.8 766.9 109.3 765.3 109.7 764.5 108.9 761.8 109.7 760.1 109.7 758.3 109.7 754.5 109.9 750.4 109.9 746.7 110.6 742.8 112.2 739.9 113.5 738.0 113.0 735.7 113.3 733.0 111.8 731.8 112.0 731.2 113.7 729.9 115.5 728.3 116.6 726.4 117.2 725.0 118.8 723.7 120.9 724.0 123.0 723.3 125.0 720.2 127.1 717.1 128.1 716.1 129.2 714.0 131.9 713.0 134.3 710.9 137.0 709.9 139.5 708.9 142.6 710.3 145.7 710.9 148.8 709.9 151.9 709.3 154.0 707.8 155.6 709.5 158.1 709.3 160.2 710.9 161.6 713.0 163.3 714.0 164.3 716.1 166.4 716.7 168.4 719.2 170.9 721.7 173.0 725.4 175.7 728.5 176.9 731.6 176.1 735.7 175.3 737.8 175.7 739.9 176.1 741.9 175.3 744.0 174.2 747.1 173.2 751.0 172.8 753.1 173.0 754.3 174.6 756.4 177.1 758.5 176.9 761.6 176.7 763.6 177.9 764.3 179.8 763.8 182.9 763.6 185.4 762.2 187.4 762.6 188.7 764.7 191.8 767.8 194.3 768.8 196.3 769.4 198.4 769.8 200.5 771.3 204.6 772.5 208.7 771.7 211.8 769.4 216.0 768.4 219.1 768.4 222.2 769.8 225.3 771.9 229.4 774.0 233.5 774.8 237.7 775.4 241.8 778.1 245.1 779.8 249.0 781.2 252.1 781.8 254.2 782.2 256.9 785.3 257.9 789.5 256.7 793.6 256.5 797.1 256.3 799.8 255.4 802.9 253.8 806.0 250.7 808.1 247.8 809.1 247.0 811.2 244.9 812.0 241.8 811.4 239.7 812.2 238.7 817.2 235.6 817.4 233.5 817.2 230.4 816.3 226.9 819.4 224.9 820.5 222.8 824.6 221.1 826.7 219.5 828.1 217.0 827.9 214.9 827.7 210.8 827.5 207.7 825.6 205.6 825.6 202.5 825.2 200.1 824.2 199.4 824.6 197.4 825.8 194.5 826.7 193.2 827.7 191.2 829.8 189.5 831.8 187.0 834.9 183.9 837.6 181.9 839.1 180.8 841.1 178.8 843.2 175.7 845.3 172.6 846.9 169.5 849.0 166.4 849.4 164.3 850.0 161.6 849.4 161.4 845.3 162.6 841.1 162.9 837.0 164.3 834.9 164.3 832.9 162.2 833.3 160.2 831.8 159.1 828.7 156.0 826.7 155.0 825.2 153.8 823.6 148.8 821.1 145.7 820.9 142.6 820.1 140.5 818.0 138.5 817.4 136.4 815.3 133.3 814.3 130.2 813.2 128.1 811.4 124.2 M67.4 124.2 68.2 125.4 69.2 127.3 70.7 128.8 71.1 128.1 71.7 127.1 72.3 125.0 72.3 128.1 73.4 129.2 75.6 132.3 76.9 134.3 78.5 136.4 80.6 139.5 80.8 141.6 82.0 143.6 84.1 145.7 85.8 147.8 87.8 150.9 88.0 151.9 88.5 154.0 88.7 155.4 89.3 158.5 89.9 159.8 93.0 159.5 98.2 158.1 101.5 156.0 102.3 155.6 105.4 154.6 107.9 152.5 111.6 150.9 114.1 149.8 116.8 148.8 119.2 146.9 119.5 146.7 120.9 143.8 121.9 142.6 123.6 139.5 121.1 137.2 117.4 136.0 116.6 134.3 116.4 131.9 114.3 133.7 112.6 135.4 108.5 136.0 106.0 135.4 106.6 133.7 105.8 132.1 105.0 133.3 103.7 131.2 102.3 129.8 100.2 127.1 99.2 125.0 100.2 124.0 101.3 123.2 103.3 123.6 105.0 126.1 106.4 128.3 109.5 130.2 112.6 131.0 116.4 129.8 117.4 130.2 118.4 132.9 121.9 133.5 126.1 133.9 128.8 134.1 133.3 133.9 137.4 133.5 138.5 134.7 139.5 136.6 141.6 137.4 142.6 138.9 145.3 138.7 142.6 139.9 143.8 141.4 144.7 142.6 146.7 143.2 149.2 142.0 149.8 140.5 150.0 142.2 150.2 143.6 150.5 146.7 151.5 150.9 152.5 154.0 153.6 156.0 154.6 159.3 156.7 162.6 157.5 165.3 158.1 167.6 160.2 169.3 161.6 167.6 163.3 166.8 163.7 164.9 165.1 164.7 164.9 164.5 165.1 161.2 166.0 158.9 165.5 157.1 166.0 154.0 167.8 153.1 170.1 151.7 172.2 149.4 175.7 146.1 177.3 145.1 178.8 144.7 179.8 143.0 180.8 141.6 182.3 141.2 185.0 140.9 187.0 140.3 188.1 139.5 189.7 139.9 190.5 142.6 191.8 144.3 193.2 145.1 194.7 147.1 195.3 149.8 194.9 152.9 197.0 153.3 198.8 151.7 200.3 150.9 201.7 151.9 201.7 152.5 202.1 155.0 202.9 157.5 203.8 160.2 204.0 162.2 203.8 164.9 203.4 167.4 203.2 169.5 203.6 169.5 205.2 170.9 206.9 172.6 207.3 174.6 207.9 177.7 209.4 180.0 211.4 181.7 213.7 183.1 215.3 183.1 213.9 180.6 213.9 177.7 213.3 175.3 211.4 173.2 210.2 171.9 207.7 170.9 206.7 168.4 205.6 167.0 205.0 165.3 205.2 163.3 206.7 161.2 206.7 158.5 207.7 158.1 208.5 158.3 210.4 159.8 211.8 160.8 212.9 162.9 214.1 164.3 216.0 164.5 216.8 165.7 216.6 168.2 217.6 168.0 220.3 166.2 220.7 164.5 221.1 164.5 223.6 163.3 225.7 162.0 225.9 160.2 225.9 158.1 225.1 154.6 223.8 152.9 222.4 151.9 220.1 149.4 218.7 147.4 218.4 146.7 219.1 144.9 220.7 143.0 223.6 141.4 225.5 141.6 226.7 141.6 227.1 144.0 228.0 144.0 228.4 142.2 230.6 141.6 232.5 140.9 234.6 140.1 236.0 139.9 238.7 139.1 241.4 137.8 244.3 135.4 245.9 133.9 247.2 132.3 248.0 130.2 250.1 128.1 251.3 127.1 252.1 125.0 251.7 124.2 249.7 123.4 250.7 122.8 251.9 121.9 251.7 120.3 249.9 117.8 248.6 115.7 246.6 114.3 247.0 113.3 248.6 111.6 253.0 109.7 253.2 108.7 249.7 107.9 248.0 108.9 245.9 108.9 246.3 107.9 244.9 107.5 243.5 105.0 247.2 103.5 250.1 101.7 252.5 101.9 252.1 102.3 250.5 104.4 251.3 105.6 254.2 104.2 256.9 103.5 259.0 104.4 258.3 106.4 259.4 107.9 261.6 108.5 261.8 109.5 261.4 111.6 261.0 114.1 261.4 114.9 264.5 114.1 266.8 113.5 267.6 111.6 267.0 109.1 265.2 106.4 263.5 104.8 265.6 103.3 268.0 101.7 268.7 100.2 270.1 98.6 270.7 98.0 272.8 96.9 279.0 96.1 282.1 93.6 285.2 90.9 287.3 88.2 290.0 85.8 290.4 82.7 291.0 79.6 291.4 78.5 292.0 76.1 289.3 74.4 286.2 74.8 283.1 74.4 280.0 73.2 282.1 72.3 285.6 69.4 289.3 67.2 295.9 63.2 300.7 63.4 305.9 63.4 312.1 63.0 320.3 63.0 323.4 58.9 326.5 58.5 330.7 59.9 336.9 56.8 338.9 56.8 334.8 58.9 329.6 62.0 324.5 66.1 322.0 68.2 321.6 72.3 322.4 77.5 323.8 80.6 326.5 78.9 328.0 76.5 330.7 76.1 333.8 73.4 334.8 72.3 336.9 69.9 334.8 66.5 337.9 65.1 340.0 62.4 343.1 62.0 351.3 62.0 355.5 61.0 361.7 58.3 370.3 57.2 371.0 56.8 369.9 55.8 367.9 52.1 369.9 49.6 374.1 50.6 376.1 52.3 386.1 52.9 388.5 50.6 393.3 49.6 388.5 47.9 382.3 47.1 378.2 45.5 372.0 43.4 363.7 41.7 357.5 41.3 352.4 41.3 351.3 43.4 341.0 42.4 334.8 42.2 330.7 42.0 322.4 39.3 314.1 39.3 310.0 37.8 301.7 36.4 291.4 35.5 287.3 36.6 283.1 38.2 274.9 38.2 270.7 39.3 267.6 38.2 266.6 35.5 260.4 34.1 254.2 34.7 245.9 35.1 237.7 34.1 233.5 33.5 227.3 33.7 221.1 34.1 227.3 32.0 234.6 30.0 231.5 27.9 221.1 26.9 215.6 25.4 206.7 27.9 202.5 28.3 192.2 28.9 179.8 31.0 177.7 33.1 166.4 34.1 172.6 37.6 170.5 38.6 165.3 36.6 161.2 36.8 159.1 37.2 154.0 36.2 155.0 39.3 154.0 43.8 152.9 47.5 148.8 49.0 151.9 46.5 150.9 43.4 149.8 39.3 149.8 36.2 146.7 34.7 141.6 36.2 139.5 38.2 138.1 39.7 138.5 42.4 141.6 45.1 138.5 44.4 134.3 43.4 132.3 42.8 125.0 41.7 125.0 43.4 119.9 43.8 113.7 44.4 112.6 45.1 110.6 44.4 103.3 45.5 99.2 46.3 96.1 47.5 95.1 45.5 89.5 44.2 90.9 44.8 91.6 47.5 90.9 49.6 86.8 48.8 82.7 50.2 83.7 52.7 78.5 52.7 77.5 53.7 71.9 52.7 71.3 50.6 68.2 47.5 72.3 48.6 78.5 49.2 84.7 48.2 82.7 45.9 74.4 43.4 68.2 42.8 64.1 40.5 57.9 39.3 53.1 39.1 43.4 40.9 38.2 41.7 32.0 44.4 29.6 46.9 24.8 50.6 21.7 52.7 17.6 54.8 12.8 56.8 10.3 57.9 10.5 61.2 11.6 64.1 16.5 65.9 21.9 63.4 24.6 66.8 26.7 71.3 29.3 71.5 32.0 69.9 34.1 67.2 38.2 63.4 35.5 60.6 36.2 57.0 42.0 54.1 45.9 50.6 50.0 50.0 52.3 51.7 44.4 55.8 44.0 58.9 45.5 61.2 47.5 62.4 51.7 61.6 58.9 60.8 62.0 62.0 57.9 63.0 51.3 63.0 48.6 63.7 50.6 65.5 49.6 68.2 48.6 68.2 46.5 67.0 43.4 69.2 43.4 70.9 41.3 73.0 38.4 73.6 29.6 74.4 27.9 73.4 24.8 74.0 22.3 74.4 20.3 72.3 21.3 69.2 21.9 66.8 16.7 68.2 17.2 71.3 18.2 74.6 14.5 75.4 9.9 76.5 8.3 78.5 6.0 80.2 3.7 80.8 0.2 83.7 -3.3 83.3 -4.1 85.6 -6.2 85.1 -9.9 86.0 -4.5 88.5 -2.5 90.5 -2.5 93.6 -3.7 96.3 -7.9 96.1 -11.8 95.9 -17.4 96.3 -19.2 97.1 -18.0 100.9 -19.6 106.0 -18.6 109.5 -14.5 109.1 -13.0 110.6 -11.6 111.6 -11.2 111.4 -9.1 110.2 -5.2 109.9 -4.5 110.2 -2.1 108.3 -1.0 106.8 0.4 106.0 -0.6 104.4 1.7 101.9 2.5 101.1 4.5 100.4 6.8 98.6 6.2 98.2 6.4 97.1 8.1 96.1 9.3 96.3 11.2 96.5 12.4 96.9 15.1 95.7 16.5 95.3 18.4 94.2 20.3 94.9 21.3 96.1 21.7 97.1 22.9 98.4 25.2 99.6 27.9 100.9 29.3 101.7 30.6 102.1 32.4 103.3 33.5 104.4 33.1 106.0 32.4 107.7 34.1 106.6 35.3 105.4 34.3 104.0 35.5 102.3 38.0 103.7 38.2 103.1 37.2 102.1 34.9 101.1 33.5 99.4 29.3 98.2 27.9 95.9 26.0 95.1 25.6 93.4 25.6 92.2 28.5 91.8 28.1 93.0 30.0 92.4 31.4 94.9 33.9 96.1 38.2 98.2 39.9 99.2 40.1 100.4 40.3 102.3 41.7 104.4 43.0 105.4 43.6 106.6 44.6 107.1 44.0 108.1 44.8 109.9 46.3 110.8 47.7 110.6 47.9 108.7 47.5 107.5 49.0 107.7 49.6 108.1 49.6 107.1 47.5 105.6 47.5 104.8 46.7 103.3 47.3 102.3 48.4 102.7 50.2 103.1 49.2 102.3 50.4 101.5 53.5 101.7 53.9 102.1 54.1 103.2 55.2 102.3 56.8 101.3 59.7 101.3 59.9 100.9 57.9 100.2 57.0 98.2 57.9 96.7 59.3 94.7 61.4 92.2 63.4 89.9 65.1 89.7 66.1 90.3 69.6 90.5 69.4 90.9 67.2 92.2 69.0 93.8 70.3 94.2 73.2 93.0 75.2 92.2 72.3 91.6 72.3 90.5 75.4 89.5 77.5 88.7 81.0 88.5 79.2 89.5 77.5 90.9 75.6 92.6 78.1 93.6 79.6 94.2 82.0 95.9 84.7 97.1 85.8 98.2 86.0 100.0 82.0 101.3 78.5 101.3 75.0 100.6 72.3 99.2 68.2 99.2 65.1 100.6 62.6 100.9 59.9 101.3 59.9 102.3 56.8 102.5 54.1 102.9 54.4 104.8 55.4 106.6 56.6 109.5 58.3 110.2 60.3 111.0 63.0 111.0 63.4 109.7 67.8 111.6 69.6 111.2 71.5 109.9 73.4 110.4 74.8 110.4 74.0 112.6 74.0 114.7 73.4 115.9 72.3 118.2 71.9 119.7 70.9 121.3 69.9 121.7 66.8 121.3 M811.4 124.2 812.2 125.4 813.2 127.3 814.7 128.8 815.1 128.1 815.7 127.1 816.3 125.0 816.3 128.1 817.4 129.2 819.6 132.3 820.9 134.3 822.5 136.4 824.6 139.5 824.8 141.6 826.0 143.6 828.1 145.7 829.8 147.8 831.8 150.9 832.0 151.9 832.5 154.0 832.7 155.4 833.3 158.5 833.9 159.8 837.0 159.5 842.2 158.1 845.5 156.0 846.3 155.6 849.4 154.6 851.9 152.5 855.6 150.9 858.1 149.8 860.8 148.8 863.2 146.9 863.5 146.7 864.9 143.8 865.9 142.6 867.6 139.5 865.1 137.2 861.4 136.0 860.6 134.3 860.4 131.9 858.3 133.7 856.6 135.4 852.5 136.0 850.0 135.4 850.6 133.7 849.8 132.1 849.0 133.3 847.7 131.2 846.3 129.8 844.2 127.1 843.2 125.0 844.2 124.0 845.3 123.2 847.3 123.6 849.0 126.1 850.4 128.3 853.5 130.2 856.6 131.0 860.4 129.8 861.4 130.2 862.4 132.9 865.9 133.5 870.1 133.9 872.8 134.1 877.3 133.9 881.4 133.5 882.5 134.7 883.5 136.6 885.6 137.4 886.6 138.9 889.3 138.7 886.6 139.9 887.8 141.4 888.7 142.6 890.7 143.2 893.2 142.0 893.8 140.5 894.0 142.2 894.2 143.6 894.5 146.7 895.5 150.9 896.5 154.0 897.6 156.0 898.6 159.3 900.7 162.6 901.5 165.3 902.1 167.6 904.2 169.3 905.6 167.6 907.3 166.8 907.7 164.9 909.1 164.7 908.9 164.5 909.1 161.2 910.0 158.9 909.5 157.1 910.0 154.0 911.8 153.1 914.1 151.7 916.2 149.4 919.7 146.1 921.3 145.1 922.8 144.7 923.8 143.0 924.8 141.6 926.3 141.2 929.0 140.9 931.0 140.3 932.1 139.5 933.7 139.9 934.5 142.6 935.8 144.3 937.2 145.1 938.7 147.1 939.3 149.8 938.9 152.9 941.0 153.3 942.8 151.7 944.3 150.9 945.7 151.9 945.7 152.5 946.1 155.0 946.9 157.5 947.8 160.2 948.0 162.2 947.8 164.9 947.4 167.4 947.2 169.5 947.6 169.5 949.2 170.9 950.9 172.6 951.3 174.6 951.9 177.7 953.4 180.0 955.4 181.7 957.7 183.1 959.3 183.1 957.9 180.6 957.9 177.7 957.3 175.3 955.4 173.2 954.2 171.9 951.7 170.9 950.7 168.4 949.6 167.0 949.0 165.3 949.2 163.3 950.7 161.2 950.7 158.5 951.7 158.1 952.5 158.3 954.4 159.8 955.8 160.8 956.9 162.9 958.1 164.3 960.0 164.5 960.8 165.7 960.6 168.2 961.6 168.0 964.3 166.2 964.7 164.5 965.1 164.5 967.6 163.3 969.7 162.0 969.9 160.2 969.9 158.1 969.1 154.6 967.8 152.9 966.4 151.9 964.1 149.4 962.7 147.4 962.4 146.7 963.1 144.9 964.7 143.0 967.6 141.4 969.5 141.6 970.7 141.6 971.1 144.0 972.0 144.0 972.4 142.2 974.6 141.6 976.5 140.9 978.6 140.1 980.0 139.9 982.7 139.1 985.4 137.8 988.3 135.4 989.9 133.9 991.2 132.3 992.0 130.2 994.1 128.1 995.3 127.1 996.1 125.0 995.7 124.2 993.7 123.4 994.7 122.8 995.9 121.9 995.7 120.3 993.9 117.8 992.6 115.7 990.6 114.3 991.0 113.3 992.6 111.6 997.0 109.7 997.2 108.7 993.7 107.9 992.0 108.9 989.9 108.9 990.3 107.9 988.9 107.5 987.5 105.0 991.2 103.5 994.1 101.7 996.5 101.9 996.1 102.3 994.5 104.4 995.3 105.6 998.2 104.2 1000.9 103.5 1003.0 104.4 1002.3 106.4 1003.4 107.9 1005.6 108.5 1005.8 109.5 1005.4 111.6 1005.0 114.1 1005.4 114.9 1008.5 114.1 1010.8 113.5 1011.6 111.6 1011.0 109.1 1009.2 106.4 1007.5 104.8 1009.6 103.3 1012.0 101.7 1012.7 100.2 1014.1 98.6 1014.7 98.0 1016.8 96.9 1023.0 96.1 1026.1 93.6 1029.2 90.9 1031.3 88.2 1034.0 85.8 1034.4 82.7 1035.0 79.6 1035.4 78.5 1036.0 76.1 1033.3 74.4 1030.2 74.8 1027.1 74.4 1024.0 73.2 1026.1 72.3 1029.6 69.4 1033.3 67.2 1039.9 63.2 1044.7 63.4 1049.9 63.4 1056.1 63.0 1064.3 63.0 1067.4 58.9 1070.5 58.5 1074.7 59.9 1080.9 56.8 1082.9 56.8 1078.8 58.9 1073.6 62.0 1068.5 66.1 1066.0 68.2 1065.6 72.3 1066.4 77.5 1067.8 80.6 1070.5 78.9 1072.0 76.5 1074.7 76.1 1077.8 73.4 1078.8 72.3 1080.9 69.9 1078.8 66.5 1081.9 65.1 1084.0 62.4 1087.1 62.0 1095.3 62.0 1099.5 61.0 1105.7 58.3 1114.3 57.2 1115.0 56.8 1113.9 55.8 1111.9 52.1 1113.9 49.6 1118.1 50.6 1120.1 52.3 1130.1 52.9 1132.5 50.6 1137.3 49.6 1132.5 47.9 1126.3 47.1 1122.2 45.5 1116.0 43.4 1107.7 41.7 1101.5 41.3 1096.4 41.3 1095.3 43.4 1085.0 42.4 1078.8 42.2 1074.7 42.0 1066.4 39.3 1058.1 39.3 1054.0 37.8 1045.7 36.4 1035.4 35.5 1031.3 36.6 1027.1 38.2 1018.9 38.2 1014.7 39.3 1011.6 38.2 1010.6 35.5 1004.4 34.1 998.2 34.7 989.9 35.1 981.7 34.1 977.5 33.5 971.3 33.7 965.1 34.1 971.3 32.0 978.6 30.0 975.5 27.9 965.1 26.9 959.6 25.4 950.7 27.9 946.5 28.3 936.2 28.9 923.8 31.0 921.7 33.1 910.4 34.1 916.6 37.6 914.5 38.6 909.3 36.6 905.2 36.8 903.1 37.2 898.0 36.2 899.0 39.3 898.0 43.8 896.9 47.5 892.8 49.0 895.9 46.5 894.9 43.4 893.8 39.3 893.8 36.2 890.7 34.7 885.6 36.2 883.5 38.2 882.1 39.7 882.5 42.4 885.6 45.1 882.5 44.4 878.3 43.4 876.3 42.8 869.0 41.7 869.0 43.4 863.9 43.8 857.7 44.4 856.6 45.1 854.6 44.4 847.3 45.5 843.2 46.3 840.1 47.5 839.1 45.5 833.5 44.2 834.9 44.8 835.6 47.5 834.9 49.6 830.8 48.8 826.7 50.2 827.7 52.7 822.5 52.7 821.5 53.7 815.9 52.7 815.3 50.6 812.2 47.5 816.3 48.6 822.5 49.2 828.7 48.2 826.7 45.9 818.4 43.4 812.2 42.8 808.1 40.5 801.9 39.3 797.1 39.1 787.4 40.9 782.2 41.7 776.0 44.4 773.6 46.9 768.8 50.6 765.7 52.7 761.6 54.8 756.8 56.8 754.3 57.9 754.5 61.2 755.6 64.1 760.5 65.9 765.9 63.4 768.6 66.8 770.7 71.3 773.3 71.5 776.0 69.9 778.1 67.2 782.2 63.4 779.5 60.6 780.2 57.0 786.0 54.1 789.9 50.6 794.0 50.0 796.3 51.7 788.4 55.8 788.0 58.9 789.5 61.2 791.5 62.4 795.7 61.6 802.9 60.8 806.0 62.0 801.9 63.0 795.3 63.0 792.6 63.7 794.6 65.5 793.6 68.2 792.6 68.2 790.5 67.0 787.4 69.2 787.4 70.9 785.3 73.0 782.4 73.6 773.6 74.4 771.9 73.4 768.8 74.0 766.3 74.4 764.3 72.3 765.3 69.2 765.9 66.8 760.7 68.2 761.2 71.3 762.2 74.6 758.5 75.4 753.9 76.5 752.3 78.5 750.0 80.2 747.7 80.8 744.2 83.7 740.7 83.3 739.9 85.6 737.8 85.1 734.1 86.0 739.5 88.5 741.5 90.5 741.5 93.6 740.3 96.3 736.1 96.1 732.2 95.9 726.6 96.3 724.8 97.1 726.0 100.9 724.4 106.0 725.4 109.5 729.5 109.1 731.0 110.6 732.4 111.6 732.8 111.4 734.9 110.2 738.8 109.9 739.5 110.2 741.9 108.3 743.0 106.8 744.4 106.0 743.4 104.4 745.7 101.9 746.5 101.1 748.5 100.4 750.8 98.6 750.2 98.2 750.4 97.1 752.1 96.1 753.3 96.3 755.2 96.5 756.4 96.9 759.1 95.7 760.5 95.3 762.4 94.2 764.3 94.9 765.3 96.1 765.7 97.1 766.9 98.4 769.2 99.6 771.9 100.9 773.3 101.7 774.6 102.1 776.4 103.3 777.5 104.4 777.1 106.0 776.4 107.7 778.1 106.6 779.3 105.4 778.3 104.0 779.5 102.3 782.0 103.7 782.2 103.1 781.2 102.1 778.9 101.1 777.5 99.4 773.3 98.2 771.9 95.9 770.0 95.1 769.6 93.4 769.6 92.2 772.5 91.8 772.1 93.0 774.0 92.4 775.4 94.9 777.9 96.1 782.2 98.2 783.9 99.2 784.1 100.4 784.3 102.3 785.7 104.4 787.0 105.4 787.6 106.6 788.6 107.1 788.0 108.1 788.8 109.9 790.3 110.8 791.7 110.6 791.9 108.7 791.5 107.5 793.0 107.7 793.6 108.1 793.6 107.1 791.5 105.6 791.5 104.8 790.7 103.3 791.3 102.3 792.4 102.7 794.2 103.1 793.2 102.3 794.4 101.5 797.5 101.7 797.9 102.1 798.1 103.2 799.2 102.3 800.8 101.3 803.7 101.3 803.9 100.9 801.9 100.2 801.0 98.2 801.9 96.7 803.3 94.7 805.4 92.2 807.4 89.9 809.1 89.7 810.1 90.3 813.6 90.5 813.4 90.9 811.2 92.2 813.0 93.8 814.3 94.2 817.2 93.0 819.2 92.2 816.3 91.6 816.3 90.5 819.4 89.5 821.5 88.7 825.0 88.5 823.2 89.5 821.5 90.9 819.6 92.6 822.1 93.6 823.6 94.2 826.0 95.9 828.7 97.1 829.8 98.2 830.0 100.0 826.0 101.3 822.5 101.3 819.0 100.6 816.3 99.2 812.2 99.2 809.1 100.6 806.6 100.9 803.9 101.3 803.9 102.3 800.8 102.5 798.1 102.9 798.4 104.8 799.4 106.6 800.6 109.5 802.3 110.2 804.3 111.0 807.0 111.0 807.4 109.7 811.8 111.6 813.6 111.2 815.5 109.9 817.4 110.4 818.8 110.4 818.0 112.6 818.0 114.7 817.4 115.9 816.3 118.2 815.9 119.7 814.9 121.3 813.9 121.7 810.8 121.3 M-11.8 82.5 -8.5 82.0 -7.2 81.6 -5.0 81.4 -2.7 81.0 0.0 81.0 2.9 80.4 1.4 79.6 2.1 78.9 3.5 77.3 1.0 76.5 0.4 76.7 0.0 75.2 -0.4 74.2 -1.2 73.4 -2.9 72.3 -4.1 70.7 -6.2 70.3 -5.6 69.6 -4.1 68.0 -3.9 66.8 -8.3 67.0 -6.2 65.1 -10.3 64.9 -10.7 66.3 -12.0 67.6 -11.6 69.2 -12.0 71.7 -10.1 70.7 -9.7 71.5 -10.5 72.5 -7.2 72.5 -7.0 73.4 -6.6 74.2 -6.2 75.6 -8.9 75.8 -9.5 75.8 -9.7 76.9 -8.5 77.7 -11.0 78.7 -8.3 79.4 -6.6 79.6 -5.6 79.6 -6.8 80.2 -8.7 80.2 -9.5 81.0 -10.5 81.8Z M732.2 82.5 735.5 82.0 736.8 81.6 739.0 81.4 741.3 81.0 744.0 81.0 746.9 80.4 745.4 79.6 746.1 78.9 747.5 77.3 745.0 76.5 744.4 76.7 744.0 75.2 743.6 74.2 742.8 73.4 741.1 72.3 739.9 70.7 737.8 70.3 738.4 69.6 739.9 68.0 740.1 66.8 735.7 67.0 737.8 65.1 733.7 64.9 733.3 66.3 732.0 67.6 732.4 69.2 732.0 71.7 733.9 70.7 734.3 71.5 733.5 72.5 736.8 72.5 737.0 73.4 737.4 74.2 737.8 75.6 735.1 75.8 734.5 75.8 734.3 76.9 735.5 77.7 733.0 78.7 735.7 79.4 737.4 79.6 738.4 79.6 737.2 80.2 735.3 80.2 734.5 81.0 733.5 81.8Z M731.6 78.1 730.8 77.9 726.8 78.9 723.7 79.6 722.5 78.3 725.4 76.1 723.3 75.4 723.3 74.4 726.2 73.8 726.4 72.3 728.9 71.5 732.0 73.0 732.6 73.8 731.2 74.4 731.4 75.8Z M21.7 21.7 22.7 23.8 27.9 25.2 30.0 26.9 34.1 27.7 37.2 25.8 39.3 23.8 43.4 23.4 38.2 21.7 33.1 20.7 24.8 21.1Z M37.2 20.7 41.3 19.8 49.6 19.8 55.8 20.5 53.7 21.9 45.5 22.3 39.3 21.5Z M97.1 20.3 103.3 18.8 113.7 18.6 124.0 18.6 128.1 19.4 119.9 20.5 107.5 20.5Z M106.4 38.0 108.5 36.2 109.5 34.1 113.7 32.0 115.7 30.6 119.9 29.3 126.1 28.3 134.3 27.3 141.6 26.9 142.6 27.9 136.4 28.9 127.1 30.6 124.0 32.0 120.9 34.1 117.8 36.2 115.7 38.2 118.8 39.9 113.7 39.9 110.6 39.3Z M196.3 22.7 200.5 20.0 206.7 18.2 214.9 19.6 219.1 22.7 214.9 24.4 206.7 24.4 200.5 23.6Z M283.1 31.0 285.2 28.9 295.5 28.7 301.7 30.0 310.0 30.4 310.0 31.4 297.6 31.4 289.3 32.0 284.2 32.0Z M368.9 38.9 372.0 38.2 377.2 38.6 376.1 39.5 371.0 39.7Z M165.3 165.7 167.8 168.2 169.3 170.9 168.8 172.6 166.6 173.8 165.5 173.4 165.1 171.7 164.9 169.1Z M101.9 210.8 103.3 213.9 104.4 217.6 102.9 219.1 102.3 222.2 102.1 223.4 100.9 227.3 99.2 232.5 97.5 237.3 97.1 237.7 94.0 238.9 93.4 238.9 90.9 237.7 90.3 234.4 89.5 231.5 90.5 229.4 91.6 228.0 91.8 225.3 90.9 223.2 90.9 221.1 91.8 219.5 94.0 218.9 95.7 218.4 97.8 216.6 99.2 214.1 100.9 212.5Z M197.0 174.4 200.5 175.3 201.5 175.3 203.2 176.7 204.0 178.1 206.3 179.8 207.7 181.5 209.8 182.3 211.8 183.9 213.5 185.0 214.5 186.6 213.9 188.1 215.6 188.3 216.2 190.1 217.0 191.0 219.1 192.2 218.9 194.3 218.7 197.4 217.6 198.0 216.0 198.0 214.9 196.7 212.9 195.5 211.2 193.9 209.8 192.2 208.3 190.1 207.3 188.1 205.6 186.0 204.2 182.5 201.9 180.8 200.5 178.8 198.6 177.5 197.0 175.3Z M217.4 200.1 219.1 198.2 220.7 198.6 223.2 199.0 224.4 199.8 228.2 200.3 229.4 199.4 232.5 200.3 233.1 201.1 235.4 201.9 236.4 202.1 236.4 203.4 236.8 204.0 233.5 203.2 230.4 203.2 227.3 202.5 224.2 202.1 222.2 201.9 219.9 201.1Z M238.7 202.9 241.8 203.4 245.9 203.2 245.9 204.4 241.8 204.6 238.9 204.0Z M247.8 203.4 251.1 203.6 254.2 203.2 253.8 204.0 250.1 204.4 248.0 204.2Z M255.2 207.3 257.3 205.2 260.4 203.8 262.9 203.4 261.4 204.6 258.3 206.3 256.3 207.3Z M245.9 205.6 248.0 205.4 249.7 206.7 248.0 207.1 246.3 206.3Z M226.5 181.9 228.0 182.5 230.0 181.0 230.2 180.2 233.5 179.4 235.6 176.9 237.7 175.7 239.7 173.6 241.4 171.5 242.2 172.4 244.1 173.8 246.3 175.0 245.1 176.7 243.7 177.1 243.0 178.6 243.2 179.2 243.9 181.2 243.7 182.3 245.9 183.9 243.9 184.3 242.8 186.0 242.8 187.4 241.4 188.7 240.8 190.5 240.6 192.2 239.7 193.6 237.0 194.5 236.6 193.2 234.6 192.8 232.5 193.0 231.1 193.2 229.0 192.2 227.7 190.5 227.5 189.1 225.9 187.4 225.5 186.0 225.1 183.9 225.9 182.5Z M248.0 184.3 249.7 183.3 252.1 183.9 255.2 184.1 257.9 182.9 258.7 182.9 257.3 185.0 254.8 185.4 251.1 185.0 248.6 185.2 248.0 186.4 249.0 188.1 250.7 187.9 254.6 187.4 255.0 188.1 252.5 189.3 251.5 189.9 252.8 192.2 254.2 194.3 254.6 197.0 252.8 197.0 252.1 195.5 251.1 195.7 250.1 194.3 250.1 191.6 249.7 191.6 248.6 193.2 248.8 196.3 248.6 197.6 246.8 196.7 247.0 194.3 245.9 193.0 245.5 191.6 246.3 189.1 247.6 187.7 247.6 185.6Z M263.5 181.9 264.5 182.3 266.0 183.5 264.9 185.0 265.6 187.0 264.1 187.2 263.9 185.0 263.3 183.9Z M264.5 192.2 267.6 191.8 270.3 192.6 269.7 193.6 266.6 193.0 264.5 193.0Z M260.4 192.6 262.5 192.4 262.9 193.4 261.4 193.9 260.4 193.2Z M271.1 187.7 273.8 186.8 276.9 187.7 277.6 191.2 279.0 192.8 281.1 191.8 283.1 190.1 285.2 189.3 290.8 191.2 291.4 191.4 294.5 192.6 296.8 193.4 298.6 194.1 301.3 196.7 302.8 197.8 305.5 199.2 305.5 199.8 303.8 199.8 304.8 201.7 306.5 203.4 307.9 204.6 310.0 206.7 311.7 207.3 310.4 208.1 307.9 207.3 305.9 206.9 304.2 205.6 302.8 204.4 300.7 202.5 298.6 201.7 297.2 202.3 296.6 203.4 295.9 204.8 294.5 205.0 291.4 204.8 289.3 202.9 287.3 202.7 285.6 203.4 284.6 203.4 285.8 201.1 286.9 200.1 285.2 197.4 283.1 196.1 280.0 195.3 278.0 194.3 275.9 193.6 274.9 194.3 274.5 192.8 276.1 191.4 273.2 190.8 270.7 188.9Z M306.5 197.6 309.0 197.4 311.0 197.4 313.1 196.3 314.5 194.7 314.8 196.3 313.1 197.8 311.0 198.8 309.0 199.0 306.7 198.2Z M311.7 191.4 313.7 192.2 315.6 193.9 316.2 195.5 315.4 194.7 313.7 193.0 311.7 192.0Z M249.0 147.8 251.3 148.0 252.5 148.0 253.2 150.9 252.1 152.9 251.1 155.0 251.5 156.7 254.2 157.1 256.3 158.1 256.5 160.0 254.8 159.1 253.2 158.1 251.7 157.5 250.1 157.7 249.2 156.7 249.9 155.8 248.6 155.4 247.8 153.3 248.6 152.7 248.8 149.8Z M252.3 171.7 254.8 170.5 255.2 168.2 257.3 168.2 259.4 167.0 259.4 165.7 261.0 167.8 261.6 170.9 260.8 173.0 259.8 171.9 259.2 174.4 257.3 173.6 256.3 171.9 255.2 170.7 253.2 170.9Z M256.9 160.2 259.0 160.2 259.8 162.9 258.7 164.7 257.9 164.9 257.7 163.3 257.1 162.2Z M252.1 161.6 254.2 162.2 254.6 164.3 255.2 166.8 254.2 167.0 253.4 165.5 252.1 164.3Z M242.2 168.6 243.9 167.0 246.6 164.5 247.4 162.6 246.3 164.1 244.5 165.7 242.4 167.8Z M248.6 158.3 250.5 158.3 251.1 160.0 250.3 160.8 249.7 159.5Z M250.1 133.9 252.1 134.3 251.1 137.4 249.9 140.5 248.4 138.9 248.4 137.4 249.7 135.2Z M224.6 146.1 226.7 144.5 229.4 144.9 228.4 147.1 226.5 148.4 224.6 147.6Z M291.2 100.2 292.4 102.3 293.5 104.2 291.4 106.8 291.4 109.5 291.2 112.2 289.3 113.7 288.9 112.4 288.7 113.3 287.1 114.3 285.6 114.5 283.1 114.5 282.9 115.1 280.7 116.8 279.4 114.9 278.0 114.3 275.9 114.9 273.8 115.1 270.7 115.7 270.5 115.7 271.4 114.7 273.8 112.8 275.9 112.6 278.0 112.4 280.0 112.4 281.1 112.2 282.5 109.9 283.8 108.5 283.1 109.9 283.8 109.9 287.3 107.5 288.9 105.4 289.3 103.7 289.1 102.1 290.0 100.9Z M289.3 100.2 290.8 99.6 291.4 98.6 293.5 98.2 296.2 99.2 298.4 97.1 301.1 96.5 300.3 94.4 298.2 95.1 295.5 93.8 293.1 92.0 292.8 94.0 292.6 95.3 292.0 96.5 290.2 96.5 289.1 98.2Z M270.5 115.9 272.2 116.6 272.8 117.8 272.2 118.8 271.8 120.1 270.9 121.3 270.1 121.9 269.1 121.3 269.1 119.5 268.3 118.4 267.8 117.2 269.5 116.6Z M273.8 115.7 276.9 114.9 278.4 116.1 277.3 117.2 275.9 116.8 274.9 118.4 273.6 117.4Z M293.5 73.8 294.9 73.6 295.5 75.8 296.2 78.5 295.9 81.6 297.6 84.1 299.0 85.1 295.5 84.7 294.5 87.2 296.2 89.3 296.6 90.5 294.9 89.7 293.5 91.1 293.5 87.8 293.9 84.7 293.7 81.6 293.1 79.2 293.1 75.8Z M25.6 107.5 27.5 107.1 32.2 106.8 31.4 108.9 31.2 110.2 29.6 109.9 26.7 108.3Z M16.9 101.5 19.0 100.6 20.3 102.3 19.8 105.0 18.6 105.4 17.4 105.0 17.4 102.7Z M17.8 98.4 19.4 97.1 19.6 99.2 19.0 100.4 18.0 99.6Z M48.6 112.6 50.6 112.8 54.4 113.0 54.1 113.7 51.0 113.9 48.6 113.3Z M66.8 113.7 68.2 112.8 71.5 112.2 70.3 113.7 68.2 114.5 67.0 114.3Z M294.5 208.1 296.6 211.8 296.6 214.9 300.3 218.0 301.3 220.9 302.4 224.9 303.4 225.9 306.9 227.7 308.3 229.6 311.0 232.5 311.7 234.4 313.7 236.0 315.0 237.5 316.6 237.7 316.4 240.8 316.6 242.8 317.4 245.1 316.2 249.0 316.0 250.9 313.7 254.0 312.7 256.1 311.7 258.3 310.4 260.8 310.0 263.5 305.9 264.3 302.6 266.8 299.7 265.2 298.6 265.2 296.6 266.2 292.6 265.4 290.2 264.5 288.7 262.5 287.9 260.0 285.4 259.6 286.2 257.9 285.2 256.7 284.6 258.7 282.9 259.0 284.2 256.3 284.8 253.4 283.5 255.6 281.9 256.9 280.9 258.1 279.4 257.3 278.4 254.6 276.1 252.3 273.2 252.1 271.1 251.1 266.6 251.3 263.5 252.5 260.4 252.8 257.3 254.2 255.2 256.1 251.9 256.1 248.0 256.3 243.9 258.3 240.8 258.3 237.9 257.1 237.7 255.4 238.9 254.8 239.1 252.1 238.3 250.1 237.7 248.0 236.8 245.5 236.0 242.8 234.6 240.1 234.4 236.6 235.2 233.5 235.8 231.1 236.6 232.3 237.9 230.6 241.4 228.6 245.1 228.0 248.0 227.1 251.1 224.9 252.5 223.2 252.5 221.1 254.2 219.9 255.4 221.8 257.3 219.1 259.4 216.0 262.3 214.3 264.5 216.6 264.9 217.0 267.6 216.8 267.8 214.9 269.3 212.9 270.3 211.6 271.8 211.2 273.8 210.8 274.0 209.6 275.9 210.4 279.0 211.2 282.1 210.8 282.9 211.4 282.1 213.5 280.9 215.3 280.0 217.0 282.1 218.7 284.2 219.5 287.3 221.1 289.3 222.6 291.0 222.2 292.2 219.1 292.6 216.0 292.8 212.9 293.1 212.0 293.5 209.8Z M299.0 270.1 302.8 270.9 306.3 270.3 306.5 272.8 305.7 275.3 303.4 276.1 301.7 275.9 300.3 273.8 299.0 271.1Z M356.9 257.1 358.6 258.3 360.6 260.4 361.3 262.1 362.7 261.4 363.7 263.7 368.9 263.9 367.9 266.0 367.7 266.8 365.8 267.6 365.6 269.3 362.3 272.0 361.3 271.4 361.9 269.7 361.7 268.7 359.6 267.8 359.2 267.2 359.8 266.6 360.8 265.2 361.3 263.5 360.2 261.4 358.2 259.0Z M356.9 269.7 357.7 271.1 360.0 270.7 360.2 272.2 359.0 273.6 357.5 275.3 357.7 276.5 355.5 276.9 354.0 277.8 353.4 279.4 352.8 280.9 350.9 282.1 347.8 282.3 346.2 281.5 344.1 281.1 344.1 280.0 345.8 278.6 346.8 278.0 348.2 276.9 349.3 276.5 351.7 275.3 353.4 274.2 354.6 272.4 355.7 270.5Z M338.9 227.5 341.0 228.6 344.1 231.1 345.1 232.3 343.7 232.1 341.0 230.4 339.3 228.6Z M366.4 222.0 368.5 221.8 369.3 223.2 367.5 223.8 366.2 223.0Z M323.4 199.8 326.5 201.5 330.3 203.6 332.7 205.6 331.7 206.3 328.6 204.2 325.5 202.5 323.2 200.7Z M142.2 286.6 145.7 286.9 145.7 288.5 142.6 288.7Z M697.5 53.7 697.1 54.1 702.0 54.8 704.7 55.0 709.9 54.1 713.0 53.1 715.9 51.7 714.0 49.6 713.8 48.8 710.9 48.6 706.8 49.2 702.0 49.4 699.6 50.6 697.5 48.8 694.4 50.0 693.4 50.6 698.5 50.8 694.4 51.9 698.5 52.9Z M583.0 171.1 582.0 169.5 580.7 167.4 579.7 167.6 578.0 168.8 577.6 170.7 575.6 170.3 572.9 169.1 571.2 168.4 569.0 166.2 568.1 166.2 566.7 164.9 566.9 163.3 565.2 161.6 563.2 159.3 561.1 158.7 558.0 157.7 554.9 157.1 553.2 155.8 550.8 153.3 547.7 152.5 544.6 153.6 540.4 152.3 537.5 151.3 533.8 149.4 532.8 148.8 530.1 148.0 528.2 146.5 525.6 143.8 526.4 143.2 526.0 141.4 524.1 138.1 521.2 135.4 518.3 133.1 514.6 128.3 512.1 126.1 510.5 122.3 507.0 120.5 507.0 123.0 509.4 126.1 511.5 129.0 513.6 131.9 515.6 135.4 516.0 136.0 516.9 138.7 515.6 137.4 512.5 134.7 511.9 132.3 509.0 130.6 506.3 128.5 508.0 126.9 504.7 123.4 502.8 120.3 501.8 118.4 499.3 115.9 495.0 114.7 493.9 112.6 492.1 110.4 490.8 107.9 488.4 105.6 486.9 102.5 487.3 99.6 486.7 97.5 487.7 94.0 487.7 90.5 486.3 86.0 489.8 86.4 489.4 84.1 486.1 82.7 481.5 80.6 479.5 78.1 474.7 73.8 472.2 71.3 468.1 68.2 464.0 65.7 461.5 65.5 455.3 63.0 450.5 62.0 445.4 62.0 442.3 60.6 438.1 60.3 435.0 62.4 430.5 63.7 430.9 61.0 434.0 59.5 429.9 61.0 426.8 63.4 425.1 65.7 420.6 68.2 416.4 70.3 411.3 71.7 407.1 73.0 403.4 73.4 408.2 70.7 412.3 70.3 416.4 68.2 418.5 64.7 415.4 64.9 409.2 64.9 409.2 62.0 405.1 61.0 402.4 61.0 400.9 58.7 403.0 56.4 403.4 55.4 411.3 54.8 411.3 52.7 407.1 52.7 402.2 52.7 399.9 52.3 396.8 50.4 405.1 48.6 409.2 49.2 406.1 47.5 399.3 44.8 400.5 43.6 407.1 41.7 409.4 40.7 420.4 38.4 427.8 39.5 434.0 40.3 438.1 40.7 446.4 41.3 452.6 42.2 460.9 43.4 465.0 42.4 469.1 42.4 476.4 40.9 479.5 40.3 485.7 41.3 486.7 42.8 493.9 41.7 502.2 43.4 506.3 44.8 508.4 45.9 516.7 45.7 519.8 44.6 520.8 47.5 524.9 44.4 533.2 45.5 540.4 45.5 542.5 43.4 545.6 44.4 547.7 42.4 544.6 38.6 548.7 37.2 552.8 39.3 553.9 41.7 557.0 44.4 562.1 43.8 567.3 41.7 574.5 42.0 576.0 43.8 574.5 47.5 571.4 49.2 565.6 48.6 564.2 51.0 561.1 52.7 558.0 53.7 555.9 54.8 553.9 56.2 550.8 58.3 549.5 59.7 549.3 64.5 552.2 67.0 552.8 68.2 558.0 67.6 562.1 69.2 568.3 71.3 573.9 71.9 573.9 74.4 574.1 76.5 575.6 77.9 577.6 80.0 579.7 80.0 581.1 77.5 580.7 74.4 579.7 72.7 583.8 71.3 585.5 68.2 583.8 65.1 582.2 64.1 582.8 63.0 584.2 61.0 582.8 57.5 583.0 56.8 588.0 57.2 592.1 57.9 595.2 59.1 596.2 59.9 599.3 59.9 600.2 62.0 600.4 64.1 602.8 65.3 606.6 64.5 608.6 63.0 610.7 61.2 612.8 64.1 615.2 66.5 616.9 69.2 619.4 71.3 623.1 72.7 625.6 74.4 625.2 75.0 628.3 76.9 628.7 78.5 626.2 79.8 623.1 80.2 620.0 82.0 606.8 82.3 604.9 83.9 602.4 85.1 600.0 86.6 597.3 89.1 599.3 88.2 602.4 86.0 604.5 84.9 611.1 84.9 610.1 86.8 607.0 86.8 609.7 87.8 610.1 88.9 610.7 90.3 612.1 90.9 614.8 91.6 616.9 91.6 619.0 88.9 620.4 90.9 617.9 92.4 612.8 93.8 609.7 95.7 608.4 96.3 607.2 95.5 608.0 93.8 610.7 92.4 610.1 91.6 607.6 92.6 605.5 93.4 602.8 94.4 601.0 95.1 598.9 95.9 597.9 97.1 598.1 97.8 597.3 98.6 599.3 99.2 599.3 99.8 597.3 100.2 595.2 100.6 591.1 102.1 591.1 104.0 589.2 105.4 588.0 104.4 588.8 106.4 588.4 107.5 587.1 109.3 586.3 107.5 585.9 105.0 586.1 108.9 586.9 109.7 588.0 113.3 585.9 114.5 583.0 115.7 582.8 115.9 580.7 117.2 578.9 118.4 576.6 119.9 575.8 123.4 577.6 127.1 578.7 130.6 578.5 132.7 577.8 133.9 576.6 134.1 574.9 132.3 574.1 131.0 572.9 128.5 573.1 126.3 572.5 125.9 570.4 123.8 567.7 124.6 566.9 123.8 563.8 123.4 562.1 123.4 560.1 123.4 559.0 124.0 559.7 125.7 559.2 126.1 558.0 125.9 555.9 125.7 554.3 124.8 551.8 124.6 548.1 125.4 546.0 126.7 543.1 128.8 542.7 131.2 543.1 132.5 542.1 135.4 541.9 139.9 542.9 142.6 545.4 146.3 546.6 147.4 548.9 148.4 551.8 148.0 553.9 147.6 557.0 145.1 557.2 142.6 560.1 142.0 563.2 141.6 564.2 141.6 564.6 142.4 563.4 144.3 563.2 146.1 562.1 147.8 561.7 149.8 561.5 151.9 560.5 153.1 562.1 153.6 564.6 153.3 566.3 152.9 568.3 153.1 570.4 153.3 572.1 155.0 571.6 157.1 571.4 159.1 571.0 161.2 571.0 163.5 572.5 165.3 574.1 167.0 575.6 167.8 577.0 167.6 578.9 166.6 580.7 166.2 582.8 166.8 584.0 168.0 M584.0 168.0 585.3 169.5 586.3 167.6 587.8 166.2 588.0 164.5 589.4 163.1 590.7 162.6 593.1 162.2 595.8 160.4 597.1 160.8 596.6 161.6 595.4 162.9 596.0 163.5 597.3 163.3 598.7 162.0 599.3 160.8 599.7 162.2 602.4 162.6 603.5 164.3 605.5 164.1 607.6 164.1 609.3 164.9 611.3 164.3 614.2 163.9 616.1 163.9 614.8 164.9 617.9 166.4 617.9 168.4 620.0 168.4 622.1 169.5 623.7 171.9 625.8 173.6 629.9 173.8 632.4 174.0 635.9 175.9 638.0 177.3 638.8 179.8 640.7 182.3 640.7 185.0 638.6 186.0 639.6 187.0 641.7 185.6 643.8 186.4 644.2 188.1 643.8 188.9 645.8 187.4 648.9 188.1 651.0 189.1 652.4 191.2 654.1 191.0 657.2 191.8 659.3 192.0 661.3 191.8 664.4 193.6 666.5 195.5 668.6 196.5 670.6 196.7 671.3 198.0 672.1 200.7 671.9 202.7 670.2 206.0 667.5 208.5 664.4 212.9 663.4 216.6 663.4 220.1 663.0 222.6 662.0 225.3 660.7 228.0 659.3 230.4 659.3 231.5 657.2 233.3 654.7 233.5 652.0 233.9 648.3 235.6 645.8 237.3 643.8 238.7 643.8 243.0 643.4 244.9 641.3 246.6 640.0 249.0 638.6 250.7 636.3 252.3 633.6 255.6 632.8 257.1 630.5 258.1 627.9 258.1 624.5 257.3 623.3 257.5 625.8 259.4 625.8 261.0 626.8 261.2 625.2 264.5 622.7 265.8 619.0 266.4 615.2 266.2 615.5 268.7 615.2 270.3 613.8 270.9 609.7 270.7 609.7 272.8 612.4 273.8 611.1 274.7 609.7 275.5 609.0 278.0 608.4 279.0 604.5 280.9 604.5 282.1 606.6 283.1 607.8 284.8 606.6 286.2 604.3 287.9 602.4 289.7 601.4 291.4 601.4 292.6 602.6 294.1 600.4 294.5 597.7 295.1 597.5 295.9 596.6 297.4 594.2 296.6 592.1 295.5 590.0 294.1 589.0 291.4 588.4 289.3 588.0 286.2 590.0 284.2 588.0 282.5 590.0 280.0 591.5 278.0 591.1 275.7 590.7 272.8 591.5 270.7 592.3 268.5 592.1 265.6 591.9 262.9 592.9 261.8 593.8 259.4 595.2 257.3 596.0 254.2 596.2 252.1 596.0 250.1 596.6 247.8 596.2 244.9 597.7 241.8 597.9 238.7 598.5 234.8 598.9 231.5 599.1 227.7 598.7 224.2 596.6 222.4 594.2 220.5 591.1 219.1 588.6 217.8 586.3 214.7 585.9 212.9 584.7 210.8 583.4 208.7 581.6 204.8 580.7 202.7 579.1 200.9 577.4 199.0 576.4 198.4 576.2 196.5 576.0 195.7 576.8 194.3 577.8 193.2 578.7 192.2 578.9 191.0 578.0 191.6 576.6 190.5 576.8 188.1 577.6 186.8 578.5 185.8 579.3 183.9 580.9 183.3 581.1 182.3 582.0 180.8 583.4 180.6 584.7 177.9 583.8 176.7 584.2 174.6 583.8 174.6 584.0 172.6 583.0 171.1 M602.2 294.7 602.8 295.9 604.5 297.6 606.6 298.6 609.3 298.8 606.6 299.7 604.9 301.5 603.5 300.7 600.4 300.3 597.3 299.3 595.2 298.2 597.3 297.6 598.7 296.6 599.3 296.6 600.8 295.1Z M617.9 293.1 620.0 292.0 624.1 292.2 624.8 292.8 623.1 293.9 619.0 294.1Z M665.5 297.6 668.6 298.0 670.0 299.0 668.6 299.3 666.1 298.2Z M653.1 62.4 648.9 60.3 644.8 59.9 640.7 57.9 637.2 53.3 634.5 49.6 633.0 47.5 638.6 43.4 632.4 42.4 631.4 40.3 636.5 39.3 628.3 35.5 626.2 32.0 620.0 29.3 613.8 28.5 606.6 28.9 601.4 27.9 597.3 26.2 593.1 24.4 603.5 22.7 609.7 20.7 605.5 19.6 615.9 18.2 620.0 16.5 636.5 15.9 648.9 14.9 661.3 13.6 675.8 13.2 688.2 13.8 698.5 15.5 702.7 16.5 692.3 17.6 708.9 17.6 719.2 17.6 710.9 19.6 706.8 20.7 708.9 22.7 704.7 24.8 706.8 26.9 702.7 28.9 704.7 31.0 702.7 32.4 699.6 34.1 698.5 36.6 698.5 40.3 694.4 40.9 697.5 41.3 692.3 43.4 688.2 44.4 682.0 45.3 677.9 46.5 673.7 48.6 669.6 49.8 666.5 50.4 661.3 51.7 660.3 53.7 657.2 56.2 656.2 58.9 655.1 61.0Z M568.5 140.7 570.4 139.1 573.7 138.3 577.6 138.5 580.7 139.7 583.8 141.2 587.6 142.6 590.7 144.3 589.0 144.9 587.3 144.7 583.4 145.1 584.5 143.4 581.8 142.6 579.7 141.2 577.6 140.3 574.5 139.7 571.4 140.1Z M590.2 148.2 593.5 148.0 594.4 147.6 593.5 146.7 592.3 145.3 595.2 144.9 598.3 145.1 599.5 145.7 601.0 146.1 602.6 147.6 602.0 148.4 599.3 148.0 597.3 148.4 596.2 149.4 595.2 148.4 592.1 148.4Z M582.2 148.0 584.9 147.8 586.5 148.8 584.9 149.2 582.4 148.6Z M605.1 147.8 608.2 148.0 608.0 148.8 605.1 148.8Z M621.4 87.6 623.1 85.8 624.1 83.7 625.2 81.6 626.6 80.0 629.3 79.4 628.3 81.6 626.6 83.1 629.3 82.9 632.4 83.7 634.5 85.4 633.4 87.2 635.1 87.6 634.3 89.5 632.4 89.3 632.0 87.8 629.3 89.1 628.3 87.6 625.2 87.6Z M488.8 86.0 485.7 85.4 482.6 83.7 479.5 81.6 478.8 81.0 481.5 81.0 485.0 82.5 487.7 84.3Z M472.9 78.1 470.6 76.5 469.1 74.2 471.6 74.4 471.8 76.5Z M424.7 67.8 426.8 68.0 429.5 67.0 428.8 65.7 426.8 66.1Z M609.7 58.3 607.6 57.2 602.4 54.4 605.5 56.2 599.3 56.4 595.2 54.6 585.9 53.3 582.8 52.5 584.9 51.0 591.1 50.6 592.1 48.6 593.1 46.5 594.2 44.4 589.0 43.4 584.9 41.7 580.7 41.3 576.6 41.7 570.4 41.3 566.3 40.3 562.1 39.3 559.0 36.2 560.1 33.7 566.3 33.5 568.3 35.1 574.5 33.7 577.6 33.9 584.9 35.8 589.0 36.6 595.2 38.2 602.4 40.7 605.5 42.8 603.5 44.2 611.7 46.5 616.9 48.2 613.8 50.4 608.6 49.6 604.5 48.8 607.6 52.1 611.7 54.1 608.6 56.2Z M498.1 38.2 501.2 40.3 506.3 42.8 510.5 44.4 518.7 44.0 527.0 43.6 533.2 43.0 535.3 41.3 531.1 39.3 527.0 36.2 520.8 34.7 514.6 35.8 508.4 34.7 501.2 35.1 498.1 37.2Z M484.6 37.2 488.8 38.9 495.0 38.2 498.1 36.2 504.3 34.1 504.3 32.7 492.9 32.0 486.7 32.4 485.7 35.1Z M502.2 30.6 510.5 32.0 518.7 31.4 524.9 31.0 524.9 28.9 518.7 27.5 510.5 28.3 504.3 28.1 501.2 29.3Z M533.2 37.2 539.4 38.2 544.6 36.2 543.5 34.1 539.4 33.1 534.2 34.1 533.2 35.5Z M546.6 36.8 551.8 37.2 557.0 35.1 555.9 33.1 549.7 32.7 546.0 34.1Z M545.6 30.0 553.9 31.4 562.1 31.8 570.4 32.0 578.7 31.6 578.7 30.0 570.4 29.3 562.1 28.1 553.9 27.3 545.6 27.9Z M558.0 27.9 568.3 28.3 578.7 28.5 582.8 26.9 584.9 24.8 589.0 22.7 595.2 21.3 603.5 19.0 611.7 17.6 615.9 15.5 603.5 14.5 586.9 14.3 574.5 14.9 562.1 15.9 553.9 17.6 562.1 19.6 566.3 21.7 562.1 23.8 562.1 25.8 558.0 26.9Z M547.7 23.8 553.9 24.4 562.1 23.8 562.1 21.7 558.0 19.6 551.8 18.2 545.6 20.0 547.7 22.1Z M535.3 30.6 541.5 31.0 542.5 28.9 539.4 27.5 534.2 28.5Z M489.8 28.9 498.1 29.3 504.3 26.9 500.1 25.8 493.9 26.9Z M564.2 51.7 568.3 50.0 571.4 50.0 575.6 52.7 578.0 54.4 574.5 54.6 571.4 53.7 568.3 55.2 564.2 54.6 566.3 52.7Z M538.4 43.0 541.5 41.7 545.6 42.8 545.6 44.2 541.5 44.4Z M421.6 145.7 423.5 144.3 424.1 145.7 422.4 146.9Z M420.2 142.8 421.6 142.8 421.2 143.4Z M417.1 141.4 418.1 141.6 417.5 142.0Z M414.0 140.1 414.8 140.3 414.4 140.7Z M-372.0 360.6 -353.4 359.2 -334.8 362.1 -305.9 362.5 -295.5 361.5 -316.2 358.6 -316.2 355.5 -324.5 353.8 -303.8 352.0 -305.9 349.7 -319.3 349.1 -326.5 346.8 -326.5 345.3 -300.7 341.6 -280.0 339.6 -262.5 338.1 -248.0 338.5 -236.4 338.7 -221.8 341.2 -207.3 341.2 -212.9 336.7 -196.3 337.3 -184.8 336.7 -171.5 337.5 -158.3 338.1 -148.8 337.7 -139.5 335.8 -138.5 330.7 -140.1 329.4 -138.1 324.3 -127.7 319.9 -117.6 317.0 -129.2 322.0 -135.2 326.3 -127.7 332.3 -124.8 337.3 -132.3 341.0 -148.2 343.3 -159.1 345.3 -161.2 349.1 -152.5 352.6 -135.2 354.8 -120.5 358.2 -105.8 355.7 -88.5 355.7 -72.3 353.8 -59.3 352.0 -62.2 349.7 -73.8 349.1 -70.9 346.8 -50.4 342.4 -33.1 339.6 -31.4 337.3 -21.3 333.8 -10.3 332.9 0.0 330.3 10.3 331.1 20.7 330.7 31.0 330.0 41.3 330.9 51.7 330.9 62.0 329.0 68.2 328.0 78.5 330.3 82.7 328.6 93.0 325.9 103.3 323.4 113.7 322.4 117.8 324.1 124.0 325.1 134.3 325.9 140.5 326.1 144.7 327.6 148.8 329.6 152.9 330.3 157.1 329.2 161.2 327.2 165.3 326.1 175.7 324.1 186.0 323.8 196.3 323.4 206.7 322.0 217.0 323.0 227.3 322.4 237.7 323.4 248.0 324.1 258.3 323.0 268.7 322.4 279.0 322.4 289.3 323.8 299.7 324.5 310.0 327.2 320.3 328.6 330.7 330.7 341.0 332.1 352.4 333.8 347.2 337.9 341.0 341.0 337.9 345.1 341.0 348.2 332.7 352.4 336.9 356.5 355.5 359.2 372.0 360.6 M372.0 360.6 390.6 359.2 409.2 362.1 438.1 362.5 448.5 361.5 427.8 358.6 427.8 355.5 419.5 353.8 440.2 352.0 438.1 349.7 424.7 349.1 417.5 346.8 417.5 345.3 443.3 341.6 464.0 339.6 481.5 338.1 496.0 338.5 507.6 338.7 522.2 341.2 536.7 341.2 531.1 336.7 547.7 337.3 559.2 336.7 572.5 337.5 585.7 338.1 595.2 337.7 604.5 335.8 605.5 330.7 603.9 329.4 605.9 324.3 616.3 319.9 626.4 317.0 614.8 322.0 608.8 326.3 616.3 332.3 619.2 337.3 611.7 341.0 595.8 343.3 584.9 345.3 582.8 349.1 591.5 352.6 608.8 354.8 623.5 358.2 638.2 355.7 655.5 355.7 671.7 353.8 684.7 352.0 681.8 349.7 670.2 349.1 673.1 346.8 693.6 342.4 710.9 339.6 712.6 337.3 722.7 333.8 733.7 332.9 744.0 330.3 754.3 331.1 764.7 330.7 775.0 330.0 785.3 330.9 795.7 330.9 806.0 329.0 812.2 328.0 822.5 330.3 826.7 328.6 837.0 325.9 847.3 323.4 857.7 322.4 861.8 324.1 868.0 325.1 878.3 325.9 884.5 326.1 888.7 327.6 892.8 329.6 896.9 330.3 901.1 329.2 905.2 327.2 909.3 326.1 919.7 324.1 930.0 323.8 940.3 323.4 950.7 322.0 961.0 323.0 971.3 322.4 981.7 323.4 992.0 324.1 1002.3 323.0 1012.7 322.4 1023.0 322.4 1033.3 323.8 1043.7 324.5 1054.0 327.2 1064.3 328.6 1074.7 330.7 1085.0 332.1 1096.4 333.8 1091.2 337.9 1085.0 341.0 1081.9 345.1 1085.0 348.2 1076.7 352.4 1080.9 356.5 1099.5 359.2 1116.0 360.6 M589.0 333.8 593.1 328.6 600.4 329.2 603.5 332.7 601.4 336.5 593.1 336.9Z M633.0 350.3 644.8 347.0 655.1 348.2 654.1 352.0 642.7 353.6 634.5 352.4Z M405.1 349.3 411.3 347.8 414.4 349.7 409.2 350.5Z M99.2 90.9 103.3 89.3 106.4 89.1 109.5 89.9 109.5 92.4 106.4 93.0 105.4 94.0 105.8 95.9 108.5 98.2 109.5 100.2 109.1 102.3 109.5 103.3 111.2 105.4 111.2 108.5 109.5 109.7 105.4 110.2 103.3 108.9 101.3 108.3 100.9 106.4 101.9 104.8 104.0 102.7 102.3 101.3 100.2 99.2 98.2 97.1 97.8 95.1 96.7 93.4 98.2 92.0Z" fill="none" stroke="#000" stroke-width="0.80" stroke-linejoin="round"/></g></g>
<g stroke="#000" stroke-width="2.08"><rect x="256.00" y="624.10" width="744.00" height="372.00" fill="none" stroke="#000" stroke-width="1.9"/><line x1="256.00" y1="996.10" x2="256.00" y2="1003.10"/><line x1="256.00" y1="624.10" x2="249.00" y2="624.10"/><line x1="380.00" y1="996.10" x2="380.00" y2="1003.10"/><line x1="256.00" y1="686.10" x2="249.00" y2="686.10"/><line x1="504.00" y1="996.10" x2="504.00" y2="1003.10"/><line x1="256.00" y1="748.10" x2="249.00" y2="748.10"/><line x1="628.00" y1="996.10" x2="628.00" y2="1003.10"/><line x1="256.00" y1="810.10" x2="249.00" y2="810.10"/><line x1="752.00" y1="996.10" x2="752.00" y2="1003.10"/><line x1="256.00" y1="872.10" x2="249.00" y2="872.10"/><line x1="876.00" y1="996.10" x2="876.00" y2="1003.10"/><line x1="256.00" y1="934.10" x2="249.00" y2="934.10"/><line x1="1000.00" y1="996.10" x2="1000.00" y2="1003.10"/><line x1="256.00" y1="996.10" x2="249.00" y2="996.10"/></g>
<text transform="translate(241.33 1022.85) scale(1.0135 1)" font-size="16.97" fill="#000">0°E</text><text transform="translate(360.10 1022.85) scale(1.0457 1)" font-size="16.97" fill="#000">60°E</text><text transform="translate(479.62 1022.85) scale(1.0701 1)" font-size="16.97" fill="#000">120°E</text><text transform="translate(609.62 1022.85) scale(1.0676 1)" font-size="16.97" fill="#000">180°</text><text transform="translate(724.62 1022.85) scale(1.0652 1)" font-size="16.97" fill="#000">120°W</text><text transform="translate(853.09 1022.85) scale(1.0552 1)" font-size="16.97" fill="#000">60°W</text><text transform="translate(983.31 1022.85) scale(1.0471 1)" font-size="16.97" fill="#000">0°W</text><text transform="translate(199.13 630.05) scale(1.0915 1)" font-size="16.97" fill="#000">90°N</text><text transform="translate(199.07 692.05) scale(1.0795 1)" font-size="16.97" fill="#000">60°N</text><text transform="translate(199.31 754.05) scale(1.0730 1)" font-size="16.97" fill="#000">30°N</text><text transform="translate(222.32 816.05) scale(1.0317 1)" font-size="16.97" fill="#000">0°</text><text transform="translate(201.33 878.05) scale(1.0408 1)" font-size="16.97" fill="#000">30°S</text><text transform="translate(201.10 940.05) scale(1.0471 1)" font-size="16.97" fill="#000">60°S</text><text transform="translate(201.16 1002.05) scale(1.0593 1)" font-size="16.97" fill="#000">90°S</text>
<clipPath id="axc2"><rect x="256.00" y="1094.20" width="744.00" height="372.00"/></clipPath>
<g clip-path="url(#axc2)"><g transform="translate(256.00 1094.20)">
<g fill-rule="evenodd"><rect x="-2" y="-2" width="748" height="376" fill="#9DAEF8"/><path d="M0.0 0.0 744.0 0.0 744.0 372.0 0.0 372.0ZM26.9 214.6 20.7 217.0 20.8 219.1 25.8 221.1 31.0 221.7 33.7 221.1 35.9 219.1 36.2 217.0 35.1 214.7 33.1 213.9 31.0 213.8ZM671.7 150.5 669.9 150.9 669.2 152.9 671.7 153.5 674.2 152.9 674.2 150.9Z" fill="#BCC8FA"/><path d="M0.0 0.0 744.0 0.0 744.0 193.5 739.9 192.9 733.7 193.1 726.4 194.3 723.3 196.3 727.5 197.5 732.8 202.5 735.1 206.7 738.8 217.0 741.5 221.1 744.0 223.6 744.0 372.0 0.0 372.0 0.0 223.6 4.1 225.8 8.3 226.7 31.0 228.5 35.1 228.4 38.8 227.3 41.4 225.3 43.6 221.1 44.3 214.9 43.3 208.7 41.3 204.6 39.3 202.7 37.2 201.9 33.1 202.1 22.7 206.3 18.6 206.5 14.1 204.6 6.5 196.3 0.0 193.5ZM159.1 185.4 157.9 186.0 161.9 188.1 165.3 188.6 175.7 189.2 180.3 188.1 178.4 186.0 169.5 184.5 163.3 184.4ZM384.4 140.3 377.4 142.6 374.2 144.7 372.6 146.7 372.0 148.8 372.6 150.9 374.6 152.9 380.3 155.0 388.5 155.6 397.9 155.0 403.1 152.9 402.7 150.9 396.8 142.9 394.7 141.2 390.6 139.9ZM473.3 196.2 469.1 198.4 468.0 200.5 468.4 204.6 471.2 209.0 473.3 210.8 477.4 212.8 485.7 214.6 496.0 214.5 502.2 212.5 504.1 210.8 505.0 208.7 504.7 204.6 503.5 202.5 500.1 199.7 496.0 197.6 489.8 195.8 485.7 195.3 479.5 195.2ZM518.7 92.5 512.5 94.9 498.1 102.1 489.8 108.2 479.7 113.7 477.3 115.7 476.4 117.8 476.3 126.1 475.5 132.3 475.5 136.4 478.1 144.7 479.5 146.7 481.5 148.3 487.7 150.0 493.9 150.0 498.1 149.4 504.3 146.9 508.8 142.6 509.8 140.5 509.3 138.5 502.2 132.8 500.1 129.7 499.2 124.0 500.1 119.8 501.1 117.8 504.3 114.8 514.3 109.5 516.8 107.5 520.8 102.9 532.1 95.1 531.8 93.0 529.1 92.2 524.9 91.8ZM578.7 223.2 574.5 224.1 571.8 225.3 572.1 227.3 578.7 228.3 585.2 227.3 586.1 225.3 582.8 223.8ZM584.9 97.0 583.4 99.2 584.1 101.3 586.2 103.3 591.1 104.8 595.2 105.4 601.4 105.4 607.6 104.2 609.8 103.3 611.7 101.3 612.5 99.2 611.1 97.1 607.6 96.5 591.1 96.1ZM626.2 88.8 621.7 90.9 620.0 93.0 622.1 94.3 624.1 94.7 632.4 94.5 638.3 93.0 639.2 90.9 637.0 88.9 634.5 88.1 630.3 88.0ZM661.3 140.5 640.7 144.2 633.6 146.7 631.9 148.8 631.5 150.9 632.4 154.8 633.6 157.1 636.5 158.8 651.0 160.8 663.4 163.7 669.6 164.0 675.8 163.1 680.8 161.2 684.1 158.5 690.4 144.7 690.2 142.6 688.2 140.7 682.0 138.8 673.7 138.6ZM651.0 241.8 646.9 242.4 642.7 244.7 640.7 248.0 640.2 250.1 641.3 252.1 644.8 253.0 651.0 252.4 664.1 250.1 669.1 248.0 669.0 245.9 665.6 243.9 657.2 242.0ZM682.0 189.6 677.9 191.7 674.8 194.3 673.7 196.3 675.1 198.4 683.6 200.5 696.5 200.6 706.8 199.5 723.3 196.3 722.1 194.3 713.2 192.2 690.3 188.8 686.1 188.8Z" fill="#DCE2FC"/><path d="M0.0 0.0 744.0 0.0 744.0 74.7 740.6 76.5 738.3 78.5 736.9 80.6 736.5 82.7 737.1 84.7 737.8 85.4 739.9 86.5 744.0 87.1 744.0 182.9 729.5 182.5 713.0 184.6 704.7 184.8 698.5 183.7 682.2 177.7 682.0 175.7 683.4 173.6 690.3 167.7 691.6 165.3 691.9 157.1 693.4 152.9 694.9 150.9 698.5 148.0 702.7 146.1 719.2 143.2 720.6 142.6 721.6 140.5 720.4 138.5 717.5 136.4 710.9 133.3 708.9 131.7 706.8 128.9 704.5 124.0 702.7 122.1 700.6 121.4 696.1 121.9 692.7 124.0 688.2 127.9 684.1 129.5 665.5 131.1 651.6 136.4 629.2 142.6 626.2 143.9 624.7 144.7 623.1 146.7 623.4 155.0 622.4 157.1 617.2 163.3 616.4 165.3 616.5 167.4 617.5 169.5 619.6 171.5 622.1 173.0 628.3 175.0 634.5 176.0 644.8 175.2 663.4 175.8 671.7 176.4 678.8 177.7 679.0 179.8 674.6 186.0 669.5 190.1 660.2 196.3 658.7 198.4 659.3 200.8 661.6 202.5 663.4 203.1 671.7 204.2 686.1 204.7 713.0 204.3 717.2 204.6 721.3 205.6 723.3 206.7 725.5 208.7 730.6 217.0 737.3 225.3 739.9 227.7 744.0 230.3 744.0 372.0 0.0 372.0 0.0 230.3 6.2 231.8 20.7 231.9 33.1 233.2 39.3 232.5 43.4 230.4 45.5 228.2 47.1 225.3 48.3 221.1 49.1 214.9 48.7 202.5 47.5 196.3 45.5 190.1 45.2 188.1 45.8 186.0 49.6 183.2 60.8 179.8 59.4 177.7 57.9 177.5 45.5 176.0 35.1 175.6 31.0 176.2 27.2 177.7 25.5 179.8 24.0 183.9 20.7 186.0 18.2 186.0 8.3 183.9 0.0 182.9 0.0 87.1 8.3 85.8 24.8 79.7 44.7 76.5 49.1 74.4 50.2 72.3 48.7 70.3 45.5 68.1 41.3 66.6 37.2 66.2 14.5 70.3 0.0 74.7ZM82.7 47.5 76.5 48.5 74.6 49.6 75.0 51.7 77.9 53.7 95.1 62.4 101.3 64.0 107.6 64.1 115.9 62.0 117.6 59.9 114.4 57.9 99.2 53.9 88.9 48.7ZM138.5 16.4 134.3 17.0 129.7 18.6 127.6 20.7 128.2 22.7 132.8 24.8 142.6 25.1 148.8 23.6 150.4 22.7 151.7 20.7 150.6 18.6 146.7 16.9ZM314.1 295.4 309.7 297.6 310.0 299.7 314.1 300.6 318.4 299.7 319.5 297.6 318.3 295.8ZM607.6 39.0 603.5 41.8 599.6 47.5 598.0 53.7 598.0 64.1 597.0 66.1 595.2 67.0 578.7 68.2 572.5 69.3 566.3 71.6 558.0 76.3 551.2 78.5 539.4 81.5 522.9 83.9 514.6 85.7 489.8 96.3 485.7 99.2 481.3 103.3 476.7 105.4 473.3 105.8 470.7 105.4 467.1 103.7 460.9 99.5 454.7 98.0 444.3 98.6 436.1 101.0 427.6 105.4 425.2 107.5 422.6 111.6 422.4 115.7 424.0 124.0 422.5 130.2 422.5 132.3 428.6 138.5 429.4 140.5 429.2 142.6 428.2 144.7 425.8 146.7 419.5 148.7 415.4 148.8 411.3 147.8 409.1 146.7 406.7 144.7 405.6 142.6 404.6 136.4 403.0 134.5 398.9 133.5 392.7 133.7 376.1 138.0 369.9 140.5 366.5 142.6 364.1 144.7 361.2 148.8 359.6 152.9 359.6 157.1 361.3 159.1 365.8 161.0 374.1 161.5 420.5 157.1 434.0 155.0 440.5 152.9 443.2 150.9 443.7 148.8 438.3 138.5 437.7 134.3 438.4 132.3 441.9 128.1 444.7 126.1 450.5 123.2 454.7 122.3 458.8 122.9 461.0 124.0 462.7 126.1 465.6 142.6 464.7 150.9 466.1 152.9 471.2 155.4 481.5 157.4 491.9 157.8 500.1 156.8 506.3 154.7 516.9 146.7 525.8 142.6 528.6 140.5 527.6 138.5 523.4 136.4 512.5 133.1 507.1 130.2 505.1 128.1 504.1 126.1 504.3 122.3 505.6 119.9 510.5 116.3 522.4 111.6 533.2 105.1 543.5 102.1 555.9 100.8 564.2 102.0 567.8 103.3 574.5 107.2 578.7 108.2 611.7 107.9 615.9 106.9 622.1 101.6 624.1 100.4 628.3 99.1 640.7 96.9 645.2 95.1 646.6 93.0 646.3 90.9 645.2 88.9 640.7 84.3 635.1 80.6 634.5 79.6 632.4 78.6 630.3 79.1 627.9 80.6 622.1 82.2 617.9 82.8 613.8 81.9 611.7 80.6 610.1 78.5 608.1 74.4 609.2 72.3 613.8 71.9 620.0 72.6 625.2 74.4 629.2 76.5 630.3 77.6 632.4 78.4 634.5 77.3 637.4 74.4 638.8 72.3 638.7 70.3 633.1 64.1 630.6 59.9 628.5 53.7 627.0 43.4 626.3 41.3 624.4 39.3 622.1 38.0 617.9 37.2 611.7 37.7ZM140.5 181.8 128.1 183.5 99.2 185.5 95.9 186.0 92.6 188.1 93.3 190.1 97.1 192.6 102.6 194.3 109.5 194.8 119.2 194.3 132.3 191.7 140.5 190.9 183.9 194.0 190.1 193.0 191.8 192.2 193.3 190.1 193.0 188.1 190.1 185.5 186.6 183.9 176.4 181.9 159.1 180.4 150.9 180.6ZM365.8 181.6 355.3 183.9 353.8 186.0 359.2 188.1 368.4 190.1 380.3 191.7 396.8 191.8 400.9 191.2 404.2 190.1 404.2 188.1 402.3 186.0 398.7 183.9 392.7 182.1 380.3 180.9ZM493.9 173.5 488.8 175.7 487.7 177.1 487.3 183.9 485.7 186.5 483.1 188.1 479.5 189.1 460.9 192.6 457.7 194.3 456.5 196.3 456.6 198.4 461.8 210.8 471.0 225.3 473.1 227.3 483.6 234.3 486.5 237.7 492.1 245.9 496.0 249.7 498.1 250.9 502.2 252.3 508.4 252.6 514.6 252.1 520.8 250.5 524.9 247.6 528.6 239.7 530.1 237.7 533.2 235.6 537.3 234.3 543.5 233.9 562.1 234.9 615.9 232.5 620.0 232.8 622.1 233.9 622.8 235.6 623.0 243.9 625.7 250.1 629.4 254.2 632.8 256.3 636.5 257.5 640.7 258.3 648.3 258.3 663.4 255.3 686.1 253.6 691.3 252.1 690.8 250.1 682.5 243.9 678.5 241.8 663.1 235.6 655.1 230.6 648.9 229.9 632.4 230.8 628.3 230.4 626.5 229.4 625.9 227.3 626.0 225.3 628.1 217.0 628.3 212.9 627.4 210.8 625.3 208.7 620.0 206.7 613.8 206.6 609.7 208.2 607.6 210.7 605.7 214.9 601.4 216.8 597.3 216.9 584.9 215.4 576.6 215.3 570.4 216.2 555.9 219.8 549.7 220.6 541.5 219.8 535.3 217.8 529.1 214.7 524.2 210.8 522.8 208.7 522.3 206.7 522.8 204.6 524.5 202.5 533.9 196.3 535.6 194.3 537.3 189.5 539.4 187.3 543.5 185.7 560.1 184.0 566.3 182.8 568.8 181.9 570.6 179.8 569.0 177.7 563.2 175.7 545.6 173.9 500.1 172.8ZM549.7 121.8 547.1 124.0 548.0 126.1 549.7 126.8 553.9 127.0 555.9 126.5 558.0 124.0 557.0 121.9 555.9 121.3 553.9 121.0ZM599.3 123.5 597.3 124.2 595.2 126.1 594.4 128.1 595.2 130.5 597.3 131.2 601.4 130.5 604.9 128.1 606.3 126.1 605.5 123.9 603.5 123.3ZM512.5 357.2 511.3 357.5 518.7 358.4 524.7 357.5 518.7 356.8Z" fill="#FDFDFD"/><path d="M12.0 14.5 22.7 13.7 31.0 14.8 35.2 16.5 37.1 18.6 37.4 20.7 35.1 23.2 28.9 25.7 20.7 26.8 12.4 26.2 6.2 23.8 4.8 22.7 3.5 20.7 3.9 18.6 6.1 16.5ZM678.8 24.8 686.1 23.8 694.4 23.5 700.6 24.0 706.8 25.6 709.2 26.9 711.4 28.9 712.5 31.0 713.3 37.2 714.7 39.3 717.8 41.3 721.3 42.4 725.4 42.9 729.5 42.5 744.0 37.3 744.0 70.0 737.8 72.9 733.7 76.3 727.5 87.9 723.3 89.8 706.8 90.9 700.6 92.1 688.2 98.0 682.0 99.5 667.5 99.7 659.3 99.4 655.1 98.6 651.6 90.9 646.3 82.7 645.9 80.6 647.3 76.5 653.8 66.1 654.6 64.1 654.5 62.0 652.7 59.9 644.8 56.2 642.1 53.7 639.9 49.6 639.5 45.5 639.8 43.4 640.7 41.3 642.7 39.4 644.8 38.3 655.1 34.7 667.5 27.9ZM58.0 26.9 64.1 26.5 68.2 27.7 70.3 28.9 71.8 31.0 72.1 33.1 71.0 35.1 66.9 37.2 62.0 37.9 57.9 37.8 53.7 36.6 52.2 35.1 51.7 33.1 52.0 31.0 53.7 28.8ZM0.7 37.2 8.3 36.3 18.6 36.5 33.1 38.3 43.4 40.7 47.5 43.4 51.8 51.7 53.7 53.7 66.1 57.4 71.7 59.9 74.7 62.0 77.0 66.1 79.3 68.2 95.1 69.9 107.5 69.9 117.8 68.8 134.3 65.6 144.7 64.9 157.1 65.9 167.4 68.9 175.7 72.9 180.4 76.5 182.9 80.6 183.1 82.7 182.3 88.9 182.5 90.9 183.5 93.0 185.9 95.1 188.1 96.1 198.4 99.4 201.8 101.3 202.9 103.3 203.8 109.5 204.6 111.6 206.7 114.1 210.8 116.2 223.2 119.3 230.2 124.0 234.4 126.1 241.8 127.6 245.9 127.4 250.7 126.1 253.3 124.0 254.2 121.9 254.1 119.9 252.1 116.5 250.1 114.7 245.9 112.5 240.0 111.6 235.8 109.5 239.7 108.5 248.0 108.5 254.2 107.8 264.5 105.6 268.7 103.3 270.1 101.3 269.9 99.2 256.3 94.4 233.8 80.6 221.4 76.5 217.5 74.4 216.9 72.3 220.0 68.2 224.8 64.1 231.3 59.9 241.8 56.5 262.5 52.9 276.9 48.0 283.1 47.0 291.4 46.5 299.7 47.0 318.3 49.3 341.0 51.4 357.5 54.8 378.2 57.2 384.4 58.7 386.8 59.9 388.1 62.0 387.5 64.1 385.1 66.1 369.9 72.1 359.6 79.0 353.4 82.2 349.3 83.2 334.8 81.1 324.5 80.4 318.3 81.2 315.5 82.7 315.2 84.7 316.1 86.8 319.9 90.9 323.0 93.0 328.6 94.5 332.7 94.5 336.9 93.5 341.8 90.9 349.3 85.6 353.4 85.6 367.9 93.2 373.8 95.1 388.5 98.4 394.7 100.8 398.6 103.3 400.5 105.4 402.7 109.5 403.6 113.7 403.3 117.8 402.3 119.9 400.2 121.9 384.4 130.2 365.8 136.9 358.8 140.5 341.9 157.1 340.9 159.1 340.8 161.2 342.0 163.3 345.4 165.3 353.4 167.5 361.7 168.9 369.9 169.3 376.1 168.5 388.5 164.8 398.9 162.8 452.6 158.2 462.9 159.6 473.3 162.7 477.3 165.3 477.0 167.4 474.6 169.5 470.6 171.5 460.9 175.2 452.6 177.1 427.8 181.1 417.5 181.7 390.6 177.0 380.3 176.2 369.9 176.4 349.3 179.3 336.9 181.9 332.4 183.9 330.7 186.0 331.3 188.1 336.9 189.9 353.4 191.0 378.2 195.4 427.8 200.8 438.1 203.1 444.3 205.3 448.5 208.5 450.0 210.8 453.4 221.1 456.7 226.6 459.8 229.4 472.6 237.7 476.1 241.8 487.3 266.6 487.4 268.7 485.1 274.9 485.2 276.9 486.3 279.0 487.7 280.1 491.9 282.2 496.0 283.1 500.1 282.9 512.5 279.2 516.7 279.0 520.8 280.4 529.0 285.2 535.3 286.6 545.6 286.9 554.9 285.2 564.3 281.1 564.9 279.0 554.8 272.8 550.2 268.7 549.1 266.6 548.4 262.5 549.5 258.3 551.0 256.3 553.9 254.5 558.0 253.3 584.9 251.2 599.3 248.0 605.5 249.2 628.3 258.6 636.5 260.4 653.4 262.5 657.2 263.6 658.6 264.5 661.3 271.8 663.4 274.5 665.5 275.9 667.5 276.4 669.6 276.1 671.7 274.7 673.5 270.7 674.2 266.6 675.2 264.5 677.9 263.2 682.0 262.6 702.7 262.0 710.9 260.2 727.5 254.0 731.6 253.3 737.8 253.3 744.0 254.0 744.0 299.7 721.3 304.2 710.9 304.8 702.7 304.4 696.5 303.2 692.9 301.7 682.0 293.5 677.9 291.6 673.7 290.8 663.4 291.1 648.9 290.2 643.9 291.4 641.3 293.5 640.1 295.5 637.4 303.8 635.6 305.9 632.4 307.7 626.2 310.0 623.7 312.1 626.7 318.3 626.2 320.4 622.1 322.6 617.9 322.5 615.9 321.7 609.7 316.6 605.5 315.3 578.7 314.3 558.0 311.1 547.7 311.0 520.8 312.4 498.1 314.4 483.6 314.6 469.1 313.4 448.5 308.7 438.1 307.8 429.9 309.1 416.9 314.1 398.9 317.7 386.5 322.4 378.2 323.0 374.1 322.6 369.9 321.4 359.5 314.1 345.1 308.8 340.5 305.9 338.6 303.8 336.8 299.7 335.9 283.1 334.8 276.9 332.7 275.1 330.7 274.9 324.5 276.9 316.2 282.8 310.0 285.2 303.8 285.6 293.5 284.0 289.3 284.0 286.6 285.2 280.8 289.3 274.9 291.2 256.3 293.0 225.3 293.7 215.4 295.5 200.5 299.9 194.3 300.9 188.1 301.1 181.9 300.4 175.7 298.4 169.5 295.5 165.3 294.6 161.2 295.1 150.9 299.3 144.7 301.0 128.1 302.7 117.8 302.5 88.9 300.7 82.7 301.1 70.3 303.4 62.0 303.6 55.8 302.3 43.4 297.6 35.1 296.7 28.9 296.8 16.5 298.5 0.0 299.7 0.0 254.0 12.4 257.6 16.5 257.8 18.6 257.2 20.7 256.1 22.3 254.2 23.1 250.1 22.5 248.0 20.8 245.9 15.1 241.8 13.8 239.7 16.5 238.4 20.7 237.7 31.0 238.6 37.2 238.2 43.4 236.3 47.5 233.3 50.1 229.4 52.1 223.2 54.3 206.7 57.2 192.2 58.0 190.1 60.4 188.1 64.1 187.0 70.3 187.1 74.4 188.3 86.3 194.3 92.2 196.3 101.3 197.6 117.8 198.7 126.1 198.7 142.6 196.1 152.9 195.5 165.3 196.0 186.0 198.7 194.3 198.8 204.6 197.1 206.7 196.3 208.2 194.3 207.4 192.2 201.4 186.0 196.3 183.1 188.1 181.2 165.3 178.1 155.0 177.3 142.6 177.4 113.7 180.6 101.3 181.3 88.9 181.1 82.7 180.2 69.7 175.7 51.7 172.7 43.4 170.3 32.5 165.3 29.1 163.3 27.3 161.2 24.1 155.0 20.7 151.8 16.5 150.2 4.1 148.0 0.0 146.5 0.0 90.5 10.0 88.9 24.8 84.9 43.4 83.7 53.7 81.7 62.0 78.9 67.2 76.5 73.2 72.3 74.5 70.3 71.7 68.2 64.1 66.7 57.9 64.4 54.1 62.0 49.6 57.9 45.5 57.0 39.3 58.1 24.8 63.2 8.3 67.3 0.0 70.0 0.0 37.3ZM225.3 186.9 223.5 188.1 225.3 189.5 227.3 189.9 231.7 188.1 229.4 186.1 227.3 186.0ZM268.7 193.5 268.1 194.3 274.8 196.3 287.3 197.7 289.3 196.3 281.9 194.3 272.8 192.7 270.7 192.6ZM285.2 92.9 284.5 93.0 284.5 95.1 287.3 94.6 289.3 93.0ZM312.1 206.1 310.0 206.7 308.7 210.8 308.6 219.1 310.0 223.3 313.5 225.3 320.3 226.4 334.8 227.6 351.3 227.3 355.5 228.3 357.0 229.4 357.2 231.5 354.9 237.7 354.8 239.7 356.7 245.9 360.0 250.1 367.9 254.8 390.6 263.1 394.7 264.1 398.9 264.3 403.0 263.3 406.9 260.4 412.9 250.1 413.3 248.0 412.9 245.9 409.7 241.8 398.9 233.3 392.7 227.3 389.3 225.3 384.4 224.5 372.0 225.0 365.8 224.6 363.0 223.2 358.0 217.0 353.5 214.9 351.3 214.6 347.2 214.6 343.1 215.3 332.7 220.1 330.7 219.4 328.6 217.9 320.3 209.7 316.2 207.2ZM128.1 235.3 119.6 237.7 116.4 239.7 114.6 241.8 114.0 243.9 115.6 245.9 117.8 246.8 128.1 248.3 155.0 248.5 181.9 246.9 194.3 248.4 200.5 248.6 204.7 248.0 208.4 245.9 209.8 243.9 210.1 241.8 209.4 239.7 206.7 237.7 198.4 236.2 186.0 235.9 163.3 234.3ZM372.0 282.5 369.6 285.2 369.5 287.3 372.0 289.3 374.1 289.3 377.2 287.3 378.2 285.2 377.5 283.1 376.1 282.2 374.1 281.9ZM424.1 47.5 434.0 46.0 448.5 45.8 465.0 46.7 475.3 48.5 489.8 54.8 504.3 59.2 508.4 61.1 512.5 64.1 516.1 68.2 517.0 70.3 516.8 72.3 515.1 74.4 512.0 76.5 500.5 82.7 491.9 85.9 485.7 86.9 479.5 86.9 467.1 86.2 460.9 85.2 450.0 80.6 429.9 75.2 425.7 73.2 423.7 71.5 421.6 68.2 417.1 53.7 417.3 51.7 419.1 49.6ZM740.1 90.9 744.0 90.5 744.0 146.5 731.6 135.3 720.2 130.2 716.8 128.1 715.0 126.1 714.3 124.0 714.5 121.9 715.6 119.9 720.7 115.7 722.2 113.7 721.3 111.0 715.0 105.4 714.6 103.3 715.9 101.3 719.2 98.7 729.5 92.6 733.7 91.6ZM635.4 101.3 642.7 100.4 648.9 100.3 652.2 101.3 652.5 103.3 651.8 105.4 648.9 108.1 644.8 109.4 638.6 109.6 632.4 108.2 630.8 107.5 629.1 105.4 630.1 103.3ZM542.5 109.5 547.7 110.0 550.4 111.6 549.3 113.7 543.5 116.5 539.4 119.5 537.9 121.9 535.5 130.2 533.2 131.5 524.9 132.0 516.7 130.9 512.5 129.4 510.4 128.1 508.7 126.1 508.1 124.0 508.8 121.9 512.5 118.8 516.7 117.2 529.1 114.1 537.3 110.7ZM593.0 111.6 599.3 111.3 605.5 111.8 610.7 113.7 611.2 115.7 607.6 117.6 597.3 119.2 593.1 120.7 589.2 124.0 584.9 129.3 580.7 131.9 576.6 133.0 572.5 133.3 570.4 133.2 567.9 132.3 566.8 130.2 566.7 124.0 568.2 119.9 570.4 117.8 575.9 115.7ZM618.7 121.9 622.1 120.7 626.2 120.3 634.5 120.5 640.7 121.4 644.8 122.7 647.0 124.0 648.3 126.1 648.2 128.1 647.1 130.2 645.1 132.3 641.9 134.3 634.5 137.2 622.0 140.5 617.4 142.6 615.9 144.7 615.8 146.7 617.2 152.9 617.0 155.0 611.2 165.3 611.1 169.5 612.5 175.7 611.7 177.9 607.6 180.5 599.3 182.0 593.1 181.4 578.7 175.7 570.1 173.6 541.5 170.0 520.8 168.3 515.8 167.4 511.3 165.3 510.5 163.3 511.2 161.2 515.4 155.0 519.1 150.9 524.9 147.4 546.2 142.6 549.4 140.5 551.8 137.2 553.9 136.3 561.2 136.4 566.9 140.5 570.4 141.7 574.5 142.3 580.7 141.5 601.4 136.5 607.6 133.3ZM701.1 152.9 704.7 151.4 710.9 151.3 715.8 152.9 718.0 155.0 718.2 157.1 717.0 159.1 713.0 161.1 708.9 161.6 704.7 161.2 700.6 159.2 699.3 157.1 699.4 155.0ZM653.0 186.0 657.2 184.3 659.3 184.3 661.3 186.0 657.2 188.1 655.1 188.1ZM661.7 210.8 673.7 209.3 686.1 208.9 700.6 209.6 710.9 211.2 717.1 214.4 727.5 222.2 740.3 235.6 741.8 237.7 741.2 239.7 738.2 241.8 731.6 244.9 723.3 247.0 713.0 246.5 704.7 245.0 696.5 242.7 673.7 233.5 670.9 231.5 663.4 224.2 654.1 219.1 652.4 217.0 652.8 214.9 655.3 212.9ZM4.6 363.7 20.7 363.9 28.9 365.2 34.1 367.9 36.5 372.0 0.0 372.0 0.0 363.9ZM267.4 363.7 283.1 363.6 295.5 364.8 301.7 367.4 303.8 369.8 304.7 372.0 253.0 372.0 255.0 367.9 257.8 365.8 262.5 364.3ZM476.8 363.7 487.7 362.3 498.1 362.0 539.4 364.2 543.5 364.9 547.7 366.3 550.0 367.9 552.5 372.0 460.4 372.0 461.3 369.9 465.0 366.8 469.1 365.2ZM142.6 365.8 148.8 366.0 152.9 367.0 157.1 369.8 158.3 372.0 130.8 372.0 132.0 369.9 134.4 367.9 138.5 366.4ZM223.6 365.8 229.4 366.0 233.5 367.3 236.6 369.9 237.5 372.0 213.0 372.0 214.0 369.9 216.3 367.9 219.1 366.6ZM370.1 365.8 376.1 366.0 380.3 366.9 384.4 369.5 385.9 372.0 358.4 372.0 359.5 369.9 362.0 367.9 365.8 366.4ZM734.0 365.8 737.8 364.7 744.0 363.9 744.0 372.0 728.2 372.0 730.5 367.9Z" fill="#FFE4E0"/><path d="M684.8 35.1 688.2 34.8 692.3 35.3 702.7 41.3 707.2 43.4 717.1 47.0 723.3 48.6 727.5 49.1 733.7 48.7 744.0 45.6 744.0 64.4 737.8 66.8 731.6 70.3 727.7 74.4 723.3 82.7 719.7 84.7 713.0 85.8 692.3 86.2 688.2 87.8 682.0 93.0 675.8 95.0 667.5 95.4 661.3 94.0 657.2 91.1 653.9 86.8 651.9 82.7 652.0 80.6 652.8 78.5 655.1 75.7 667.5 66.5 670.0 64.1 671.4 62.0 673.0 57.9 674.7 45.5 676.1 41.3 679.7 37.2ZM6.5 43.4 14.5 42.4 24.0 43.4 29.0 45.5 31.2 47.5 31.8 49.6 31.1 51.7 29.2 53.7 22.9 57.9 17.8 59.9 0.0 64.4 0.0 45.6ZM432.8 53.7 438.1 52.3 444.3 51.8 460.9 53.1 471.2 55.8 478.5 59.9 480.2 62.0 479.1 64.1 474.9 66.1 460.9 70.7 452.6 71.7 442.3 71.0 438.1 70.1 434.0 68.4 431.1 66.1 429.6 64.1 428.6 59.9 428.9 57.9 430.0 55.8ZM135.5 70.3 142.6 69.5 150.9 70.2 157.6 72.3 165.7 76.5 169.5 78.9 172.5 82.7 173.1 90.9 173.9 93.0 175.4 95.1 181.1 99.2 193.1 105.4 195.3 107.5 199.7 113.7 202.5 116.6 208.3 119.9 217.0 123.0 229.4 128.6 235.6 130.4 245.9 131.1 250.1 130.5 254.2 129.2 258.3 126.8 261.0 124.0 264.0 117.8 266.6 114.9 276.9 109.7 285.2 104.8 289.3 103.3 295.5 102.4 336.9 100.3 353.4 98.8 369.9 100.2 378.2 102.0 381.9 103.3 385.2 105.4 388.4 109.5 389.1 111.6 388.9 115.7 386.7 119.9 384.9 121.9 380.3 125.6 376.1 127.9 369.5 130.2 353.4 133.7 347.7 136.4 342.6 144.7 330.7 155.0 326.8 161.2 326.1 165.3 326.8 167.4 332.7 173.6 330.7 175.7 322.4 180.0 320.3 182.2 316.8 188.1 314.7 190.1 312.1 191.3 307.9 191.8 299.7 191.0 289.3 188.5 282.8 186.0 274.5 181.9 260.4 177.4 252.6 175.7 248.0 175.7 231.5 179.0 221.1 179.5 206.7 178.6 186.0 178.3 159.1 175.0 138.5 174.2 128.1 175.0 110.9 177.7 99.2 178.2 90.9 177.5 72.8 173.6 57.9 171.7 47.5 168.7 35.1 161.8 32.0 159.1 26.9 151.4 24.8 149.3 20.7 146.8 10.6 142.6 0.0 134.3 0.0 94.1 24.8 89.7 43.4 89.0 51.7 88.0 62.0 85.6 78.5 79.2 84.7 77.4 93.0 76.4 115.7 75.6 124.0 73.8ZM59.9 98.9 55.5 101.3 53.9 103.3 53.4 105.4 53.7 107.9 57.5 115.7 57.7 117.8 56.5 121.9 53.7 126.1 55.8 127.6 59.9 125.9 65.9 119.9 74.4 113.2 77.4 109.5 78.7 105.4 78.5 103.3 77.5 101.3 74.4 99.1 68.2 98.0ZM282.3 80.6 285.2 79.6 287.3 79.6 290.7 80.6 289.3 82.7 287.3 82.8 284.5 82.7ZM739.9 95.1 744.0 94.1 744.0 134.3 739.9 131.0 725.4 126.2 723.3 124.0 724.2 121.9 729.5 117.1 730.7 113.7 730.2 111.6 726.6 105.4 726.3 103.3 727.7 101.3 730.4 99.2ZM518.6 119.9 522.9 119.4 527.1 119.9 529.6 121.9 529.8 124.0 528.7 126.1 524.9 127.9 520.8 128.3 516.7 127.5 514.1 126.1 513.0 124.0 514.1 121.9ZM622.6 128.1 626.2 127.1 630.3 127.3 632.6 128.1 633.6 130.2 632.2 132.3 628.3 134.3 622.1 135.4 617.9 134.5 617.9 132.3 619.5 130.2ZM595.4 142.6 601.4 142.2 605.5 143.2 607.6 144.9 609.7 147.9 611.6 152.9 610.8 157.1 607.6 163.3 604.7 171.5 603.1 173.6 599.3 175.2 593.1 175.2 573.3 171.5 528.4 165.3 522.3 163.3 520.2 161.2 519.7 159.1 520.7 155.0 522.1 152.9 524.9 150.7 531.1 148.3 543.5 146.9 562.1 148.0 570.4 147.6 578.7 146.5ZM413.3 165.3 450.5 164.7 454.7 165.3 454.7 167.4 446.4 169.5 417.5 173.2 411.3 173.1 405.1 172.1 402.6 171.5 400.4 169.5 402.9 167.4ZM347.2 194.3 353.4 194.5 359.6 195.5 374.1 199.6 380.3 200.8 405.1 202.7 417.5 204.4 424.5 206.7 435.1 212.9 439.1 217.0 442.2 225.3 445.0 229.4 459.5 239.7 463.5 243.9 466.4 250.1 467.3 254.2 466.5 258.3 462.9 262.0 449.1 268.7 443.4 272.8 442.3 274.9 442.1 276.9 442.9 279.0 445.2 281.1 449.7 283.1 469.1 287.2 496.0 296.3 502.2 296.7 516.7 294.4 527.0 293.7 537.3 293.9 553.9 295.5 558.0 295.0 569.8 289.3 580.7 285.7 584.9 283.7 591.1 276.3 603.5 272.3 605.6 270.7 611.3 262.5 615.9 260.6 622.1 260.7 636.5 262.7 644.8 264.2 648.9 265.6 650.8 266.6 652.6 268.7 653.5 270.7 653.8 274.9 653.3 276.9 652.1 279.0 649.2 281.1 636.8 285.2 633.3 287.3 631.5 289.3 628.0 295.5 626.2 297.6 622.8 299.7 617.9 300.9 613.8 301.1 599.3 299.4 597.3 300.2 592.4 303.8 589.0 305.0 584.9 305.8 576.6 305.4 558.0 301.6 535.3 305.1 522.9 304.8 502.2 303.0 498.1 303.3 485.7 305.8 479.5 306.2 471.2 305.5 450.5 301.7 419.5 299.5 413.3 299.7 400.9 302.3 394.7 302.9 374.1 301.9 361.7 303.4 353.4 302.2 349.3 299.7 348.0 297.6 347.1 291.4 344.0 283.1 344.4 279.0 346.2 276.9 351.3 274.7 361.7 272.5 365.1 266.6 368.7 264.5 372.0 264.3 376.1 265.1 380.1 266.6 382.8 268.7 383.3 270.7 380.3 272.4 367.9 273.7 364.3 274.9 357.1 289.3 357.3 291.4 358.9 293.5 361.7 295.5 367.9 298.6 372.0 299.7 374.1 300.8 380.3 298.4 384.4 295.3 386.5 292.9 391.0 285.2 392.7 283.3 394.7 282.2 398.9 282.0 409.2 283.5 415.4 283.8 421.6 282.5 425.7 280.0 427.5 276.9 427.5 274.9 423.3 266.6 422.7 262.5 424.0 258.3 431.3 250.1 432.0 248.0 431.5 245.9 427.4 241.8 421.6 237.7 411.3 231.9 407.8 229.4 406.1 227.3 405.2 225.3 404.2 219.1 402.3 217.0 400.9 216.3 396.8 214.8 392.7 214.3 388.5 214.5 378.2 216.4 374.1 216.4 369.9 215.1 363.7 211.9 359.6 210.5 353.4 209.5 341.0 208.6 336.9 207.7 334.5 206.7 332.3 204.6 331.3 202.5 331.1 200.5 332.7 198.0 336.9 195.9ZM66.8 200.5 70.3 199.3 72.3 199.3 82.7 201.0 103.3 200.4 113.7 201.5 126.1 204.0 130.2 204.2 148.8 200.4 157.1 199.8 163.3 200.1 183.9 203.6 204.6 205.3 208.7 206.7 219.1 212.3 223.2 213.3 227.3 213.6 232.5 212.9 237.5 210.8 243.9 204.5 247.0 202.5 250.1 201.6 256.3 201.0 264.5 201.2 285.2 203.9 295.5 206.8 299.0 208.7 301.2 210.8 302.4 212.9 303.3 217.0 302.2 225.3 302.7 227.3 305.9 228.9 316.2 231.1 320.3 232.4 330.7 238.3 341.0 242.8 344.9 245.9 346.4 248.0 348.3 252.1 348.8 254.2 348.6 256.3 346.6 258.3 320.3 271.4 310.0 277.3 305.9 277.9 291.4 276.3 285.2 276.6 279.0 278.3 270.5 283.1 262.5 285.0 212.9 289.1 192.2 291.6 183.9 290.8 167.4 286.8 159.1 286.4 153.6 287.3 142.6 290.8 136.4 292.1 117.8 293.7 107.5 293.9 102.9 293.5 99.2 292.4 96.3 291.4 93.9 289.3 97.1 287.8 105.4 285.8 108.6 283.1 108.9 281.1 107.7 279.0 105.4 277.9 101.3 277.2 97.1 277.8 93.8 279.0 91.5 281.1 88.9 285.8 86.8 286.7 80.6 287.0 62.0 286.2 43.4 287.3 37.2 286.0 25.3 281.1 20.7 280.5 16.5 281.7 8.3 287.9 4.1 289.6 0.0 290.3 0.0 268.7 4.1 268.9 10.3 267.9 16.5 265.9 22.7 262.9 28.6 258.3 37.2 247.4 47.5 240.6 51.1 237.7 52.8 235.6 54.8 231.5 58.5 212.9 59.9 207.9 62.0 204.3 64.1 202.2ZM119.9 231.2 109.5 234.6 100.0 239.7 92.5 245.9 91.5 248.0 92.2 250.1 97.1 252.6 109.5 254.1 146.7 254.3 179.8 253.4 202.5 253.5 208.7 252.5 213.8 250.1 217.6 245.9 220.5 239.7 220.4 237.7 219.1 235.6 216.2 233.5 210.8 231.6 204.6 230.6 169.5 229.7 132.3 229.9 126.1 230.2ZM677.6 214.9 684.1 214.6 690.3 215.5 704.7 221.0 715.1 222.9 719.2 224.2 723.3 226.5 726.4 229.4 728.9 233.5 729.2 235.6 728.2 237.7 724.6 239.7 719.2 240.7 713.0 240.6 704.7 239.0 682.2 231.5 678.4 229.4 676.0 227.3 672.8 223.2 670.9 219.1 671.8 217.0ZM567.5 258.3 572.5 257.4 578.7 257.2 584.9 258.1 586.9 259.2 588.2 260.4 588.8 262.5 588.2 266.6 586.7 270.7 584.9 272.4 583.6 272.8 578.7 273.1 572.5 272.1 566.3 269.7 562.8 266.6 562.1 264.5 562.2 262.5 563.6 260.4ZM722.8 264.5 729.5 263.8 733.7 264.1 735.8 264.5 744.0 268.7 744.0 290.3 737.8 290.0 733.7 288.6 731.6 287.0 727.5 280.6 725.4 279.3 723.3 279.0 721.3 279.5 718.8 281.1 713.0 288.9 710.9 290.9 708.9 291.8 704.7 292.1 700.6 290.5 696.5 287.5 692.5 283.1 690.2 279.0 689.0 274.9 689.4 272.8 691.7 270.7 708.9 267.7ZM481.7 365.8 489.8 364.6 498.1 364.2 527.0 365.8 538.9 367.9 543.1 369.9 545.0 372.0 467.9 372.0 470.0 369.9 473.3 368.2ZM0.0 367.9 0.0 367.4 6.2 366.7 18.6 367.0 24.8 368.6 27.4 369.9 29.4 372.0 0.0 372.0ZM263.7 367.9 268.7 366.6 272.8 366.2 285.2 366.6 293.5 368.8 295.4 369.9 297.4 372.0 258.8 372.0 260.4 369.9ZM741.9 367.9 744.0 367.4 744.0 372.0 735.3 372.0 737.8 369.6Z" fill="#FFC8C2"/><path d="M691.3 49.6 694.4 48.2 698.5 47.6 702.7 47.9 708.9 49.5 718.1 53.7 723.3 57.9 724.1 59.9 723.3 62.0 721.3 64.1 708.9 71.7 704.7 72.3 700.6 72.3 688.2 70.9 686.1 70.3 684.5 68.2 684.4 66.1 685.8 59.9 687.9 53.7 689.2 51.7ZM445.2 59.9 451.9 59.9 454.7 62.0 450.5 63.5 446.4 63.3 443.5 62.0ZM666.0 76.5 671.7 76.2 673.7 77.5 674.3 78.5 674.6 84.7 674.1 86.8 671.7 89.2 667.5 90.0 663.4 89.1 660.3 86.8 658.8 84.7 658.3 82.7 659.3 80.2 661.3 78.3ZM155.0 95.1 159.1 94.3 163.3 95.3 174.2 101.3 186.0 106.4 190.7 109.5 196.3 116.1 200.6 119.9 204.6 122.1 229.4 132.5 239.7 134.4 245.9 134.5 252.1 133.8 260.4 131.3 270.7 125.1 274.9 124.4 279.0 125.8 285.7 130.2 291.2 132.3 310.0 134.3 318.3 136.3 322.4 138.2 325.7 140.5 327.3 142.6 327.6 144.7 325.3 148.8 314.1 163.1 310.0 166.5 305.9 168.4 297.6 170.1 274.9 172.7 256.3 171.6 248.0 171.7 227.3 175.3 206.7 173.5 190.1 175.5 183.9 175.6 159.1 172.3 134.3 170.7 126.1 171.3 109.5 174.9 103.3 175.4 97.1 175.1 80.6 172.2 62.0 170.5 53.7 168.7 47.5 165.8 39.3 160.6 35.2 157.1 33.7 155.0 30.9 146.7 31.1 144.7 33.1 142.7 43.4 139.2 62.0 134.3 66.7 132.3 74.5 126.1 93.0 107.4 97.1 104.8 101.3 103.6 105.4 103.2 126.1 105.0 136.4 104.2 140.2 103.3 144.7 101.4ZM24.9 97.1 36.5 97.1 39.3 98.0 40.9 99.2 41.5 101.3 41.3 103.3 39.3 108.2 37.2 109.7 35.1 110.2 26.9 109.9 22.7 111.1 20.7 113.7 18.9 117.8 16.5 119.4 8.3 120.0 0.0 119.0 0.0 99.0 8.3 97.7ZM743.5 99.2 744.0 99.0 744.0 119.0 741.4 117.8 739.4 115.7 736.6 109.5 735.5 105.4 736.3 103.3 737.8 101.9ZM320.8 107.5 332.7 106.6 349.3 106.7 367.9 106.0 372.0 106.8 376.1 109.0 378.2 111.6 378.6 113.7 377.3 117.8 375.6 119.9 372.7 121.9 366.5 124.0 359.6 124.5 343.1 123.3 307.9 119.2 301.6 117.8 297.6 116.3 296.3 115.7 294.3 113.7 295.1 111.6 299.9 109.5ZM583.7 148.8 593.1 147.1 597.3 147.0 601.4 148.1 604.6 150.9 605.7 152.9 605.7 157.1 602.1 165.3 599.3 169.0 595.2 170.7 586.9 170.8 535.3 163.8 531.1 162.8 527.2 161.2 525.2 159.1 524.6 157.1 525.1 155.0 527.0 152.8 530.7 150.9 535.3 149.7 545.6 149.5 558.0 152.5 562.1 152.8ZM92.9 204.6 97.1 203.5 103.3 203.1 109.5 203.7 115.7 205.7 120.4 208.7 122.0 210.8 123.8 214.9 123.6 219.1 121.1 221.1 116.6 223.2 111.2 225.3 103.3 227.3 97.1 226.9 88.9 223.8 86.8 223.8 84.0 225.3 82.7 227.3 83.9 233.5 83.7 235.6 82.7 237.7 78.5 242.2 75.9 245.9 74.0 252.1 74.3 254.2 75.9 256.3 80.6 257.9 97.1 259.2 157.1 259.4 183.9 260.1 196.3 259.3 214.9 257.3 219.1 255.5 220.5 254.2 225.3 247.7 229.4 244.2 233.5 242.6 239.7 241.2 241.7 239.7 239.9 237.7 233.5 234.1 227.4 229.4 225.6 227.3 224.7 225.3 225.5 223.2 229.0 221.1 242.0 217.0 246.6 214.9 253.4 208.7 256.3 207.2 260.4 206.2 266.6 205.8 276.9 206.3 287.3 207.8 293.5 209.8 297.6 213.1 299.1 217.0 298.9 219.1 297.6 222.0 293.5 225.9 286.9 229.4 284.8 231.5 284.3 233.5 284.7 235.6 287.3 238.7 289.3 239.7 293.5 239.7 301.3 235.6 305.9 234.4 310.0 234.4 314.1 235.2 318.3 237.2 324.5 241.5 334.8 246.0 337.2 248.0 338.1 250.1 338.0 252.1 336.8 254.2 334.6 256.3 324.5 263.6 318.3 266.5 307.9 269.9 299.7 271.3 287.3 271.0 279.0 269.2 274.9 266.8 270.7 266.5 262.9 268.7 258.7 270.7 249.5 276.9 240.4 281.1 232.6 283.1 223.2 284.2 194.3 286.0 188.1 286.0 165.3 281.7 155.0 281.0 146.7 282.0 134.3 285.5 126.1 286.0 121.9 285.2 119.9 284.1 113.6 276.9 109.7 274.9 105.4 273.8 101.3 273.5 95.1 274.0 88.9 275.6 80.6 279.0 72.3 279.9 43.4 278.0 35.1 275.8 28.9 272.8 27.0 270.7 26.9 268.7 28.1 266.6 39.3 255.5 55.8 243.1 59.4 239.7 60.9 237.7 61.9 233.5 62.0 227.3 62.9 221.1 64.1 217.4 66.1 214.3 68.2 213.1 70.3 212.6 80.6 213.8 82.7 213.6 84.7 212.4 89.5 206.7ZM281.1 255.8 279.0 256.8 277.6 258.3 277.1 260.4 279.0 262.7 281.1 262.8 285.2 261.8 287.9 260.4 289.3 258.3 287.3 255.9 285.2 255.4ZM151.2 208.7 157.1 207.6 163.3 207.5 192.2 210.9 198.4 212.6 200.5 213.8 203.8 217.0 204.3 219.1 202.6 221.1 200.5 221.9 194.9 223.2 188.1 223.9 169.5 224.3 152.7 223.2 146.0 221.1 144.5 219.1 145.7 212.9 147.4 210.8ZM622.0 264.5 632.4 264.6 642.7 266.5 646.6 268.7 647.7 270.7 647.8 272.8 646.9 274.9 644.8 276.8 638.6 279.0 628.3 279.9 620.0 279.0 617.9 278.3 615.9 276.4 615.1 274.9 615.0 270.7 615.7 268.7 617.3 266.6ZM483.3 367.9 496.0 366.1 514.6 366.6 531.1 368.8 535.1 369.9 538.4 372.0 474.3 372.0 477.3 369.9ZM3.9 369.9 14.5 369.6 18.6 370.4 22.1 372.0 0.0 372.0 0.0 371.2ZM267.1 369.9 272.8 368.7 279.0 368.6 286.6 369.9 290.6 372.0 264.1 372.0ZM742.5 372.0 744.0 371.2 744.0 372.0Z" fill="#FFAAA0"/><path d="M159.2 107.5 163.3 106.4 167.4 106.3 173.6 107.3 181.9 109.5 186.0 111.6 188.4 113.7 193.6 119.9 198.4 123.3 223.2 134.9 229.4 137.1 235.6 138.1 243.9 138.5 254.2 138.1 268.7 136.6 272.8 136.9 305.8 142.6 310.0 144.7 311.5 146.7 311.7 148.8 310.0 152.9 308.4 155.0 303.2 159.1 294.1 163.3 283.1 165.9 270.7 167.6 248.0 168.4 227.3 171.4 206.7 169.7 186.0 172.2 175.7 171.5 130.2 165.5 124.0 166.1 111.6 171.0 103.3 172.2 97.1 171.9 82.7 169.5 62.0 168.7 56.4 167.4 51.8 165.3 40.2 157.1 38.5 155.0 37.7 152.9 37.5 150.9 38.2 148.8 41.3 145.9 51.7 141.2 68.1 136.4 73.1 134.3 79.1 130.2 93.0 117.4 101.3 112.6 109.5 111.1 128.1 112.1 142.6 111.5 150.9 110.4ZM532.4 152.9 539.4 151.5 545.6 152.2 552.1 155.0 555.9 158.1 558.0 158.8 560.1 158.9 579.1 152.9 586.9 151.7 593.1 151.6 597.5 152.9 599.3 155.0 599.7 157.1 598.8 161.2 597.3 163.7 595.2 165.6 591.1 167.2 582.8 167.4 567.1 165.3 555.9 161.8 543.5 162.0 535.3 161.0 530.9 159.1 529.4 157.1 529.8 155.0ZM103.3 206.7 105.4 206.9 109.2 208.7 109.2 210.8 107.5 211.9 103.3 212.7 101.3 212.3 98.7 210.8 98.5 208.7 101.3 207.1ZM269.8 210.8 279.0 209.9 287.3 210.8 292.1 212.9 294.2 214.9 294.9 217.0 294.5 219.1 291.4 222.3 287.3 224.2 276.5 227.3 274.8 229.4 275.6 239.7 274.5 241.8 272.8 242.9 268.7 243.6 262.5 242.2 252.1 235.0 241.2 229.4 239.7 227.3 240.4 225.3 243.6 223.2 258.4 219.1 261.5 217.0 265.4 212.9ZM240.4 252.1 248.0 251.7 256.3 253.1 260.4 255.5 261.1 256.3 261.4 258.3 259.7 260.4 254.2 263.1 248.0 264.4 241.8 264.0 237.7 261.7 235.7 258.3 235.7 256.3 236.7 254.2ZM305.4 254.2 310.0 253.0 318.3 252.4 320.3 252.8 322.3 254.2 322.3 256.3 321.2 258.3 319.0 260.4 316.2 261.9 310.0 263.6 305.9 263.6 302.6 262.5 301.4 260.4 301.4 258.3 302.5 256.3ZM43.0 262.5 47.5 261.1 51.7 261.5 57.8 264.5 60.8 266.6 62.0 268.7 56.5 270.7 53.7 271.1 47.5 271.3 43.0 270.7 39.3 268.7 39.0 266.6 40.3 264.5ZM87.8 266.6 103.3 264.6 124.0 265.5 152.9 265.5 163.2 266.6 175.7 270.6 181.9 271.9 202.5 273.4 221.1 272.5 225.3 273.0 228.7 274.9 228.4 276.9 222.4 279.0 206.7 279.0 190.1 280.2 180.9 279.0 171.5 276.0 167.4 275.2 159.1 274.2 150.9 274.2 142.6 275.6 133.3 279.0 128.1 279.5 124.0 278.0 115.7 271.8 109.5 270.0 103.3 269.3 82.7 268.7 86.8 267.4ZM625.9 268.7 630.3 267.8 634.5 267.9 638.3 268.7 640.8 270.7 640.2 272.8 638.6 273.7 636.5 274.3 632.4 274.5 626.3 272.8 624.7 270.7ZM496.9 367.9 506.3 367.8 518.7 368.8 525.6 369.9 531.4 372.0 480.6 372.0 487.7 369.2ZM272.2 372.0 276.9 371.6 280.5 372.0Z" fill="#FF9080"/><path d="M108.8 117.8 113.7 118.2 119.4 119.9 122.6 121.9 124.0 124.0 124.3 126.1 123.6 128.1 122.1 130.2 119.9 131.9 115.7 133.7 105.3 136.4 103.0 138.5 103.1 140.5 107.5 147.4 113.6 159.1 113.9 161.2 113.5 163.3 111.6 165.5 107.5 167.6 101.3 168.3 84.7 165.6 70.3 167.1 62.0 166.6 57.6 165.3 54.3 163.3 45.3 155.0 44.6 152.9 45.2 150.9 50.6 146.7 59.5 142.6 76.5 138.7 84.7 135.7 90.1 132.3 95.3 124.0 97.4 121.9 103.3 118.7ZM182.4 126.1 183.9 125.4 188.1 125.8 206.7 132.2 213.1 136.4 219.1 142.1 223.2 144.0 231.5 144.9 252.1 144.8 274.9 146.9 283.1 149.3 285.2 150.9 286.1 152.9 285.9 155.0 284.5 157.1 281.9 159.1 277.1 161.2 272.8 162.2 264.6 163.3 245.9 164.4 231.5 166.3 225.3 166.6 204.6 165.3 183.9 166.3 172.8 165.3 167.0 163.3 173.7 159.1 175.7 156.6 176.3 155.0 176.3 152.9 174.3 148.8 168.2 142.6 168.1 140.5 169.0 138.5 172.5 134.3 179.8 127.7ZM537.3 155.0 541.6 155.0 543.3 157.1 541.5 157.7 537.3 157.4 536.7 157.1ZM582.0 157.1 586.9 156.9 589.0 157.8 590.1 159.1 589.3 161.2 586.9 162.3 582.8 162.9 578.7 162.2 576.4 161.2 577.1 159.1ZM276.6 214.9 281.1 213.9 285.2 214.2 287.5 214.9 289.3 217.0 288.2 219.1 285.2 220.4 279.0 220.6 275.4 219.1 274.7 217.0ZM495.5 369.9 510.5 369.8 522.8 372.0 487.6 372.0Z" fill="#FF7860"/><path d="M62.3 161.2 66.1 160.5 69.2 161.2 68.1 163.3 66.1 163.4 64.0 163.3Z" fill="#FF5A3C"/></g>
<path d="M551.0 152.9C550.2 152.5 548.1 152.3 546.8 152.9C545.6 153.5 543.6 155.5 543.5 156.4C543.4 157.4 544.9 158.6 546.2 158.5C547.5 158.4 550.6 156.8 551.4 155.8C552.2 154.9 551.7 153.4 551.0 152.9Z" fill="#FF7860"/><path d="M549.7 153.3C549.2 153.1 547.8 153.2 547.3 153.6C546.7 153.9 546.0 155.1 546.2 155.6C546.4 156.1 547.8 156.5 548.5 156.4C549.2 156.3 550.1 155.5 550.4 155.0C550.6 154.5 550.2 153.6 549.7 153.3Z" fill="#FF5A3C"/><path d="M549.1 153.8C548.9 153.6 547.9 153.7 547.7 154.0C547.4 154.2 547.3 155.0 547.5 155.2C547.7 155.4 548.6 155.4 548.9 155.2C549.2 155.0 549.3 154.0 549.1 153.8Z" fill="#FF4020"/><path d="M89.9 161.2C90.4 160.8 91.5 160.5 93.0 160.0C94.5 159.4 97.1 158.6 99.2 158.1C101.3 157.6 104.4 156.8 105.4 157.1C106.4 157.4 106.4 159.3 105.4 160.0C104.4 160.6 101.3 160.7 99.2 161.2C97.1 161.7 94.5 162.6 93.0 162.9C91.5 163.1 90.4 162.9 89.9 162.6C89.4 162.4 89.4 161.6 89.9 161.2Z" fill="#FF7860"/><path d="M90.9 161.6C91.6 161.3 93.7 160.8 95.1 160.4C96.4 160.0 98.5 159.3 99.2 159.3C99.9 159.4 99.9 160.1 99.2 160.6C98.5 161.0 96.4 161.7 95.1 162.0C93.7 162.3 91.6 162.5 90.9 162.4C90.2 162.4 90.2 162.0 90.9 161.6Z" fill="#FF5A3C"/>
<g clip-path="url(#land)"><g fill-rule="evenodd"><rect x="-2" y="-2" width="748" height="376" fill="#7E94F6"/><path d="M0.0 0.0 744.0 0.0 744.0 372.0 0.0 372.0ZM47.5 167.1 46.5 167.4 45.9 169.5 49.6 171.3 51.7 171.5 53.7 170.9 55.5 169.5 54.7 167.4 53.7 167.0 51.7 166.7Z" fill="#9DAEF8"/><path d="M0.0 0.0 744.0 0.0 744.0 163.6 733.7 161.9 731.6 160.6 725.8 155.0 721.3 153.6 717.1 153.4 710.9 155.0 708.4 157.1 704.7 162.7 696.6 165.3 694.4 166.6 693.4 167.4 693.2 169.5 694.8 171.5 697.7 173.6 702.7 175.7 706.8 175.9 708.9 175.7 712.7 173.6 713.8 171.5 713.5 167.4 715.1 166.1 717.1 165.5 723.3 165.3 736.4 167.4 744.0 167.6 744.0 372.0 0.0 372.0 0.0 167.6 20.7 165.3 0.0 163.6ZM43.4 163.2 20.7 165.3 24.8 165.9 26.6 167.4 28.9 168.1 35.1 171.3 43.4 177.0 45.5 177.6 51.7 177.3 57.9 175.7 61.1 173.6 62.5 171.5 62.7 167.4 62.0 165.3 59.9 163.3 57.9 162.5 53.7 162.2ZM142.6 103.3 140.8 105.4 142.1 107.5 144.7 107.9 145.5 107.5 146.7 105.3 144.7 103.3ZM204.6 146.5 200.8 148.8 197.8 152.9 197.9 155.0 200.7 157.1 208.7 158.3 217.0 158.1 223.4 157.1 227.3 155.0 227.5 152.9 225.7 150.9 223.0 148.8 218.7 146.7 210.8 145.6ZM235.6 113.6 231.9 115.7 233.5 117.5 237.7 117.7 241.8 116.8 245.4 115.7 248.0 113.7 243.9 112.6ZM520.8 80.5 518.7 80.9 516.7 82.7 518.6 84.7 523.7 86.8 529.1 87.9 531.1 87.9 533.6 86.8 534.1 84.7 532.6 82.7 527.0 80.7ZM537.3 103.3 537.3 105.9 540.0 113.7 539.3 117.8 539.6 119.9 541.7 121.9 545.6 122.5 550.4 121.9 553.5 119.9 554.2 117.8 554.1 113.7 555.0 109.5 554.4 107.5 551.8 105.4 543.5 102.1 539.4 101.7ZM605.5 187.9 603.5 188.1 601.4 189.3 599.3 192.0 598.1 196.3 597.7 200.5 598.6 202.5 601.4 204.2 607.6 204.7 609.7 204.1 611.9 202.5 613.0 200.5 613.6 196.3 611.9 192.2 610.1 190.1 607.6 188.4ZM628.3 161.2 622.5 163.3 620.0 165.3 619.2 167.4 619.3 169.5 620.9 171.5 624.1 172.5 626.2 172.4 629.9 171.5 632.7 169.5 633.9 167.4 635.9 161.2 634.5 160.1ZM657.2 144.5 652.9 146.7 646.9 152.1 640.7 155.0 638.4 157.1 637.4 159.1 639.0 159.1 646.5 157.1 653.1 153.8 660.5 150.9 663.0 148.8 663.3 146.7 661.3 144.7ZM33.1 185.9 28.0 188.1 27.5 190.1 32.0 196.3 33.1 199.4 35.1 200.6 37.2 199.5 39.3 197.0 40.0 194.3 39.8 190.1 39.2 188.1 37.3 186.0ZM622.1 250.0 617.9 250.4 612.8 252.1 610.9 254.2 611.3 256.3 615.2 258.3 624.1 258.6 626.4 258.3 631.2 256.3 632.5 254.2 631.8 252.1 630.3 251.3 626.2 250.2ZM661.3 206.3 659.3 207.0 657.8 208.7 658.5 210.8 661.3 212.7 667.5 213.5 670.2 212.9 672.5 210.8 672.3 208.7 669.1 206.7 665.5 206.1Z" fill="#BCC8FA"/><path d="M0.0 0.0 744.0 0.0 744.0 159.9 737.8 158.1 730.5 152.9 727.5 151.4 721.3 150.0 708.9 149.9 694.4 152.6 690.3 152.7 684.1 151.9 679.9 150.4 677.9 149.0 671.7 142.1 665.7 138.5 659.3 137.1 651.0 137.9 646.9 139.6 639.6 144.7 628.3 150.7 615.9 159.3 612.8 163.3 609.5 171.5 607.6 174.9 604.9 177.7 599.3 182.2 595.9 186.0 594.4 190.1 593.0 200.5 593.0 202.5 593.9 204.6 597.3 206.6 609.7 209.3 613.8 211.2 615.3 212.9 618.0 219.1 620.0 222.0 622.1 223.8 626.2 225.6 630.3 226.0 632.4 225.6 634.9 223.2 635.1 221.1 634.6 219.1 633.3 217.0 631.2 214.9 622.4 208.7 621.1 206.7 621.3 204.6 622.5 202.5 626.2 200.4 636.5 199.3 640.7 198.2 642.6 196.3 643.3 194.3 642.7 186.0 657.2 183.6 660.9 181.9 667.5 176.8 673.7 174.8 679.9 174.5 684.1 175.1 690.3 176.9 702.7 181.7 706.8 182.3 710.9 181.9 717.1 180.1 731.8 173.6 744.0 171.6 744.0 188.0 727.1 196.3 724.9 198.4 723.9 200.5 724.6 202.5 727.5 203.8 744.0 206.7 744.0 372.0 0.0 372.0 0.0 206.7 31.0 212.4 46.3 217.0 49.6 217.4 52.5 217.0 53.5 214.9 48.6 210.8 47.2 208.7 46.7 206.7 48.8 196.3 48.0 190.1 48.2 186.0 49.4 183.9 52.2 181.9 62.0 177.7 64.8 175.7 66.2 173.6 66.9 169.5 66.1 164.1 64.7 161.2 62.0 159.2 59.9 158.8 55.8 158.8 43.4 160.6 35.1 161.1 0.0 159.9ZM95.1 71.9 82.7 76.7 68.2 79.2 63.7 80.6 62.0 82.7 63.3 84.7 80.2 93.0 77.9 95.1 64.1 100.2 62.5 101.3 62.0 103.3 64.1 104.7 66.1 105.3 70.3 105.3 82.7 103.3 89.9 101.3 89.2 99.2 83.6 95.1 82.7 93.0 93.0 88.4 99.2 87.3 103.3 87.2 108.6 88.9 113.7 94.2 115.7 95.5 128.1 98.3 130.2 99.3 131.7 101.3 134.3 108.0 136.4 110.6 138.5 112.1 142.6 113.5 146.7 113.4 150.2 111.6 151.9 109.5 153.6 105.4 153.6 103.3 152.4 101.3 148.8 99.2 136.4 96.4 134.3 95.2 130.2 88.4 122.4 80.6 120.5 74.4 118.1 72.3 113.7 71.1 107.5 70.4 101.3 70.7ZM179.8 76.4 169.5 77.2 163.3 78.5 160.5 80.6 160.8 82.7 162.9 84.7 167.0 86.8 171.5 87.8 175.7 87.9 180.4 86.8 188.1 81.4 196.3 79.6 197.9 78.5 195.0 76.5 192.2 76.0ZM245.9 105.1 227.3 111.4 223.0 113.7 221.1 115.7 220.3 117.8 220.4 119.9 221.3 121.9 225.3 125.4 229.4 127.0 233.5 127.0 245.9 124.3 250.1 123.9 256.3 124.3 270.7 127.2 274.9 126.8 276.1 126.1 276.8 124.0 274.1 117.8 271.2 113.7 266.3 109.5 260.4 105.9 256.3 104.3 252.1 103.9ZM314.1 251.6 311.5 254.2 310.0 258.3 310.3 260.4 312.3 262.5 316.2 262.8 322.4 261.4 328.7 258.3 330.3 256.3 329.9 254.2 324.5 251.7 318.3 250.7ZM510.5 76.2 508.4 76.5 506.4 78.5 507.6 82.7 509.3 84.7 512.5 86.9 524.9 92.3 527.9 95.1 528.5 97.1 528.4 103.3 531.0 113.7 531.5 121.9 532.6 124.0 535.7 126.1 539.4 127.0 545.6 127.5 564.2 127.7 566.4 128.1 569.7 130.2 570.2 132.3 568.4 134.3 558.0 137.4 553.5 140.5 552.6 142.6 553.6 144.7 555.9 145.6 562.1 146.2 569.4 144.7 572.3 142.6 576.6 137.3 585.4 134.3 588.7 132.3 589.9 130.2 590.1 128.1 588.2 126.1 576.6 123.4 574.5 122.2 572.5 120.0 571.5 117.8 571.3 115.7 572.4 113.7 576.0 111.6 580.7 110.5 586.9 109.9 595.2 110.5 596.8 111.6 598.3 117.8 599.3 119.6 601.4 120.5 603.5 120.5 607.6 119.7 617.9 114.2 634.5 115.3 640.7 113.7 642.3 111.6 642.4 109.5 640.7 107.1 636.5 104.8 630.3 103.3 624.1 102.9 620.0 103.3 611.7 107.3 607.6 107.8 604.7 107.5 603.5 106.9 602.4 105.4 603.0 103.3 606.5 99.2 606.5 97.1 604.7 95.1 597.3 92.7 588.7 93.0 582.8 94.9 574.5 98.6 568.3 100.5 560.1 101.1 553.9 100.0 547.2 97.1 543.5 94.2 542.0 90.9 541.5 84.7 540.7 82.7 537.3 79.7 533.2 78.2 527.0 77.1ZM655.1 204.2 653.1 205.0 651.4 206.7 651.0 208.7 651.5 210.8 654.4 214.9 661.9 221.1 663.5 223.2 664.0 225.3 663.4 226.1 659.3 228.1 646.9 231.0 642.7 232.7 636.5 240.3 634.5 242.1 630.9 243.9 624.1 245.3 609.7 246.7 605.5 247.9 603.5 249.4 602.1 252.1 602.1 254.2 602.8 256.3 604.8 258.3 607.6 259.5 611.2 260.4 617.9 261.0 630.3 260.5 642.7 257.7 646.9 257.7 665.5 263.8 675.8 269.1 688.2 274.0 698.5 281.1 704.7 282.3 709.3 281.1 710.5 279.0 709.6 276.9 707.5 274.9 697.6 268.7 693.4 262.5 692.0 258.3 692.7 256.3 701.0 250.1 702.7 248.0 703.4 245.9 702.9 235.6 706.3 214.9 706.4 212.9 705.6 210.8 702.7 209.7 700.6 209.5 688.2 209.7 684.1 208.2 678.4 204.6 673.7 203.6 663.4 203.3ZM163.3 121.8 161.2 122.3 159.1 123.9 158.8 126.1 160.8 130.2 165.3 134.3 169.5 136.9 173.6 138.5 190.1 141.4 192.8 142.6 193.4 144.7 192.6 146.7 186.9 155.0 186.2 157.1 186.3 159.1 187.9 161.2 190.1 162.1 208.7 162.8 225.3 165.2 231.5 165.2 239.7 163.6 255.3 159.1 260.1 157.1 262.5 155.4 263.9 152.9 263.3 150.9 261.1 148.8 256.3 146.1 250.1 143.9 231.5 138.8 227.3 138.5 208.7 139.9 200.5 139.4 198.2 138.5 193.4 134.3 179.8 128.9 171.5 123.6 167.4 122.1ZM0.5 171.5 14.5 170.6 22.7 171.3 29.0 173.6 31.3 175.7 31.4 177.7 29.5 179.8 22.7 182.7 6.7 186.0 0.0 188.0 0.0 171.6ZM628.8 183.9 636.5 183.6 638.3 183.9 640.7 186.0 630.3 186.5 627.3 186.0ZM670.4 227.3 673.7 227.3 677.9 228.2 680.1 229.4 681.8 231.5 682.5 233.5 682.0 237.7 679.9 240.7 677.9 242.2 673.7 243.0 669.6 241.9 666.6 239.7 665.3 237.7 664.6 233.5 665.5 229.9 667.5 227.9Z" fill="#DCE2FC"/><path d="M0.0 0.0 744.0 0.0 744.0 110.7 739.9 111.6 737.5 113.7 739.7 115.7 744.0 116.7 744.0 156.9 739.8 155.0 733.7 149.8 729.5 148.1 713.0 145.3 702.7 143.0 690.3 143.2 685.9 142.6 682.0 140.6 675.8 135.2 668.5 130.2 666.1 128.1 664.7 126.1 664.0 121.9 666.2 107.5 666.0 95.1 666.3 93.0 669.2 86.8 669.1 84.7 668.0 82.7 663.4 79.4 643.3 70.3 636.7 68.2 628.3 67.0 622.1 67.7 617.9 70.0 615.9 72.3 614.3 78.5 611.8 80.6 605.5 82.0 591.1 83.2 586.9 84.1 582.8 85.8 573.8 93.0 570.4 95.0 566.3 96.5 560.1 97.2 553.9 96.0 549.3 93.0 547.3 88.9 545.9 80.6 544.6 78.5 541.6 76.5 537.3 75.2 520.8 72.7 516.7 71.7 513.6 70.3 508.4 65.9 504.3 63.2 490.8 57.9 476.7 49.6 458.8 42.8 454.7 42.2 450.5 42.6 438.1 46.4 431.9 47.1 415.3 45.5 396.8 42.8 392.7 42.7 390.6 43.3 388.5 44.7 386.8 47.5 383.1 57.9 382.4 62.0 383.4 68.2 385.6 76.5 387.5 80.6 392.7 85.6 405.7 93.0 407.4 95.1 410.2 101.3 413.3 103.3 415.7 103.3 419.5 101.9 427.8 96.0 434.0 93.0 437.0 90.9 438.2 88.9 438.1 82.7 440.2 81.6 444.3 81.0 450.5 81.5 460.9 85.3 467.1 86.1 471.2 85.6 473.7 84.7 475.9 82.7 477.4 79.4 479.5 78.8 489.8 79.5 496.0 81.0 498.7 82.7 502.9 86.8 505.9 88.9 516.7 93.0 519.5 95.1 520.7 97.1 521.8 105.4 524.6 113.7 525.0 121.9 526.1 126.1 528.3 128.1 531.1 129.3 549.7 132.4 551.8 134.3 548.2 140.5 547.8 142.6 548.3 144.7 549.7 146.0 551.8 147.1 555.9 148.0 564.2 148.2 572.5 147.2 582.8 144.4 586.7 144.7 590.8 146.7 596.3 150.9 603.5 154.3 605.5 156.1 606.5 159.1 606.5 161.2 605.7 165.3 604.1 169.5 601.2 173.6 593.1 182.5 590.9 186.0 590.4 188.1 590.2 196.3 588.7 204.6 590.0 206.7 591.1 207.2 604.8 210.8 609.7 213.1 613.0 217.0 617.9 226.4 624.3 233.5 625.1 235.6 624.5 237.7 622.1 239.2 617.9 240.0 601.4 237.7 595.2 237.9 589.0 239.0 574.5 242.7 547.1 248.0 541.2 250.1 539.1 252.1 541.2 254.2 557.0 258.3 568.3 260.1 589.0 260.7 602.5 262.5 634.5 262.9 644.8 264.0 657.2 266.4 663.4 268.2 684.1 276.7 694.4 283.4 700.6 286.0 708.9 287.4 715.1 286.9 718.2 285.2 719.1 283.1 718.5 279.0 715.4 274.9 704.5 266.6 703.1 264.5 702.2 260.4 702.8 258.3 707.0 252.1 709.2 248.0 709.7 243.9 709.8 233.5 712.6 223.2 714.8 219.1 717.1 216.5 719.4 214.9 723.3 213.4 731.6 212.7 744.0 213.9 744.0 372.0 0.0 372.0 0.0 213.9 14.5 214.4 22.7 215.3 29.7 217.0 41.3 221.7 45.5 222.8 53.7 222.8 59.9 220.9 62.2 219.1 63.2 217.0 63.4 214.9 62.0 211.9 55.8 207.1 54.6 204.6 55.3 196.3 53.8 190.1 53.8 188.1 54.6 186.0 56.8 183.9 65.2 179.8 68.1 177.7 69.6 175.7 70.4 171.5 69.8 161.2 69.0 157.1 67.4 155.0 64.1 153.7 59.9 154.0 48.9 157.1 39.3 158.5 6.2 157.8 0.0 156.9 0.0 116.7 6.2 116.9 15.2 115.7 20.7 113.7 21.4 111.6 18.6 109.0 14.5 108.4 0.0 110.7ZM70.3 61.8 67.6 64.1 66.6 66.1 64.1 67.6 59.9 68.2 43.4 68.3 35.2 70.3 31.6 72.3 28.9 75.1 26.9 76.4 17.9 78.5 16.3 80.6 20.7 82.7 24.8 82.9 28.6 82.7 31.0 80.4 33.1 80.0 35.7 80.6 33.1 82.6 31.0 82.9 29.2 84.7 29.4 88.9 30.7 93.0 32.6 95.1 35.1 96.4 44.3 99.2 47.5 101.1 49.2 103.3 51.7 110.2 53.2 111.6 55.8 112.5 62.0 112.7 80.6 109.2 99.2 107.7 105.4 106.2 113.7 102.9 119.9 102.4 124.0 103.3 126.1 104.8 131.1 111.6 134.3 114.2 138.5 115.9 150.9 119.0 152.0 119.9 152.8 121.9 155.0 130.2 161.2 142.0 163.3 144.0 165.3 144.7 175.4 146.7 176.3 148.8 174.1 150.9 169.5 153.7 167.4 154.8 165.3 155.0 160.9 150.9 157.1 149.2 152.9 149.4 148.8 150.8 146.7 152.3 144.7 155.0 143.4 159.1 143.8 163.3 144.7 165.3 146.8 167.4 150.9 169.3 157.1 170.7 161.2 172.4 169.5 183.1 171.5 184.5 173.6 184.7 175.7 184.1 180.6 177.7 186.0 175.7 198.4 175.1 212.9 175.9 221.0 173.6 231.5 172.5 241.8 170.4 260.8 163.3 287.3 155.3 293.5 154.9 303.8 155.4 310.0 155.0 317.4 152.9 330.7 147.9 338.9 145.6 347.2 144.7 365.8 145.1 372.0 144.7 376.7 142.6 377.7 140.5 377.1 138.5 374.1 135.6 369.9 133.5 365.8 132.4 359.6 132.6 351.3 134.3 341.0 135.6 334.8 135.3 330.7 134.3 322.4 128.6 314.5 126.1 310.0 124.0 305.9 120.4 303.8 119.2 291.4 115.1 289.3 113.7 288.1 111.6 287.9 109.5 289.9 105.4 289.3 103.3 285.2 100.7 283.1 98.6 274.9 81.9 272.8 78.9 270.7 77.3 266.6 76.2 262.5 76.9 260.2 78.5 258.3 82.1 256.9 90.9 255.8 93.0 253.8 95.1 235.6 105.1 221.1 110.4 215.9 113.7 214.2 115.7 212.4 119.9 211.7 124.0 211.8 128.1 210.8 131.0 208.7 132.2 206.7 132.3 188.1 128.3 182.2 126.1 175.7 121.9 171.5 120.0 159.1 117.5 155.8 115.7 155.6 113.7 156.1 111.6 159.3 103.3 159.7 101.3 159.1 98.1 157.1 95.9 144.7 93.0 142.0 90.9 141.2 88.9 141.7 86.8 142.6 85.9 144.7 85.3 146.7 85.5 152.9 88.2 161.2 93.9 181.9 98.3 186.0 98.6 190.1 97.5 197.5 93.0 202.2 90.9 223.0 86.8 227.1 84.7 227.3 82.7 224.5 80.6 216.5 76.5 206.7 69.4 198.4 66.8 167.4 62.0 148.8 63.6 128.1 61.5 111.6 64.6 101.3 65.4 88.9 64.3 78.5 60.9 74.4 60.9ZM188.1 50.8 186.0 51.7 188.1 52.6 190.1 52.7 194.6 51.7 192.2 50.5ZM287.3 49.2 286.5 49.6 285.3 51.7 287.5 53.7 297.6 58.3 299.7 59.9 303.8 65.0 307.9 67.4 314.1 68.0 322.4 66.7 329.2 64.1 330.7 62.0 329.2 59.9 325.5 57.9 304.3 49.6 295.5 48.2 291.4 48.3ZM334.8 119.7 332.7 120.1 329.8 121.9 330.7 124.0 334.8 124.4 338.5 124.0 343.5 121.9 342.6 119.9ZM363.7 123.8 361.9 124.0 363.2 126.1 366.7 126.1 365.8 124.0ZM595.2 49.3 591.9 51.7 593.4 53.7 595.2 54.3 599.3 54.7 603.5 54.3 605.5 53.7 607.4 51.7 605.4 49.6 603.5 49.1 599.3 48.7ZM403.0 181.5 395.8 183.9 392.7 186.0 389.6 190.1 389.0 192.2 389.3 194.3 392.7 197.3 393.3 198.4 393.2 200.5 389.7 204.6 387.6 210.8 386.5 211.7 384.4 212.5 380.3 212.2 375.9 210.8 374.1 208.7 375.9 206.7 384.4 203.4 385.4 202.5 386.1 200.5 386.1 198.4 385.4 196.3 382.3 195.4 376.1 195.5 372.0 196.3 361.7 203.2 351.3 206.7 338.9 213.9 324.5 219.9 314.1 223.4 312.1 224.9 305.5 233.5 299.1 239.7 297.9 241.8 296.2 250.1 293.6 254.2 287.3 260.0 283.1 262.2 276.9 263.3 270.7 262.2 264.5 259.1 254.6 252.1 250.1 250.5 245.9 249.7 237.7 249.9 225.3 252.9 219.1 253.7 196.3 252.1 188.1 252.5 181.9 254.6 171.9 262.5 161.0 268.7 159.1 270.7 157.4 274.9 157.3 279.0 157.9 281.1 160.8 285.2 165.3 288.2 175.7 292.6 183.9 294.3 194.3 294.8 243.9 294.1 260.4 294.6 266.6 294.2 272.8 292.7 286.2 285.2 326.9 268.7 335.6 264.5 362.5 250.1 414.4 219.1 416.9 217.0 418.0 214.9 418.0 212.9 414.5 206.7 413.3 202.5 413.9 190.1 413.4 186.0 411.3 182.9 409.2 181.7ZM51.7 236.8 49.9 237.7 49.8 239.7 53.7 241.0 57.9 241.0 64.1 240.1 65.4 239.7 67.2 237.7 59.9 235.9 55.8 235.9ZM82.7 200.0 80.6 200.5 77.3 202.5 76.9 204.6 80.6 206.3 84.7 206.7 88.9 205.9 91.5 204.6 91.9 202.5 89.7 200.5 86.8 199.8ZM134.3 198.0 129.3 200.5 126.9 202.5 125.2 204.6 121.9 210.6 109.5 212.1 105.4 213.8 103.3 217.0 103.5 221.1 104.7 223.2 107.5 224.8 109.5 225.2 113.7 225.2 117.8 224.0 120.7 221.1 122.9 212.9 124.0 211.4 136.4 210.0 150.9 203.4 153.8 200.5 153.4 198.4 152.9 198.1 146.7 196.4 140.5 196.7ZM214.9 176.7 214.0 179.8 214.7 186.0 215.8 188.1 219.1 190.6 223.2 191.6 229.4 191.1 233.5 189.2 234.9 188.1 236.0 186.0 235.8 183.9 234.5 181.9 229.4 178.8 221.1 177.0ZM272.8 210.8 266.6 212.5 261.0 214.9 242.7 225.3 243.9 226.7 245.8 227.3 250.1 227.0 289.3 217.0 293.0 214.9 292.7 212.9 288.1 210.8 281.1 210.1ZM314.1 111.6 312.1 111.8 310.0 113.7 311.7 115.7 314.1 116.2 318.3 115.7 319.2 113.7 316.2 112.0ZM428.9 59.9 434.0 58.5 440.2 57.9 444.3 58.4 450.6 59.9 454.7 62.0 458.8 66.6 460.9 67.6 469.1 69.0 473.3 70.6 475.3 72.3 476.4 76.5 475.3 77.9 473.3 78.0 467.1 77.6 462.9 76.6 460.0 74.4 457.2 70.3 454.7 69.4 446.7 70.3 431.9 74.0 425.7 73.3 421.6 71.5 420.0 70.3 418.7 68.2 418.9 66.1 420.5 64.1 423.7 62.0ZM164.7 163.3 165.3 161.6 165.7 163.3 165.3 165.3ZM0.0 175.7 12.4 174.2 16.5 174.5 20.7 175.7 20.5 177.7 14.9 179.8 2.1 180.7 0.0 180.7ZM744.0 175.7 744.0 180.7 739.2 179.8 740.0 177.7ZM675.2 179.8 682.0 179.0 688.2 180.2 692.5 181.9 702.7 187.9 706.8 189.3 712.7 190.1 713.1 192.2 711.8 194.3 708.9 197.0 706.3 198.4 702.7 199.2 698.5 199.0 690.3 197.5 686.1 197.5 671.7 200.4 661.3 201.0 653.9 200.5 651.0 199.3 650.1 198.4 649.5 196.3 649.8 194.3 651.0 192.2 653.1 190.4 664.1 186.0 671.7 181.3ZM636.0 204.6 640.7 204.7 643.4 206.7 644.0 210.8 642.7 213.3 640.7 213.6 638.6 213.0 632.4 208.7 631.8 206.7Z" fill="#FDFDFD"/><path d="M89.1 0.0 115.1 0.0 114.0 2.1 111.6 4.2 107.5 5.8 103.3 6.3 97.1 5.8 93.0 4.4 90.2 2.1ZM132.9 0.0 158.8 0.0 157.8 2.1 155.0 4.4 150.9 5.8 144.7 6.3 140.5 5.8 136.4 4.2 134.0 2.1ZM254.9 0.0 282.5 0.0 281.4 2.1 278.9 4.1 274.9 5.6 268.7 6.3 262.5 5.6 258.5 4.1 256.0 2.1ZM358.2 0.0 386.4 0.0 385.2 2.1 382.3 4.4 378.2 5.7 372.0 6.3 365.8 5.6 361.9 4.1 359.4 2.1ZM419.7 0.0 448.3 0.0 447.1 2.1 444.3 4.3 440.2 5.7 434.0 6.3 427.8 5.6 423.7 4.3 420.9 2.1ZM481.6 0.0 509.7 0.0 508.6 2.1 506.1 4.1 502.2 5.6 496.0 6.3 489.8 5.7 485.7 4.4 482.8 2.1ZM226.7 68.2 231.5 68.2 233.5 68.8 236.1 70.3 236.7 72.3 233.5 74.2 231.2 74.4 227.3 73.6 224.5 72.3 223.6 70.3ZM555.8 78.5 558.0 77.6 562.1 77.2 566.3 77.6 569.2 78.5 571.7 80.6 572.4 82.7 571.3 86.8 567.6 90.9 564.2 92.6 560.1 93.2 555.9 92.1 553.9 90.3 552.5 86.8 552.9 82.7 553.9 80.4ZM291.9 80.6 295.5 80.3 297.6 80.7 300.6 82.7 300.7 84.7 297.6 87.1 295.5 87.4 292.1 86.8 289.7 84.7 289.3 82.7ZM227.3 93.0 233.5 93.4 236.2 95.1 236.2 97.1 233.4 101.3 229.4 103.8 214.9 108.7 210.8 110.9 207.7 113.7 202.5 122.3 200.8 124.0 198.4 125.1 192.2 125.5 186.0 124.0 177.7 118.6 167.3 115.7 163.3 114.1 161.7 111.6 162.0 109.5 163.3 107.1 165.3 104.9 167.4 103.8 169.5 103.3 173.6 103.5 186.0 107.9 190.1 108.1 194.3 106.8 196.3 105.5 203.0 99.2 208.7 95.8 217.0 93.7ZM113.6 109.5 117.8 108.9 120.8 109.5 128.8 115.7 133.5 117.8 144.7 121.4 147.8 124.0 149.3 128.1 149.4 134.3 148.5 136.4 146.7 138.3 140.4 142.6 138.0 144.7 136.6 146.7 135.3 152.9 135.7 163.3 137.1 167.4 140.2 171.5 143.3 173.6 152.9 178.2 157.1 181.7 158.3 183.9 158.7 186.0 158.1 188.1 155.8 190.1 152.9 191.2 144.7 192.3 124.0 192.6 99.2 190.5 90.9 190.3 84.7 191.2 70.3 196.1 66.1 196.2 64.1 195.3 61.3 192.2 60.5 190.1 60.6 188.1 62.0 186.0 70.3 181.7 72.3 179.9 73.6 177.7 74.1 173.6 73.9 163.3 75.2 159.1 81.6 148.8 82.7 144.7 82.3 140.5 82.8 138.5 84.5 136.4 87.6 134.3 100.4 128.1 102.6 126.1 103.3 124.0 102.2 121.9 99.2 119.8 89.7 115.7 103.3 112.9ZM503.0 109.5 506.3 108.4 510.5 108.4 514.6 110.8 516.7 113.7 517.6 117.8 517.3 121.9 516.7 124.0 514.6 126.4 510.5 128.1 504.3 128.7 500.1 128.0 497.3 126.1 494.0 119.9 493.6 117.8 494.2 115.7 496.0 113.7 498.9 111.6ZM466.8 124.0 471.2 123.3 475.3 124.0 481.5 128.6 491.9 131.8 493.9 132.7 500.1 137.3 502.4 138.5 506.3 139.4 512.5 139.1 522.9 135.3 527.0 134.4 533.2 134.1 539.4 134.8 542.4 136.4 543.2 138.5 543.5 144.8 544.4 146.7 547.7 148.7 553.9 149.7 572.5 150.3 577.7 150.9 580.7 152.0 586.9 156.0 597.3 160.9 599.0 163.3 599.3 165.3 598.9 167.4 596.8 171.5 588.9 181.9 586.5 186.0 586.9 196.3 583.0 206.7 584.4 208.7 586.9 209.5 599.3 211.5 605.5 213.6 609.6 217.0 611.7 221.1 613.0 225.3 613.2 229.4 612.1 231.5 607.6 233.5 574.5 236.5 545.6 237.0 537.3 238.4 522.9 242.7 512.5 247.0 493.0 258.3 489.7 262.5 489.3 264.5 489.9 266.6 493.9 268.8 502.2 269.8 549.7 270.1 572.5 269.3 591.1 271.3 595.2 270.6 603.4 266.6 609.7 265.1 620.0 264.4 630.3 265.0 636.5 266.2 644.8 268.7 659.3 271.4 679.9 278.6 684.3 281.1 696.1 289.3 698.1 291.4 698.2 293.5 696.3 295.5 694.4 296.7 690.3 298.5 686.1 299.5 679.9 299.5 665.5 297.4 655.1 298.0 649.7 299.7 642.7 303.7 636.5 306.4 615.9 312.7 605.5 315.0 591.1 316.7 562.1 318.3 551.8 317.3 533.2 311.0 510.5 300.3 496.0 292.6 483.6 284.7 479.5 282.9 475.3 282.0 469.1 282.6 462.9 284.7 450.5 291.5 423.7 303.7 398.9 310.4 392.7 311.5 386.5 311.8 380.3 311.2 363.7 306.7 353.4 305.0 343.1 304.6 318.3 305.0 305.9 304.3 295.5 302.0 291.6 299.7 290.8 297.6 291.3 295.5 294.5 291.4 297.4 289.3 314.1 281.9 323.4 276.9 336.9 271.1 359.6 259.4 419.5 227.8 427.5 223.2 431.9 219.7 433.4 217.0 433.3 214.9 431.6 210.8 425.7 200.5 423.8 194.3 423.5 181.9 424.5 173.6 425.7 171.0 427.8 168.9 434.0 165.3 442.3 159.5 454.7 155.0 465.0 147.8 475.3 144.7 478.5 142.6 479.8 140.5 479.8 138.5 477.4 135.3 473.3 133.7 462.9 133.0 460.4 132.3 460.3 130.2 461.2 128.1 463.0 126.1ZM419.2 128.1 422.1 128.1 425.7 130.6 427.7 134.3 427.9 136.4 426.9 140.5 427.5 142.6 429.9 143.8 434.0 144.7 436.1 144.4 441.3 138.5 446.4 136.2 454.7 134.3 456.9 134.3 458.5 136.4 458.2 140.5 457.4 142.6 454.7 144.7 442.3 145.8 439.0 146.7 438.1 147.8 436.3 152.9 434.0 155.0 419.5 157.9 415.7 163.3 413.3 165.3 409.5 167.4 388.5 176.2 373.2 183.9 349.3 194.6 332.7 200.5 324.5 202.6 316.2 203.4 289.3 202.4 276.9 203.3 268.7 205.5 248.0 214.2 235.6 216.5 223.2 216.7 219.1 215.5 218.3 214.9 217.3 212.9 218.4 206.7 221.1 201.9 225.3 199.3 237.7 195.3 241.8 193.3 245.3 190.1 248.0 186.0 250.4 183.9 256.3 182.8 266.6 184.2 272.8 183.5 276.9 181.7 287.3 175.4 295.6 171.5 342.8 152.9 351.3 151.3 363.7 151.0 384.4 152.1 403.0 155.2 409.2 155.5 413.3 155.0 415.4 153.1 415.8 150.9 415.3 144.7 416.7 138.5 416.9 130.2ZM36.8 146.7 43.4 146.5 47.5 147.1 50.1 148.8 49.9 150.9 48.0 152.9 43.4 155.0 37.2 155.6 28.7 155.0 20.7 153.4 6.2 153.7 3.4 152.9 2.8 150.9 4.1 150.2 8.3 149.6 20.7 150.0ZM676.6 183.9 682.0 182.9 686.1 183.6 689.9 186.0 690.7 188.1 688.2 190.5 679.9 193.2 673.5 196.3 669.6 197.6 665.5 198.4 661.3 198.4 659.3 198.0 656.0 196.3 656.0 194.3 658.2 192.2 669.3 188.1ZM74.0 210.8 84.7 210.1 93.0 211.3 95.5 212.9 96.6 214.9 96.6 219.1 95.8 221.1 93.0 224.0 86.8 226.1 76.5 227.2 68.2 227.2 66.1 225.3 69.2 214.9 70.4 212.9ZM10.0 219.1 20.7 219.1 28.9 221.4 35.9 225.3 38.5 227.3 39.6 229.4 39.3 231.5 35.1 239.8 31.0 244.8 26.9 247.6 0.0 262.3 0.0 220.0ZM722.7 221.1 725.4 219.9 729.5 219.3 744.0 220.0 744.0 262.3 738.2 266.6 731.6 273.3 729.5 274.3 725.4 274.0 715.1 268.4 710.8 264.5 709.5 260.4 709.9 258.3 714.3 248.0 714.9 235.6 716.5 229.4 719.2 224.3ZM282.6 223.2 289.3 222.3 295.5 223.0 299.0 225.3 299.6 227.3 298.9 229.4 295.5 232.8 281.5 239.7 276.9 243.8 274.9 244.7 270.7 245.0 264.5 244.1 254.4 241.8 248.6 239.7 248.0 237.7 262.5 232.6 274.9 225.6Z" fill="#FFE4E0"/><path d="M124.8 121.9 132.3 122.0 139.9 124.0 142.3 126.1 142.9 128.1 142.4 130.2 140.4 132.3 134.3 134.5 128.1 135.1 124.0 134.3 121.6 132.3 120.8 128.1 121.8 124.0ZM527.9 140.5 533.2 139.7 535.8 140.5 537.2 142.6 537.3 144.7 536.6 146.7 535.3 148.1 531.1 149.3 527.0 149.4 522.9 148.7 521.6 146.7 522.3 144.7 524.3 142.6ZM111.3 144.7 113.7 144.0 117.8 144.1 121.9 146.1 124.0 148.2 126.6 152.9 129.6 167.4 132.3 173.2 136.4 176.4 145.6 179.8 148.8 181.7 150.7 183.9 150.6 186.0 146.7 188.3 142.6 188.9 136.4 188.8 132.3 188.0 121.9 183.5 115.7 181.9 107.5 181.1 88.9 182.0 82.7 180.6 80.6 178.7 78.5 174.0 77.3 167.4 78.1 163.3 79.3 161.2 81.4 159.1 84.7 157.1 94.0 152.9 103.3 147.7ZM542.2 152.9 547.7 151.9 555.9 151.7 564.2 152.0 570.5 152.9 575.0 155.0 580.4 161.2 589.0 165.2 590.8 167.4 591.1 169.5 589.9 173.6 587.4 177.7 582.5 183.9 581.7 186.0 583.4 194.3 583.4 196.3 581.4 200.5 578.7 203.2 572.5 206.1 566.3 206.9 547.7 206.0 522.9 207.5 500.1 207.6 489.8 208.5 480.8 210.8 469.1 216.3 462.9 217.9 458.8 218.4 452.6 218.0 446.4 215.7 442.3 212.5 438.1 206.7 434.0 196.3 433.3 190.1 434.0 186.2 435.2 183.9 436.9 181.9 440.2 179.5 446.4 177.4 450.5 177.0 452.6 177.3 453.2 177.7 451.6 181.9 451.6 183.9 452.6 185.1 454.7 186.0 456.7 185.5 467.1 179.4 475.3 175.7 478.4 173.6 483.6 168.7 496.0 165.3 500.4 163.3 501.7 161.2 501.5 157.1 504.3 154.7 508.4 153.5 512.5 153.3 514.6 153.8 520.3 157.1 529.1 157.8 535.3 156.8ZM240.2 204.6 245.9 203.1 248.0 203.3 249.9 204.6 248.0 206.7 243.9 207.4 239.6 206.7ZM588.5 212.9 595.2 212.9 599.3 213.5 603.4 214.9 605.5 216.4 607.7 219.1 609.0 223.2 608.6 227.3 607.6 228.6 605.5 230.1 601.1 231.5 586.9 232.2 574.5 230.8 569.0 229.4 565.7 227.3 566.8 225.3 572.5 221.7 580.7 215.1 584.9 213.4ZM75.3 214.9 80.6 213.1 86.8 213.5 90.1 214.9 91.4 217.0 91.1 219.1 89.0 221.1 86.8 222.1 82.7 223.0 78.5 222.8 74.7 221.1 73.6 219.1 73.8 217.0ZM7.4 225.3 16.5 223.6 20.7 223.9 24.8 225.2 28.0 227.3 29.4 229.4 29.8 231.5 29.5 233.5 27.2 237.7 24.8 239.9 20.7 242.4 10.3 246.9 0.0 253.8 0.0 227.3ZM727.4 227.3 731.6 226.6 744.0 227.3 744.0 253.8 731.6 262.1 727.5 263.9 723.3 264.3 719.1 262.5 717.7 260.4 717.2 258.3 719.8 248.0 720.4 237.7 721.3 234.2 723.3 230.3ZM614.9 266.6 622.1 266.3 628.3 267.0 633.7 268.7 642.7 272.6 655.1 275.1 671.7 279.7 679.6 283.1 684.0 287.3 684.9 289.3 683.9 291.4 682.0 292.4 677.9 293.4 655.1 293.8 644.8 295.0 640.7 296.5 632.4 301.0 626.2 303.1 605.5 306.5 595.2 310.0 586.9 312.1 574.5 312.9 568.3 312.5 562.1 311.4 535.3 303.2 527.6 299.7 516.7 293.5 511.0 289.3 509.8 287.3 510.7 285.2 516.7 283.7 539.4 283.2 576.6 279.8 603.5 278.5 605.0 276.9 605.3 272.8 606.1 270.7 608.3 268.7Z" fill="#FFC8C2"/><path d="M549.2 155.0 555.9 153.8 564.2 154.4 566.6 155.0 568.3 156.3 569.2 157.1 569.7 159.1 568.9 161.2 566.3 163.5 555.4 167.4 547.7 173.2 532.3 181.9 516.7 186.6 496.0 194.5 485.7 199.3 473.3 204.2 462.9 210.3 456.7 211.5 452.6 211.0 448.5 208.7 447.0 206.7 446.6 204.6 447.3 202.5 450.5 200.0 460.9 196.2 488.3 181.9 524.6 165.3 541.5 160.2ZM84.7 163.3 88.9 162.1 90.9 162.2 93.8 163.3 95.5 165.3 96.0 167.4 95.9 169.5 95.1 171.6 93.0 173.4 90.9 174.1 86.8 173.9 84.7 172.7 82.7 169.9 82.2 167.4 82.7 165.3ZM567.2 169.5 572.5 168.6 578.7 169.1 580.7 169.8 582.8 171.4 583.5 173.6 583.1 175.7 581.7 177.7 573.0 186.0 573.9 188.1 577.6 192.2 578.7 194.3 578.7 196.3 576.6 198.8 572.5 200.2 568.3 199.7 565.9 198.4 564.3 196.3 563.7 194.3 563.5 188.1 562.5 186.0 558.4 181.9 557.4 179.8 557.3 177.7 558.0 175.7 559.6 173.6 564.2 170.5ZM586.0 217.0 589.0 215.8 593.1 215.0 597.3 215.2 601.4 216.5 604.3 219.1 605.2 221.1 605.5 223.2 605.0 225.3 603.3 227.3 597.3 229.3 589.0 229.2 583.0 227.3 581.3 225.3 581.3 223.2 583.5 219.1ZM620.0 268.7 624.1 269.2 628.2 270.7 629.8 272.8 628.8 274.9 624.1 275.3 620.0 274.9 614.9 272.8 614.5 270.7 617.9 269.1ZM640.7 279.0 646.9 279.5 662.7 283.1 668.5 285.2 669.8 287.3 665.5 288.9 661.3 289.3 655.1 288.9 646.4 287.3 641.7 285.2 639.3 283.1 638.3 281.1Z" fill="#FFAAA0"/><path d="M590.7 219.1 595.2 218.0 599.3 219.0 600.9 221.1 600.9 223.2 599.3 225.0 597.3 225.8 593.1 225.9 590.6 225.3 588.6 223.2 588.8 221.1Z" fill="#FF9080"/></g></g>
<g clip-path="url(#lakes)"><g fill-rule="evenodd"><rect x="-2" y="-2" width="748" height="376" fill="#9DAEF8"/><path d="M0.0 0.0 744.0 0.0 744.0 372.0 0.0 372.0ZM26.9 214.6 20.7 217.0 20.8 219.1 25.8 221.1 31.0 221.7 33.7 221.1 35.9 219.1 36.2 217.0 35.1 214.7 33.1 213.9 31.0 213.8ZM671.7 150.5 669.9 150.9 669.2 152.9 671.7 153.5 674.2 152.9 674.2 150.9Z" fill="#BCC8FA"/><path d="M0.0 0.0 744.0 0.0 744.0 193.5 739.9 192.9 733.7 193.1 726.4 194.3 723.3 196.3 727.5 197.5 732.8 202.5 735.1 206.7 738.8 217.0 741.5 221.1 744.0 223.6 744.0 372.0 0.0 372.0 0.0 223.6 4.1 225.8 8.3 226.7 31.0 228.5 35.1 228.4 38.8 227.3 41.4 225.3 43.6 221.1 44.3 214.9 43.3 208.7 41.3 204.6 39.3 202.7 37.2 201.9 33.1 202.1 22.7 206.3 18.6 206.5 14.1 204.6 6.5 196.3 0.0 193.5ZM159.1 185.4 157.9 186.0 161.9 188.1 165.3 188.6 175.7 189.2 180.3 188.1 178.4 186.0 169.5 184.5 163.3 184.4ZM384.4 140.3 377.4 142.6 374.2 144.7 372.6 146.7 372.0 148.8 372.6 150.9 374.6 152.9 380.3 155.0 388.5 155.6 397.9 155.0 403.1 152.9 402.7 150.9 396.8 142.9 394.7 141.2 390.6 139.9ZM473.3 196.2 469.1 198.4 468.0 200.5 468.4 204.6 471.2 209.0 473.3 210.8 477.4 212.8 485.7 214.6 496.0 214.5 502.2 212.5 504.1 210.8 505.0 208.7 504.7 204.6 503.5 202.5 500.1 199.7 496.0 197.6 489.8 195.8 485.7 195.3 479.5 195.2ZM518.7 92.5 512.5 94.9 498.1 102.1 489.8 108.2 479.7 113.7 477.3 115.7 476.4 117.8 476.3 126.1 475.5 132.3 475.5 136.4 478.1 144.7 479.5 146.7 481.5 148.3 487.7 150.0 493.9 150.0 498.1 149.4 504.3 146.9 508.8 142.6 509.8 140.5 509.3 138.5 502.2 132.8 500.1 129.7 499.2 124.0 500.1 119.8 501.1 117.8 504.3 114.8 514.3 109.5 516.8 107.5 520.8 102.9 532.1 95.1 531.8 93.0 529.1 92.2 524.9 91.8ZM578.7 223.2 574.5 224.1 571.8 225.3 572.1 227.3 578.7 228.3 585.2 227.3 586.1 225.3 582.8 223.8ZM584.9 97.0 583.4 99.2 584.1 101.3 586.2 103.3 591.1 104.8 595.2 105.4 601.4 105.4 607.6 104.2 609.8 103.3 611.7 101.3 612.5 99.2 611.1 97.1 607.6 96.5 591.1 96.1ZM626.2 88.8 621.7 90.9 620.0 93.0 622.1 94.3 624.1 94.7 632.4 94.5 638.3 93.0 639.2 90.9 637.0 88.9 634.5 88.1 630.3 88.0ZM661.3 140.5 640.7 144.2 633.6 146.7 631.9 148.8 631.5 150.9 632.4 154.8 633.6 157.1 636.5 158.8 651.0 160.8 663.4 163.7 669.6 164.0 675.8 163.1 680.8 161.2 684.1 158.5 690.4 144.7 690.2 142.6 688.2 140.7 682.0 138.8 673.7 138.6ZM651.0 241.8 646.9 242.4 642.7 244.7 640.7 248.0 640.2 250.1 641.3 252.1 644.8 253.0 651.0 252.4 664.1 250.1 669.1 248.0 669.0 245.9 665.6 243.9 657.2 242.0ZM682.0 189.6 677.9 191.7 674.8 194.3 673.7 196.3 675.1 198.4 683.6 200.5 696.5 200.6 706.8 199.5 723.3 196.3 722.1 194.3 713.2 192.2 690.3 188.8 686.1 188.8Z" fill="#DCE2FC"/><path d="M0.0 0.0 744.0 0.0 744.0 74.7 740.6 76.5 738.3 78.5 736.9 80.6 736.5 82.7 737.1 84.7 737.8 85.4 739.9 86.5 744.0 87.1 744.0 182.9 729.5 182.5 713.0 184.6 704.7 184.8 698.5 183.7 682.2 177.7 682.0 175.7 683.4 173.6 690.3 167.7 691.6 165.3 691.9 157.1 693.4 152.9 694.9 150.9 698.5 148.0 702.7 146.1 719.2 143.2 720.6 142.6 721.6 140.5 720.4 138.5 717.5 136.4 710.9 133.3 708.9 131.7 706.8 128.9 704.5 124.0 702.7 122.1 700.6 121.4 696.1 121.9 692.7 124.0 688.2 127.9 684.1 129.5 665.5 131.1 651.6 136.4 629.2 142.6 626.2 143.9 624.7 144.7 623.1 146.7 623.4 155.0 622.4 157.1 617.2 163.3 616.4 165.3 616.5 167.4 617.5 169.5 619.6 171.5 622.1 173.0 628.3 175.0 634.5 176.0 644.8 175.2 663.4 175.8 671.7 176.4 678.8 177.7 679.0 179.8 674.6 186.0 669.5 190.1 660.2 196.3 658.7 198.4 659.3 200.8 661.6 202.5 663.4 203.1 671.7 204.2 686.1 204.7 713.0 204.3 717.2 204.6 721.3 205.6 723.3 206.7 725.5 208.7 730.6 217.0 737.3 225.3 739.9 227.7 744.0 230.3 744.0 372.0 0.0 372.0 0.0 230.3 6.2 231.8 20.7 231.9 33.1 233.2 39.3 232.5 43.4 230.4 45.5 228.2 47.1 225.3 48.3 221.1 49.1 214.9 48.7 202.5 47.5 196.3 45.5 190.1 45.2 188.1 45.8 186.0 49.6 183.2 60.8 179.8 59.4 177.7 57.9 177.5 45.5 176.0 35.1 175.6 31.0 176.2 27.2 177.7 25.5 179.8 24.0 183.9 20.7 186.0 18.2 186.0 8.3 183.9 0.0 182.9 0.0 87.1 8.3 85.8 24.8 79.7 44.7 76.5 49.1 74.4 50.2 72.3 48.7 70.3 45.5 68.1 41.3 66.6 37.2 66.2 14.5 70.3 0.0 74.7ZM82.7 47.5 76.5 48.5 74.6 49.6 75.0 51.7 77.9 53.7 95.1 62.4 101.3 64.0 107.6 64.1 115.9 62.0 117.6 59.9 114.4 57.9 99.2 53.9 88.9 48.7ZM138.5 16.4 134.3 17.0 129.7 18.6 127.6 20.7 128.2 22.7 132.8 24.8 142.6 25.1 148.8 23.6 150.4 22.7 151.7 20.7 150.6 18.6 146.7 16.9ZM314.1 295.4 309.7 297.6 310.0 299.7 314.1 300.6 318.4 299.7 319.5 297.6 318.3 295.8ZM607.6 39.0 603.5 41.8 599.6 47.5 598.0 53.7 598.0 64.1 597.0 66.1 595.2 67.0 578.7 68.2 572.5 69.3 566.3 71.6 558.0 76.3 551.2 78.5 539.4 81.5 522.9 83.9 514.6 85.7 489.8 96.3 485.7 99.2 481.3 103.3 476.7 105.4 473.3 105.8 470.7 105.4 467.1 103.7 460.9 99.5 454.7 98.0 444.3 98.6 436.1 101.0 427.6 105.4 425.2 107.5 422.6 111.6 422.4 115.7 424.0 124.0 422.5 130.2 422.5 132.3 428.6 138.5 429.4 140.5 429.2 142.6 428.2 144.7 425.8 146.7 419.5 148.7 415.4 148.8 411.3 147.8 409.1 146.7 406.7 144.7 405.6 142.6 404.6 136.4 403.0 134.5 398.9 133.5 392.7 133.7 376.1 138.0 369.9 140.5 366.5 142.6 364.1 144.7 361.2 148.8 359.6 152.9 359.6 157.1 361.3 159.1 365.8 161.0 374.1 161.5 420.5 157.1 434.0 155.0 440.5 152.9 443.2 150.9 443.7 148.8 438.3 138.5 437.7 134.3 438.4 132.3 441.9 128.1 444.7 126.1 450.5 123.2 454.7 122.3 458.8 122.9 461.0 124.0 462.7 126.1 465.6 142.6 464.7 150.9 466.1 152.9 471.2 155.4 481.5 157.4 491.9 157.8 500.1 156.8 506.3 154.7 516.9 146.7 525.8 142.6 528.6 140.5 527.6 138.5 523.4 136.4 512.5 133.1 507.1 130.2 505.1 128.1 504.1 126.1 504.3 122.3 505.6 119.9 510.5 116.3 522.4 111.6 533.2 105.1 543.5 102.1 555.9 100.8 564.2 102.0 567.8 103.3 574.5 107.2 578.7 108.2 611.7 107.9 615.9 106.9 622.1 101.6 624.1 100.4 628.3 99.1 640.7 96.9 645.2 95.1 646.6 93.0 646.3 90.9 645.2 88.9 640.7 84.3 635.1 80.6 634.5 79.6 632.4 78.6 630.3 79.1 627.9 80.6 622.1 82.2 617.9 82.8 613.8 81.9 611.7 80.6 610.1 78.5 608.1 74.4 609.2 72.3 613.8 71.9 620.0 72.6 625.2 74.4 629.2 76.5 630.3 77.6 632.4 78.4 634.5 77.3 637.4 74.4 638.8 72.3 638.7 70.3 633.1 64.1 630.6 59.9 628.5 53.7 627.0 43.4 626.3 41.3 624.4 39.3 622.1 38.0 617.9 37.2 611.7 37.7ZM140.5 181.8 128.1 183.5 99.2 185.5 95.9 186.0 92.6 188.1 93.3 190.1 97.1 192.6 102.6 194.3 109.5 194.8 119.2 194.3 132.3 191.7 140.5 190.9 183.9 194.0 190.1 193.0 191.8 192.2 193.3 190.1 193.0 188.1 190.1 185.5 186.6 183.9 176.4 181.9 159.1 180.4 150.9 180.6ZM365.8 181.6 355.3 183.9 353.8 186.0 359.2 188.1 368.4 190.1 380.3 191.7 396.8 191.8 400.9 191.2 404.2 190.1 404.2 188.1 402.3 186.0 398.7 183.9 392.7 182.1 380.3 180.9ZM493.9 173.5 488.8 175.7 487.7 177.1 487.3 183.9 485.7 186.5 483.1 188.1 479.5 189.1 460.9 192.6 457.7 194.3 456.5 196.3 456.6 198.4 461.8 210.8 471.0 225.3 473.1 227.3 483.6 234.3 486.5 237.7 492.1 245.9 496.0 249.7 498.1 250.9 502.2 252.3 508.4 252.6 514.6 252.1 520.8 250.5 524.9 247.6 528.6 239.7 530.1 237.7 533.2 235.6 537.3 234.3 543.5 233.9 562.1 234.9 615.9 232.5 620.0 232.8 622.1 233.9 622.8 235.6 623.0 243.9 625.7 250.1 629.4 254.2 632.8 256.3 636.5 257.5 640.7 258.3 648.3 258.3 663.4 255.3 686.1 253.6 691.3 252.1 690.8 250.1 682.5 243.9 678.5 241.8 663.1 235.6 655.1 230.6 648.9 229.9 632.4 230.8 628.3 230.4 626.5 229.4 625.9 227.3 626.0 225.3 628.1 217.0 628.3 212.9 627.4 210.8 625.3 208.7 620.0 206.7 613.8 206.6 609.7 208.2 607.6 210.7 605.7 214.9 601.4 216.8 597.3 216.9 584.9 215.4 576.6 215.3 570.4 216.2 555.9 219.8 549.7 220.6 541.5 219.8 535.3 217.8 529.1 214.7 524.2 210.8 522.8 208.7 522.3 206.7 522.8 204.6 524.5 202.5 533.9 196.3 535.6 194.3 537.3 189.5 539.4 187.3 543.5 185.7 560.1 184.0 566.3 182.8 568.8 181.9 570.6 179.8 569.0 177.7 563.2 175.7 545.6 173.9 500.1 172.8ZM549.7 121.8 547.1 124.0 548.0 126.1 549.7 126.8 553.9 127.0 555.9 126.5 558.0 124.0 557.0 121.9 555.9 121.3 553.9 121.0ZM599.3 123.5 597.3 124.2 595.2 126.1 594.4 128.1 595.2 130.5 597.3 131.2 601.4 130.5 604.9 128.1 606.3 126.1 605.5 123.9 603.5 123.3ZM512.5 357.2 511.3 357.5 518.7 358.4 524.7 357.5 518.7 356.8Z" fill="#FDFDFD"/><path d="M12.0 14.5 22.7 13.7 31.0 14.8 35.2 16.5 37.1 18.6 37.4 20.7 35.1 23.2 28.9 25.7 20.7 26.8 12.4 26.2 6.2 23.8 4.8 22.7 3.5 20.7 3.9 18.6 6.1 16.5ZM678.8 24.8 686.1 23.8 694.4 23.5 700.6 24.0 706.8 25.6 709.2 26.9 711.4 28.9 712.5 31.0 713.3 37.2 714.7 39.3 717.8 41.3 721.3 42.4 725.4 42.9 729.5 42.5 744.0 37.3 744.0 70.0 737.8 72.9 733.7 76.3 727.5 87.9 723.3 89.8 706.8 90.9 700.6 92.1 688.2 98.0 682.0 99.5 667.5 99.7 659.3 99.4 655.1 98.6 651.6 90.9 646.3 82.7 645.9 80.6 647.3 76.5 653.8 66.1 654.6 64.1 654.5 62.0 652.7 59.9 644.8 56.2 642.1 53.7 639.9 49.6 639.5 45.5 639.8 43.4 640.7 41.3 642.7 39.4 644.8 38.3 655.1 34.7 667.5 27.9ZM58.0 26.9 64.1 26.5 68.2 27.7 70.3 28.9 71.8 31.0 72.1 33.1 71.0 35.1 66.9 37.2 62.0 37.9 57.9 37.8 53.7 36.6 52.2 35.1 51.7 33.1 52.0 31.0 53.7 28.8ZM0.7 37.2 8.3 36.3 18.6 36.5 33.1 38.3 43.4 40.7 47.5 43.4 51.8 51.7 53.7 53.7 66.1 57.4 71.7 59.9 74.7 62.0 77.0 66.1 79.3 68.2 95.1 69.9 107.5 69.9 117.8 68.8 134.3 65.6 144.7 64.9 157.1 65.9 167.4 68.9 175.7 72.9 180.4 76.5 182.9 80.6 183.1 82.7 182.3 88.9 182.5 90.9 183.5 93.0 185.9 95.1 188.1 96.1 198.4 99.4 201.8 101.3 202.9 103.3 203.8 109.5 204.6 111.6 206.7 114.1 210.8 116.2 223.2 119.3 230.2 124.0 234.4 126.1 241.8 127.6 245.9 127.4 250.7 126.1 253.3 124.0 254.2 121.9 254.1 119.9 252.1 116.5 250.1 114.7 245.9 112.5 240.0 111.6 235.8 109.5 239.7 108.5 248.0 108.5 254.2 107.8 264.5 105.6 268.7 103.3 270.1 101.3 269.9 99.2 256.3 94.4 233.8 80.6 221.4 76.5 217.5 74.4 216.9 72.3 220.0 68.2 224.8 64.1 231.3 59.9 241.8 56.5 262.5 52.9 276.9 48.0 283.1 47.0 291.4 46.5 299.7 47.0 318.3 49.3 341.0 51.4 357.5 54.8 378.2 57.2 384.4 58.7 386.8 59.9 388.1 62.0 387.5 64.1 385.1 66.1 369.9 72.1 359.6 79.0 353.4 82.2 349.3 83.2 334.8 81.1 324.5 80.4 318.3 81.2 315.5 82.7 315.2 84.7 316.1 86.8 319.9 90.9 323.0 93.0 328.6 94.5 332.7 94.5 336.9 93.5 341.8 90.9 349.3 85.6 353.4 85.6 367.9 93.2 373.8 95.1 388.5 98.4 394.7 100.8 398.6 103.3 400.5 105.4 402.7 109.5 403.6 113.7 403.3 117.8 402.3 119.9 400.2 121.9 384.4 130.2 365.8 136.9 358.8 140.5 341.9 157.1 340.9 159.1 340.8 161.2 342.0 163.3 345.4 165.3 353.4 167.5 361.7 168.9 369.9 169.3 376.1 168.5 388.5 164.8 398.9 162.8 452.6 158.2 462.9 159.6 473.3 162.7 477.3 165.3 477.0 167.4 474.6 169.5 470.6 171.5 460.9 175.2 452.6 177.1 427.8 181.1 417.5 181.7 390.6 177.0 380.3 176.2 369.9 176.4 349.3 179.3 336.9 181.9 332.4 183.9 330.7 186.0 331.3 188.1 336.9 189.9 353.4 191.0 378.2 195.4 427.8 200.8 438.1 203.1 444.3 205.3 448.5 208.5 450.0 210.8 453.4 221.1 456.7 226.6 459.8 229.4 472.6 237.7 476.1 241.8 487.3 266.6 487.4 268.7 485.1 274.9 485.2 276.9 486.3 279.0 487.7 280.1 491.9 282.2 496.0 283.1 500.1 282.9 512.5 279.2 516.7 279.0 520.8 280.4 529.0 285.2 535.3 286.6 545.6 286.9 554.9 285.2 564.3 281.1 564.9 279.0 554.8 272.8 550.2 268.7 549.1 266.6 548.4 262.5 549.5 258.3 551.0 256.3 553.9 254.5 558.0 253.3 584.9 251.2 599.3 248.0 605.5 249.2 628.3 258.6 636.5 260.4 653.4 262.5 657.2 263.6 658.6 264.5 661.3 271.8 663.4 274.5 665.5 275.9 667.5 276.4 669.6 276.1 671.7 274.7 673.5 270.7 674.2 266.6 675.2 264.5 677.9 263.2 682.0 262.6 702.7 262.0 710.9 260.2 727.5 254.0 731.6 253.3 737.8 253.3 744.0 254.0 744.0 299.7 721.3 304.2 710.9 304.8 702.7 304.4 696.5 303.2 692.9 301.7 682.0 293.5 677.9 291.6 673.7 290.8 663.4 291.1 648.9 290.2 643.9 291.4 641.3 293.5 640.1 295.5 637.4 303.8 635.6 305.9 632.4 307.7 626.2 310.0 623.7 312.1 626.7 318.3 626.2 320.4 622.1 322.6 617.9 322.5 615.9 321.7 609.7 316.6 605.5 315.3 578.7 314.3 558.0 311.1 547.7 311.0 520.8 312.4 498.1 314.4 483.6 314.6 469.1 313.4 448.5 308.7 438.1 307.8 429.9 309.1 416.9 314.1 398.9 317.7 386.5 322.4 378.2 323.0 374.1 322.6 369.9 321.4 359.5 314.1 345.1 308.8 340.5 305.9 338.6 303.8 336.8 299.7 335.9 283.1 334.8 276.9 332.7 275.1 330.7 274.9 324.5 276.9 316.2 282.8 310.0 285.2 303.8 285.6 293.5 284.0 289.3 284.0 286.6 285.2 280.8 289.3 274.9 291.2 256.3 293.0 225.3 293.7 215.4 295.5 200.5 299.9 194.3 300.9 188.1 301.1 181.9 300.4 175.7 298.4 169.5 295.5 165.3 294.6 161.2 295.1 150.9 299.3 144.7 301.0 128.1 302.7 117.8 302.5 88.9 300.7 82.7 301.1 70.3 303.4 62.0 303.6 55.8 302.3 43.4 297.6 35.1 296.7 28.9 296.8 16.5 298.5 0.0 299.7 0.0 254.0 12.4 257.6 16.5 257.8 18.6 257.2 20.7 256.1 22.3 254.2 23.1 250.1 22.5 248.0 20.8 245.9 15.1 241.8 13.8 239.7 16.5 238.4 20.7 237.7 31.0 238.6 37.2 238.2 43.4 236.3 47.5 233.3 50.1 229.4 52.1 223.2 54.3 206.7 57.2 192.2 58.0 190.1 60.4 188.1 64.1 187.0 70.3 187.1 74.4 188.3 86.3 194.3 92.2 196.3 101.3 197.6 117.8 198.7 126.1 198.7 142.6 196.1 152.9 195.5 165.3 196.0 186.0 198.7 194.3 198.8 204.6 197.1 206.7 196.3 208.2 194.3 207.4 192.2 201.4 186.0 196.3 183.1 188.1 181.2 165.3 178.1 155.0 177.3 142.6 177.4 113.7 180.6 101.3 181.3 88.9 181.1 82.7 180.2 69.7 175.7 51.7 172.7 43.4 170.3 32.5 165.3 29.1 163.3 27.3 161.2 24.1 155.0 20.7 151.8 16.5 150.2 4.1 148.0 0.0 146.5 0.0 90.5 10.0 88.9 24.8 84.9 43.4 83.7 53.7 81.7 62.0 78.9 67.2 76.5 73.2 72.3 74.5 70.3 71.7 68.2 64.1 66.7 57.9 64.4 54.1 62.0 49.6 57.9 45.5 57.0 39.3 58.1 24.8 63.2 8.3 67.3 0.0 70.0 0.0 37.3ZM225.3 186.9 223.5 188.1 225.3 189.5 227.3 189.9 231.7 188.1 229.4 186.1 227.3 186.0ZM268.7 193.5 268.1 194.3 274.8 196.3 287.3 197.7 289.3 196.3 281.9 194.3 272.8 192.7 270.7 192.6ZM285.2 92.9 284.5 93.0 284.5 95.1 287.3 94.6 289.3 93.0ZM312.1 206.1 310.0 206.7 308.7 210.8 308.6 219.1 310.0 223.3 313.5 225.3 320.3 226.4 334.8 227.6 351.3 227.3 355.5 228.3 357.0 229.4 357.2 231.5 354.9 237.7 354.8 239.7 356.7 245.9 360.0 250.1 367.9 254.8 390.6 263.1 394.7 264.1 398.9 264.3 403.0 263.3 406.9 260.4 412.9 250.1 413.3 248.0 412.9 245.9 409.7 241.8 398.9 233.3 392.7 227.3 389.3 225.3 384.4 224.5 372.0 225.0 365.8 224.6 363.0 223.2 358.0 217.0 353.5 214.9 351.3 214.6 347.2 214.6 343.1 215.3 332.7 220.1 330.7 219.4 328.6 217.9 320.3 209.7 316.2 207.2ZM128.1 235.3 119.6 237.7 116.4 239.7 114.6 241.8 114.0 243.9 115.6 245.9 117.8 246.8 128.1 248.3 155.0 248.5 181.9 246.9 194.3 248.4 200.5 248.6 204.7 248.0 208.4 245.9 209.8 243.9 210.1 241.8 209.4 239.7 206.7 237.7 198.4 236.2 186.0 235.9 163.3 234.3ZM372.0 282.5 369.6 285.2 369.5 287.3 372.0 289.3 374.1 289.3 377.2 287.3 378.2 285.2 377.5 283.1 376.1 282.2 374.1 281.9ZM424.1 47.5 434.0 46.0 448.5 45.8 465.0 46.7 475.3 48.5 489.8 54.8 504.3 59.2 508.4 61.1 512.5 64.1 516.1 68.2 517.0 70.3 516.8 72.3 515.1 74.4 512.0 76.5 500.5 82.7 491.9 85.9 485.7 86.9 479.5 86.9 467.1 86.2 460.9 85.2 450.0 80.6 429.9 75.2 425.7 73.2 423.7 71.5 421.6 68.2 417.1 53.7 417.3 51.7 419.1 49.6ZM740.1 90.9 744.0 90.5 744.0 146.5 731.6 135.3 720.2 130.2 716.8 128.1 715.0 126.1 714.3 124.0 714.5 121.9 715.6 119.9 720.7 115.7 722.2 113.7 721.3 111.0 715.0 105.4 714.6 103.3 715.9 101.3 719.2 98.7 729.5 92.6 733.7 91.6ZM635.4 101.3 642.7 100.4 648.9 100.3 652.2 101.3 652.5 103.3 651.8 105.4 648.9 108.1 644.8 109.4 638.6 109.6 632.4 108.2 630.8 107.5 629.1 105.4 630.1 103.3ZM542.5 109.5 547.7 110.0 550.4 111.6 549.3 113.7 543.5 116.5 539.4 119.5 537.9 121.9 535.5 130.2 533.2 131.5 524.9 132.0 516.7 130.9 512.5 129.4 510.4 128.1 508.7 126.1 508.1 124.0 508.8 121.9 512.5 118.8 516.7 117.2 529.1 114.1 537.3 110.7ZM593.0 111.6 599.3 111.3 605.5 111.8 610.7 113.7 611.2 115.7 607.6 117.6 597.3 119.2 593.1 120.7 589.2 124.0 584.9 129.3 580.7 131.9 576.6 133.0 572.5 133.3 570.4 133.2 567.9 132.3 566.8 130.2 566.7 124.0 568.2 119.9 570.4 117.8 575.9 115.7ZM618.7 121.9 622.1 120.7 626.2 120.3 634.5 120.5 640.7 121.4 644.8 122.7 647.0 124.0 648.3 126.1 648.2 128.1 647.1 130.2 645.1 132.3 641.9 134.3 634.5 137.2 622.0 140.5 617.4 142.6 615.9 144.7 615.8 146.7 617.2 152.9 617.0 155.0 611.2 165.3 611.1 169.5 612.5 175.7 611.7 177.9 607.6 180.5 599.3 182.0 593.1 181.4 578.7 175.7 570.1 173.6 541.5 170.0 520.8 168.3 515.8 167.4 511.3 165.3 510.5 163.3 511.2 161.2 515.4 155.0 519.1 150.9 524.9 147.4 546.2 142.6 549.4 140.5 551.8 137.2 553.9 136.3 561.2 136.4 566.9 140.5 570.4 141.7 574.5 142.3 580.7 141.5 601.4 136.5 607.6 133.3ZM701.1 152.9 704.7 151.4 710.9 151.3 715.8 152.9 718.0 155.0 718.2 157.1 717.0 159.1 713.0 161.1 708.9 161.6 704.7 161.2 700.6 159.2 699.3 157.1 699.4 155.0ZM653.0 186.0 657.2 184.3 659.3 184.3 661.3 186.0 657.2 188.1 655.1 188.1ZM661.7 210.8 673.7 209.3 686.1 208.9 700.6 209.6 710.9 211.2 717.1 214.4 727.5 222.2 740.3 235.6 741.8 237.7 741.2 239.7 738.2 241.8 731.6 244.9 723.3 247.0 713.0 246.5 704.7 245.0 696.5 242.7 673.7 233.5 670.9 231.5 663.4 224.2 654.1 219.1 652.4 217.0 652.8 214.9 655.3 212.9ZM4.6 363.7 20.7 363.9 28.9 365.2 34.1 367.9 36.5 372.0 0.0 372.0 0.0 363.9ZM267.4 363.7 283.1 363.6 295.5 364.8 301.7 367.4 303.8 369.8 304.7 372.0 253.0 372.0 255.0 367.9 257.8 365.8 262.5 364.3ZM476.8 363.7 487.7 362.3 498.1 362.0 539.4 364.2 543.5 364.9 547.7 366.3 550.0 367.9 552.5 372.0 460.4 372.0 461.3 369.9 465.0 366.8 469.1 365.2ZM142.6 365.8 148.8 366.0 152.9 367.0 157.1 369.8 158.3 372.0 130.8 372.0 132.0 369.9 134.4 367.9 138.5 366.4ZM223.6 365.8 229.4 366.0 233.5 367.3 236.6 369.9 237.5 372.0 213.0 372.0 214.0 369.9 216.3 367.9 219.1 366.6ZM370.1 365.8 376.1 366.0 380.3 366.9 384.4 369.5 385.9 372.0 358.4 372.0 359.5 369.9 362.0 367.9 365.8 366.4ZM734.0 365.8 737.8 364.7 744.0 363.9 744.0 372.0 728.2 372.0 730.5 367.9Z" fill="#FFE4E0"/><path d="M684.8 35.1 688.2 34.8 692.3 35.3 702.7 41.3 707.2 43.4 717.1 47.0 723.3 48.6 727.5 49.1 733.7 48.7 744.0 45.6 744.0 64.4 737.8 66.8 731.6 70.3 727.7 74.4 723.3 82.7 719.7 84.7 713.0 85.8 692.3 86.2 688.2 87.8 682.0 93.0 675.8 95.0 667.5 95.4 661.3 94.0 657.2 91.1 653.9 86.8 651.9 82.7 652.0 80.6 652.8 78.5 655.1 75.7 667.5 66.5 670.0 64.1 671.4 62.0 673.0 57.9 674.7 45.5 676.1 41.3 679.7 37.2ZM6.5 43.4 14.5 42.4 24.0 43.4 29.0 45.5 31.2 47.5 31.8 49.6 31.1 51.7 29.2 53.7 22.9 57.9 17.8 59.9 0.0 64.4 0.0 45.6ZM432.8 53.7 438.1 52.3 444.3 51.8 460.9 53.1 471.2 55.8 478.5 59.9 480.2 62.0 479.1 64.1 474.9 66.1 460.9 70.7 452.6 71.7 442.3 71.0 438.1 70.1 434.0 68.4 431.1 66.1 429.6 64.1 428.6 59.9 428.9 57.9 430.0 55.8ZM135.5 70.3 142.6 69.5 150.9 70.2 157.6 72.3 165.7 76.5 169.5 78.9 172.5 82.7 173.1 90.9 173.9 93.0 175.4 95.1 181.1 99.2 193.1 105.4 195.3 107.5 199.7 113.7 202.5 116.6 208.3 119.9 217.0 123.0 229.4 128.6 235.6 130.4 245.9 131.1 250.1 130.5 254.2 129.2 258.3 126.8 261.0 124.0 264.0 117.8 266.6 114.9 276.9 109.7 285.2 104.8 289.3 103.3 295.5 102.4 336.9 100.3 353.4 98.8 369.9 100.2 378.2 102.0 381.9 103.3 385.2 105.4 388.4 109.5 389.1 111.6 388.9 115.7 386.7 119.9 384.9 121.9 380.3 125.6 376.1 127.9 369.5 130.2 353.4 133.7 347.7 136.4 342.6 144.7 330.7 155.0 326.8 161.2 326.1 165.3 326.8 167.4 332.7 173.6 330.7 175.7 322.4 180.0 320.3 182.2 316.8 188.1 314.7 190.1 312.1 191.3 307.9 191.8 299.7 191.0 289.3 188.5 282.8 186.0 274.5 181.9 260.4 177.4 252.6 175.7 248.0 175.7 231.5 179.0 221.1 179.5 206.7 178.6 186.0 178.3 159.1 175.0 138.5 174.2 128.1 175.0 110.9 177.7 99.2 178.2 90.9 177.5 72.8 173.6 57.9 171.7 47.5 168.7 35.1 161.8 32.0 159.1 26.9 151.4 24.8 149.3 20.7 146.8 10.6 142.6 0.0 134.3 0.0 94.1 24.8 89.7 43.4 89.0 51.7 88.0 62.0 85.6 78.5 79.2 84.7 77.4 93.0 76.4 115.7 75.6 124.0 73.8ZM59.9 98.9 55.5 101.3 53.9 103.3 53.4 105.4 53.7 107.9 57.5 115.7 57.7 117.8 56.5 121.9 53.7 126.1 55.8 127.6 59.9 125.9 65.9 119.9 74.4 113.2 77.4 109.5 78.7 105.4 78.5 103.3 77.5 101.3 74.4 99.1 68.2 98.0ZM282.3 80.6 285.2 79.6 287.3 79.6 290.7 80.6 289.3 82.7 287.3 82.8 284.5 82.7ZM739.9 95.1 744.0 94.1 744.0 134.3 739.9 131.0 725.4 126.2 723.3 124.0 724.2 121.9 729.5 117.1 730.7 113.7 730.2 111.6 726.6 105.4 726.3 103.3 727.7 101.3 730.4 99.2ZM518.6 119.9 522.9 119.4 527.1 119.9 529.6 121.9 529.8 124.0 528.7 126.1 524.9 127.9 520.8 128.3 516.7 127.5 514.1 126.1 513.0 124.0 514.1 121.9ZM622.6 128.1 626.2 127.1 630.3 127.3 632.6 128.1 633.6 130.2 632.2 132.3 628.3 134.3 622.1 135.4 617.9 134.5 617.9 132.3 619.5 130.2ZM595.4 142.6 601.4 142.2 605.5 143.2 607.6 144.9 609.7 147.9 611.6 152.9 610.8 157.1 607.6 163.3 604.7 171.5 603.1 173.6 599.3 175.2 593.1 175.2 573.3 171.5 528.4 165.3 522.3 163.3 520.2 161.2 519.7 159.1 520.7 155.0 522.1 152.9 524.9 150.7 531.1 148.3 543.5 146.9 562.1 148.0 570.4 147.6 578.7 146.5ZM413.3 165.3 450.5 164.7 454.7 165.3 454.7 167.4 446.4 169.5 417.5 173.2 411.3 173.1 405.1 172.1 402.6 171.5 400.4 169.5 402.9 167.4ZM347.2 194.3 353.4 194.5 359.6 195.5 374.1 199.6 380.3 200.8 405.1 202.7 417.5 204.4 424.5 206.7 435.1 212.9 439.1 217.0 442.2 225.3 445.0 229.4 459.5 239.7 463.5 243.9 466.4 250.1 467.3 254.2 466.5 258.3 462.9 262.0 449.1 268.7 443.4 272.8 442.3 274.9 442.1 276.9 442.9 279.0 445.2 281.1 449.7 283.1 469.1 287.2 496.0 296.3 502.2 296.7 516.7 294.4 527.0 293.7 537.3 293.9 553.9 295.5 558.0 295.0 569.8 289.3 580.7 285.7 584.9 283.7 591.1 276.3 603.5 272.3 605.6 270.7 611.3 262.5 615.9 260.6 622.1 260.7 636.5 262.7 644.8 264.2 648.9 265.6 650.8 266.6 652.6 268.7 653.5 270.7 653.8 274.9 653.3 276.9 652.1 279.0 649.2 281.1 636.8 285.2 633.3 287.3 631.5 289.3 628.0 295.5 626.2 297.6 622.8 299.7 617.9 300.9 613.8 301.1 599.3 299.4 597.3 300.2 592.4 303.8 589.0 305.0 584.9 305.8 576.6 305.4 558.0 301.6 535.3 305.1 522.9 304.8 502.2 303.0 498.1 303.3 485.7 305.8 479.5 306.2 471.2 305.5 450.5 301.7 419.5 299.5 413.3 299.7 400.9 302.3 394.7 302.9 374.1 301.9 361.7 303.4 353.4 302.2 349.3 299.7 348.0 297.6 347.1 291.4 344.0 283.1 344.4 279.0 346.2 276.9 351.3 274.7 361.7 272.5 365.1 266.6 368.7 264.5 372.0 264.3 376.1 265.1 380.1 266.6 382.8 268.7 383.3 270.7 380.3 272.4 367.9 273.7 364.3 274.9 357.1 289.3 357.3 291.4 358.9 293.5 361.7 295.5 367.9 298.6 372.0 299.7 374.1 300.8 380.3 298.4 384.4 295.3 386.5 292.9 391.0 285.2 392.7 283.3 394.7 282.2 398.9 282.0 409.2 283.5 415.4 283.8 421.6 282.5 425.7 280.0 427.5 276.9 427.5 274.9 423.3 266.6 422.7 262.5 424.0 258.3 431.3 250.1 432.0 248.0 431.5 245.9 427.4 241.8 421.6 237.7 411.3 231.9 407.8 229.4 406.1 227.3 405.2 225.3 404.2 219.1 402.3 217.0 400.9 216.3 396.8 214.8 392.7 214.3 388.5 214.5 378.2 216.4 374.1 216.4 369.9 215.1 363.7 211.9 359.6 210.5 353.4 209.5 341.0 208.6 336.9 207.7 334.5 206.7 332.3 204.6 331.3 202.5 331.1 200.5 332.7 198.0 336.9 195.9ZM66.8 200.5 70.3 199.3 72.3 199.3 82.7 201.0 103.3 200.4 113.7 201.5 126.1 204.0 130.2 204.2 148.8 200.4 157.1 199.8 163.3 200.1 183.9 203.6 204.6 205.3 208.7 206.7 219.1 212.3 223.2 213.3 227.3 213.6 232.5 212.9 237.5 210.8 243.9 204.5 247.0 202.5 250.1 201.6 256.3 201.0 264.5 201.2 285.2 203.9 295.5 206.8 299.0 208.7 301.2 210.8 302.4 212.9 303.3 217.0 302.2 225.3 302.7 227.3 305.9 228.9 316.2 231.1 320.3 232.4 330.7 238.3 341.0 242.8 344.9 245.9 346.4 248.0 348.3 252.1 348.8 254.2 348.6 256.3 346.6 258.3 320.3 271.4 310.0 277.3 305.9 277.9 291.4 276.3 285.2 276.6 279.0 278.3 270.5 283.1 262.5 285.0 212.9 289.1 192.2 291.6 183.9 290.8 167.4 286.8 159.1 286.4 153.6 287.3 142.6 290.8 136.4 292.1 117.8 293.7 107.5 293.9 102.9 293.5 99.2 292.4 96.3 291.4 93.9 289.3 97.1 287.8 105.4 285.8 108.6 283.1 108.9 281.1 107.7 279.0 105.4 277.9 101.3 277.2 97.1 277.8 93.8 279.0 91.5 281.1 88.9 285.8 86.8 286.7 80.6 287.0 62.0 286.2 43.4 287.3 37.2 286.0 25.3 281.1 20.7 280.5 16.5 281.7 8.3 287.9 4.1 289.6 0.0 290.3 0.0 268.7 4.1 268.9 10.3 267.9 16.5 265.9 22.7 262.9 28.6 258.3 37.2 247.4 47.5 240.6 51.1 237.7 52.8 235.6 54.8 231.5 58.5 212.9 59.9 207.9 62.0 204.3 64.1 202.2ZM119.9 231.2 109.5 234.6 100.0 239.7 92.5 245.9 91.5 248.0 92.2 250.1 97.1 252.6 109.5 254.1 146.7 254.3 179.8 253.4 202.5 253.5 208.7 252.5 213.8 250.1 217.6 245.9 220.5 239.7 220.4 237.7 219.1 235.6 216.2 233.5 210.8 231.6 204.6 230.6 169.5 229.7 132.3 229.9 126.1 230.2ZM677.6 214.9 684.1 214.6 690.3 215.5 704.7 221.0 715.1 222.9 719.2 224.2 723.3 226.5 726.4 229.4 728.9 233.5 729.2 235.6 728.2 237.7 724.6 239.7 719.2 240.7 713.0 240.6 704.7 239.0 682.2 231.5 678.4 229.4 676.0 227.3 672.8 223.2 670.9 219.1 671.8 217.0ZM567.5 258.3 572.5 257.4 578.7 257.2 584.9 258.1 586.9 259.2 588.2 260.4 588.8 262.5 588.2 266.6 586.7 270.7 584.9 272.4 583.6 272.8 578.7 273.1 572.5 272.1 566.3 269.7 562.8 266.6 562.1 264.5 562.2 262.5 563.6 260.4ZM722.8 264.5 729.5 263.8 733.7 264.1 735.8 264.5 744.0 268.7 744.0 290.3 737.8 290.0 733.7 288.6 731.6 287.0 727.5 280.6 725.4 279.3 723.3 279.0 721.3 279.5 718.8 281.1 713.0 288.9 710.9 290.9 708.9 291.8 704.7 292.1 700.6 290.5 696.5 287.5 692.5 283.1 690.2 279.0 689.0 274.9 689.4 272.8 691.7 270.7 708.9 267.7ZM481.7 365.8 489.8 364.6 498.1 364.2 527.0 365.8 538.9 367.9 543.1 369.9 545.0 372.0 467.9 372.0 470.0 369.9 473.3 368.2ZM0.0 367.9 0.0 367.4 6.2 366.7 18.6 367.0 24.8 368.6 27.4 369.9 29.4 372.0 0.0 372.0ZM263.7 367.9 268.7 366.6 272.8 366.2 285.2 366.6 293.5 368.8 295.4 369.9 297.4 372.0 258.8 372.0 260.4 369.9ZM741.9 367.9 744.0 367.4 744.0 372.0 735.3 372.0 737.8 369.6Z" fill="#FFC8C2"/><path d="M691.3 49.6 694.4 48.2 698.5 47.6 702.7 47.9 708.9 49.5 718.1 53.7 723.3 57.9 724.1 59.9 723.3 62.0 721.3 64.1 708.9 71.7 704.7 72.3 700.6 72.3 688.2 70.9 686.1 70.3 684.5 68.2 684.4 66.1 685.8 59.9 687.9 53.7 689.2 51.7ZM445.2 59.9 451.9 59.9 454.7 62.0 450.5 63.5 446.4 63.3 443.5 62.0ZM666.0 76.5 671.7 76.2 673.7 77.5 674.3 78.5 674.6 84.7 674.1 86.8 671.7 89.2 667.5 90.0 663.4 89.1 660.3 86.8 658.8 84.7 658.3 82.7 659.3 80.2 661.3 78.3ZM155.0 95.1 159.1 94.3 163.3 95.3 174.2 101.3 186.0 106.4 190.7 109.5 196.3 116.1 200.6 119.9 204.6 122.1 229.4 132.5 239.7 134.4 245.9 134.5 252.1 133.8 260.4 131.3 270.7 125.1 274.9 124.4 279.0 125.8 285.7 130.2 291.2 132.3 310.0 134.3 318.3 136.3 322.4 138.2 325.7 140.5 327.3 142.6 327.6 144.7 325.3 148.8 314.1 163.1 310.0 166.5 305.9 168.4 297.6 170.1 274.9 172.7 256.3 171.6 248.0 171.7 227.3 175.3 206.7 173.5 190.1 175.5 183.9 175.6 159.1 172.3 134.3 170.7 126.1 171.3 109.5 174.9 103.3 175.4 97.1 175.1 80.6 172.2 62.0 170.5 53.7 168.7 47.5 165.8 39.3 160.6 35.2 157.1 33.7 155.0 30.9 146.7 31.1 144.7 33.1 142.7 43.4 139.2 62.0 134.3 66.7 132.3 74.5 126.1 93.0 107.4 97.1 104.8 101.3 103.6 105.4 103.2 126.1 105.0 136.4 104.2 140.2 103.3 144.7 101.4ZM24.9 97.1 36.5 97.1 39.3 98.0 40.9 99.2 41.5 101.3 41.3 103.3 39.3 108.2 37.2 109.7 35.1 110.2 26.9 109.9 22.7 111.1 20.7 113.7 18.9 117.8 16.5 119.4 8.3 120.0 0.0 119.0 0.0 99.0 8.3 97.7ZM743.5 99.2 744.0 99.0 744.0 119.0 741.4 117.8 739.4 115.7 736.6 109.5 735.5 105.4 736.3 103.3 737.8 101.9ZM320.8 107.5 332.7 106.6 349.3 106.7 367.9 106.0 372.0 106.8 376.1 109.0 378.2 111.6 378.6 113.7 377.3 117.8 375.6 119.9 372.7 121.9 366.5 124.0 359.6 124.5 343.1 123.3 307.9 119.2 301.6 117.8 297.6 116.3 296.3 115.7 294.3 113.7 295.1 111.6 299.9 109.5ZM583.7 148.8 593.1 147.1 597.3 147.0 601.4 148.1 604.6 150.9 605.7 152.9 605.7 157.1 602.1 165.3 599.3 169.0 595.2 170.7 586.9 170.8 535.3 163.8 531.1 162.8 527.2 161.2 525.2 159.1 524.6 157.1 525.1 155.0 527.0 152.8 530.7 150.9 535.3 149.7 545.6 149.5 558.0 152.5 562.1 152.8ZM92.9 204.6 97.1 203.5 103.3 203.1 109.5 203.7 115.7 205.7 120.4 208.7 122.0 210.8 123.8 214.9 123.6 219.1 121.1 221.1 116.6 223.2 111.2 225.3 103.3 227.3 97.1 226.9 88.9 223.8 86.8 223.8 84.0 225.3 82.7 227.3 83.9 233.5 83.7 235.6 82.7 237.7 78.5 242.2 75.9 245.9 74.0 252.1 74.3 254.2 75.9 256.3 80.6 257.9 97.1 259.2 157.1 259.4 183.9 260.1 196.3 259.3 214.9 257.3 219.1 255.5 220.5 254.2 225.3 247.7 229.4 244.2 233.5 242.6 239.7 241.2 241.7 239.7 239.9 237.7 233.5 234.1 227.4 229.4 225.6 227.3 224.7 225.3 225.5 223.2 229.0 221.1 242.0 217.0 246.6 214.9 253.4 208.7 256.3 207.2 260.4 206.2 266.6 205.8 276.9 206.3 287.3 207.8 293.5 209.8 297.6 213.1 299.1 217.0 298.9 219.1 297.6 222.0 293.5 225.9 286.9 229.4 284.8 231.5 284.3 233.5 284.7 235.6 287.3 238.7 289.3 239.7 293.5 239.7 301.3 235.6 305.9 234.4 310.0 234.4 314.1 235.2 318.3 237.2 324.5 241.5 334.8 246.0 337.2 248.0 338.1 250.1 338.0 252.1 336.8 254.2 334.6 256.3 324.5 263.6 318.3 266.5 307.9 269.9 299.7 271.3 287.3 271.0 279.0 269.2 274.9 266.8 270.7 266.5 262.9 268.7 258.7 270.7 249.5 276.9 240.4 281.1 232.6 283.1 223.2 284.2 194.3 286.0 188.1 286.0 165.3 281.7 155.0 281.0 146.7 282.0 134.3 285.5 126.1 286.0 121.9 285.2 119.9 284.1 113.6 276.9 109.7 274.9 105.4 273.8 101.3 273.5 95.1 274.0 88.9 275.6 80.6 279.0 72.3 279.9 43.4 278.0 35.1 275.8 28.9 272.8 27.0 270.7 26.9 268.7 28.1 266.6 39.3 255.5 55.8 243.1 59.4 239.7 60.9 237.7 61.9 233.5 62.0 227.3 62.9 221.1 64.1 217.4 66.1 214.3 68.2 213.1 70.3 212.6 80.6 213.8 82.7 213.6 84.7 212.4 89.5 206.7ZM281.1 255.8 279.0 256.8 277.6 258.3 277.1 260.4 279.0 262.7 281.1 262.8 285.2 261.8 287.9 260.4 289.3 258.3 287.3 255.9 285.2 255.4ZM151.2 208.7 157.1 207.6 163.3 207.5 192.2 210.9 198.4 212.6 200.5 213.8 203.8 217.0 204.3 219.1 202.6 221.1 200.5 221.9 194.9 223.2 188.1 223.9 169.5 224.3 152.7 223.2 146.0 221.1 144.5 219.1 145.7 212.9 147.4 210.8ZM622.0 264.5 632.4 264.6 642.7 266.5 646.6 268.7 647.7 270.7 647.8 272.8 646.9 274.9 644.8 276.8 638.6 279.0 628.3 279.9 620.0 279.0 617.9 278.3 615.9 276.4 615.1 274.9 615.0 270.7 615.7 268.7 617.3 266.6ZM483.3 367.9 496.0 366.1 514.6 366.6 531.1 368.8 535.1 369.9 538.4 372.0 474.3 372.0 477.3 369.9ZM3.9 369.9 14.5 369.6 18.6 370.4 22.1 372.0 0.0 372.0 0.0 371.2ZM267.1 369.9 272.8 368.7 279.0 368.6 286.6 369.9 290.6 372.0 264.1 372.0ZM742.5 372.0 744.0 371.2 744.0 372.0Z" fill="#FFAAA0"/><path d="M159.2 107.5 163.3 106.4 167.4 106.3 173.6 107.3 181.9 109.5 186.0 111.6 188.4 113.7 193.6 119.9 198.4 123.3 223.2 134.9 229.4 137.1 235.6 138.1 243.9 138.5 254.2 138.1 268.7 136.6 272.8 136.9 305.8 142.6 310.0 144.7 311.5 146.7 311.7 148.8 310.0 152.9 308.4 155.0 303.2 159.1 294.1 163.3 283.1 165.9 270.7 167.6 248.0 168.4 227.3 171.4 206.7 169.7 186.0 172.2 175.7 171.5 130.2 165.5 124.0 166.1 111.6 171.0 103.3 172.2 97.1 171.9 82.7 169.5 62.0 168.7 56.4 167.4 51.8 165.3 40.2 157.1 38.5 155.0 37.7 152.9 37.5 150.9 38.2 148.8 41.3 145.9 51.7 141.2 68.1 136.4 73.1 134.3 79.1 130.2 93.0 117.4 101.3 112.6 109.5 111.1 128.1 112.1 142.6 111.5 150.9 110.4ZM532.4 152.9 539.4 151.5 545.6 152.2 552.1 155.0 555.9 158.1 558.0 158.8 560.1 158.9 579.1 152.9 586.9 151.7 593.1 151.6 597.5 152.9 599.3 155.0 599.7 157.1 598.8 161.2 597.3 163.7 595.2 165.6 591.1 167.2 582.8 167.4 567.1 165.3 555.9 161.8 543.5 162.0 535.3 161.0 530.9 159.1 529.4 157.1 529.8 155.0ZM103.3 206.7 105.4 206.9 109.2 208.7 109.2 210.8 107.5 211.9 103.3 212.7 101.3 212.3 98.7 210.8 98.5 208.7 101.3 207.1ZM269.8 210.8 279.0 209.9 287.3 210.8 292.1 212.9 294.2 214.9 294.9 217.0 294.5 219.1 291.4 222.3 287.3 224.2 276.5 227.3 274.8 229.4 275.6 239.7 274.5 241.8 272.8 242.9 268.7 243.6 262.5 242.2 252.1 235.0 241.2 229.4 239.7 227.3 240.4 225.3 243.6 223.2 258.4 219.1 261.5 217.0 265.4 212.9ZM240.4 252.1 248.0 251.7 256.3 253.1 260.4 255.5 261.1 256.3 261.4 258.3 259.7 260.4 254.2 263.1 248.0 264.4 241.8 264.0 237.7 261.7 235.7 258.3 235.7 256.3 236.7 254.2ZM305.4 254.2 310.0 253.0 318.3 252.4 320.3 252.8 322.3 254.2 322.3 256.3 321.2 258.3 319.0 260.4 316.2 261.9 310.0 263.6 305.9 263.6 302.6 262.5 301.4 260.4 301.4 258.3 302.5 256.3ZM43.0 262.5 47.5 261.1 51.7 261.5 57.8 264.5 60.8 266.6 62.0 268.7 56.5 270.7 53.7 271.1 47.5 271.3 43.0 270.7 39.3 268.7 39.0 266.6 40.3 264.5ZM87.8 266.6 103.3 264.6 124.0 265.5 152.9 265.5 163.2 266.6 175.7 270.6 181.9 271.9 202.5 273.4 221.1 272.5 225.3 273.0 228.7 274.9 228.4 276.9 222.4 279.0 206.7 279.0 190.1 280.2 180.9 279.0 171.5 276.0 167.4 275.2 159.1 274.2 150.9 274.2 142.6 275.6 133.3 279.0 128.1 279.5 124.0 278.0 115.7 271.8 109.5 270.0 103.3 269.3 82.7 268.7 86.8 267.4ZM625.9 268.7 630.3 267.8 634.5 267.9 638.3 268.7 640.8 270.7 640.2 272.8 638.6 273.7 636.5 274.3 632.4 274.5 626.3 272.8 624.7 270.7ZM496.9 367.9 506.3 367.8 518.7 368.8 525.6 369.9 531.4 372.0 480.6 372.0 487.7 369.2ZM272.2 372.0 276.9 371.6 280.5 372.0Z" fill="#FF9080"/><path d="M108.8 117.8 113.7 118.2 119.4 119.9 122.6 121.9 124.0 124.0 124.3 126.1 123.6 128.1 122.1 130.2 119.9 131.9 115.7 133.7 105.3 136.4 103.0 138.5 103.1 140.5 107.5 147.4 113.6 159.1 113.9 161.2 113.5 163.3 111.6 165.5 107.5 167.6 101.3 168.3 84.7 165.6 70.3 167.1 62.0 166.6 57.6 165.3 54.3 163.3 45.3 155.0 44.6 152.9 45.2 150.9 50.6 146.7 59.5 142.6 76.5 138.7 84.7 135.7 90.1 132.3 95.3 124.0 97.4 121.9 103.3 118.7ZM182.4 126.1 183.9 125.4 188.1 125.8 206.7 132.2 213.1 136.4 219.1 142.1 223.2 144.0 231.5 144.9 252.1 144.8 274.9 146.9 283.1 149.3 285.2 150.9 286.1 152.9 285.9 155.0 284.5 157.1 281.9 159.1 277.1 161.2 272.8 162.2 264.6 163.3 245.9 164.4 231.5 166.3 225.3 166.6 204.6 165.3 183.9 166.3 172.8 165.3 167.0 163.3 173.7 159.1 175.7 156.6 176.3 155.0 176.3 152.9 174.3 148.8 168.2 142.6 168.1 140.5 169.0 138.5 172.5 134.3 179.8 127.7ZM537.3 155.0 541.6 155.0 543.3 157.1 541.5 157.7 537.3 157.4 536.7 157.1ZM582.0 157.1 586.9 156.9 589.0 157.8 590.1 159.1 589.3 161.2 586.9 162.3 582.8 162.9 578.7 162.2 576.4 161.2 577.1 159.1ZM276.6 214.9 281.1 213.9 285.2 214.2 287.5 214.9 289.3 217.0 288.2 219.1 285.2 220.4 279.0 220.6 275.4 219.1 274.7 217.0ZM495.5 369.9 510.5 369.8 522.8 372.0 487.6 372.0Z" fill="#FF7860"/><path d="M62.3 161.2 66.1 160.5 69.2 161.2 68.1 163.3 66.1 163.4 64.0 163.3Z" fill="#FF5A3C"/></g></g>
<path d="M65.3 188.1C65.3 187.2 67.0 185.6 67.8 185.6C68.6 185.6 70.3 187.2 70.3 188.1C70.3 188.9 68.6 190.8 67.8 190.8C67.0 190.8 65.3 188.9 65.3 188.1Z" fill="#FF7860"/><path d="M60.3 193.2C60.7 193.6 61.0 195.0 61.6 196.3C62.1 197.7 63.5 200.5 63.7 201.5C63.8 202.5 62.9 203.0 62.4 202.5C61.9 202.0 61.0 199.8 60.6 198.4C60.1 197.0 59.6 195.1 59.5 194.3C59.5 193.4 60.0 192.9 60.3 193.2Z" fill="#FF9080"/><path d="M70.3 206.7C70.5 206.5 71.6 208.6 71.9 209.8C72.3 211.0 72.5 213.2 72.3 213.9C72.2 214.6 71.4 214.4 71.1 213.9C70.7 213.4 70.4 212.0 70.3 210.8C70.1 209.6 70.0 206.8 70.3 206.7Z" fill="#FF7860"/><path d="M74.0 176.7C74.2 176.7 75.1 178.1 75.2 178.8C75.4 179.4 75.1 180.4 74.8 180.4C74.6 180.4 73.9 179.4 73.8 178.8C73.6 178.1 73.7 176.7 74.0 176.7Z" fill="#FF9080"/><path d="M27.5 157.5C27.6 157.0 28.9 156.9 29.3 157.1C29.8 157.3 30.3 158.2 30.2 158.7C30.0 159.2 29.0 160.2 28.5 160.0C28.1 159.8 27.3 158.0 27.5 157.5Z" fill="#FF9080"/>
<path d="M66.8 121.3 64.1 120.9 62.0 121.5 59.9 122.1 56.4 121.3 52.1 120.7 49.6 119.7 46.7 118.2 44.4 118.0 41.5 119.7 41.3 121.9 39.7 123.4 36.8 122.3 34.3 121.5 31.4 119.0 27.3 118.0 24.8 118.0 22.9 117.4 20.9 115.9 22.3 114.3 21.9 112.0 21.9 110.8 22.9 109.3 21.3 109.7 20.5 108.9 17.8 109.7 16.1 109.7 14.3 109.7 10.5 109.9 6.4 109.9 2.7 110.6 -1.2 112.2 -4.1 113.5 -6.0 113.0 -8.3 113.3 -11.0 111.8 -12.2 112.0 -12.8 113.7 -14.1 115.5 -15.7 116.6 -17.6 117.2 -19.0 118.8 -20.3 120.9 -20.0 123.0 -20.7 125.0 -23.8 127.1 -26.9 128.1 -27.9 129.2 -30.0 131.9 -31.0 134.3 -33.1 137.0 -34.1 139.5 -35.1 142.6 -33.7 145.7 -33.1 148.8 -34.1 151.9 -34.7 154.0 -36.2 155.6 -34.5 158.1 -34.7 160.2 -33.1 161.6 -31.0 163.3 -30.0 164.3 -27.9 166.4 -27.3 168.4 -24.8 170.9 -22.3 173.0 -18.6 175.7 -15.5 176.9 -12.4 176.1 -8.3 175.3 -6.2 175.7 -4.1 176.1 -2.1 175.3 0.0 174.2 3.1 173.2 7.0 172.8 9.1 173.0 10.3 174.6 12.4 177.1 14.5 176.9 17.6 176.7 19.6 177.9 20.3 179.8 19.8 182.9 19.6 185.4 18.2 187.4 18.6 188.7 20.7 191.8 23.8 194.3 24.8 196.3 25.4 198.4 25.8 200.5 27.3 204.6 28.5 208.7 27.7 211.8 25.4 216.0 24.4 219.1 24.4 222.2 25.8 225.3 27.9 229.4 30.0 233.5 30.8 237.7 31.4 241.8 34.1 245.1 35.8 249.0 37.2 252.1 37.8 254.2 38.2 256.9 41.3 257.9 45.5 256.7 49.6 256.5 53.1 256.3 55.8 255.4 58.9 253.8 62.0 250.7 64.1 247.8 65.1 247.0 67.2 244.9 68.0 241.8 67.4 239.7 68.2 238.7 73.2 235.6 73.4 233.5 73.2 230.4 72.3 226.9 75.4 224.9 76.5 222.8 80.6 221.1 82.7 219.5 84.1 217.0 83.9 214.9 83.7 210.8 83.5 207.7 81.6 205.6 81.6 202.5 81.2 200.1 80.2 199.4 80.6 197.4 81.8 194.5 82.7 193.2 83.7 191.2 85.8 189.5 87.8 187.0 90.9 183.9 93.6 181.9 95.1 180.8 97.1 178.8 99.2 175.7 101.3 172.6 102.9 169.5 105.0 166.4 105.4 164.3 106.0 161.6 105.4 161.4 101.3 162.6 97.1 162.9 93.0 164.3 90.9 164.3 88.9 162.2 89.3 160.2 87.8 159.1 84.7 156.0 82.7 155.0 81.2 153.8 79.6 148.8 77.1 145.7 76.9 142.6 76.1 140.5 74.0 138.5 73.4 136.4 71.3 133.3 70.3 130.2 69.2 128.1 67.4 124.2 M810.8 121.3 808.1 120.9 806.0 121.5 803.9 122.1 800.4 121.3 796.1 120.7 793.6 119.7 790.7 118.2 788.4 118.0 785.5 119.7 785.3 121.9 783.7 123.4 780.8 122.3 778.3 121.5 775.4 119.0 771.3 118.0 768.8 118.0 766.9 117.4 764.9 115.9 766.3 114.3 765.9 112.0 765.9 110.8 766.9 109.3 765.3 109.7 764.5 108.9 761.8 109.7 760.1 109.7 758.3 109.7 754.5 109.9 750.4 109.9 746.7 110.6 742.8 112.2 739.9 113.5 738.0 113.0 735.7 113.3 733.0 111.8 731.8 112.0 731.2 113.7 729.9 115.5 728.3 116.6 726.4 117.2 725.0 118.8 723.7 120.9 724.0 123.0 723.3 125.0 720.2 127.1 717.1 128.1 716.1 129.2 714.0 131.9 713.0 134.3 710.9 137.0 709.9 139.5 708.9 142.6 710.3 145.7 710.9 148.8 709.9 151.9 709.3 154.0 707.8 155.6 709.5 158.1 709.3 160.2 710.9 161.6 713.0 163.3 714.0 164.3 716.1 166.4 716.7 168.4 719.2 170.9 721.7 173.0 725.4 175.7 728.5 176.9 731.6 176.1 735.7 175.3 737.8 175.7 739.9 176.1 741.9 175.3 744.0 174.2 747.1 173.2 751.0 172.8 753.1 173.0 754.3 174.6 756.4 177.1 758.5 176.9 761.6 176.7 763.6 177.9 764.3 179.8 763.8 182.9 763.6 185.4 762.2 187.4 762.6 188.7 764.7 191.8 767.8 194.3 768.8 196.3 769.4 198.4 769.8 200.5 771.3 204.6 772.5 208.7 771.7 211.8 769.4 216.0 768.4 219.1 768.4 222.2 769.8 225.3 771.9 229.4 774.0 233.5 774.8 237.7 775.4 241.8 778.1 245.1 779.8 249.0 781.2 252.1 781.8 254.2 782.2 256.9 785.3 257.9 789.5 256.7 793.6 256.5 797.1 256.3 799.8 255.4 802.9 253.8 806.0 250.7 808.1 247.8 809.1 247.0 811.2 244.9 812.0 241.8 811.4 239.7 812.2 238.7 817.2 235.6 817.4 233.5 817.2 230.4 816.3 226.9 819.4 224.9 820.5 222.8 824.6 221.1 826.7 219.5 828.1 217.0 827.9 214.9 827.7 210.8 827.5 207.7 825.6 205.6 825.6 202.5 825.2 200.1 824.2 199.4 824.6 197.4 825.8 194.5 826.7 193.2 827.7 191.2 829.8 189.5 831.8 187.0 834.9 183.9 837.6 181.9 839.1 180.8 841.1 178.8 843.2 175.7 845.3 172.6 846.9 169.5 849.0 166.4 849.4 164.3 850.0 161.6 849.4 161.4 845.3 162.6 841.1 162.9 837.0 164.3 834.9 164.3 832.9 162.2 833.3 160.2 831.8 159.1 828.7 156.0 826.7 155.0 825.2 153.8 823.6 148.8 821.1 145.7 820.9 142.6 820.1 140.5 818.0 138.5 817.4 136.4 815.3 133.3 814.3 130.2 813.2 128.1 811.4 124.2 M67.4 124.2 68.2 125.4 69.2 127.3 70.7 128.8 71.1 128.1 71.7 127.1 72.3 125.0 72.3 128.1 73.4 129.2 75.6 132.3 76.9 134.3 78.5 136.4 80.6 139.5 80.8 141.6 82.0 143.6 84.1 145.7 85.8 147.8 87.8 150.9 88.0 151.9 88.5 154.0 88.7 155.4 89.3 158.5 89.9 159.8 93.0 159.5 98.2 158.1 101.5 156.0 102.3 155.6 105.4 154.6 107.9 152.5 111.6 150.9 114.1 149.8 116.8 148.8 119.2 146.9 119.5 146.7 120.9 143.8 121.9 142.6 123.6 139.5 121.1 137.2 117.4 136.0 116.6 134.3 116.4 131.9 114.3 133.7 112.6 135.4 108.5 136.0 106.0 135.4 106.6 133.7 105.8 132.1 105.0 133.3 103.7 131.2 102.3 129.8 100.2 127.1 99.2 125.0 100.2 124.0 101.3 123.2 103.3 123.6 105.0 126.1 106.4 128.3 109.5 130.2 112.6 131.0 116.4 129.8 117.4 130.2 118.4 132.9 121.9 133.5 126.1 133.9 128.8 134.1 133.3 133.9 137.4 133.5 138.5 134.7 139.5 136.6 141.6 137.4 142.6 138.9 145.3 138.7 142.6 139.9 143.8 141.4 144.7 142.6 146.7 143.2 149.2 142.0 149.8 140.5 150.0 142.2 150.2 143.6 150.5 146.7 151.5 150.9 152.5 154.0 153.6 156.0 154.6 159.3 156.7 162.6 157.5 165.3 158.1 167.6 160.2 169.3 161.6 167.6 163.3 166.8 163.7 164.9 165.1 164.7 164.9 164.5 165.1 161.2 166.0 158.9 165.5 157.1 166.0 154.0 167.8 153.1 170.1 151.7 172.2 149.4 175.7 146.1 177.3 145.1 178.8 144.7 179.8 143.0 180.8 141.6 182.3 141.2 185.0 140.9 187.0 140.3 188.1 139.5 189.7 139.9 190.5 142.6 191.8 144.3 193.2 145.1 194.7 147.1 195.3 149.8 194.9 152.9 197.0 153.3 198.8 151.7 200.3 150.9 201.7 151.9 201.7 152.5 202.1 155.0 202.9 157.5 203.8 160.2 204.0 162.2 203.8 164.9 203.4 167.4 203.2 169.5 203.6 169.5 205.2 170.9 206.9 172.6 207.3 174.6 207.9 177.7 209.4 180.0 211.4 181.7 213.7 183.1 215.3 183.1 213.9 180.6 213.9 177.7 213.3 175.3 211.4 173.2 210.2 171.9 207.7 170.9 206.7 168.4 205.6 167.0 205.0 165.3 205.2 163.3 206.7 161.2 206.7 158.5 207.7 158.1 208.5 158.3 210.4 159.8 211.8 160.8 212.9 162.9 214.1 164.3 216.0 164.5 216.8 165.7 216.6 168.2 217.6 168.0 220.3 166.2 220.7 164.5 221.1 164.5 223.6 163.3 225.7 162.0 225.9 160.2 225.9 158.1 225.1 154.6 223.8 152.9 222.4 151.9 220.1 149.4 218.7 147.4 218.4 146.7 219.1 144.9 220.7 143.0 223.6 141.4 225.5 141.6 226.7 141.6 227.1 144.0 228.0 144.0 228.4 142.2 230.6 141.6 232.5 140.9 234.6 140.1 236.0 139.9 238.7 139.1 241.4 137.8 244.3 135.4 245.9 133.9 247.2 132.3 248.0 130.2 250.1 128.1 251.3 127.1 252.1 125.0 251.7 124.2 249.7 123.4 250.7 122.8 251.9 121.9 251.7 120.3 249.9 117.8 248.6 115.7 246.6 114.3 247.0 113.3 248.6 111.6 253.0 109.7 253.2 108.7 249.7 107.9 248.0 108.9 245.9 108.9 246.3 107.9 244.9 107.5 243.5 105.0 247.2 103.5 250.1 101.7 252.5 101.9 252.1 102.3 250.5 104.4 251.3 105.6 254.2 104.2 256.9 103.5 259.0 104.4 258.3 106.4 259.4 107.9 261.6 108.5 261.8 109.5 261.4 111.6 261.0 114.1 261.4 114.9 264.5 114.1 266.8 113.5 267.6 111.6 267.0 109.1 265.2 106.4 263.5 104.8 265.6 103.3 268.0 101.7 268.7 100.2 270.1 98.6 270.7 98.0 272.8 96.9 279.0 96.1 282.1 93.6 285.2 90.9 287.3 88.2 290.0 85.8 290.4 82.7 291.0 79.6 291.4 78.5 292.0 76.1 289.3 74.4 286.2 74.8 283.1 74.4 280.0 73.2 282.1 72.3 285.6 69.4 289.3 67.2 295.9 63.2 300.7 63.4 305.9 63.4 312.1 63.0 320.3 63.0 323.4 58.9 326.5 58.5 330.7 59.9 336.9 56.8 338.9 56.8 334.8 58.9 329.6 62.0 324.5 66.1 322.0 68.2 321.6 72.3 322.4 77.5 323.8 80.6 326.5 78.9 328.0 76.5 330.7 76.1 333.8 73.4 334.8 72.3 336.9 69.9 334.8 66.5 337.9 65.1 340.0 62.4 343.1 62.0 351.3 62.0 355.5 61.0 361.7 58.3 370.3 57.2 371.0 56.8 369.9 55.8 367.9 52.1 369.9 49.6 374.1 50.6 376.1 52.3 386.1 52.9 388.5 50.6 393.3 49.6 388.5 47.9 382.3 47.1 378.2 45.5 372.0 43.4 363.7 41.7 357.5 41.3 352.4 41.3 351.3 43.4 341.0 42.4 334.8 42.2 330.7 42.0 322.4 39.3 314.1 39.3 310.0 37.8 301.7 36.4 291.4 35.5 287.3 36.6 283.1 38.2 274.9 38.2 270.7 39.3 267.6 38.2 266.6 35.5 260.4 34.1 254.2 34.7 245.9 35.1 237.7 34.1 233.5 33.5 227.3 33.7 221.1 34.1 227.3 32.0 234.6 30.0 231.5 27.9 221.1 26.9 215.6 25.4 206.7 27.9 202.5 28.3 192.2 28.9 179.8 31.0 177.7 33.1 166.4 34.1 172.6 37.6 170.5 38.6 165.3 36.6 161.2 36.8 159.1 37.2 154.0 36.2 155.0 39.3 154.0 43.8 152.9 47.5 148.8 49.0 151.9 46.5 150.9 43.4 149.8 39.3 149.8 36.2 146.7 34.7 141.6 36.2 139.5 38.2 138.1 39.7 138.5 42.4 141.6 45.1 138.5 44.4 134.3 43.4 132.3 42.8 125.0 41.7 125.0 43.4 119.9 43.8 113.7 44.4 112.6 45.1 110.6 44.4 103.3 45.5 99.2 46.3 96.1 47.5 95.1 45.5 89.5 44.2 90.9 44.8 91.6 47.5 90.9 49.6 86.8 48.8 82.7 50.2 83.7 52.7 78.5 52.7 77.5 53.7 71.9 52.7 71.3 50.6 68.2 47.5 72.3 48.6 78.5 49.2 84.7 48.2 82.7 45.9 74.4 43.4 68.2 42.8 64.1 40.5 57.9 39.3 53.1 39.1 43.4 40.9 38.2 41.7 32.0 44.4 29.6 46.9 24.8 50.6 21.7 52.7 17.6 54.8 12.8 56.8 10.3 57.9 10.5 61.2 11.6 64.1 16.5 65.9 21.9 63.4 24.6 66.8 26.7 71.3 29.3 71.5 32.0 69.9 34.1 67.2 38.2 63.4 35.5 60.6 36.2 57.0 42.0 54.1 45.9 50.6 50.0 50.0 52.3 51.7 44.4 55.8 44.0 58.9 45.5 61.2 47.5 62.4 51.7 61.6 58.9 60.8 62.0 62.0 57.9 63.0 51.3 63.0 48.6 63.7 50.6 65.5 49.6 68.2 48.6 68.2 46.5 67.0 43.4 69.2 43.4 70.9 41.3 73.0 38.4 73.6 29.6 74.4 27.9 73.4 24.8 74.0 22.3 74.4 20.3 72.3 21.3 69.2 21.9 66.8 16.7 68.2 17.2 71.3 18.2 74.6 14.5 75.4 9.9 76.5 8.3 78.5 6.0 80.2 3.7 80.8 0.2 83.7 -3.3 83.3 -4.1 85.6 -6.2 85.1 -9.9 86.0 -4.5 88.5 -2.5 90.5 -2.5 93.6 -3.7 96.3 -7.9 96.1 -11.8 95.9 -17.4 96.3 -19.2 97.1 -18.0 100.9 -19.6 106.0 -18.6 109.5 -14.5 109.1 -13.0 110.6 -11.6 111.6 -11.2 111.4 -9.1 110.2 -5.2 109.9 -4.5 110.2 -2.1 108.3 -1.0 106.8 0.4 106.0 -0.6 104.4 1.7 101.9 2.5 101.1 4.5 100.4 6.8 98.6 6.2 98.2 6.4 97.1 8.1 96.1 9.3 96.3 11.2 96.5 12.4 96.9 15.1 95.7 16.5 95.3 18.4 94.2 20.3 94.9 21.3 96.1 21.7 97.1 22.9 98.4 25.2 99.6 27.9 100.9 29.3 101.7 30.6 102.1 32.4 103.3 33.5 104.4 33.1 106.0 32.4 107.7 34.1 106.6 35.3 105.4 34.3 104.0 35.5 102.3 38.0 103.7 38.2 103.1 37.2 102.1 34.9 101.1 33.5 99.4 29.3 98.2 27.9 95.9 26.0 95.1 25.6 93.4 25.6 92.2 28.5 91.8 28.1 93.0 30.0 92.4 31.4 94.9 33.9 96.1 38.2 98.2 39.9 99.2 40.1 100.4 40.3 102.3 41.7 104.4 43.0 105.4 43.6 106.6 44.6 107.1 44.0 108.1 44.8 109.9 46.3 110.8 47.7 110.6 47.9 108.7 47.5 107.5 49.0 107.7 49.6 108.1 49.6 107.1 47.5 105.6 47.5 104.8 46.7 103.3 47.3 102.3 48.4 102.7 50.2 103.1 49.2 102.3 50.4 101.5 53.5 101.7 53.9 102.1 54.1 103.2 55.2 102.3 56.8 101.3 59.7 101.3 59.9 100.9 57.9 100.2 57.0 98.2 57.9 96.7 59.3 94.7 61.4 92.2 63.4 89.9 65.1 89.7 66.1 90.3 69.6 90.5 69.4 90.9 67.2 92.2 69.0 93.8 70.3 94.2 73.2 93.0 75.2 92.2 72.3 91.6 72.3 90.5 75.4 89.5 77.5 88.7 81.0 88.5 79.2 89.5 77.5 90.9 75.6 92.6 78.1 93.6 79.6 94.2 82.0 95.9 84.7 97.1 85.8 98.2 86.0 100.0 82.0 101.3 78.5 101.3 75.0 100.6 72.3 99.2 68.2 99.2 65.1 100.6 62.6 100.9 59.9 101.3 59.9 102.3 56.8 102.5 54.1 102.9 54.4 104.8 55.4 106.6 56.6 109.5 58.3 110.2 60.3 111.0 63.0 111.0 63.4 109.7 67.8 111.6 69.6 111.2 71.5 109.9 73.4 110.4 74.8 110.4 74.0 112.6 74.0 114.7 73.4 115.9 72.3 118.2 71.9 119.7 70.9 121.3 69.9 121.7 66.8 121.3 M811.4 124.2 812.2 125.4 813.2 127.3 814.7 128.8 815.1 128.1 815.7 127.1 816.3 125.0 816.3 128.1 817.4 129.2 819.6 132.3 820.9 134.3 822.5 136.4 824.6 139.5 824.8 141.6 826.0 143.6 828.1 145.7 829.8 147.8 831.8 150.9 832.0 151.9 832.5 154.0 832.7 155.4 833.3 158.5 833.9 159.8 837.0 159.5 842.2 158.1 845.5 156.0 846.3 155.6 849.4 154.6 851.9 152.5 855.6 150.9 858.1 149.8 860.8 148.8 863.2 146.9 863.5 146.7 864.9 143.8 865.9 142.6 867.6 139.5 865.1 137.2 861.4 136.0 860.6 134.3 860.4 131.9 858.3 133.7 856.6 135.4 852.5 136.0 850.0 135.4 850.6 133.7 849.8 132.1 849.0 133.3 847.7 131.2 846.3 129.8 844.2 127.1 843.2 125.0 844.2 124.0 845.3 123.2 847.3 123.6 849.0 126.1 850.4 128.3 853.5 130.2 856.6 131.0 860.4 129.8 861.4 130.2 862.4 132.9 865.9 133.5 870.1 133.9 872.8 134.1 877.3 133.9 881.4 133.5 882.5 134.7 883.5 136.6 885.6 137.4 886.6 138.9 889.3 138.7 886.6 139.9 887.8 141.4 888.7 142.6 890.7 143.2 893.2 142.0 893.8 140.5 894.0 142.2 894.2 143.6 894.5 146.7 895.5 150.9 896.5 154.0 897.6 156.0 898.6 159.3 900.7 162.6 901.5 165.3 902.1 167.6 904.2 169.3 905.6 167.6 907.3 166.8 907.7 164.9 909.1 164.7 908.9 164.5 909.1 161.2 910.0 158.9 909.5 157.1 910.0 154.0 911.8 153.1 914.1 151.7 916.2 149.4 919.7 146.1 921.3 145.1 922.8 144.7 923.8 143.0 924.8 141.6 926.3 141.2 929.0 140.9 931.0 140.3 932.1 139.5 933.7 139.9 934.5 142.6 935.8 144.3 937.2 145.1 938.7 147.1 939.3 149.8 938.9 152.9 941.0 153.3 942.8 151.7 944.3 150.9 945.7 151.9 945.7 152.5 946.1 155.0 946.9 157.5 947.8 160.2 948.0 162.2 947.8 164.9 947.4 167.4 947.2 169.5 947.6 169.5 949.2 170.9 950.9 172.6 951.3 174.6 951.9 177.7 953.4 180.0 955.4 181.7 957.7 183.1 959.3 183.1 957.9 180.6 957.9 177.7 957.3 175.3 955.4 173.2 954.2 171.9 951.7 170.9 950.7 168.4 949.6 167.0 949.0 165.3 949.2 163.3 950.7 161.2 950.7 158.5 951.7 158.1 952.5 158.3 954.4 159.8 955.8 160.8 956.9 162.9 958.1 164.3 960.0 164.5 960.8 165.7 960.6 168.2 961.6 168.0 964.3 166.2 964.7 164.5 965.1 164.5 967.6 163.3 969.7 162.0 969.9 160.2 969.9 158.1 969.1 154.6 967.8 152.9 966.4 151.9 964.1 149.4 962.7 147.4 962.4 146.7 963.1 144.9 964.7 143.0 967.6 141.4 969.5 141.6 970.7 141.6 971.1 144.0 972.0 144.0 972.4 142.2 974.6 141.6 976.5 140.9 978.6 140.1 980.0 139.9 982.7 139.1 985.4 137.8 988.3 135.4 989.9 133.9 991.2 132.3 992.0 130.2 994.1 128.1 995.3 127.1 996.1 125.0 995.7 124.2 993.7 123.4 994.7 122.8 995.9 121.9 995.7 120.3 993.9 117.8 992.6 115.7 990.6 114.3 991.0 113.3 992.6 111.6 997.0 109.7 997.2 108.7 993.7 107.9 992.0 108.9 989.9 108.9 990.3 107.9 988.9 107.5 987.5 105.0 991.2 103.5 994.1 101.7 996.5 101.9 996.1 102.3 994.5 104.4 995.3 105.6 998.2 104.2 1000.9 103.5 1003.0 104.4 1002.3 106.4 1003.4 107.9 1005.6 108.5 1005.8 109.5 1005.4 111.6 1005.0 114.1 1005.4 114.9 1008.5 114.1 1010.8 113.5 1011.6 111.6 1011.0 109.1 1009.2 106.4 1007.5 104.8 1009.6 103.3 1012.0 101.7 1012.7 100.2 1014.1 98.6 1014.7 98.0 1016.8 96.9 1023.0 96.1 1026.1 93.6 1029.2 90.9 1031.3 88.2 1034.0 85.8 1034.4 82.7 1035.0 79.6 1035.4 78.5 1036.0 76.1 1033.3 74.4 1030.2 74.8 1027.1 74.4 1024.0 73.2 1026.1 72.3 1029.6 69.4 1033.3 67.2 1039.9 63.2 1044.7 63.4 1049.9 63.4 1056.1 63.0 1064.3 63.0 1067.4 58.9 1070.5 58.5 1074.7 59.9 1080.9 56.8 1082.9 56.8 1078.8 58.9 1073.6 62.0 1068.5 66.1 1066.0 68.2 1065.6 72.3 1066.4 77.5 1067.8 80.6 1070.5 78.9 1072.0 76.5 1074.7 76.1 1077.8 73.4 1078.8 72.3 1080.9 69.9 1078.8 66.5 1081.9 65.1 1084.0 62.4 1087.1 62.0 1095.3 62.0 1099.5 61.0 1105.7 58.3 1114.3 57.2 1115.0 56.8 1113.9 55.8 1111.9 52.1 1113.9 49.6 1118.1 50.6 1120.1 52.3 1130.1 52.9 1132.5 50.6 1137.3 49.6 1132.5 47.9 1126.3 47.1 1122.2 45.5 1116.0 43.4 1107.7 41.7 1101.5 41.3 1096.4 41.3 1095.3 43.4 1085.0 42.4 1078.8 42.2 1074.7 42.0 1066.4 39.3 1058.1 39.3 1054.0 37.8 1045.7 36.4 1035.4 35.5 1031.3 36.6 1027.1 38.2 1018.9 38.2 1014.7 39.3 1011.6 38.2 1010.6 35.5 1004.4 34.1 998.2 34.7 989.9 35.1 981.7 34.1 977.5 33.5 971.3 33.7 965.1 34.1 971.3 32.0 978.6 30.0 975.5 27.9 965.1 26.9 959.6 25.4 950.7 27.9 946.5 28.3 936.2 28.9 923.8 31.0 921.7 33.1 910.4 34.1 916.6 37.6 914.5 38.6 909.3 36.6 905.2 36.8 903.1 37.2 898.0 36.2 899.0 39.3 898.0 43.8 896.9 47.5 892.8 49.0 895.9 46.5 894.9 43.4 893.8 39.3 893.8 36.2 890.7 34.7 885.6 36.2 883.5 38.2 882.1 39.7 882.5 42.4 885.6 45.1 882.5 44.4 878.3 43.4 876.3 42.8 869.0 41.7 869.0 43.4 863.9 43.8 857.7 44.4 856.6 45.1 854.6 44.4 847.3 45.5 843.2 46.3 840.1 47.5 839.1 45.5 833.5 44.2 834.9 44.8 835.6 47.5 834.9 49.6 830.8 48.8 826.7 50.2 827.7 52.7 822.5 52.7 821.5 53.7 815.9 52.7 815.3 50.6 812.2 47.5 816.3 48.6 822.5 49.2 828.7 48.2 826.7 45.9 818.4 43.4 812.2 42.8 808.1 40.5 801.9 39.3 797.1 39.1 787.4 40.9 782.2 41.7 776.0 44.4 773.6 46.9 768.8 50.6 765.7 52.7 761.6 54.8 756.8 56.8 754.3 57.9 754.5 61.2 755.6 64.1 760.5 65.9 765.9 63.4 768.6 66.8 770.7 71.3 773.3 71.5 776.0 69.9 778.1 67.2 782.2 63.4 779.5 60.6 780.2 57.0 786.0 54.1 789.9 50.6 794.0 50.0 796.3 51.7 788.4 55.8 788.0 58.9 789.5 61.2 791.5 62.4 795.7 61.6 802.9 60.8 806.0 62.0 801.9 63.0 795.3 63.0 792.6 63.7 794.6 65.5 793.6 68.2 792.6 68.2 790.5 67.0 787.4 69.2 787.4 70.9 785.3 73.0 782.4 73.6 773.6 74.4 771.9 73.4 768.8 74.0 766.3 74.4 764.3 72.3 765.3 69.2 765.9 66.8 760.7 68.2 761.2 71.3 762.2 74.6 758.5 75.4 753.9 76.5 752.3 78.5 750.0 80.2 747.7 80.8 744.2 83.7 740.7 83.3 739.9 85.6 737.8 85.1 734.1 86.0 739.5 88.5 741.5 90.5 741.5 93.6 740.3 96.3 736.1 96.1 732.2 95.9 726.6 96.3 724.8 97.1 726.0 100.9 724.4 106.0 725.4 109.5 729.5 109.1 731.0 110.6 732.4 111.6 732.8 111.4 734.9 110.2 738.8 109.9 739.5 110.2 741.9 108.3 743.0 106.8 744.4 106.0 743.4 104.4 745.7 101.9 746.5 101.1 748.5 100.4 750.8 98.6 750.2 98.2 750.4 97.1 752.1 96.1 753.3 96.3 755.2 96.5 756.4 96.9 759.1 95.7 760.5 95.3 762.4 94.2 764.3 94.9 765.3 96.1 765.7 97.1 766.9 98.4 769.2 99.6 771.9 100.9 773.3 101.7 774.6 102.1 776.4 103.3 777.5 104.4 777.1 106.0 776.4 107.7 778.1 106.6 779.3 105.4 778.3 104.0 779.5 102.3 782.0 103.7 782.2 103.1 781.2 102.1 778.9 101.1 777.5 99.4 773.3 98.2 771.9 95.9 770.0 95.1 769.6 93.4 769.6 92.2 772.5 91.8 772.1 93.0 774.0 92.4 775.4 94.9 777.9 96.1 782.2 98.2 783.9 99.2 784.1 100.4 784.3 102.3 785.7 104.4 787.0 105.4 787.6 106.6 788.6 107.1 788.0 108.1 788.8 109.9 790.3 110.8 791.7 110.6 791.9 108.7 791.5 107.5 793.0 107.7 793.6 108.1 793.6 107.1 791.5 105.6 791.5 104.8 790.7 103.3 791.3 102.3 792.4 102.7 794.2 103.1 793.2 102.3 794.4 101.5 797.5 101.7 797.9 102.1 798.1 103.2 799.2 102.3 800.8 101.3 803.7 101.3 803.9 100.9 801.9 100.2 801.0 98.2 801.9 96.7 803.3 94.7 805.4 92.2 807.4 89.9 809.1 89.7 810.1 90.3 813.6 90.5 813.4 90.9 811.2 92.2 813.0 93.8 814.3 94.2 817.2 93.0 819.2 92.2 816.3 91.6 816.3 90.5 819.4 89.5 821.5 88.7 825.0 88.5 823.2 89.5 821.5 90.9 819.6 92.6 822.1 93.6 823.6 94.2 826.0 95.9 828.7 97.1 829.8 98.2 830.0 100.0 826.0 101.3 822.5 101.3 819.0 100.6 816.3 99.2 812.2 99.2 809.1 100.6 806.6 100.9 803.9 101.3 803.9 102.3 800.8 102.5 798.1 102.9 798.4 104.8 799.4 106.6 800.6 109.5 802.3 110.2 804.3 111.0 807.0 111.0 807.4 109.7 811.8 111.6 813.6 111.2 815.5 109.9 817.4 110.4 818.8 110.4 818.0 112.6 818.0 114.7 817.4 115.9 816.3 118.2 815.9 119.7 814.9 121.3 813.9 121.7 810.8 121.3 M-11.8 82.5 -8.5 82.0 -7.2 81.6 -5.0 81.4 -2.7 81.0 0.0 81.0 2.9 80.4 1.4 79.6 2.1 78.9 3.5 77.3 1.0 76.5 0.4 76.7 0.0 75.2 -0.4 74.2 -1.2 73.4 -2.9 72.3 -4.1 70.7 -6.2 70.3 -5.6 69.6 -4.1 68.0 -3.9 66.8 -8.3 67.0 -6.2 65.1 -10.3 64.9 -10.7 66.3 -12.0 67.6 -11.6 69.2 -12.0 71.7 -10.1 70.7 -9.7 71.5 -10.5 72.5 -7.2 72.5 -7.0 73.4 -6.6 74.2 -6.2 75.6 -8.9 75.8 -9.5 75.8 -9.7 76.9 -8.5 77.7 -11.0 78.7 -8.3 79.4 -6.6 79.6 -5.6 79.6 -6.8 80.2 -8.7 80.2 -9.5 81.0 -10.5 81.8Z M732.2 82.5 735.5 82.0 736.8 81.6 739.0 81.4 741.3 81.0 744.0 81.0 746.9 80.4 745.4 79.6 746.1 78.9 747.5 77.3 745.0 76.5 744.4 76.7 744.0 75.2 743.6 74.2 742.8 73.4 741.1 72.3 739.9 70.7 737.8 70.3 738.4 69.6 739.9 68.0 740.1 66.8 735.7 67.0 737.8 65.1 733.7 64.9 733.3 66.3 732.0 67.6 732.4 69.2 732.0 71.7 733.9 70.7 734.3 71.5 733.5 72.5 736.8 72.5 737.0 73.4 737.4 74.2 737.8 75.6 735.1 75.8 734.5 75.8 734.3 76.9 735.5 77.7 733.0 78.7 735.7 79.4 737.4 79.6 738.4 79.6 737.2 80.2 735.3 80.2 734.5 81.0 733.5 81.8Z M731.6 78.1 730.8 77.9 726.8 78.9 723.7 79.6 722.5 78.3 725.4 76.1 723.3 75.4 723.3 74.4 726.2 73.8 726.4 72.3 728.9 71.5 732.0 73.0 732.6 73.8 731.2 74.4 731.4 75.8Z M21.7 21.7 22.7 23.8 27.9 25.2 30.0 26.9 34.1 27.7 37.2 25.8 39.3 23.8 43.4 23.4 38.2 21.7 33.1 20.7 24.8 21.1Z M37.2 20.7 41.3 19.8 49.6 19.8 55.8 20.5 53.7 21.9 45.5 22.3 39.3 21.5Z M97.1 20.3 103.3 18.8 113.7 18.6 124.0 18.6 128.1 19.4 119.9 20.5 107.5 20.5Z M106.4 38.0 108.5 36.2 109.5 34.1 113.7 32.0 115.7 30.6 119.9 29.3 126.1 28.3 134.3 27.3 141.6 26.9 142.6 27.9 136.4 28.9 127.1 30.6 124.0 32.0 120.9 34.1 117.8 36.2 115.7 38.2 118.8 39.9 113.7 39.9 110.6 39.3Z M196.3 22.7 200.5 20.0 206.7 18.2 214.9 19.6 219.1 22.7 214.9 24.4 206.7 24.4 200.5 23.6Z M283.1 31.0 285.2 28.9 295.5 28.7 301.7 30.0 310.0 30.4 310.0 31.4 297.6 31.4 289.3 32.0 284.2 32.0Z M368.9 38.9 372.0 38.2 377.2 38.6 376.1 39.5 371.0 39.7Z M165.3 165.7 167.8 168.2 169.3 170.9 168.8 172.6 166.6 173.8 165.5 173.4 165.1 171.7 164.9 169.1Z M101.9 210.8 103.3 213.9 104.4 217.6 102.9 219.1 102.3 222.2 102.1 223.4 100.9 227.3 99.2 232.5 97.5 237.3 97.1 237.7 94.0 238.9 93.4 238.9 90.9 237.7 90.3 234.4 89.5 231.5 90.5 229.4 91.6 228.0 91.8 225.3 90.9 223.2 90.9 221.1 91.8 219.5 94.0 218.9 95.7 218.4 97.8 216.6 99.2 214.1 100.9 212.5Z M197.0 174.4 200.5 175.3 201.5 175.3 203.2 176.7 204.0 178.1 206.3 179.8 207.7 181.5 209.8 182.3 211.8 183.9 213.5 185.0 214.5 186.6 213.9 188.1 215.6 188.3 216.2 190.1 217.0 191.0 219.1 192.2 218.9 194.3 218.7 197.4 217.6 198.0 216.0 198.0 214.9 196.7 212.9 195.5 211.2 193.9 209.8 192.2 208.3 190.1 207.3 188.1 205.6 186.0 204.2 182.5 201.9 180.8 200.5 178.8 198.6 177.5 197.0 175.3Z M217.4 200.1 219.1 198.2 220.7 198.6 223.2 199.0 224.4 199.8 228.2 200.3 229.4 199.4 232.5 200.3 233.1 201.1 235.4 201.9 236.4 202.1 236.4 203.4 236.8 204.0 233.5 203.2 230.4 203.2 227.3 202.5 224.2 202.1 222.2 201.9 219.9 201.1Z M238.7 202.9 241.8 203.4 245.9 203.2 245.9 204.4 241.8 204.6 238.9 204.0Z M247.8 203.4 251.1 203.6 254.2 203.2 253.8 204.0 250.1 204.4 248.0 204.2Z M255.2 207.3 257.3 205.2 260.4 203.8 262.9 203.4 261.4 204.6 258.3 206.3 256.3 207.3Z M245.9 205.6 248.0 205.4 249.7 206.7 248.0 207.1 246.3 206.3Z M226.5 181.9 228.0 182.5 230.0 181.0 230.2 180.2 233.5 179.4 235.6 176.9 237.7 175.7 239.7 173.6 241.4 171.5 242.2 172.4 244.1 173.8 246.3 175.0 245.1 176.7 243.7 177.1 243.0 178.6 243.2 179.2 243.9 181.2 243.7 182.3 245.9 183.9 243.9 184.3 242.8 186.0 242.8 187.4 241.4 188.7 240.8 190.5 240.6 192.2 239.7 193.6 237.0 194.5 236.6 193.2 234.6 192.8 232.5 193.0 231.1 193.2 229.0 192.2 227.7 190.5 227.5 189.1 225.9 187.4 225.5 186.0 225.1 183.9 225.9 182.5Z M248.0 184.3 249.7 183.3 252.1 183.9 255.2 184.1 257.9 182.9 258.7 182.9 257.3 185.0 254.8 185.4 251.1 185.0 248.6 185.2 248.0 186.4 249.0 188.1 250.7 187.9 254.6 187.4 255.0 188.1 252.5 189.3 251.5 189.9 252.8 192.2 254.2 194.3 254.6 197.0 252.8 197.0 252.1 195.5 251.1 195.7 250.1 194.3 250.1 191.6 249.7 191.6 248.6 193.2 248.8 196.3 248.6 197.6 246.8 196.7 247.0 194.3 245.9 193.0 245.5 191.6 246.3 189.1 247.6 187.7 247.6 185.6Z M263.5 181.9 264.5 182.3 266.0 183.5 264.9 185.0 265.6 187.0 264.1 187.2 263.9 185.0 263.3 183.9Z M264.5 192.2 267.6 191.8 270.3 192.6 269.7 193.6 266.6 193.0 264.5 193.0Z M260.4 192.6 262.5 192.4 262.9 193.4 261.4 193.9 260.4 193.2Z M271.1 187.7 273.8 186.8 276.9 187.7 277.6 191.2 279.0 192.8 281.1 191.8 283.1 190.1 285.2 189.3 290.8 191.2 291.4 191.4 294.5 192.6 296.8 193.4 298.6 194.1 301.3 196.7 302.8 197.8 305.5 199.2 305.5 199.8 303.8 199.8 304.8 201.7 306.5 203.4 307.9 204.6 310.0 206.7 311.7 207.3 310.4 208.1 307.9 207.3 305.9 206.9 304.2 205.6 302.8 204.4 300.7 202.5 298.6 201.7 297.2 202.3 296.6 203.4 295.9 204.8 294.5 205.0 291.4 204.8 289.3 202.9 287.3 202.7 285.6 203.4 284.6 203.4 285.8 201.1 286.9 200.1 285.2 197.4 283.1 196.1 280.0 195.3 278.0 194.3 275.9 193.6 274.9 194.3 274.5 192.8 276.1 191.4 273.2 190.8 270.7 188.9Z M306.5 197.6 309.0 197.4 311.0 197.4 313.1 196.3 314.5 194.7 314.8 196.3 313.1 197.8 311.0 198.8 309.0 199.0 306.7 198.2Z M311.7 191.4 313.7 192.2 315.6 193.9 316.2 195.5 315.4 194.7 313.7 193.0 311.7 192.0Z M249.0 147.8 251.3 148.0 252.5 148.0 253.2 150.9 252.1 152.9 251.1 155.0 251.5 156.7 254.2 157.1 256.3 158.1 256.5 160.0 254.8 159.1 253.2 158.1 251.7 157.5 250.1 157.7 249.2 156.7 249.9 155.8 248.6 155.4 247.8 153.3 248.6 152.7 248.8 149.8Z M252.3 171.7 254.8 170.5 255.2 168.2 257.3 168.2 259.4 167.0 259.4 165.7 261.0 167.8 261.6 170.9 260.8 173.0 259.8 171.9 259.2 174.4 257.3 173.6 256.3 171.9 255.2 170.7 253.2 170.9Z M256.9 160.2 259.0 160.2 259.8 162.9 258.7 164.7 257.9 164.9 257.7 163.3 257.1 162.2Z M252.1 161.6 254.2 162.2 254.6 164.3 255.2 166.8 254.2 167.0 253.4 165.5 252.1 164.3Z M242.2 168.6 243.9 167.0 246.6 164.5 247.4 162.6 246.3 164.1 244.5 165.7 242.4 167.8Z M248.6 158.3 250.5 158.3 251.1 160.0 250.3 160.8 249.7 159.5Z M250.1 133.9 252.1 134.3 251.1 137.4 249.9 140.5 248.4 138.9 248.4 137.4 249.7 135.2Z M224.6 146.1 226.7 144.5 229.4 144.9 228.4 147.1 226.5 148.4 224.6 147.6Z M291.2 100.2 292.4 102.3 293.5 104.2 291.4 106.8 291.4 109.5 291.2 112.2 289.3 113.7 288.9 112.4 288.7 113.3 287.1 114.3 285.6 114.5 283.1 114.5 282.9 115.1 280.7 116.8 279.4 114.9 278.0 114.3 275.9 114.9 273.8 115.1 270.7 115.7 270.5 115.7 271.4 114.7 273.8 112.8 275.9 112.6 278.0 112.4 280.0 112.4 281.1 112.2 282.5 109.9 283.8 108.5 283.1 109.9 283.8 109.9 287.3 107.5 288.9 105.4 289.3 103.7 289.1 102.1 290.0 100.9Z M289.3 100.2 290.8 99.6 291.4 98.6 293.5 98.2 296.2 99.2 298.4 97.1 301.1 96.5 300.3 94.4 298.2 95.1 295.5 93.8 293.1 92.0 292.8 94.0 292.6 95.3 292.0 96.5 290.2 96.5 289.1 98.2Z M270.5 115.9 272.2 116.6 272.8 117.8 272.2 118.8 271.8 120.1 270.9 121.3 270.1 121.9 269.1 121.3 269.1 119.5 268.3 118.4 267.8 117.2 269.5 116.6Z M273.8 115.7 276.9 114.9 278.4 116.1 277.3 117.2 275.9 116.8 274.9 118.4 273.6 117.4Z M293.5 73.8 294.9 73.6 295.5 75.8 296.2 78.5 295.9 81.6 297.6 84.1 299.0 85.1 295.5 84.7 294.5 87.2 296.2 89.3 296.6 90.5 294.9 89.7 293.5 91.1 293.5 87.8 293.9 84.7 293.7 81.6 293.1 79.2 293.1 75.8Z M25.6 107.5 27.5 107.1 32.2 106.8 31.4 108.9 31.2 110.2 29.6 109.9 26.7 108.3Z M16.9 101.5 19.0 100.6 20.3 102.3 19.8 105.0 18.6 105.4 17.4 105.0 17.4 102.7Z M17.8 98.4 19.4 97.1 19.6 99.2 19.0 100.4 18.0 99.6Z M48.6 112.6 50.6 112.8 54.4 113.0 54.1 113.7 51.0 113.9 48.6 113.3Z M66.8 113.7 68.2 112.8 71.5 112.2 70.3 113.7 68.2 114.5 67.0 114.3Z M294.5 208.1 296.6 211.8 296.6 214.9 300.3 218.0 301.3 220.9 302.4 224.9 303.4 225.9 306.9 227.7 308.3 229.6 311.0 232.5 311.7 234.4 313.7 236.0 315.0 237.5 316.6 237.7 316.4 240.8 316.6 242.8 317.4 245.1 316.2 249.0 316.0 250.9 313.7 254.0 312.7 256.1 311.7 258.3 310.4 260.8 310.0 263.5 305.9 264.3 302.6 266.8 299.7 265.2 298.6 265.2 296.6 266.2 292.6 265.4 290.2 264.5 288.7 262.5 287.9 260.0 285.4 259.6 286.2 257.9 285.2 256.7 284.6 258.7 282.9 259.0 284.2 256.3 284.8 253.4 283.5 255.6 281.9 256.9 280.9 258.1 279.4 257.3 278.4 254.6 276.1 252.3 273.2 252.1 271.1 251.1 266.6 251.3 263.5 252.5 260.4 252.8 257.3 254.2 255.2 256.1 251.9 256.1 248.0 256.3 243.9 258.3 240.8 258.3 237.9 257.1 237.7 255.4 238.9 254.8 239.1 252.1 238.3 250.1 237.7 248.0 236.8 245.5 236.0 242.8 234.6 240.1 234.4 236.6 235.2 233.5 235.8 231.1 236.6 232.3 237.9 230.6 241.4 228.6 245.1 228.0 248.0 227.1 251.1 224.9 252.5 223.2 252.5 221.1 254.2 219.9 255.4 221.8 257.3 219.1 259.4 216.0 262.3 214.3 264.5 216.6 264.9 217.0 267.6 216.8 267.8 214.9 269.3 212.9 270.3 211.6 271.8 211.2 273.8 210.8 274.0 209.6 275.9 210.4 279.0 211.2 282.1 210.8 282.9 211.4 282.1 213.5 280.9 215.3 280.0 217.0 282.1 218.7 284.2 219.5 287.3 221.1 289.3 222.6 291.0 222.2 292.2 219.1 292.6 216.0 292.8 212.9 293.1 212.0 293.5 209.8Z M299.0 270.1 302.8 270.9 306.3 270.3 306.5 272.8 305.7 275.3 303.4 276.1 301.7 275.9 300.3 273.8 299.0 271.1Z M356.9 257.1 358.6 258.3 360.6 260.4 361.3 262.1 362.7 261.4 363.7 263.7 368.9 263.9 367.9 266.0 367.7 266.8 365.8 267.6 365.6 269.3 362.3 272.0 361.3 271.4 361.9 269.7 361.7 268.7 359.6 267.8 359.2 267.2 359.8 266.6 360.8 265.2 361.3 263.5 360.2 261.4 358.2 259.0Z M356.9 269.7 357.7 271.1 360.0 270.7 360.2 272.2 359.0 273.6 357.5 275.3 357.7 276.5 355.5 276.9 354.0 277.8 353.4 279.4 352.8 280.9 350.9 282.1 347.8 282.3 346.2 281.5 344.1 281.1 344.1 280.0 345.8 278.6 346.8 278.0 348.2 276.9 349.3 276.5 351.7 275.3 353.4 274.2 354.6 272.4 355.7 270.5Z M338.9 227.5 341.0 228.6 344.1 231.1 345.1 232.3 343.7 232.1 341.0 230.4 339.3 228.6Z M366.4 222.0 368.5 221.8 369.3 223.2 367.5 223.8 366.2 223.0Z M323.4 199.8 326.5 201.5 330.3 203.6 332.7 205.6 331.7 206.3 328.6 204.2 325.5 202.5 323.2 200.7Z M142.2 286.6 145.7 286.9 145.7 288.5 142.6 288.7Z M697.5 53.7 697.1 54.1 702.0 54.8 704.7 55.0 709.9 54.1 713.0 53.1 715.9 51.7 714.0 49.6 713.8 48.8 710.9 48.6 706.8 49.2 702.0 49.4 699.6 50.6 697.5 48.8 694.4 50.0 693.4 50.6 698.5 50.8 694.4 51.9 698.5 52.9Z M583.0 171.1 582.0 169.5 580.7 167.4 579.7 167.6 578.0 168.8 577.6 170.7 575.6 170.3 572.9 169.1 571.2 168.4 569.0 166.2 568.1 166.2 566.7 164.9 566.9 163.3 565.2 161.6 563.2 159.3 561.1 158.7 558.0 157.7 554.9 157.1 553.2 155.8 550.8 153.3 547.7 152.5 544.6 153.6 540.4 152.3 537.5 151.3 533.8 149.4 532.8 148.8 530.1 148.0 528.2 146.5 525.6 143.8 526.4 143.2 526.0 141.4 524.1 138.1 521.2 135.4 518.3 133.1 514.6 128.3 512.1 126.1 510.5 122.3 507.0 120.5 507.0 123.0 509.4 126.1 511.5 129.0 513.6 131.9 515.6 135.4 516.0 136.0 516.9 138.7 515.6 137.4 512.5 134.7 511.9 132.3 509.0 130.6 506.3 128.5 508.0 126.9 504.7 123.4 502.8 120.3 501.8 118.4 499.3 115.9 495.0 114.7 493.9 112.6 492.1 110.4 490.8 107.9 488.4 105.6 486.9 102.5 487.3 99.6 486.7 97.5 487.7 94.0 487.7 90.5 486.3 86.0 489.8 86.4 489.4 84.1 486.1 82.7 481.5 80.6 479.5 78.1 474.7 73.8 472.2 71.3 468.1 68.2 464.0 65.7 461.5 65.5 455.3 63.0 450.5 62.0 445.4 62.0 442.3 60.6 438.1 60.3 435.0 62.4 430.5 63.7 430.9 61.0 434.0 59.5 429.9 61.0 426.8 63.4 425.1 65.7 420.6 68.2 416.4 70.3 411.3 71.7 407.1 73.0 403.4 73.4 408.2 70.7 412.3 70.3 416.4 68.2 418.5 64.7 415.4 64.9 409.2 64.9 409.2 62.0 405.1 61.0 402.4 61.0 400.9 58.7 403.0 56.4 403.4 55.4 411.3 54.8 411.3 52.7 407.1 52.7 402.2 52.7 399.9 52.3 396.8 50.4 405.1 48.6 409.2 49.2 406.1 47.5 399.3 44.8 400.5 43.6 407.1 41.7 409.4 40.7 420.4 38.4 427.8 39.5 434.0 40.3 438.1 40.7 446.4 41.3 452.6 42.2 460.9 43.4 465.0 42.4 469.1 42.4 476.4 40.9 479.5 40.3 485.7 41.3 486.7 42.8 493.9 41.7 502.2 43.4 506.3 44.8 508.4 45.9 516.7 45.7 519.8 44.6 520.8 47.5 524.9 44.4 533.2 45.5 540.4 45.5 542.5 43.4 545.6 44.4 547.7 42.4 544.6 38.6 548.7 37.2 552.8 39.3 553.9 41.7 557.0 44.4 562.1 43.8 567.3 41.7 574.5 42.0 576.0 43.8 574.5 47.5 571.4 49.2 565.6 48.6 564.2 51.0 561.1 52.7 558.0 53.7 555.9 54.8 553.9 56.2 550.8 58.3 549.5 59.7 549.3 64.5 552.2 67.0 552.8 68.2 558.0 67.6 562.1 69.2 568.3 71.3 573.9 71.9 573.9 74.4 574.1 76.5 575.6 77.9 577.6 80.0 579.7 80.0 581.1 77.5 580.7 74.4 579.7 72.7 583.8 71.3 585.5 68.2 583.8 65.1 582.2 64.1 582.8 63.0 584.2 61.0 582.8 57.5 583.0 56.8 588.0 57.2 592.1 57.9 595.2 59.1 596.2 59.9 599.3 59.9 600.2 62.0 600.4 64.1 602.8 65.3 606.6 64.5 608.6 63.0 610.7 61.2 612.8 64.1 615.2 66.5 616.9 69.2 619.4 71.3 623.1 72.7 625.6 74.4 625.2 75.0 628.3 76.9 628.7 78.5 626.2 79.8 623.1 80.2 620.0 82.0 606.8 82.3 604.9 83.9 602.4 85.1 600.0 86.6 597.3 89.1 599.3 88.2 602.4 86.0 604.5 84.9 611.1 84.9 610.1 86.8 607.0 86.8 609.7 87.8 610.1 88.9 610.7 90.3 612.1 90.9 614.8 91.6 616.9 91.6 619.0 88.9 620.4 90.9 617.9 92.4 612.8 93.8 609.7 95.7 608.4 96.3 607.2 95.5 608.0 93.8 610.7 92.4 610.1 91.6 607.6 92.6 605.5 93.4 602.8 94.4 601.0 95.1 598.9 95.9 597.9 97.1 598.1 97.8 597.3 98.6 599.3 99.2 599.3 99.8 597.3 100.2 595.2 100.6 591.1 102.1 591.1 104.0 589.2 105.4 588.0 104.4 588.8 106.4 588.4 107.5 587.1 109.3 586.3 107.5 585.9 105.0 586.1 108.9 586.9 109.7 588.0 113.3 585.9 114.5 583.0 115.7 582.8 115.9 580.7 117.2 578.9 118.4 576.6 119.9 575.8 123.4 577.6 127.1 578.7 130.6 578.5 132.7 577.8 133.9 576.6 134.1 574.9 132.3 574.1 131.0 572.9 128.5 573.1 126.3 572.5 125.9 570.4 123.8 567.7 124.6 566.9 123.8 563.8 123.4 562.1 123.4 560.1 123.4 559.0 124.0 559.7 125.7 559.2 126.1 558.0 125.9 555.9 125.7 554.3 124.8 551.8 124.6 548.1 125.4 546.0 126.7 543.1 128.8 542.7 131.2 543.1 132.5 542.1 135.4 541.9 139.9 542.9 142.6 545.4 146.3 546.6 147.4 548.9 148.4 551.8 148.0 553.9 147.6 557.0 145.1 557.2 142.6 560.1 142.0 563.2 141.6 564.2 141.6 564.6 142.4 563.4 144.3 563.2 146.1 562.1 147.8 561.7 149.8 561.5 151.9 560.5 153.1 562.1 153.6 564.6 153.3 566.3 152.9 568.3 153.1 570.4 153.3 572.1 155.0 571.6 157.1 571.4 159.1 571.0 161.2 571.0 163.5 572.5 165.3 574.1 167.0 575.6 167.8 577.0 167.6 578.9 166.6 580.7 166.2 582.8 166.8 584.0 168.0 M584.0 168.0 585.3 169.5 586.3 167.6 587.8 166.2 588.0 164.5 589.4 163.1 590.7 162.6 593.1 162.2 595.8 160.4 597.1 160.8 596.6 161.6 595.4 162.9 596.0 163.5 597.3 163.3 598.7 162.0 599.3 160.8 599.7 162.2 602.4 162.6 603.5 164.3 605.5 164.1 607.6 164.1 609.3 164.9 611.3 164.3 614.2 163.9 616.1 163.9 614.8 164.9 617.9 166.4 617.9 168.4 620.0 168.4 622.1 169.5 623.7 171.9 625.8 173.6 629.9 173.8 632.4 174.0 635.9 175.9 638.0 177.3 638.8 179.8 640.7 182.3 640.7 185.0 638.6 186.0 639.6 187.0 641.7 185.6 643.8 186.4 644.2 188.1 643.8 188.9 645.8 187.4 648.9 188.1 651.0 189.1 652.4 191.2 654.1 191.0 657.2 191.8 659.3 192.0 661.3 191.8 664.4 193.6 666.5 195.5 668.6 196.5 670.6 196.7 671.3 198.0 672.1 200.7 671.9 202.7 670.2 206.0 667.5 208.5 664.4 212.9 663.4 216.6 663.4 220.1 663.0 222.6 662.0 225.3 660.7 228.0 659.3 230.4 659.3 231.5 657.2 233.3 654.7 233.5 652.0 233.9 648.3 235.6 645.8 237.3 643.8 238.7 643.8 243.0 643.4 244.9 641.3 246.6 640.0 249.0 638.6 250.7 636.3 252.3 633.6 255.6 632.8 257.1 630.5 258.1 627.9 258.1 624.5 257.3 623.3 257.5 625.8 259.4 625.8 261.0 626.8 261.2 625.2 264.5 622.7 265.8 619.0 266.4 615.2 266.2 615.5 268.7 615.2 270.3 613.8 270.9 609.7 270.7 609.7 272.8 612.4 273.8 611.1 274.7 609.7 275.5 609.0 278.0 608.4 279.0 604.5 280.9 604.5 282.1 606.6 283.1 607.8 284.8 606.6 286.2 604.3 287.9 602.4 289.7 601.4 291.4 601.4 292.6 602.6 294.1 600.4 294.5 597.7 295.1 597.5 295.9 596.6 297.4 594.2 296.6 592.1 295.5 590.0 294.1 589.0 291.4 588.4 289.3 588.0 286.2 590.0 284.2 588.0 282.5 590.0 280.0 591.5 278.0 591.1 275.7 590.7 272.8 591.5 270.7 592.3 268.5 592.1 265.6 591.9 262.9 592.9 261.8 593.8 259.4 595.2 257.3 596.0 254.2 596.2 252.1 596.0 250.1 596.6 247.8 596.2 244.9 597.7 241.8 597.9 238.7 598.5 234.8 598.9 231.5 599.1 227.7 598.7 224.2 596.6 222.4 594.2 220.5 591.1 219.1 588.6 217.8 586.3 214.7 585.9 212.9 584.7 210.8 583.4 208.7 581.6 204.8 580.7 202.7 579.1 200.9 577.4 199.0 576.4 198.4 576.2 196.5 576.0 195.7 576.8 194.3 577.8 193.2 578.7 192.2 578.9 191.0 578.0 191.6 576.6 190.5 576.8 188.1 577.6 186.8 578.5 185.8 579.3 183.9 580.9 183.3 581.1 182.3 582.0 180.8 583.4 180.6 584.7 177.9 583.8 176.7 584.2 174.6 583.8 174.6 584.0 172.6 583.0 171.1 M602.2 294.7 602.8 295.9 604.5 297.6 606.6 298.6 609.3 298.8 606.6 299.7 604.9 301.5 603.5 300.7 600.4 300.3 597.3 299.3 595.2 298.2 597.3 297.6 598.7 296.6 599.3 296.6 600.8 295.1Z M617.9 293.1 620.0 292.0 624.1 292.2 624.8 292.8 623.1 293.9 619.0 294.1Z M665.5 297.6 668.6 298.0 670.0 299.0 668.6 299.3 666.1 298.2Z M653.1 62.4 648.9 60.3 644.8 59.9 640.7 57.9 637.2 53.3 634.5 49.6 633.0 47.5 638.6 43.4 632.4 42.4 631.4 40.3 636.5 39.3 628.3 35.5 626.2 32.0 620.0 29.3 613.8 28.5 606.6 28.9 601.4 27.9 597.3 26.2 593.1 24.4 603.5 22.7 609.7 20.7 605.5 19.6 615.9 18.2 620.0 16.5 636.5 15.9 648.9 14.9 661.3 13.6 675.8 13.2 688.2 13.8 698.5 15.5 702.7 16.5 692.3 17.6 708.9 17.6 719.2 17.6 710.9 19.6 706.8 20.7 708.9 22.7 704.7 24.8 706.8 26.9 702.7 28.9 704.7 31.0 702.7 32.4 699.6 34.1 698.5 36.6 698.5 40.3 694.4 40.9 697.5 41.3 692.3 43.4 688.2 44.4 682.0 45.3 677.9 46.5 673.7 48.6 669.6 49.8 666.5 50.4 661.3 51.7 660.3 53.7 657.2 56.2 656.2 58.9 655.1 61.0Z M568.5 140.7 570.4 139.1 573.7 138.3 577.6 138.5 580.7 139.7 583.8 141.2 587.6 142.6 590.7 144.3 589.0 144.9 587.3 144.7 583.4 145.1 584.5 143.4 581.8 142.6 579.7 141.2 577.6 140.3 574.5 139.7 571.4 140.1Z M590.2 148.2 593.5 148.0 594.4 147.6 593.5 146.7 592.3 145.3 595.2 144.9 598.3 145.1 599.5 145.7 601.0 146.1 602.6 147.6 602.0 148.4 599.3 148.0 597.3 148.4 596.2 149.4 595.2 148.4 592.1 148.4Z M582.2 148.0 584.9 147.8 586.5 148.8 584.9 149.2 582.4 148.6Z M605.1 147.8 608.2 148.0 608.0 148.8 605.1 148.8Z M621.4 87.6 623.1 85.8 624.1 83.7 625.2 81.6 626.6 80.0 629.3 79.4 628.3 81.6 626.6 83.1 629.3 82.9 632.4 83.7 634.5 85.4 633.4 87.2 635.1 87.6 634.3 89.5 632.4 89.3 632.0 87.8 629.3 89.1 628.3 87.6 625.2 87.6Z M488.8 86.0 485.7 85.4 482.6 83.7 479.5 81.6 478.8 81.0 481.5 81.0 485.0 82.5 487.7 84.3Z M472.9 78.1 470.6 76.5 469.1 74.2 471.6 74.4 471.8 76.5Z M424.7 67.8 426.8 68.0 429.5 67.0 428.8 65.7 426.8 66.1Z M609.7 58.3 607.6 57.2 602.4 54.4 605.5 56.2 599.3 56.4 595.2 54.6 585.9 53.3 582.8 52.5 584.9 51.0 591.1 50.6 592.1 48.6 593.1 46.5 594.2 44.4 589.0 43.4 584.9 41.7 580.7 41.3 576.6 41.7 570.4 41.3 566.3 40.3 562.1 39.3 559.0 36.2 560.1 33.7 566.3 33.5 568.3 35.1 574.5 33.7 577.6 33.9 584.9 35.8 589.0 36.6 595.2 38.2 602.4 40.7 605.5 42.8 603.5 44.2 611.7 46.5 616.9 48.2 613.8 50.4 608.6 49.6 604.5 48.8 607.6 52.1 611.7 54.1 608.6 56.2Z M498.1 38.2 501.2 40.3 506.3 42.8 510.5 44.4 518.7 44.0 527.0 43.6 533.2 43.0 535.3 41.3 531.1 39.3 527.0 36.2 520.8 34.7 514.6 35.8 508.4 34.7 501.2 35.1 498.1 37.2Z M484.6 37.2 488.8 38.9 495.0 38.2 498.1 36.2 504.3 34.1 504.3 32.7 492.9 32.0 486.7 32.4 485.7 35.1Z M502.2 30.6 510.5 32.0 518.7 31.4 524.9 31.0 524.9 28.9 518.7 27.5 510.5 28.3 504.3 28.1 501.2 29.3Z M533.2 37.2 539.4 38.2 544.6 36.2 543.5 34.1 539.4 33.1 534.2 34.1 533.2 35.5Z M546.6 36.8 551.8 37.2 557.0 35.1 555.9 33.1 549.7 32.7 546.0 34.1Z M545.6 30.0 553.9 31.4 562.1 31.8 570.4 32.0 578.7 31.6 578.7 30.0 570.4 29.3 562.1 28.1 553.9 27.3 545.6 27.9Z M558.0 27.9 568.3 28.3 578.7 28.5 582.8 26.9 584.9 24.8 589.0 22.7 595.2 21.3 603.5 19.0 611.7 17.6 615.9 15.5 603.5 14.5 586.9 14.3 574.5 14.9 562.1 15.9 553.9 17.6 562.1 19.6 566.3 21.7 562.1 23.8 562.1 25.8 558.0 26.9Z M547.7 23.8 553.9 24.4 562.1 23.8 562.1 21.7 558.0 19.6 551.8 18.2 545.6 20.0 547.7 22.1Z M535.3 30.6 541.5 31.0 542.5 28.9 539.4 27.5 534.2 28.5Z M489.8 28.9 498.1 29.3 504.3 26.9 500.1 25.8 493.9 26.9Z M564.2 51.7 568.3 50.0 571.4 50.0 575.6 52.7 578.0 54.4 574.5 54.6 571.4 53.7 568.3 55.2 564.2 54.6 566.3 52.7Z M538.4 43.0 541.5 41.7 545.6 42.8 545.6 44.2 541.5 44.4Z M421.6 145.7 423.5 144.3 424.1 145.7 422.4 146.9Z M420.2 142.8 421.6 142.8 421.2 143.4Z M417.1 141.4 418.1 141.6 417.5 142.0Z M414.0 140.1 414.8 140.3 414.4 140.7Z M-372.0 360.6 -353.4 359.2 -334.8 362.1 -305.9 362.5 -295.5 361.5 -316.2 358.6 -316.2 355.5 -324.5 353.8 -303.8 352.0 -305.9 349.7 -319.3 349.1 -326.5 346.8 -326.5 345.3 -300.7 341.6 -280.0 339.6 -262.5 338.1 -248.0 338.5 -236.4 338.7 -221.8 341.2 -207.3 341.2 -212.9 336.7 -196.3 337.3 -184.8 336.7 -171.5 337.5 -158.3 338.1 -148.8 337.7 -139.5 335.8 -138.5 330.7 -140.1 329.4 -138.1 324.3 -127.7 319.9 -117.6 317.0 -129.2 322.0 -135.2 326.3 -127.7 332.3 -124.8 337.3 -132.3 341.0 -148.2 343.3 -159.1 345.3 -161.2 349.1 -152.5 352.6 -135.2 354.8 -120.5 358.2 -105.8 355.7 -88.5 355.7 -72.3 353.8 -59.3 352.0 -62.2 349.7 -73.8 349.1 -70.9 346.8 -50.4 342.4 -33.1 339.6 -31.4 337.3 -21.3 333.8 -10.3 332.9 0.0 330.3 10.3 331.1 20.7 330.7 31.0 330.0 41.3 330.9 51.7 330.9 62.0 329.0 68.2 328.0 78.5 330.3 82.7 328.6 93.0 325.9 103.3 323.4 113.7 322.4 117.8 324.1 124.0 325.1 134.3 325.9 140.5 326.1 144.7 327.6 148.8 329.6 152.9 330.3 157.1 329.2 161.2 327.2 165.3 326.1 175.7 324.1 186.0 323.8 196.3 323.4 206.7 322.0 217.0 323.0 227.3 322.4 237.7 323.4 248.0 324.1 258.3 323.0 268.7 322.4 279.0 322.4 289.3 323.8 299.7 324.5 310.0 327.2 320.3 328.6 330.7 330.7 341.0 332.1 352.4 333.8 347.2 337.9 341.0 341.0 337.9 345.1 341.0 348.2 332.7 352.4 336.9 356.5 355.5 359.2 372.0 360.6 M372.0 360.6 390.6 359.2 409.2 362.1 438.1 362.5 448.5 361.5 427.8 358.6 427.8 355.5 419.5 353.8 440.2 352.0 438.1 349.7 424.7 349.1 417.5 346.8 417.5 345.3 443.3 341.6 464.0 339.6 481.5 338.1 496.0 338.5 507.6 338.7 522.2 341.2 536.7 341.2 531.1 336.7 547.7 337.3 559.2 336.7 572.5 337.5 585.7 338.1 595.2 337.7 604.5 335.8 605.5 330.7 603.9 329.4 605.9 324.3 616.3 319.9 626.4 317.0 614.8 322.0 608.8 326.3 616.3 332.3 619.2 337.3 611.7 341.0 595.8 343.3 584.9 345.3 582.8 349.1 591.5 352.6 608.8 354.8 623.5 358.2 638.2 355.7 655.5 355.7 671.7 353.8 684.7 352.0 681.8 349.7 670.2 349.1 673.1 346.8 693.6 342.4 710.9 339.6 712.6 337.3 722.7 333.8 733.7 332.9 744.0 330.3 754.3 331.1 764.7 330.7 775.0 330.0 785.3 330.9 795.7 330.9 806.0 329.0 812.2 328.0 822.5 330.3 826.7 328.6 837.0 325.9 847.3 323.4 857.7 322.4 861.8 324.1 868.0 325.1 878.3 325.9 884.5 326.1 888.7 327.6 892.8 329.6 896.9 330.3 901.1 329.2 905.2 327.2 909.3 326.1 919.7 324.1 930.0 323.8 940.3 323.4 950.7 322.0 961.0 323.0 971.3 322.4 981.7 323.4 992.0 324.1 1002.3 323.0 1012.7 322.4 1023.0 322.4 1033.3 323.8 1043.7 324.5 1054.0 327.2 1064.3 328.6 1074.7 330.7 1085.0 332.1 1096.4 333.8 1091.2 337.9 1085.0 341.0 1081.9 345.1 1085.0 348.2 1076.7 352.4 1080.9 356.5 1099.5 359.2 1116.0 360.6 M589.0 333.8 593.1 328.6 600.4 329.2 603.5 332.7 601.4 336.5 593.1 336.9Z M633.0 350.3 644.8 347.0 655.1 348.2 654.1 352.0 642.7 353.6 634.5 352.4Z M405.1 349.3 411.3 347.8 414.4 349.7 409.2 350.5Z M99.2 90.9 103.3 89.3 106.4 89.1 109.5 89.9 109.5 92.4 106.4 93.0 105.4 94.0 105.8 95.9 108.5 98.2 109.5 100.2 109.1 102.3 109.5 103.3 111.2 105.4 111.2 108.5 109.5 109.7 105.4 110.2 103.3 108.9 101.3 108.3 100.9 106.4 101.9 104.8 104.0 102.7 102.3 101.3 100.2 99.2 98.2 97.1 97.8 95.1 96.7 93.4 98.2 92.0Z" fill="none" stroke="#000" stroke-width="0.80" stroke-linejoin="round"/></g></g>
<g stroke="#000" stroke-width="2.08"><rect x="256.00" y="1094.20" width="744.00" height="372.00" fill="none" stroke="#000" stroke-width="1.9"/><line x1="256.00" y1="1466.20" x2="256.00" y2="1473.20"/><line x1="256.00" y1="1094.20" x2="249.00" y2="1094.20"/><line x1="380.00" y1="1466.20" x2="380.00" y2="1473.20"/><line x1="256.00" y1="1156.20" x2="249.00" y2="1156.20"/><line x1="504.00" y1="1466.20" x2="504.00" y2="1473.20"/><line x1="256.00" y1="1218.20" x2="249.00" y2="1218.20"/><line x1="628.00" y1="1466.20" x2="628.00" y2="1473.20"/><line x1="256.00" y1="1280.20" x2="249.00" y2="1280.20"/><line x1="752.00" y1="1466.20" x2="752.00" y2="1473.20"/><line x1="256.00" y1="1342.20" x2="249.00" y2="1342.20"/><line x1="876.00" y1="1466.20" x2="876.00" y2="1473.20"/><line x1="256.00" y1="1404.20" x2="249.00" y2="1404.20"/><line x1="1000.00" y1="1466.20" x2="1000.00" y2="1473.20"/><line x1="256.00" y1="1466.20" x2="249.00" y2="1466.20"/></g>
<text transform="translate(241.33 1492.95) scale(1.0135 1)" font-size="16.97" fill="#000">0°E</text><text transform="translate(360.10 1492.95) scale(1.0457 1)" font-size="16.97" fill="#000">60°E</text><text transform="translate(479.62 1492.95) scale(1.0701 1)" font-size="16.97" fill="#000">120°E</text><text transform="translate(609.62 1492.95) scale(1.0676 1)" font-size="16.97" fill="#000">180°</text><text transform="translate(724.62 1492.95) scale(1.0652 1)" font-size="16.97" fill="#000">120°W</text><text transform="translate(853.09 1492.95) scale(1.0552 1)" font-size="16.97" fill="#000">60°W</text><text transform="translate(983.31 1492.95) scale(1.0471 1)" font-size="16.97" fill="#000">0°W</text><text transform="translate(199.13 1100.15) scale(1.0915 1)" font-size="16.97" fill="#000">90°N</text><text transform="translate(199.07 1162.15) scale(1.0795 1)" font-size="16.97" fill="#000">60°N</text><text transform="translate(199.31 1224.15) scale(1.0730 1)" font-size="16.97" fill="#000">30°N</text><text transform="translate(222.32 1286.15) scale(1.0317 1)" font-size="16.97" fill="#000">0°</text><text transform="translate(201.33 1348.15) scale(1.0408 1)" font-size="16.97" fill="#000">30°S</text><text transform="translate(201.10 1410.15) scale(1.0471 1)" font-size="16.97" fill="#000">60°S</text><text transform="translate(201.16 1472.15) scale(1.0593 1)" font-size="16.97" fill="#000">90°S</text>
<text transform="translate(468.21 94.60) scale(1.0495 1)" font-size="38.17" fill="#000">LHFLX ANN global</text>
<text transform="translate(255.50 141.70) scale(1.0873 1)" font-size="20.15" fill="#000">MCSPv1 ne120 (2011-2015)</text>
<text transform="translate(920.89 141.00) scale(1.1133 1)" font-size="20.15" fill="#000">kg/m2/s</text>
<text transform="translate(255.50 610.90) scale(1.0913 1)" font-size="20.15" fill="#000">ERA-Interim Reanalysis (1979-2016)</text>
<text transform="translate(936.41 610.90) scale(1.0703 1)" font-size="20.15" fill="#000">W m-2</text>
<text transform="translate(506.28 1080.60) scale(1.1109 1)" font-size="24.39" fill="#000">Model - Observation</text>
<clipPath id="cbc0"><polygon points="1061.60,208.94 1082.35,195.50 1103.10,208.94 1103.10,477.76 1082.35,491.20 1061.60,477.76"/></clipPath><g clip-path="url(#cbc0)" shape-rendering="crispEdges"><rect x="1060.60" y="193.50" width="43.50" height="35.24" fill="#FF2A00"/><rect x="1060.60" y="228.14" width="43.50" height="19.80" fill="#FF5500"/><rect x="1060.60" y="247.34" width="43.50" height="19.80" fill="#FF7F00"/><rect x="1060.60" y="266.54" width="43.50" height="19.80" fill="#FF9910"/><rect x="1060.60" y="285.75" width="43.50" height="19.80" fill="#FCB31C"/><rect x="1060.60" y="304.95" width="43.50" height="19.80" fill="#F0C829"/><rect x="1060.60" y="324.15" width="43.50" height="19.80" fill="#C8BE1E"/><rect x="1060.60" y="343.35" width="43.50" height="19.80" fill="#A0B91C"/><rect x="1060.60" y="362.55" width="43.50" height="19.80" fill="#6EAD10"/><rect x="1060.60" y="381.75" width="43.50" height="19.80" fill="#3C9F23"/><rect x="1060.60" y="400.95" width="43.50" height="19.80" fill="#3C8C5A"/><rect x="1060.60" y="420.16" width="43.50" height="19.80" fill="#1E7382"/><rect x="1060.60" y="439.36" width="43.50" height="19.80" fill="#055FBE"/><rect x="1060.60" y="458.56" width="43.50" height="35.24" fill="#0032FF"/></g><polygon points="1061.60,208.94 1082.35,195.50 1103.10,208.94 1103.10,477.76 1082.35,491.20 1061.60,477.76" fill="none" stroke="#000" stroke-width="1.9" stroke-linejoin="miter"/><text transform="translate(1112.50 234.99) scale(1.1017 1)" font-size="19.09" fill="#000">300.0</text><text transform="translate(1112.24 254.19) scale(1.1073 1)" font-size="19.09" fill="#000">270.0</text><text transform="translate(1112.24 273.39) scale(1.1073 1)" font-size="19.09" fill="#000">240.0</text><text transform="translate(1112.24 292.60) scale(1.1073 1)" font-size="19.09" fill="#000">210.0</text><text transform="translate(1112.70 311.80) scale(1.0973 1)" font-size="19.09" fill="#000">180.0</text><text transform="translate(1112.70 331.00) scale(1.0973 1)" font-size="19.09" fill="#000">150.0</text><text transform="translate(1112.70 350.20) scale(1.0973 1)" font-size="19.09" fill="#000">120.0</text><text transform="translate(1124.11 369.40) scale(1.1039 1)" font-size="19.09" fill="#000">90.0</text><text transform="translate(1124.03 388.60) scale(1.1063 1)" font-size="19.09" fill="#000">60.0</text><text transform="translate(1124.30 407.80) scale(1.0987 1)" font-size="19.09" fill="#000">30.0</text><text transform="translate(1124.51 427.01) scale(1.0930 1)" font-size="19.09" fill="#000">15.0</text><text transform="translate(1135.65 446.21) scale(1.1109 1)" font-size="19.09" fill="#000">5.0</text><text transform="translate(1135.67 465.41) scale(1.1101 1)" font-size="19.09" fill="#000">0.0</text>
<clipPath id="cbc1"><polygon points="1061.60,678.99 1082.35,665.55 1103.10,678.99 1103.10,947.81 1082.35,961.25 1061.60,947.81"/></clipPath><g clip-path="url(#cbc1)" shape-rendering="crispEdges"><rect x="1060.60" y="663.55" width="43.50" height="35.24" fill="#FF2A00"/><rect x="1060.60" y="698.19" width="43.50" height="19.80" fill="#FF5500"/><rect x="1060.60" y="717.39" width="43.50" height="19.80" fill="#FF7F00"/><rect x="1060.60" y="736.59" width="43.50" height="19.80" fill="#FF9910"/><rect x="1060.60" y="755.80" width="43.50" height="19.80" fill="#FCB31C"/><rect x="1060.60" y="775.00" width="43.50" height="19.80" fill="#F0C829"/><rect x="1060.60" y="794.20" width="43.50" height="19.80" fill="#C8BE1E"/><rect x="1060.60" y="813.40" width="43.50" height="19.80" fill="#A0B91C"/><rect x="1060.60" y="832.60" width="43.50" height="19.80" fill="#6EAD10"/><rect x="1060.60" y="851.80" width="43.50" height="19.80" fill="#3C9F23"/><rect x="1060.60" y="871.00" width="43.50" height="19.80" fill="#3C8C5A"/><rect x="1060.60" y="890.21" width="43.50" height="19.80" fill="#1E7382"/><rect x="1060.60" y="909.41" width="43.50" height="19.80" fill="#055FBE"/><rect x="1060.60" y="928.61" width="43.50" height="35.24" fill="#0032FF"/></g><polygon points="1061.60,678.99 1082.35,665.55 1103.10,678.99 1103.10,947.81 1082.35,961.25 1061.60,947.81" fill="none" stroke="#000" stroke-width="1.9" stroke-linejoin="miter"/><text transform="translate(1112.50 705.04) scale(1.1017 1)" font-size="19.09" fill="#000">300.0</text><text transform="translate(1112.24 724.24) scale(1.1073 1)" font-size="19.09" fill="#000">270.0</text><text transform="translate(1112.24 743.44) scale(1.1073 1)" font-size="19.09" fill="#000">240.0</text><text transform="translate(1112.24 762.65) scale(1.1073 1)" font-size="19.09" fill="#000">210.0</text><text transform="translate(1112.70 781.85) scale(1.0973 1)" font-size="19.09" fill="#000">180.0</text><text transform="translate(1112.70 801.05) scale(1.0973 1)" font-size="19.09" fill="#000">150.0</text><text transform="translate(1112.70 820.25) scale(1.0973 1)" font-size="19.09" fill="#000">120.0</text><text transform="translate(1124.11 839.45) scale(1.1039 1)" font-size="19.09" fill="#000">90.0</text><text transform="translate(1124.03 858.65) scale(1.1063 1)" font-size="19.09" fill="#000">60.0</text><text transform="translate(1124.30 877.85) scale(1.0987 1)" font-size="19.09" fill="#000">30.0</text><text transform="translate(1124.51 897.06) scale(1.0930 1)" font-size="19.09" fill="#000">15.0</text><text transform="translate(1135.65 916.26) scale(1.1109 1)" font-size="19.09" fill="#000">5.0</text><text transform="translate(1135.67 935.46) scale(1.1101 1)" font-size="19.09" fill="#000">0.0</text>
<clipPath id="cbc2"><polygon points="1061.60,1149.09 1082.35,1135.65 1103.10,1149.09 1103.10,1417.91 1082.35,1431.35 1061.60,1417.91"/></clipPath><g clip-path="url(#cbc2)" shape-rendering="crispEdges"><rect x="1060.60" y="1133.65" width="43.50" height="31.85" fill="#FF2A00"/><rect x="1060.60" y="1164.90" width="43.50" height="16.41" fill="#FF4020"/><rect x="1060.60" y="1180.72" width="43.50" height="16.41" fill="#FF5A3C"/><rect x="1060.60" y="1196.53" width="43.50" height="16.41" fill="#FF7860"/><rect x="1060.60" y="1212.34" width="43.50" height="16.41" fill="#FF9080"/><rect x="1060.60" y="1228.16" width="43.50" height="16.41" fill="#FFAAA0"/><rect x="1060.60" y="1243.97" width="43.50" height="16.41" fill="#FFC8C2"/><rect x="1060.60" y="1259.78" width="43.50" height="16.41" fill="#FFE4E0"/><rect x="1060.60" y="1275.59" width="43.50" height="16.41" fill="#FDFDFD"/><rect x="1060.60" y="1291.41" width="43.50" height="16.41" fill="#DCE2FC"/><rect x="1060.60" y="1307.22" width="43.50" height="16.41" fill="#BCC8FA"/><rect x="1060.60" y="1323.03" width="43.50" height="16.41" fill="#9DAEF8"/><rect x="1060.60" y="1338.84" width="43.50" height="16.41" fill="#7E94F6"/><rect x="1060.60" y="1354.66" width="43.50" height="16.41" fill="#5F7BF5"/><rect x="1060.60" y="1370.47" width="43.50" height="16.41" fill="#4062F5"/><rect x="1060.60" y="1386.28" width="43.50" height="16.41" fill="#2049F8"/><rect x="1060.60" y="1402.10" width="43.50" height="31.85" fill="#0030FF"/></g><polygon points="1061.60,1149.09 1082.35,1135.65 1103.10,1149.09 1103.10,1417.91 1082.35,1431.35 1061.60,1417.91" fill="none" stroke="#000" stroke-width="1.9" stroke-linejoin="miter"/><text transform="translate(1112.70 1171.75) scale(1.0973 1)" font-size="19.09" fill="#000">150.0</text><text transform="translate(1112.70 1187.57) scale(1.0973 1)" font-size="19.09" fill="#000">120.0</text><text transform="translate(1124.11 1203.38) scale(1.1039 1)" font-size="19.09" fill="#000">90.0</text><text transform="translate(1124.03 1219.19) scale(1.1063 1)" font-size="19.09" fill="#000">60.0</text><text transform="translate(1124.30 1235.01) scale(1.0987 1)" font-size="19.09" fill="#000">30.0</text><text transform="translate(1124.04 1250.82) scale(1.1060 1)" font-size="19.09" fill="#000">20.0</text><text transform="translate(1124.51 1266.63) scale(1.0930 1)" font-size="19.09" fill="#000">10.0</text><text transform="translate(1135.65 1282.44) scale(1.1109 1)" font-size="19.09" fill="#000">5.0</text><text transform="translate(1129.38 1298.26) scale(1.0864 1)" font-size="19.09" fill="#000">-5.0</text><text transform="translate(1117.37 1314.07) scale(1.0975 1)" font-size="19.09" fill="#000">-10.0</text><text transform="translate(1117.37 1329.88) scale(1.0975 1)" font-size="19.09" fill="#000">-20.0</text><text transform="translate(1117.37 1345.69) scale(1.0975 1)" font-size="19.09" fill="#000">-30.0</text><text transform="translate(1117.37 1361.51) scale(1.0975 1)" font-size="19.09" fill="#000">-60.0</text><text transform="translate(1117.37 1377.32) scale(1.0975 1)" font-size="19.09" fill="#000">-90.0</text><text transform="translate(1106.07 1393.13) scale(1.0908 1)" font-size="19.09" fill="#000">-120.0</text><text transform="translate(1106.07 1408.95) scale(1.0908 1)" font-size="19.09" fill="#000">-150.0</text>
<text transform="translate(1061.86 135.00) scale(1.0528 1)" font-size="20.15" fill="#000">Max</text><text transform="translate(1061.86 157.00) scale(1.0541 1)" font-size="20.15" fill="#000">Mean</text><text transform="translate(1061.89 179.00) scale(1.0372 1)" font-size="20.15" fill="#000">Min</text><text transform="translate(1120.76 135.00) scale(1.0952 1)" font-size="20.15" fill="#000">309.09</text><text transform="translate(1132.84 157.00) scale(1.0953 1)" font-size="20.15" fill="#000">85.70</text><text transform="translate(1138.33 179.00) scale(1.0852 1)" font-size="20.15" fill="#000">-1.66</text>
<text transform="translate(1061.86 605.05) scale(1.0528 1)" font-size="20.15" fill="#000">Max</text><text transform="translate(1061.86 627.05) scale(1.0541 1)" font-size="20.15" fill="#000">Mean</text><text transform="translate(1061.89 649.05) scale(1.0372 1)" font-size="20.15" fill="#000">Min</text><text transform="translate(1120.49 605.05) scale(1.0977 1)" font-size="20.15" fill="#000">217.05</text><text transform="translate(1132.84 627.05) scale(1.1004 1)" font-size="20.15" fill="#000">83.17</text><text transform="translate(1138.34 649.05) scale(1.0780 1)" font-size="20.15" fill="#000">-3.94</text>
<text transform="translate(1061.86 1075.15) scale(1.0528 1)" font-size="20.15" fill="#000">Max</text><text transform="translate(1061.86 1097.15) scale(1.0541 1)" font-size="20.15" fill="#000">Mean</text><text transform="translate(1061.89 1119.15) scale(1.0372 1)" font-size="20.15" fill="#000">Min</text><text transform="translate(1120.31 1075.15) scale(1.1032 1)" font-size="20.15" fill="#000">133.91</text><text transform="translate(1145.19 1097.15) scale(1.0999 1)" font-size="20.15" fill="#000">2.52</text><text transform="translate(1125.31 1119.15) scale(1.1004 1)" font-size="20.15" fill="#000">-57.63</text><text transform="translate(1062.47 1461.50) scale(0.9248 1)" font-size="20.15" fill="#000">RMSE</text><text transform="translate(1062.24 1483.50) scale(0.9379 1)" font-size="20.15" fill="#000">CORR</text><text transform="translate(1133.85 1461.50) scale(1.0772 1)" font-size="20.15" fill="#000">13.16</text><text transform="translate(1146.15 1483.50) scale(1.0746 1)" font-size="20.15" fill="#000">0.97</text>
</svg>
</body></html>
